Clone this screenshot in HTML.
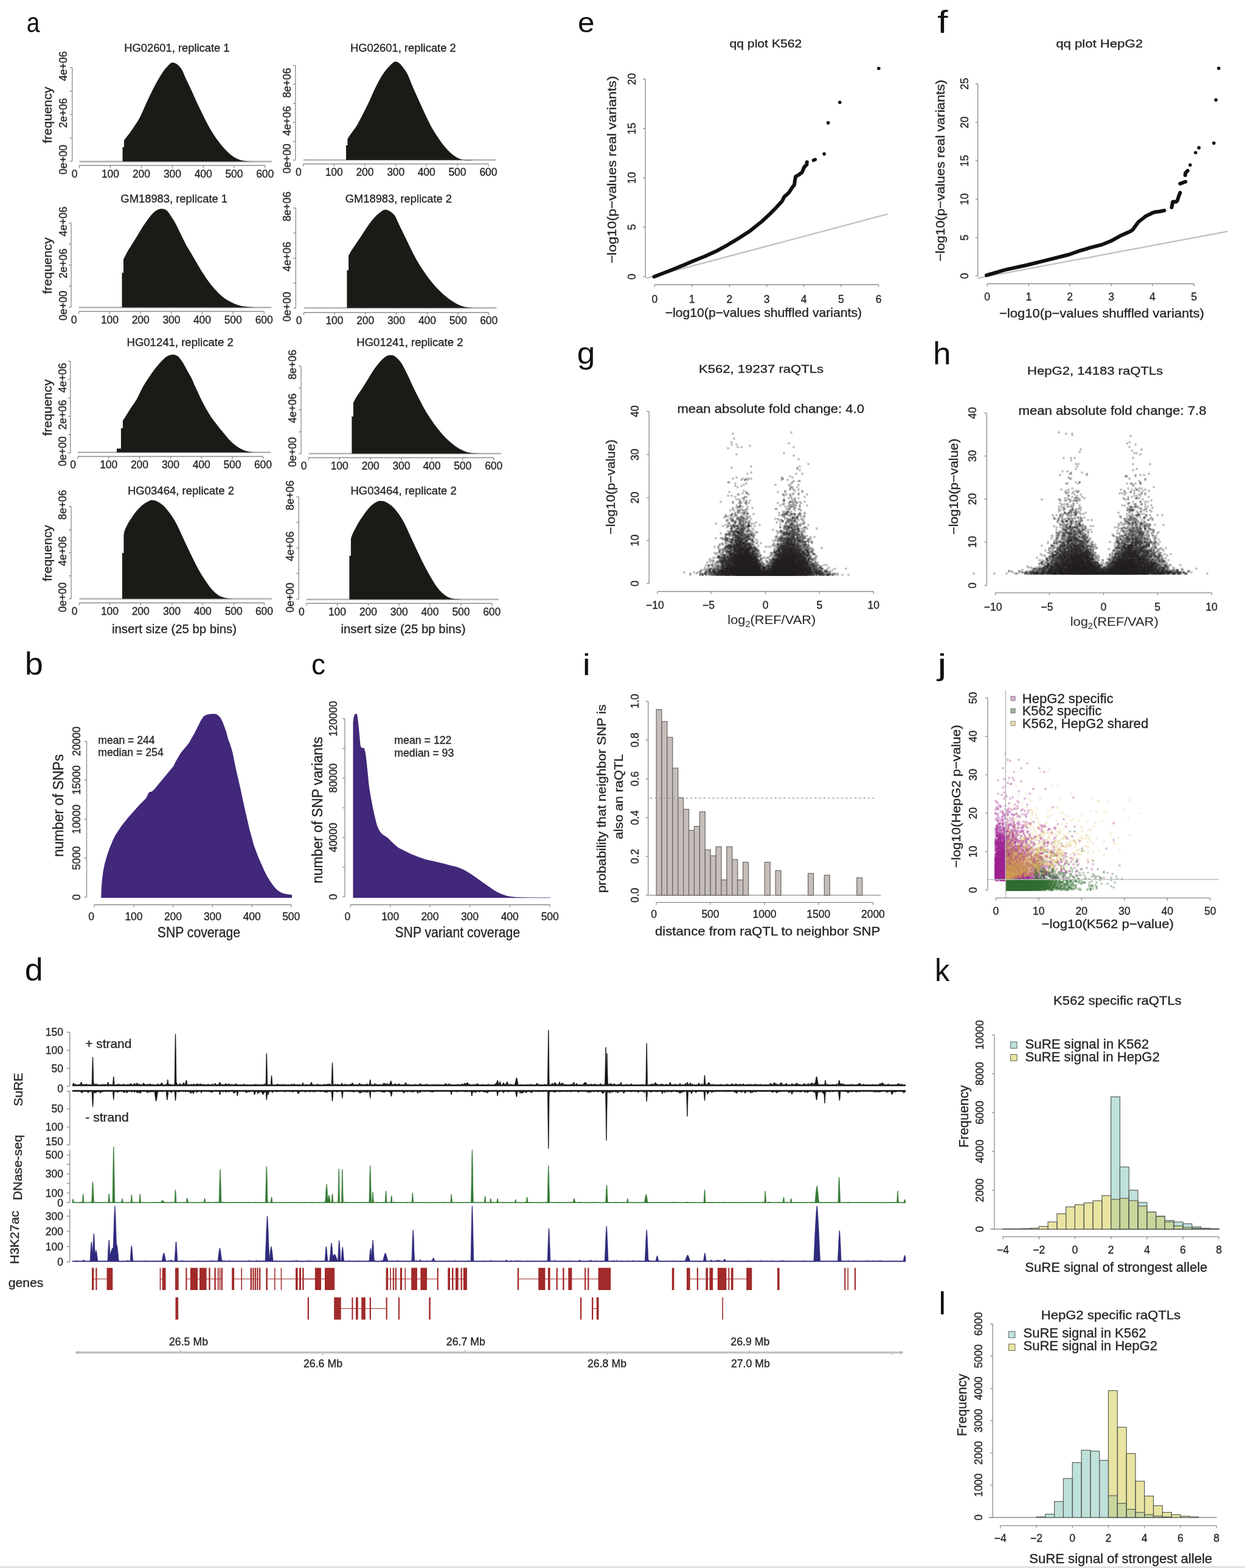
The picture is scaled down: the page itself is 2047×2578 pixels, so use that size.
<!DOCTYPE html>
<html><head><meta charset="utf-8"><title>Figure</title>
<style>html,body{margin:0;padding:0;background:#fff;overflow:hidden}svg{display:block}</style>
</head><body>
<svg xmlns="http://www.w3.org/2000/svg" width="2047" height="2578" viewBox="0 0 2047 2578" font-family="'Liberation Sans', Arial, sans-serif">
<style>text{stroke-width:0.35px}</style>
<rect width="2047" height="2578" fill="#fff"/>
<line x1="130.5" y1="265.6" x2="447" y2="265.6" stroke="#b4b4b4" stroke-width="2.6"/>
<path d="M201.5 265.6 L201.5 242 L203.9 242 L203.9 231C204.9 229.68 207.25 226.73 209.9 223.1C212.55 219.47 216.48 214.17 219.8 209.2C223.12 204.23 226.48 199.58 229.8 193.3C233.12 187.02 236.4 178.62 239.7 171.5C243 164.38 246.3 157.23 249.6 150.6C252.9 143.97 256.18 137.48 259.5 131.7C262.82 125.92 266.18 120.37 269.5 115.9C272.82 111.43 276.75 107.07 279.4 104.9C282.05 102.73 283.25 102.63 285.4 102.9C287.55 103.17 289.98 104.5 292.3 106.5C294.62 108.5 297.2 111.35 299.3 114.9C301.4 118.45 303.25 124.17 304.9 127.8C306.55 131.43 307.55 133.23 309.2 136.7C310.85 140.17 312.22 142.97 314.8 148.6C317.38 154.23 321.38 163.38 324.7 170.5C328.02 177.62 331.38 184.68 334.7 191.3C338.02 197.92 341.3 204.4 344.6 210.2C347.9 216 351.2 221.3 354.5 226.1C357.8 230.9 361.08 235.03 364.4 239C367.72 242.97 371.08 246.75 374.4 249.9C377.72 253.05 381 255.75 384.3 257.9C387.6 260.05 390.88 261.65 394.2 262.8C397.52 263.95 400.9 264.33 404.2 264.8C407.5 265.27 412.37 265.47 414 265.6Z" fill="#1c1a17"/>
<line x1="118.75" y1="111.25" x2="118.75" y2="265" stroke="#8a8a8a" stroke-width="1.3"/>
<line x1="114.75" y1="111.25" x2="118.75" y2="111.25" stroke="#8a8a8a" stroke-width="1.3"/>
<line x1="114.75" y1="150" x2="118.75" y2="150" stroke="#8a8a8a" stroke-width="1.3"/>
<line x1="114.75" y1="188.25" x2="118.75" y2="188.25" stroke="#8a8a8a" stroke-width="1.3"/>
<line x1="114.75" y1="227" x2="118.75" y2="227" stroke="#8a8a8a" stroke-width="1.3"/>
<line x1="114.75" y1="265" x2="118.75" y2="265" stroke="#8a8a8a" stroke-width="1.3"/>
<line x1="130.5" y1="272" x2="435.75" y2="272" stroke="#8a8a8a" stroke-width="1.3"/>
<line x1="130.5" y1="272" x2="130.5" y2="276" stroke="#8a8a8a" stroke-width="1.3"/>
<line x1="181.5" y1="272" x2="181.5" y2="276" stroke="#8a8a8a" stroke-width="1.3"/>
<line x1="232.5" y1="272" x2="232.5" y2="276" stroke="#8a8a8a" stroke-width="1.3"/>
<line x1="283.5" y1="272" x2="283.5" y2="276" stroke="#8a8a8a" stroke-width="1.3"/>
<line x1="334.25" y1="272" x2="334.25" y2="276" stroke="#8a8a8a" stroke-width="1.3"/>
<line x1="385" y1="272" x2="385" y2="276" stroke="#8a8a8a" stroke-width="1.3"/>
<line x1="435.75" y1="272" x2="435.75" y2="276" stroke="#8a8a8a" stroke-width="1.3"/>
<text x="109.9" y="262.5" font-size="17.5" text-anchor="middle" fill="#262626" stroke="#262626" transform="rotate(-90 109.9 262.5)">0e+00</text>
<text x="109.9" y="185.75" font-size="17.5" text-anchor="middle" fill="#262626" stroke="#262626" transform="rotate(-90 109.9 185.75)">2e+06</text>
<text x="109.9" y="108.75" font-size="17.5" text-anchor="middle" fill="#262626" stroke="#262626" transform="rotate(-90 109.9 108.75)">4e+06</text>
<text x="122.5" y="291.5" font-size="17.5" text-anchor="middle" fill="#262626" stroke="#262626">0</text>
<text x="181.5" y="291.5" font-size="17.5" text-anchor="middle" fill="#262626" stroke="#262626">100</text>
<text x="232.5" y="291.5" font-size="17.5" text-anchor="middle" fill="#262626" stroke="#262626">200</text>
<text x="283.5" y="291.5" font-size="17.5" text-anchor="middle" fill="#262626" stroke="#262626">300</text>
<text x="334.25" y="291.5" font-size="17.5" text-anchor="middle" fill="#262626" stroke="#262626">400</text>
<text x="385" y="291.5" font-size="17.5" text-anchor="middle" fill="#262626" stroke="#262626">500</text>
<text x="435.75" y="291.5" font-size="17.5" text-anchor="middle" fill="#262626" stroke="#262626">600</text>
<text x="290.9" y="84.6" font-size="17.5" text-anchor="middle" fill="#262626" stroke="#262626" textLength="173.3" lengthAdjust="spacingAndGlyphs">HG02601, replicate 1</text>
<text x="85" y="189.12" font-size="21" text-anchor="middle" fill="#262626" stroke="#262626" textLength="92.7" lengthAdjust="spacingAndGlyphs" transform="rotate(-90 85 189.12)">frequency</text>
<line x1="498.75" y1="263" x2="815" y2="263" stroke="#b4b4b4" stroke-width="2.6"/>
<path d="M569 263 L569 239 L571.4 239 L571.4 228.5C572.32 227.1 574.33 223.82 576.9 220.1C579.47 216.38 583.48 211.67 586.8 206.2C590.12 200.73 593.48 193.75 596.8 187.3C600.12 180.85 603.4 174.45 606.7 167.5C610 160.55 613.3 152.4 616.6 145.6C619.9 138.8 623.18 132.17 626.5 126.7C629.82 121.23 633.18 116.77 636.5 112.8C639.82 108.83 643.83 104.8 646.4 102.9C648.97 101 650.08 101.13 651.9 101.4C653.72 101.67 655.62 103.07 657.3 104.5C658.98 105.93 659.9 107.12 662 110C664.1 112.88 666.93 115.87 669.9 121.8C672.87 127.73 676.5 137.98 679.8 145.6C683.1 153.22 686.38 160.22 689.7 167.5C693.02 174.78 696.38 182.35 699.7 189.3C703.02 196.25 706.3 203.23 709.6 209.2C712.9 215.17 716.2 220.13 719.5 225.1C722.8 230.07 726.08 234.87 729.4 239C732.72 243.13 736.08 246.77 739.4 249.9C742.72 253.03 746 255.73 749.3 257.8C752.6 259.87 755.88 261.35 759.2 262.3C762.52 263.25 765.73 263.38 769.2 263.5C772.67 263.62 778.2 263.08 780 263Z" fill="#1c1a17"/>
<line x1="485.75" y1="107.5" x2="485.75" y2="263.25" stroke="#8a8a8a" stroke-width="1.3"/>
<line x1="481.75" y1="107.5" x2="485.75" y2="107.5" stroke="#8a8a8a" stroke-width="1.3"/>
<line x1="481.75" y1="138.75" x2="485.75" y2="138.75" stroke="#8a8a8a" stroke-width="1.3"/>
<line x1="481.75" y1="170" x2="485.75" y2="170" stroke="#8a8a8a" stroke-width="1.3"/>
<line x1="481.75" y1="201.25" x2="485.75" y2="201.25" stroke="#8a8a8a" stroke-width="1.3"/>
<line x1="481.75" y1="232.5" x2="485.75" y2="232.5" stroke="#8a8a8a" stroke-width="1.3"/>
<line x1="481.75" y1="263.25" x2="485.75" y2="263.25" stroke="#8a8a8a" stroke-width="1.3"/>
<line x1="498.75" y1="269.5" x2="803" y2="269.5" stroke="#8a8a8a" stroke-width="1.3"/>
<line x1="498.75" y1="269.5" x2="498.75" y2="273.5" stroke="#8a8a8a" stroke-width="1.3"/>
<line x1="549.25" y1="269.5" x2="549.25" y2="273.5" stroke="#8a8a8a" stroke-width="1.3"/>
<line x1="600" y1="269.5" x2="600" y2="273.5" stroke="#8a8a8a" stroke-width="1.3"/>
<line x1="650.75" y1="269.5" x2="650.75" y2="273.5" stroke="#8a8a8a" stroke-width="1.3"/>
<line x1="701.25" y1="269.5" x2="701.25" y2="273.5" stroke="#8a8a8a" stroke-width="1.3"/>
<line x1="752" y1="269.5" x2="752" y2="273.5" stroke="#8a8a8a" stroke-width="1.3"/>
<line x1="803" y1="269.5" x2="803" y2="273.5" stroke="#8a8a8a" stroke-width="1.3"/>
<text x="478.2" y="260.75" font-size="17.5" text-anchor="middle" fill="#262626" stroke="#262626" transform="rotate(-90 478.2 260.75)">0e+00</text>
<text x="478.2" y="198.75" font-size="17.5" text-anchor="middle" fill="#262626" stroke="#262626" transform="rotate(-90 478.2 198.75)">4e+06</text>
<text x="478.2" y="136.25" font-size="17.5" text-anchor="middle" fill="#262626" stroke="#262626" transform="rotate(-90 478.2 136.25)">8e+06</text>
<text x="490.75" y="289" font-size="17.5" text-anchor="middle" fill="#262626" stroke="#262626">0</text>
<text x="549.25" y="289" font-size="17.5" text-anchor="middle" fill="#262626" stroke="#262626">100</text>
<text x="600" y="289" font-size="17.5" text-anchor="middle" fill="#262626" stroke="#262626">200</text>
<text x="650.75" y="289" font-size="17.5" text-anchor="middle" fill="#262626" stroke="#262626">300</text>
<text x="701.25" y="289" font-size="17.5" text-anchor="middle" fill="#262626" stroke="#262626">400</text>
<text x="752" y="289" font-size="17.5" text-anchor="middle" fill="#262626" stroke="#262626">500</text>
<text x="803" y="289" font-size="17.5" text-anchor="middle" fill="#262626" stroke="#262626">600</text>
<text x="662.9" y="85.2" font-size="17.5" text-anchor="middle" fill="#262626" stroke="#262626" textLength="173.8" lengthAdjust="spacingAndGlyphs">HG02601, replicate 2</text>
<line x1="129.5" y1="505.5" x2="446.25" y2="505.5" stroke="#b4b4b4" stroke-width="2.6"/>
<path d="M200.5 505.5 L200.5 448.5 L203 448.5 L203 426.1C203.52 425.17 205 422.6 206.1 420.5C207.2 418.4 208.2 415.95 209.6 413.5C211 411.05 212.52 408.95 214.5 405.8C216.48 402.65 219.15 398.45 221.5 394.6C223.85 390.75 226.25 386.57 228.6 382.7C230.95 378.83 233.27 374.92 235.6 371.4C237.93 367.88 240.27 364.75 242.6 361.6C244.93 358.45 247.27 355.07 249.6 352.5C251.93 349.93 254.27 347.72 256.6 346.2C258.93 344.68 261.27 343.75 263.6 343.4C265.93 343.05 268.5 343.28 270.6 344.1C272.7 344.92 274.45 346.43 276.2 348.3C277.95 350.17 279.12 352.27 281.1 355.3C283.08 358.33 285.77 362.28 288.1 366.5C290.43 370.72 292.95 376.27 295.1 380.6C297.25 384.93 299.02 388.52 301 392.5C302.98 396.48 304.83 400.58 307 404.5C309.17 408.42 311.67 412.08 314 416C316.33 419.92 318.67 424.02 321 428C323.33 431.98 325.67 436.05 328 439.9C330.33 443.75 332.67 447.48 335 451.1C337.33 454.72 339.65 458.33 342 461.6C344.35 464.87 346.75 467.9 349.1 470.7C351.45 473.5 353.77 475.95 356.1 478.4C358.43 480.85 360.77 483.3 363.1 485.4C365.43 487.5 367.77 489.37 370.1 491C372.43 492.63 374.77 493.92 377.1 495.2C379.43 496.48 381.77 497.65 384.1 498.7C386.43 499.75 388.77 500.73 391.1 501.5C393.43 502.27 395.77 502.83 398.1 503.3C400.43 503.77 402.28 503.98 405.1 504.3C407.92 504.62 411.68 505 415 505.2C418.32 505.4 423.33 505.45 425 505.5Z" fill="#1c1a17"/>
<line x1="117" y1="366.75" x2="117" y2="505" stroke="#8a8a8a" stroke-width="1.3"/>
<line x1="113" y1="366.75" x2="117" y2="366.75" stroke="#8a8a8a" stroke-width="1.3"/>
<line x1="113" y1="401.25" x2="117" y2="401.25" stroke="#8a8a8a" stroke-width="1.3"/>
<line x1="113" y1="435.75" x2="117" y2="435.75" stroke="#8a8a8a" stroke-width="1.3"/>
<line x1="113" y1="470.5" x2="117" y2="470.5" stroke="#8a8a8a" stroke-width="1.3"/>
<line x1="113" y1="505" x2="117" y2="505" stroke="#8a8a8a" stroke-width="1.3"/>
<line x1="129.5" y1="512" x2="434.25" y2="512" stroke="#8a8a8a" stroke-width="1.3"/>
<line x1="129.5" y1="512" x2="129.5" y2="516" stroke="#8a8a8a" stroke-width="1.3"/>
<line x1="180.5" y1="512" x2="180.5" y2="516" stroke="#8a8a8a" stroke-width="1.3"/>
<line x1="231.25" y1="512" x2="231.25" y2="516" stroke="#8a8a8a" stroke-width="1.3"/>
<line x1="282" y1="512" x2="282" y2="516" stroke="#8a8a8a" stroke-width="1.3"/>
<line x1="332.5" y1="512" x2="332.5" y2="516" stroke="#8a8a8a" stroke-width="1.3"/>
<line x1="383.25" y1="512" x2="383.25" y2="516" stroke="#8a8a8a" stroke-width="1.3"/>
<line x1="434.25" y1="512" x2="434.25" y2="516" stroke="#8a8a8a" stroke-width="1.3"/>
<text x="109.9" y="502.5" font-size="17.5" text-anchor="middle" fill="#262626" stroke="#262626" transform="rotate(-90 109.9 502.5)">0e+00</text>
<text x="109.9" y="433.25" font-size="17.5" text-anchor="middle" fill="#262626" stroke="#262626" transform="rotate(-90 109.9 433.25)">2e+06</text>
<text x="109.9" y="364.25" font-size="17.5" text-anchor="middle" fill="#262626" stroke="#262626" transform="rotate(-90 109.9 364.25)">4e+06</text>
<text x="121.5" y="531.5" font-size="17.5" text-anchor="middle" fill="#262626" stroke="#262626">0</text>
<text x="180.5" y="531.5" font-size="17.5" text-anchor="middle" fill="#262626" stroke="#262626">100</text>
<text x="231.25" y="531.5" font-size="17.5" text-anchor="middle" fill="#262626" stroke="#262626">200</text>
<text x="282" y="531.5" font-size="17.5" text-anchor="middle" fill="#262626" stroke="#262626">300</text>
<text x="332.5" y="531.5" font-size="17.5" text-anchor="middle" fill="#262626" stroke="#262626">400</text>
<text x="383.25" y="531.5" font-size="17.5" text-anchor="middle" fill="#262626" stroke="#262626">500</text>
<text x="434.25" y="531.5" font-size="17.5" text-anchor="middle" fill="#262626" stroke="#262626">600</text>
<text x="286.2" y="333.2" font-size="17.5" text-anchor="middle" fill="#262626" stroke="#262626" textLength="175.7" lengthAdjust="spacingAndGlyphs">GM18983, replicate 1</text>
<text x="85" y="436.88" font-size="21" text-anchor="middle" fill="#262626" stroke="#262626" textLength="92.7" lengthAdjust="spacingAndGlyphs" transform="rotate(-90 85 436.88)">frequency</text>
<line x1="499.5" y1="506.25" x2="816.25" y2="506.25" stroke="#b4b4b4" stroke-width="2.6"/>
<path d="M570.4 506.25 L570.4 444.2 L573.1 444.2 L573.1 420.4C573.73 419.25 574.62 417.13 576.9 413.5C579.18 409.87 583.48 403.57 586.8 398.6C590.12 393.63 593.48 388.67 596.8 383.7C600.12 378.73 603.4 373.35 606.7 368.8C610 364.25 613.3 359.88 616.6 356.4C619.9 352.92 623.85 349.82 626.5 347.9C629.15 345.98 630.33 345.15 632.5 344.9C634.67 344.65 637.18 345.3 639.5 346.4C641.82 347.5 644.65 349.9 646.4 351.5C648.15 353.1 648.35 353 650 356C651.65 359 653.58 363.83 656.3 369.5C659.02 375.17 662.98 383.17 666.3 390C669.62 396.83 672.9 403.95 676.2 410.5C679.5 417.05 682.78 423.55 686.1 429.3C689.42 435.05 692.78 440.05 696.1 445C699.42 449.95 702.7 454.67 706 459C709.3 463.33 712.58 467.33 715.9 471C719.22 474.67 722.72 478 725.9 481C729.08 484 731.82 486.5 735 489C738.18 491.5 741.67 493.92 745 496C748.33 498.08 751.67 500.05 755 501.5C758.33 502.95 761.67 503.95 765 504.7C768.33 505.45 771.67 505.74 775 506C778.33 506.26 783.33 506.21 785 506.25Z" fill="#1c1a17"/>
<line x1="486.25" y1="342" x2="486.25" y2="506.75" stroke="#8a8a8a" stroke-width="1.3"/>
<line x1="482.25" y1="342" x2="486.25" y2="342" stroke="#8a8a8a" stroke-width="1.3"/>
<line x1="482.25" y1="383.25" x2="486.25" y2="383.25" stroke="#8a8a8a" stroke-width="1.3"/>
<line x1="482.25" y1="424.5" x2="486.25" y2="424.5" stroke="#8a8a8a" stroke-width="1.3"/>
<line x1="482.25" y1="465.5" x2="486.25" y2="465.5" stroke="#8a8a8a" stroke-width="1.3"/>
<line x1="482.25" y1="506.75" x2="486.25" y2="506.75" stroke="#8a8a8a" stroke-width="1.3"/>
<line x1="499.5" y1="513.75" x2="803.75" y2="513.75" stroke="#8a8a8a" stroke-width="1.3"/>
<line x1="499.5" y1="513.75" x2="499.5" y2="517.75" stroke="#8a8a8a" stroke-width="1.3"/>
<line x1="550" y1="513.75" x2="550" y2="517.75" stroke="#8a8a8a" stroke-width="1.3"/>
<line x1="600.75" y1="513.75" x2="600.75" y2="517.75" stroke="#8a8a8a" stroke-width="1.3"/>
<line x1="651.5" y1="513.75" x2="651.5" y2="517.75" stroke="#8a8a8a" stroke-width="1.3"/>
<line x1="702.5" y1="513.75" x2="702.5" y2="517.75" stroke="#8a8a8a" stroke-width="1.3"/>
<line x1="753.25" y1="513.75" x2="753.25" y2="517.75" stroke="#8a8a8a" stroke-width="1.3"/>
<line x1="803.75" y1="513.75" x2="803.75" y2="517.75" stroke="#8a8a8a" stroke-width="1.3"/>
<text x="478.2" y="504.25" font-size="17.5" text-anchor="middle" fill="#262626" stroke="#262626" transform="rotate(-90 478.2 504.25)">0e+00</text>
<text x="478.2" y="422" font-size="17.5" text-anchor="middle" fill="#262626" stroke="#262626" transform="rotate(-90 478.2 422)">4e+06</text>
<text x="478.2" y="339.5" font-size="17.5" text-anchor="middle" fill="#262626" stroke="#262626" transform="rotate(-90 478.2 339.5)">8e+06</text>
<text x="491.5" y="533.25" font-size="17.5" text-anchor="middle" fill="#262626" stroke="#262626">0</text>
<text x="550" y="533.25" font-size="17.5" text-anchor="middle" fill="#262626" stroke="#262626">100</text>
<text x="600.75" y="533.25" font-size="17.5" text-anchor="middle" fill="#262626" stroke="#262626">200</text>
<text x="651.5" y="533.25" font-size="17.5" text-anchor="middle" fill="#262626" stroke="#262626">300</text>
<text x="702.5" y="533.25" font-size="17.5" text-anchor="middle" fill="#262626" stroke="#262626">400</text>
<text x="753.25" y="533.25" font-size="17.5" text-anchor="middle" fill="#262626" stroke="#262626">500</text>
<text x="803.75" y="533.25" font-size="17.5" text-anchor="middle" fill="#262626" stroke="#262626">600</text>
<text x="655.4" y="333" font-size="17.5" text-anchor="middle" fill="#262626" stroke="#262626" textLength="175.3" lengthAdjust="spacingAndGlyphs">GM18983, replicate 2</text>
<line x1="128" y1="743.75" x2="445" y2="743.75" stroke="#b4b4b4" stroke-width="2.6"/>
<path d="M192 743.75 L192 737.5 L198.9 737.5 L198.9 704 L201.9 704 L201.9 691.2C202.4 690.53 202.75 690.52 204.9 687.2C207.05 683.88 211.5 676.43 214.8 671.3C218.1 666.17 221.38 662.18 224.7 656.4C228.02 650.62 231.38 642.55 234.7 636.6C238.02 630.65 241.3 625.67 244.6 620.7C247.9 615.73 251.2 611.1 254.5 606.8C257.8 602.5 261.08 598.38 264.4 594.9C267.72 591.42 271.08 587.9 274.4 585.9C277.72 583.9 281.33 582.97 284.3 582.9C287.27 582.83 289.72 583.65 292.2 585.5C294.68 587.35 297.1 591 299.2 594C301.3 597 303.15 600.58 304.8 603.5C306.45 606.42 307.43 608.5 309.1 611.5C310.77 614.5 313.13 618.17 314.8 621.5C316.47 624.83 317.45 627.83 319.1 631.5C320.75 635.17 323.05 639.92 324.7 643.5C326.35 647.08 327.35 649.58 329 653C330.65 656.42 332.95 660.83 334.6 664C336.25 667.17 337.25 669.08 338.9 672C340.55 674.92 342.83 678.83 344.5 681.5C346.17 684.17 347.23 685.67 348.9 688C350.57 690.33 351.92 692.15 354.5 695.5C357.08 698.85 361.1 704.02 364.4 708.1C367.7 712.18 370.98 716.37 374.3 720C377.62 723.63 380.98 727.08 384.3 729.9C387.62 732.72 390.9 735 394.2 736.9C397.5 738.8 400.78 740.23 404.1 741.3C407.42 742.37 411.45 742.89 414.1 743.3C416.75 743.71 419.02 743.67 420 743.75Z" fill="#1c1a17"/>
<line x1="115.75" y1="593.75" x2="115.75" y2="744.5" stroke="#8a8a8a" stroke-width="1.3"/>
<line x1="111.75" y1="593.75" x2="115.75" y2="593.75" stroke="#8a8a8a" stroke-width="1.3"/>
<line x1="111.75" y1="623.75" x2="115.75" y2="623.75" stroke="#8a8a8a" stroke-width="1.3"/>
<line x1="111.75" y1="654.25" x2="115.75" y2="654.25" stroke="#8a8a8a" stroke-width="1.3"/>
<line x1="111.75" y1="684.5" x2="115.75" y2="684.5" stroke="#8a8a8a" stroke-width="1.3"/>
<line x1="111.75" y1="714.5" x2="115.75" y2="714.5" stroke="#8a8a8a" stroke-width="1.3"/>
<line x1="111.75" y1="744.5" x2="115.75" y2="744.5" stroke="#8a8a8a" stroke-width="1.3"/>
<line x1="128" y1="750.5" x2="432.5" y2="750.5" stroke="#8a8a8a" stroke-width="1.3"/>
<line x1="128" y1="750.5" x2="128" y2="754.5" stroke="#8a8a8a" stroke-width="1.3"/>
<line x1="178.75" y1="750.5" x2="178.75" y2="754.5" stroke="#8a8a8a" stroke-width="1.3"/>
<line x1="229.5" y1="750.5" x2="229.5" y2="754.5" stroke="#8a8a8a" stroke-width="1.3"/>
<line x1="280.5" y1="750.5" x2="280.5" y2="754.5" stroke="#8a8a8a" stroke-width="1.3"/>
<line x1="331.25" y1="750.5" x2="331.25" y2="754.5" stroke="#8a8a8a" stroke-width="1.3"/>
<line x1="382" y1="750.5" x2="382" y2="754.5" stroke="#8a8a8a" stroke-width="1.3"/>
<line x1="432.5" y1="750.5" x2="432.5" y2="754.5" stroke="#8a8a8a" stroke-width="1.3"/>
<text x="109.3" y="742" font-size="17.5" text-anchor="middle" fill="#262626" stroke="#262626" transform="rotate(-90 109.3 742)">0e+00</text>
<text x="109.3" y="682" font-size="17.5" text-anchor="middle" fill="#262626" stroke="#262626" transform="rotate(-90 109.3 682)">2e+06</text>
<text x="109.3" y="621.25" font-size="17.5" text-anchor="middle" fill="#262626" stroke="#262626" transform="rotate(-90 109.3 621.25)">4e+06</text>
<text x="120" y="770" font-size="17.5" text-anchor="middle" fill="#262626" stroke="#262626">0</text>
<text x="178.75" y="770" font-size="17.5" text-anchor="middle" fill="#262626" stroke="#262626">100</text>
<text x="229.5" y="770" font-size="17.5" text-anchor="middle" fill="#262626" stroke="#262626">200</text>
<text x="280.5" y="770" font-size="17.5" text-anchor="middle" fill="#262626" stroke="#262626">300</text>
<text x="331.25" y="770" font-size="17.5" text-anchor="middle" fill="#262626" stroke="#262626">400</text>
<text x="382" y="770" font-size="17.5" text-anchor="middle" fill="#262626" stroke="#262626">500</text>
<text x="432.5" y="770" font-size="17.5" text-anchor="middle" fill="#262626" stroke="#262626">600</text>
<text x="296.1" y="569" font-size="17.5" text-anchor="middle" fill="#262626" stroke="#262626" textLength="175.2" lengthAdjust="spacingAndGlyphs">HG01241, replicate 2</text>
<text x="85" y="670.12" font-size="21" text-anchor="middle" fill="#262626" stroke="#262626" textLength="92.7" lengthAdjust="spacingAndGlyphs" transform="rotate(-90 85 670.12)">frequency</text>
<line x1="507.5" y1="745.75" x2="823.75" y2="745.75" stroke="#b4b4b4" stroke-width="2.6"/>
<path d="M578.4 745.75 L578.4 684.7 L580.9 684.7 L580.9 662.4C581.57 661.07 582.58 658.22 584.9 654.4C587.22 650.58 591.48 644.62 594.8 639.5C598.12 634.38 601.48 628.98 604.8 623.7C608.12 618.42 611.4 612.6 614.7 607.8C618 603 621.3 598.55 624.6 594.9C627.9 591.25 631.52 587.73 634.5 585.9C637.48 584.07 640.02 583.9 642.5 583.9C644.98 583.9 646.57 583.83 649.4 585.9C652.23 587.97 656.15 591.45 659.5 596.3C662.85 601.15 666.17 608.3 669.5 615C672.83 621.7 676.17 629.58 679.5 636.5C682.83 643.42 686.17 650.03 689.5 656.5C692.83 662.97 696.17 669.6 699.5 675.3C702.83 681 706.17 685.82 709.5 690.7C712.83 695.58 716.17 700.3 719.5 704.6C722.83 708.9 726.18 712.93 729.5 716.5C732.82 720.07 736.08 723.1 739.4 726C742.72 728.9 746.08 731.6 749.4 733.9C752.72 736.2 756 738.15 759.3 739.8C762.6 741.45 765.88 742.88 769.2 743.8C772.52 744.72 775.73 744.97 779.2 745.3C782.67 745.62 788.2 745.67 790 745.75Z" fill="#1c1a17"/>
<line x1="495" y1="602" x2="495" y2="745.75" stroke="#8a8a8a" stroke-width="1.3"/>
<line x1="491" y1="602" x2="495" y2="602" stroke="#8a8a8a" stroke-width="1.3"/>
<line x1="491" y1="638" x2="495" y2="638" stroke="#8a8a8a" stroke-width="1.3"/>
<line x1="491" y1="673.75" x2="495" y2="673.75" stroke="#8a8a8a" stroke-width="1.3"/>
<line x1="491" y1="710" x2="495" y2="710" stroke="#8a8a8a" stroke-width="1.3"/>
<line x1="491" y1="745.75" x2="495" y2="745.75" stroke="#8a8a8a" stroke-width="1.3"/>
<line x1="507.5" y1="752.5" x2="811.75" y2="752.5" stroke="#8a8a8a" stroke-width="1.3"/>
<line x1="507.5" y1="752.5" x2="507.5" y2="756.5" stroke="#8a8a8a" stroke-width="1.3"/>
<line x1="558.25" y1="752.5" x2="558.25" y2="756.5" stroke="#8a8a8a" stroke-width="1.3"/>
<line x1="609.25" y1="752.5" x2="609.25" y2="756.5" stroke="#8a8a8a" stroke-width="1.3"/>
<line x1="660" y1="752.5" x2="660" y2="756.5" stroke="#8a8a8a" stroke-width="1.3"/>
<line x1="710" y1="752.5" x2="710" y2="756.5" stroke="#8a8a8a" stroke-width="1.3"/>
<line x1="760.75" y1="752.5" x2="760.75" y2="756.5" stroke="#8a8a8a" stroke-width="1.3"/>
<line x1="811.75" y1="752.5" x2="811.75" y2="756.5" stroke="#8a8a8a" stroke-width="1.3"/>
<text x="486.9" y="743.25" font-size="17.5" text-anchor="middle" fill="#262626" stroke="#262626" transform="rotate(-90 486.9 743.25)">0e+00</text>
<text x="486.9" y="671.25" font-size="17.5" text-anchor="middle" fill="#262626" stroke="#262626" transform="rotate(-90 486.9 671.25)">4e+06</text>
<text x="486.9" y="599.5" font-size="17.5" text-anchor="middle" fill="#262626" stroke="#262626" transform="rotate(-90 486.9 599.5)">8e+06</text>
<text x="499.5" y="772" font-size="17.5" text-anchor="middle" fill="#262626" stroke="#262626">0</text>
<text x="558.25" y="772" font-size="17.5" text-anchor="middle" fill="#262626" stroke="#262626">100</text>
<text x="609.25" y="772" font-size="17.5" text-anchor="middle" fill="#262626" stroke="#262626">200</text>
<text x="660" y="772" font-size="17.5" text-anchor="middle" fill="#262626" stroke="#262626">300</text>
<text x="710" y="772" font-size="17.5" text-anchor="middle" fill="#262626" stroke="#262626">400</text>
<text x="760.75" y="772" font-size="17.5" text-anchor="middle" fill="#262626" stroke="#262626">500</text>
<text x="811.75" y="772" font-size="17.5" text-anchor="middle" fill="#262626" stroke="#262626">600</text>
<text x="673.9" y="569" font-size="17.5" text-anchor="middle" fill="#262626" stroke="#262626" textLength="175.2" lengthAdjust="spacingAndGlyphs">HG01241, replicate 2</text>
<line x1="130.5" y1="984.5" x2="447" y2="984.5" stroke="#b4b4b4" stroke-width="2.6"/>
<path d="M200.9 984.5 L200.9 909.3 L203.4 909.3 L203.4 880.5C203.65 879.18 203.82 875.73 204.9 872.6C205.98 869.47 208.25 864.85 209.9 861.7C211.55 858.55 212.32 857.35 214.8 853.7C217.28 850.05 221.48 843.77 224.8 839.8C228.12 835.83 231.4 832.55 234.7 829.9C238 827.25 241.78 825.15 244.6 823.9C247.42 822.65 249.12 822.23 251.6 822.4C254.08 822.57 256.53 823.32 259.5 824.9C262.47 826.48 266.05 828.67 269.4 831.9C272.75 835.13 276.23 839.58 279.6 844.3C282.97 849.02 286.28 854.08 289.6 860.2C292.92 866.32 296.18 873.97 299.5 881C302.82 888.03 306.18 895.45 309.5 902.4C312.82 909.35 316.08 916.17 319.4 922.7C322.72 929.23 326.08 935.88 329.4 941.6C332.72 947.32 336 952.27 339.3 957C342.6 961.73 345.85 966.37 349.2 970C352.55 973.63 356.03 976.67 359.4 978.8C362.77 980.93 366.08 981.88 369.4 982.8C372.72 983.72 375.87 984.02 379.3 984.3C382.73 984.58 388.22 984.47 390 984.5Z" fill="#1c1a17"/>
<line x1="117" y1="832.5" x2="117" y2="984.5" stroke="#8a8a8a" stroke-width="1.3"/>
<line x1="113" y1="832.5" x2="117" y2="832.5" stroke="#8a8a8a" stroke-width="1.3"/>
<line x1="113" y1="871.25" x2="117" y2="871.25" stroke="#8a8a8a" stroke-width="1.3"/>
<line x1="113" y1="908.75" x2="117" y2="908.75" stroke="#8a8a8a" stroke-width="1.3"/>
<line x1="113" y1="946.75" x2="117" y2="946.75" stroke="#8a8a8a" stroke-width="1.3"/>
<line x1="113" y1="984.5" x2="117" y2="984.5" stroke="#8a8a8a" stroke-width="1.3"/>
<line x1="130.5" y1="991.25" x2="434.5" y2="991.25" stroke="#8a8a8a" stroke-width="1.3"/>
<line x1="130.5" y1="991.25" x2="130.5" y2="995.25" stroke="#8a8a8a" stroke-width="1.3"/>
<line x1="180.5" y1="991.25" x2="180.5" y2="995.25" stroke="#8a8a8a" stroke-width="1.3"/>
<line x1="231.25" y1="991.25" x2="231.25" y2="995.25" stroke="#8a8a8a" stroke-width="1.3"/>
<line x1="282.5" y1="991.25" x2="282.5" y2="995.25" stroke="#8a8a8a" stroke-width="1.3"/>
<line x1="333.25" y1="991.25" x2="333.25" y2="995.25" stroke="#8a8a8a" stroke-width="1.3"/>
<line x1="384.25" y1="991.25" x2="384.25" y2="995.25" stroke="#8a8a8a" stroke-width="1.3"/>
<line x1="434.5" y1="991.25" x2="434.5" y2="995.25" stroke="#8a8a8a" stroke-width="1.3"/>
<text x="109.3" y="982" font-size="17.5" text-anchor="middle" fill="#262626" stroke="#262626" transform="rotate(-90 109.3 982)">0e+00</text>
<text x="109.3" y="906.25" font-size="17.5" text-anchor="middle" fill="#262626" stroke="#262626" transform="rotate(-90 109.3 906.25)">4e+06</text>
<text x="109.3" y="830" font-size="17.5" text-anchor="middle" fill="#262626" stroke="#262626" transform="rotate(-90 109.3 830)">8e+06</text>
<text x="122.5" y="1010.75" font-size="17.5" text-anchor="middle" fill="#262626" stroke="#262626">0</text>
<text x="180.5" y="1010.75" font-size="17.5" text-anchor="middle" fill="#262626" stroke="#262626">100</text>
<text x="231.25" y="1010.75" font-size="17.5" text-anchor="middle" fill="#262626" stroke="#262626">200</text>
<text x="282.5" y="1010.75" font-size="17.5" text-anchor="middle" fill="#262626" stroke="#262626">300</text>
<text x="333.25" y="1010.75" font-size="17.5" text-anchor="middle" fill="#262626" stroke="#262626">400</text>
<text x="384.25" y="1010.75" font-size="17.5" text-anchor="middle" fill="#262626" stroke="#262626">500</text>
<text x="434.5" y="1010.75" font-size="17.5" text-anchor="middle" fill="#262626" stroke="#262626">600</text>
<text x="297.5" y="813" font-size="17.5" text-anchor="middle" fill="#262626" stroke="#262626" textLength="175" lengthAdjust="spacingAndGlyphs">HG03464, replicate 2</text>
<text x="85" y="909.5" font-size="21" text-anchor="middle" fill="#262626" stroke="#262626" textLength="92.7" lengthAdjust="spacingAndGlyphs" transform="rotate(-90 85 909.5)">frequency</text>
<line x1="503.75" y1="985.5" x2="820" y2="985.5" stroke="#b4b4b4" stroke-width="2.6"/>
<path d="M574.4 985.5 L574.4 913.8 L576.9 913.8 L576.9 885.5C577.4 884.17 578.57 880.48 579.9 877.5C581.23 874.52 583.25 870.73 584.9 867.6C586.55 864.47 587.32 862.67 589.8 858.7C592.28 854.73 596.48 848.27 599.8 843.8C603.12 839.33 606.4 835.05 609.7 831.9C613 828.75 616.78 826.32 619.6 824.9C622.42 823.48 624.12 823.32 626.6 823.4C629.08 823.48 631.53 823.98 634.5 825.4C637.47 826.82 641.05 828.83 644.4 831.9C647.75 834.97 651.23 839.17 654.6 843.8C657.97 848.43 661.28 853.5 664.6 859.7C667.92 865.9 671.18 873.88 674.5 881C677.82 888.12 681.18 895.37 684.5 902.4C687.82 909.43 691.1 916.58 694.4 923.2C697.7 929.82 700.98 936.13 704.3 942.1C707.62 948.07 710.98 954.02 714.3 959C717.62 963.98 720.85 968.42 724.2 972C727.55 975.58 731.03 978.45 734.4 980.5C737.77 982.55 741.08 983.5 744.4 984.3C747.72 985.1 750.87 985.1 754.3 985.3C757.73 985.5 763.22 985.47 765 985.5Z" fill="#1c1a17"/>
<line x1="491.25" y1="817" x2="491.25" y2="985" stroke="#8a8a8a" stroke-width="1.3"/>
<line x1="487.25" y1="817" x2="491.25" y2="817" stroke="#8a8a8a" stroke-width="1.3"/>
<line x1="487.25" y1="858.75" x2="491.25" y2="858.75" stroke="#8a8a8a" stroke-width="1.3"/>
<line x1="487.25" y1="900.75" x2="491.25" y2="900.75" stroke="#8a8a8a" stroke-width="1.3"/>
<line x1="487.25" y1="942.5" x2="491.25" y2="942.5" stroke="#8a8a8a" stroke-width="1.3"/>
<line x1="487.25" y1="985" x2="491.25" y2="985" stroke="#8a8a8a" stroke-width="1.3"/>
<line x1="503.75" y1="992" x2="808.75" y2="992" stroke="#8a8a8a" stroke-width="1.3"/>
<line x1="503.75" y1="992" x2="503.75" y2="996" stroke="#8a8a8a" stroke-width="1.3"/>
<line x1="554.5" y1="992" x2="554.5" y2="996" stroke="#8a8a8a" stroke-width="1.3"/>
<line x1="605.5" y1="992" x2="605.5" y2="996" stroke="#8a8a8a" stroke-width="1.3"/>
<line x1="656.25" y1="992" x2="656.25" y2="996" stroke="#8a8a8a" stroke-width="1.3"/>
<line x1="707" y1="992" x2="707" y2="996" stroke="#8a8a8a" stroke-width="1.3"/>
<line x1="758" y1="992" x2="758" y2="996" stroke="#8a8a8a" stroke-width="1.3"/>
<line x1="808.75" y1="992" x2="808.75" y2="996" stroke="#8a8a8a" stroke-width="1.3"/>
<text x="482.9" y="982.5" font-size="17.5" text-anchor="middle" fill="#262626" stroke="#262626" transform="rotate(-90 482.9 982.5)">0e+00</text>
<text x="482.9" y="898.25" font-size="17.5" text-anchor="middle" fill="#262626" stroke="#262626" transform="rotate(-90 482.9 898.25)">4e+06</text>
<text x="482.9" y="814.5" font-size="17.5" text-anchor="middle" fill="#262626" stroke="#262626" transform="rotate(-90 482.9 814.5)">8e+06</text>
<text x="495.75" y="1011.5" font-size="17.5" text-anchor="middle" fill="#262626" stroke="#262626">0</text>
<text x="554.5" y="1011.5" font-size="17.5" text-anchor="middle" fill="#262626" stroke="#262626">100</text>
<text x="605.5" y="1011.5" font-size="17.5" text-anchor="middle" fill="#262626" stroke="#262626">200</text>
<text x="656.25" y="1011.5" font-size="17.5" text-anchor="middle" fill="#262626" stroke="#262626">300</text>
<text x="707" y="1011.5" font-size="17.5" text-anchor="middle" fill="#262626" stroke="#262626">400</text>
<text x="758" y="1011.5" font-size="17.5" text-anchor="middle" fill="#262626" stroke="#262626">500</text>
<text x="808.75" y="1011.5" font-size="17.5" text-anchor="middle" fill="#262626" stroke="#262626">600</text>
<text x="663.6" y="813" font-size="17.5" text-anchor="middle" fill="#262626" stroke="#262626" textLength="174.2" lengthAdjust="spacingAndGlyphs">HG03464, replicate 2</text>
<text transform="matrix(0.85 0 0 1 43.75 53.34)" font-size="45.64" fill="#111">a</text>
<text x="286.5" y="1041" font-size="20.5" text-anchor="middle" fill="#262626" stroke="#262626" textLength="205" lengthAdjust="spacingAndGlyphs">insert size (25 bp bins)</text>
<text x="663" y="1041" font-size="20.5" text-anchor="middle" fill="#262626" stroke="#262626" textLength="205" lengthAdjust="spacingAndGlyphs">insert size (25 bp bins)</text>
<path d="M166.25 1476.25 L166.75 1460 L167.5 1450 L168.75 1438.75 L170 1430 L172.5 1418.75 L175 1410 L177.5 1402 L180 1395 L182.5 1388.75 L185 1382.5 L190 1372.5 L195 1365 L200 1357.5 L205 1351.25 L210 1345 L215 1339.25 L220 1333.75 L225 1328 L230 1322.5 L235 1317.5 L240 1312.5 L245 1302.5 L250 1301.25 L255 1296.25 L260 1290 L266.25 1282.5 L272.5 1275 L278.75 1267.5 L285 1260 L290 1250 L297.5 1237.5 L303.75 1230 L310 1222.5 L315 1213.75 L320 1205 L325 1195 L330 1185 L335 1177.5 L340 1175 L347.5 1173.75 L355 1173.75 L358.75 1176.25 L362.5 1180 L366.25 1187.5 L370 1197.5 L372.5 1205 L375 1215 L378.75 1225 L382.5 1237.5 L385 1250 L387.5 1262.5 L391.25 1278.75 L395 1295 L398.75 1312.5 L402.5 1330 L406.25 1346.25 L410 1362.5 L413.75 1376.25 L417.5 1390 L421.25 1400 L425 1410 L430 1421.25 L435 1432.5 L440 1442 L445 1450 L450 1457 L455 1462.5 L460 1466.25 L465 1468.75 L472.5 1470.25 L480 1471.25 L480 1476.25Z" fill="#41287a"/>
<line x1="142.5" y1="1218.75" x2="142.5" y2="1475" stroke="#8a8a8a" stroke-width="1.3"/>
<line x1="138.5" y1="1218.75" x2="142.5" y2="1218.75" stroke="#8a8a8a" stroke-width="1.3"/>
<line x1="138.5" y1="1282.5" x2="142.5" y2="1282.5" stroke="#8a8a8a" stroke-width="1.3"/>
<line x1="138.5" y1="1347" x2="142.5" y2="1347" stroke="#8a8a8a" stroke-width="1.3"/>
<line x1="138.5" y1="1410.75" x2="142.5" y2="1410.75" stroke="#8a8a8a" stroke-width="1.3"/>
<line x1="138.5" y1="1475" x2="142.5" y2="1475" stroke="#8a8a8a" stroke-width="1.3"/>
<text x="131.8" y="1218.75" font-size="17.5" text-anchor="middle" fill="#262626" stroke="#262626" transform="rotate(-90 131.8 1218.75)">20000</text>
<text x="131.8" y="1282.5" font-size="17.5" text-anchor="middle" fill="#262626" stroke="#262626" transform="rotate(-90 131.8 1282.5)">15000</text>
<text x="131.8" y="1347" font-size="17.5" text-anchor="middle" fill="#262626" stroke="#262626" transform="rotate(-90 131.8 1347)">10000</text>
<text x="131.8" y="1410.75" font-size="17.5" text-anchor="middle" fill="#262626" stroke="#262626" transform="rotate(-90 131.8 1410.75)">5000</text>
<text x="131.8" y="1475" font-size="17.5" text-anchor="middle" fill="#262626" stroke="#262626" transform="rotate(-90 131.8 1475)">0</text>
<line x1="155" y1="1487.5" x2="478.75" y2="1487.5" stroke="#8a8a8a" stroke-width="1.3"/>
<line x1="155" y1="1487.5" x2="155" y2="1491.5" stroke="#8a8a8a" stroke-width="1.3"/>
<line x1="220" y1="1487.5" x2="220" y2="1491.5" stroke="#8a8a8a" stroke-width="1.3"/>
<line x1="284.5" y1="1487.5" x2="284.5" y2="1491.5" stroke="#8a8a8a" stroke-width="1.3"/>
<line x1="349.5" y1="1487.5" x2="349.5" y2="1491.5" stroke="#8a8a8a" stroke-width="1.3"/>
<line x1="414.25" y1="1487.5" x2="414.25" y2="1491.5" stroke="#8a8a8a" stroke-width="1.3"/>
<line x1="478.75" y1="1487.5" x2="478.75" y2="1491.5" stroke="#8a8a8a" stroke-width="1.3"/>
<text x="150" y="1512.5" font-size="17.5" text-anchor="middle" fill="#262626" stroke="#262626">0</text>
<text x="220" y="1512.5" font-size="17.5" text-anchor="middle" fill="#262626" stroke="#262626">100</text>
<text x="284.5" y="1512.5" font-size="17.5" text-anchor="middle" fill="#262626" stroke="#262626">200</text>
<text x="349.5" y="1512.5" font-size="17.5" text-anchor="middle" fill="#262626" stroke="#262626">300</text>
<text x="414.25" y="1512.5" font-size="17.5" text-anchor="middle" fill="#262626" stroke="#262626">400</text>
<text x="478.75" y="1512.5" font-size="17.5" text-anchor="middle" fill="#262626" stroke="#262626">500</text>
<text x="161.25" y="1223" font-size="17.5" text-anchor="start" fill="#262626" stroke="#262626" textLength="93.25" lengthAdjust="spacingAndGlyphs">mean = 244</text>
<text x="161.25" y="1243.25" font-size="17.5" text-anchor="start" fill="#262626" stroke="#262626" textLength="107.5" lengthAdjust="spacingAndGlyphs">median = 254</text>
<text x="104.25" y="1324.4" font-size="23" text-anchor="middle" fill="#262626" stroke="#262626" textLength="168.75" lengthAdjust="spacingAndGlyphs" transform="rotate(-90 104.25 1324.4)">number of SNPs</text>
<text x="326.9" y="1541.25" font-size="23" text-anchor="middle" fill="#262626" stroke="#262626" textLength="136.25" lengthAdjust="spacingAndGlyphs">SNP coverage</text>
<text transform="matrix(1.06 0 0 1 40.69 1109.09)" font-size="51.16" fill="#111">b</text>
<path d="M580.5 1476.25 L580.5 1187.5 L581.25 1181.25 L582 1177.5 L583.75 1173.75 L587 1173.75 L588 1180 L589 1187.5 L590 1197.5 L591.25 1211.25 L592.5 1225 L593.75 1228.75 L595 1229.5 L598.75 1230 L600 1233.75 L601.25 1240 L602.5 1250 L603.75 1262.5 L605 1275 L606.25 1287.5 L607.5 1297.5 L608.75 1305 L610.5 1315 L612.5 1325 L614.25 1333.75 L616.25 1342.5 L618 1350 L620 1357.5 L622.5 1363 L625 1367.5 L627.5 1370.5 L630 1372.5 L633.75 1375 L637.5 1377.5 L641.25 1381.25 L645 1385 L650 1389.5 L655 1393.75 L660 1396.25 L665 1398.75 L670 1401.25 L675 1403.75 L681.25 1406.25 L687.5 1408.75 L693.75 1411 L700 1413 L706.25 1414.5 L712.5 1415.75 L718.75 1417.25 L725 1418.75 L731.25 1420.25 L737.5 1422 L743.75 1423.5 L750 1425 L756.25 1427.25 L762.5 1430 L768.75 1433.5 L775 1437.5 L781.25 1441.75 L787.5 1446.25 L793.75 1450.75 L800 1455 L806.25 1459.5 L812.5 1463.75 L818.75 1467.25 L825 1470 L831.25 1472.25 L837.5 1473.75 L843.75 1474.5 L850 1475 L875 1475.5 L905 1475.5 L905 1476.25Z" fill="#41287a"/>
<line x1="567" y1="1181.75" x2="567" y2="1474.5" stroke="#8a8a8a" stroke-width="1.3"/>
<line x1="563" y1="1181.75" x2="567" y2="1181.75" stroke="#8a8a8a" stroke-width="1.3"/>
<line x1="563" y1="1230.5" x2="567" y2="1230.5" stroke="#8a8a8a" stroke-width="1.3"/>
<line x1="563" y1="1279.25" x2="567" y2="1279.25" stroke="#8a8a8a" stroke-width="1.3"/>
<line x1="563" y1="1328" x2="567" y2="1328" stroke="#8a8a8a" stroke-width="1.3"/>
<line x1="563" y1="1377" x2="567" y2="1377" stroke="#8a8a8a" stroke-width="1.3"/>
<line x1="563" y1="1425.75" x2="567" y2="1425.75" stroke="#8a8a8a" stroke-width="1.3"/>
<line x1="563" y1="1474.5" x2="567" y2="1474.5" stroke="#8a8a8a" stroke-width="1.3"/>
<text x="553.8" y="1181.75" font-size="17.5" text-anchor="middle" fill="#262626" stroke="#262626" transform="rotate(-90 553.8 1181.75)">120000</text>
<text x="553.8" y="1279.25" font-size="17.5" text-anchor="middle" fill="#262626" stroke="#262626" transform="rotate(-90 553.8 1279.25)">80000</text>
<text x="553.8" y="1377" font-size="17.5" text-anchor="middle" fill="#262626" stroke="#262626" transform="rotate(-90 553.8 1377)">40000</text>
<text x="553.8" y="1474.5" font-size="17.5" text-anchor="middle" fill="#262626" stroke="#262626" transform="rotate(-90 553.8 1474.5)">0</text>
<line x1="576.25" y1="1487.5" x2="904.25" y2="1487.5" stroke="#8a8a8a" stroke-width="1.3"/>
<line x1="576.25" y1="1487.5" x2="576.25" y2="1491.5" stroke="#8a8a8a" stroke-width="1.3"/>
<line x1="641.75" y1="1487.5" x2="641.75" y2="1491.5" stroke="#8a8a8a" stroke-width="1.3"/>
<line x1="707" y1="1487.5" x2="707" y2="1491.5" stroke="#8a8a8a" stroke-width="1.3"/>
<line x1="772.5" y1="1487.5" x2="772.5" y2="1491.5" stroke="#8a8a8a" stroke-width="1.3"/>
<line x1="838.25" y1="1487.5" x2="838.25" y2="1491.5" stroke="#8a8a8a" stroke-width="1.3"/>
<line x1="904.25" y1="1487.5" x2="904.25" y2="1491.5" stroke="#8a8a8a" stroke-width="1.3"/>
<text x="571.25" y="1512.5" font-size="17.5" text-anchor="middle" fill="#262626" stroke="#262626">0</text>
<text x="641.75" y="1512.5" font-size="17.5" text-anchor="middle" fill="#262626" stroke="#262626">100</text>
<text x="707" y="1512.5" font-size="17.5" text-anchor="middle" fill="#262626" stroke="#262626">200</text>
<text x="772.5" y="1512.5" font-size="17.5" text-anchor="middle" fill="#262626" stroke="#262626">300</text>
<text x="838.25" y="1512.5" font-size="17.5" text-anchor="middle" fill="#262626" stroke="#262626">400</text>
<text x="904.25" y="1512.5" font-size="17.5" text-anchor="middle" fill="#262626" stroke="#262626">500</text>
<text x="648.25" y="1222.5" font-size="17.5" text-anchor="start" fill="#262626" stroke="#262626" textLength="94.25" lengthAdjust="spacingAndGlyphs">mean = 122</text>
<text x="648.25" y="1243.75" font-size="17.5" text-anchor="start" fill="#262626" stroke="#262626" textLength="98" lengthAdjust="spacingAndGlyphs">median = 93</text>
<text x="530.5" y="1331.9" font-size="23" text-anchor="middle" fill="#262626" stroke="#262626" textLength="241.25" lengthAdjust="spacingAndGlyphs" transform="rotate(-90 530.5 1331.9)">number of SNP variants</text>
<text x="752.25" y="1541.25" font-size="23" text-anchor="middle" fill="#262626" stroke="#262626" textLength="205.5" lengthAdjust="spacingAndGlyphs">SNP variant coverage</text>
<text transform="matrix(0.97 0 0 1 511.93 1109.12)" font-size="47.64" fill="#111">c</text>
<line x1="1061.75" y1="457.6" x2="1459.6" y2="351.9" stroke="#c4bebe" stroke-width="2.2"/>
<line x1="1061.1" y1="130" x2="1061.1" y2="455" stroke="#8a8a8a" stroke-width="1.3"/>
<line x1="1057.1" y1="130" x2="1061.1" y2="130" stroke="#8a8a8a" stroke-width="1.3"/>
<line x1="1057.1" y1="211.4" x2="1061.1" y2="211.4" stroke="#8a8a8a" stroke-width="1.3"/>
<line x1="1057.1" y1="292.5" x2="1061.1" y2="292.5" stroke="#8a8a8a" stroke-width="1.3"/>
<line x1="1057.1" y1="373.3" x2="1061.1" y2="373.3" stroke="#8a8a8a" stroke-width="1.3"/>
<line x1="1057.1" y1="455" x2="1061.1" y2="455" stroke="#8a8a8a" stroke-width="1.3"/>
<text x="1044.7" y="130" font-size="17.5" text-anchor="middle" fill="#262626" stroke="#262626" transform="rotate(-90 1044.7 130)">20</text>
<text x="1044.7" y="211.4" font-size="17.5" text-anchor="middle" fill="#262626" stroke="#262626" transform="rotate(-90 1044.7 211.4)">15</text>
<text x="1044.7" y="292.5" font-size="17.5" text-anchor="middle" fill="#262626" stroke="#262626" transform="rotate(-90 1044.7 292.5)">10</text>
<text x="1044.7" y="373.3" font-size="17.5" text-anchor="middle" fill="#262626" stroke="#262626" transform="rotate(-90 1044.7 373.3)">5</text>
<text x="1044.7" y="455" font-size="17.5" text-anchor="middle" fill="#262626" stroke="#262626" transform="rotate(-90 1044.7 455)">0</text>
<line x1="1076.3" y1="468" x2="1444.5" y2="468" stroke="#8a8a8a" stroke-width="1.3"/>
<line x1="1076.3" y1="468" x2="1076.3" y2="472" stroke="#8a8a8a" stroke-width="1.3"/>
<line x1="1137.7" y1="468" x2="1137.7" y2="472" stroke="#8a8a8a" stroke-width="1.3"/>
<line x1="1199.3" y1="468" x2="1199.3" y2="472" stroke="#8a8a8a" stroke-width="1.3"/>
<line x1="1260.7" y1="468" x2="1260.7" y2="472" stroke="#8a8a8a" stroke-width="1.3"/>
<line x1="1321.5" y1="468" x2="1321.5" y2="472" stroke="#8a8a8a" stroke-width="1.3"/>
<line x1="1382.8" y1="468" x2="1382.8" y2="472" stroke="#8a8a8a" stroke-width="1.3"/>
<line x1="1444.5" y1="468" x2="1444.5" y2="472" stroke="#8a8a8a" stroke-width="1.3"/>
<text x="1076.3" y="498.4" font-size="17.5" text-anchor="middle" fill="#262626" stroke="#262626">0</text>
<text x="1137.7" y="498.4" font-size="17.5" text-anchor="middle" fill="#262626" stroke="#262626">1</text>
<text x="1199.3" y="498.4" font-size="17.5" text-anchor="middle" fill="#262626" stroke="#262626">2</text>
<text x="1260.7" y="498.4" font-size="17.5" text-anchor="middle" fill="#262626" stroke="#262626">3</text>
<text x="1321.5" y="498.4" font-size="17.5" text-anchor="middle" fill="#262626" stroke="#262626">4</text>
<text x="1382.8" y="498.4" font-size="17.5" text-anchor="middle" fill="#262626" stroke="#262626">5</text>
<text x="1444.5" y="498.4" font-size="17.5" text-anchor="middle" fill="#262626" stroke="#262626">6</text>
<path d="M1075.4 455 L1096.7 446.7 L1111.9 440.7 L1127.1 434.6 L1140 429 L1158.7 421.5 L1177.4 413.1 L1196.1 402.8 L1214.8 391.6 L1233.5 379.4 L1252.1 364.5 L1264.3 353.3 L1275.5 342.1 L1285.8 330.8 L1289.5 323.4 L1297 316.8 L1301.9 309.2 L1306.1 303.6 L1306.8 298 L1308.2 290.3 L1313.1 287.5 L1318.7 283.3 L1322.2 274.9 L1326.4 270.7 L1326.8 266.4" stroke="#111" stroke-width="6" stroke-linecap="round" stroke-linejoin="round" fill="none"/>
<path d="M1337.6 263.6h0M1340.3 262.2h0M1355.1 253.1h0M1361.6 201.9h0M1380.8 168.3h0M1444.8 112.5h0" stroke="#111" stroke-width="5.6" stroke-linecap="round" fill="none"/>
<text x="1258.9" y="77.7" font-size="19" text-anchor="middle" fill="#262626" stroke="#262626" textLength="119" lengthAdjust="spacingAndGlyphs">qq plot K562</text>
<text x="1013.5" y="278.9" font-size="21" text-anchor="middle" fill="#262626" stroke="#262626" textLength="308.2" lengthAdjust="spacingAndGlyphs" transform="rotate(-90 1013.5 278.9)">−log10(p−values real variants)</text>
<text x="1255.4" y="521" font-size="21" text-anchor="middle" fill="#262626" stroke="#262626" textLength="323.5" lengthAdjust="spacingAndGlyphs">−log10(p−values shuffled variants)</text>
<text transform="matrix(1.06 0 0 1 949.96 53.33)" font-size="46.73" fill="#111">e</text>
<line x1="1607.8" y1="457.4" x2="2018.9" y2="380.4" stroke="#c4bebe" stroke-width="2.2"/>
<line x1="1607.8" y1="137.85" x2="1607.8" y2="453.7" stroke="#8a8a8a" stroke-width="1.3"/>
<line x1="1603.8" y1="137.85" x2="1607.8" y2="137.85" stroke="#8a8a8a" stroke-width="1.3"/>
<line x1="1603.8" y1="201.3" x2="1607.8" y2="201.3" stroke="#8a8a8a" stroke-width="1.3"/>
<line x1="1603.8" y1="264.5" x2="1607.8" y2="264.5" stroke="#8a8a8a" stroke-width="1.3"/>
<line x1="1603.8" y1="327.4" x2="1607.8" y2="327.4" stroke="#8a8a8a" stroke-width="1.3"/>
<line x1="1603.8" y1="390.6" x2="1607.8" y2="390.6" stroke="#8a8a8a" stroke-width="1.3"/>
<line x1="1603.8" y1="453.7" x2="1607.8" y2="453.7" stroke="#8a8a8a" stroke-width="1.3"/>
<text x="1592.1" y="137.85" font-size="17.5" text-anchor="middle" fill="#262626" stroke="#262626" transform="rotate(-90 1592.1 137.85)">25</text>
<text x="1592.1" y="201.3" font-size="17.5" text-anchor="middle" fill="#262626" stroke="#262626" transform="rotate(-90 1592.1 201.3)">20</text>
<text x="1592.1" y="264.5" font-size="17.5" text-anchor="middle" fill="#262626" stroke="#262626" transform="rotate(-90 1592.1 264.5)">15</text>
<text x="1592.1" y="327.4" font-size="17.5" text-anchor="middle" fill="#262626" stroke="#262626" transform="rotate(-90 1592.1 327.4)">10</text>
<text x="1592.1" y="390.6" font-size="17.5" text-anchor="middle" fill="#262626" stroke="#262626" transform="rotate(-90 1592.1 390.6)">5</text>
<text x="1592.1" y="453.7" font-size="17.5" text-anchor="middle" fill="#262626" stroke="#262626" transform="rotate(-90 1592.1 453.7)">0</text>
<line x1="1623" y1="466.5" x2="1963.2" y2="466.5" stroke="#8a8a8a" stroke-width="1.3"/>
<line x1="1623" y1="466.5" x2="1623" y2="470.5" stroke="#8a8a8a" stroke-width="1.3"/>
<line x1="1691.4" y1="466.5" x2="1691.4" y2="470.5" stroke="#8a8a8a" stroke-width="1.3"/>
<line x1="1759.1" y1="466.5" x2="1759.1" y2="470.5" stroke="#8a8a8a" stroke-width="1.3"/>
<line x1="1827.1" y1="466.5" x2="1827.1" y2="470.5" stroke="#8a8a8a" stroke-width="1.3"/>
<line x1="1894.9" y1="466.5" x2="1894.9" y2="470.5" stroke="#8a8a8a" stroke-width="1.3"/>
<line x1="1963.2" y1="466.5" x2="1963.2" y2="470.5" stroke="#8a8a8a" stroke-width="1.3"/>
<text x="1623" y="494" font-size="17.5" text-anchor="middle" fill="#262626" stroke="#262626">0</text>
<text x="1691.4" y="494" font-size="17.5" text-anchor="middle" fill="#262626" stroke="#262626">1</text>
<text x="1759.1" y="494" font-size="17.5" text-anchor="middle" fill="#262626" stroke="#262626">2</text>
<text x="1827.1" y="494" font-size="17.5" text-anchor="middle" fill="#262626" stroke="#262626">3</text>
<text x="1894.9" y="494" font-size="17.5" text-anchor="middle" fill="#262626" stroke="#262626">4</text>
<text x="1963.2" y="494" font-size="17.5" text-anchor="middle" fill="#262626" stroke="#262626">5</text>
<path d="M1621.9 452.7 L1652.6 443.6 L1687.6 436 L1722.7 427.3 L1757.7 418.5 L1775.2 412.4 L1792.8 407.1 L1810.3 402.7 L1827.8 395.7 L1841.8 387.8 L1859.3 379.9 L1862.8 377.3 L1871.6 365 L1883.9 355.4 L1894.4 350.2 L1900 348.4 L1907.8 347.5 L1914.3 346.1" stroke="#111" stroke-width="6" stroke-linecap="round" stroke-linejoin="round" fill="none"/>
<path d="M1926.4 341 L1927.3 337.3 L1928.2 331.7 L1933.8 331.7 L1935.7 329.9 L1937.5 324.3 L1940.3 316.9" stroke="#111" stroke-width="6" stroke-linecap="round" stroke-linejoin="round" fill="none"/>
<path d="M1940.3 302 L1949.1 298.8" stroke="#111" stroke-width="6" stroke-linecap="round" stroke-linejoin="round" fill="none"/>
<path d="M1948.7 288.1 L1949.1 284.4 L1952.8 280.7" stroke="#111" stroke-width="6" stroke-linecap="round" stroke-linejoin="round" fill="none"/>
<path d="M1956.8 271.3h0M1965.8 251h0M1971.2 242.9h0M1995.8 235.3h0M1999.1 164.2h0M2003.8 112.2h0" stroke="#111" stroke-width="5.6" stroke-linecap="round" fill="none"/>
<text x="1807.6" y="77.7" font-size="19" text-anchor="middle" fill="#262626" stroke="#262626" textLength="142.7" lengthAdjust="spacingAndGlyphs">qq plot HepG2</text>
<text x="1552.6" y="280.5" font-size="21" text-anchor="middle" fill="#262626" stroke="#262626" textLength="299" lengthAdjust="spacingAndGlyphs" transform="rotate(-90 1552.6 280.5)">−log10(p−values real variants)</text>
<text x="1811.4" y="522" font-size="21" text-anchor="middle" fill="#262626" stroke="#262626" textLength="337" lengthAdjust="spacingAndGlyphs">−log10(p−values shuffled variants)</text>
<text transform="matrix(1.2 0 0 1 1541.17 53.8)" font-size="51.59" fill="#111">f</text>
<path d="M1233 733h0m72 16h0m-70 18h0m-10 22h0m70 0h0m-86 6h0m0 4h0m94 2h0m0 2h0m-12 6h0m-60 4h0m96 0h0m-130 2h0m92 0h0m-62 2h0m76 8h0m-88 2h0m94 0h0m8 0h0m-90 2h0m60 0h0m12 0h0m0 4h0m-94 2h0m18 8h0m6 0h0m64 2h0m-82 2h0m12 0h0m58 0h0m32 0h0m-118 2h0m2 0h0m22 0h0m8 0h0m84 0h0m10 0h0m-108 4h0m6 0h0m16 0h0m64 0h0m4 0h0m6 0h0m-112 2h0m6 0h0m14 0h0m86 0h0m-94 2h0m8 2h0m10 0h0m96 0h0m-104 2h0m90 0h0m-90 2h0m12 0h0m18 0h0m50 0h0m4 0h0m-84 2h0m8 0h0m2 0h0m82 0h0m-82 2h0m60 0h0m36 0h0m-116 2h0m10 0h0m4 0h0m2 0h0m-16 2h0m2 0h0m6 0h0m2 0h0m4 0h0m66 0h0m12 2h0m12 0h0m-114 2h0m2 0h0m10 0h0m10 0h0m2 0h0m56 0h0m10 0h0m4 0h0m14 0h0m-92 2h0m4 0h0m-26 2h0m98 0h0m2 0h0m12 0h0m6 0h0m-100 2h0m10 0h0m94 0h0m-110 2h0m80 0h0m32 0h0m-130 2h0m18 0h0m10 0h0m2 0h0m18 0h0m48 0h0m6 0h0m6 0h0m2 0h0m2 0h0m8 0h0m-112 2h0m6 0h0m4 0h0m8 0h0m82 0h0m2 0h0m6 0h0m12 0h0m4 0h0m-118 2h0m4 0h0m22 0h0m2 0h0m8 0h0m48 0h0m8 0h0m4 0h0m10 0h0m6 0h0m-110 2h0m4 0h0m8 0h0m10 0h0m14 0h0m44 0h0m10 0h0m2 0h0m20 0h0m-128 2h0m20 0h0m10 0h0m2 0h0m4 0h0m2 0h0m64 0h0m2 0h0m2 0h0m-82 2h0m2 0h0m6 0h0m10 0h0m50 0h0m6 0h0m6 0h0m10 0h0m10 0h0m2 0h0m6 0h0m4 0h0m-124 2h0m14 0h0m4 0h0m8 0h0m48 0h0m12 0h0m2 0h0m2 0h0m14 0h0m22 0h0m-128 2h0m2 0h0m2 0h0m6 0h0m6 0h0m2 0h0m6 0h0m4 0h0m10 0h0m48 0h0m4 0h0m2 0h0m4 0h0m8 0h0m10 0h0m-120 2h0m8 0h0m2 0h0m8 0h0m6 0h0m6 0h0m6 0h0m2 0h0m2 0h0m14 0h0m30 0h0m18 0h0m2 0h0m4 0h0m6 0h0m4 0h0m4 0h0m18 0h0m20 0h0m-168 2h0m6 0h0m20 0h0m6 0h0m4 0h0m2 0h0m2 0h0m4 0h0m4 0h0m4 0h0m48 0h0m4 0h0m2 0h0m2 0h0m4 0h0m2 0h0m2 0h0m2 0h0m2 0h0m10 0h0m4 0h0m12 0h0m-134 2h0m12 0h0m6 0h0m6 0h0m4 0h0m2 0h0m4 0h0m2 0h0m2 0h0m6 0h0m2 0h0m2 0h0m38 0h0m6 0h0m10 0h0m4 0h0m6 0h0m6 0h0m-114 2h0m2 0h0m10 0h0m2 0h0m2 0h0m2 0h0m2 0h0m2 0h0m2 0h0m2 0h0m4 0h0m2 0h0m50 0h0m10 0h0m6 0h0m12 0h0m6 0h0m12 0h0m4 0h0m-144 2h0m18 0h0m4 0h0m8 0h0m2 0h0m2 0h0m2 0h0m6 0h0m2 0h0m4 0h0m4 0h0m10 0h0m26 0h0m8 0h0m2 0h0m2 0h0m2 0h0m2 0h0m6 0h0m2 0h0m6 0h0m4 0h0m2 0h0m4 0h0m2 0h0m-118 2h0m8 0h0m6 0h0m2 0h0m6 0h0m4 0h0m2 0h0m4 0h0m6 0h0m6 0h0m26 0h0m8 0h0m4 0h0m8 0h0m2 0h0m2 0h0m2 0h0m4 0h0m2 0h0m4 0h0m6 0h0m2 0h0m2 0h0m4 0h0m4 0h0m2 0h0m6 0h0m-150 2h0m10 0h0m6 0h0m6 0h0m6 0h0m4 0h0m2 0h0m2 0h0m2 0h0m2 0h0m4 0h0m4 0h0m2 0h0m2 0h0m10 0h0m40 0h0m12 0h0m6 0h0m8 0h0m6 0h0m12 0h0m6 0h0m-152 2h0m28 0h0m2 0h0m4 0h0m6 0h0m2 0h0m2 0h0m2 0h0m4 0h0m2 0h0m2 0h0m2 0h0m2 0h0m2 0h0m4 0h0m44 0h0m2 0h0m4 0h0m2 0h0m6 0h0m2 0h0m2 0h0m2 0h0m4 0h0m4 0h0m4 0h0m-138 2h0m4 0h0m2 0h0m14 0h0m4 0h0m2 0h0m6 0h0m2 0h0m2 0h0m4 0h0m2 0h0m4 0h0m2 0h0m2 0h0m2 0h0m2 0h0m24 0h0m24 0h0m2 0h0m4 0h0m2 0h0m2 0h0m2 0h0m2 0h0m4 0h0m6 0h0m6 0h0m4 0h0m14 0h0m-150 2h0m20 0h0m4 0h0m10 0h0m2 0h0m4 0h0m2 0h0m2 0h0m4 0h0m4 0h0m2 0h0m6 0h0m28 0h0m10 0h0m2 0h0m4 0h0m2 0h0m2 0h0m2 0h0m2 0h0m4 0h0m2 0h0m2 0h0m2 0h0m8 0h0m10 0h0m6 0h0m2 0h0m-140 2h0m4 0h0m2 0h0m10 0h0m2 0h0m2 0h0m2 0h0m4 0h0m4 0h0m2 0h0m2 0h0m2 0h0m2 0h0m2 0h0m4 0h0m2 0h0m2 0h0m36 0h0m2 0h0m2 0h0m2 0h0m2 0h0m2 0h0m2 0h0m2 0h0m2 0h0m2 0h0m2 0h0m2 0h0m4 0h0m2 0h0m2 0h0m2 0h0m6 0h0m2 0h0m4 0h0m4 0h0m-140 2h0m2 0h0m4 0h0m4 0h0m6 0h0m2 0h0m2 0h0m2 0h0m6 0h0m10 0h0m2 0h0m2 0h0m4 0h0m2 0h0m2 0h0m2 0h0m2 0h0m2 0h0m2 0h0m2 0h0m2 0h0m2 0h0m14 0h0m14 0h0m2 0h0m4 0h0m2 0h0m2 0h0m2 0h0m2 0h0m2 0h0m2 0h0m8 0h0m2 0h0m4 0h0m2 0h0m2 0h0m2 0h0m8 0h0m4 0h0m8 0h0m-140 2h0m4 0h0m2 0h0m2 0h0m8 0h0m8 0h0m2 0h0m4 0h0m2 0h0m2 0h0m2 0h0m2 0h0m2 0h0m4 0h0m2 0h0m10 0h0m24 0h0m4 0h0m2 0h0m2 0h0m2 0h0m2 0h0m2 0h0m2 0h0m4 0h0m2 0h0m4 0h0m6 0h0m6 0h0m4 0h0m2 0h0m2 0h0m2 0h0m4 0h0m-150 2h0m14 0h0m16 0h0m2 0h0m4 0h0m4 0h0m2 0h0m2 0h0m2 0h0m2 0h0m2 0h0m2 0h0m2 0h0m2 0h0m2 0h0m6 0h0m4 0h0m2 0h0m4 0h0m8 0h0m18 0h0m4 0h0m2 0h0m2 0h0m4 0h0m2 0h0m2 0h0m2 0h0m2 0h0m2 0h0m2 0h0m2 0h0m2 0h0m2 0h0m10 0h0m2 0h0m4 0h0m4 0h0m2 0h0m14 0h0m-142 2h0m4 0h0m2 0h0m2 0h0m2 0h0m2 0h0m2 0h0m4 0h0m6 0h0m2 0h0m2 0h0m2 0h0m2 0h0m4 0h0m2 0h0m4 0h0m4 0h0m8 0h0m8 0h0m8 0h0m2 0h0m2 0h0m6 0h0m2 0h0m2 0h0m6 0h0m2 0h0m2 0h0m2 0h0m2 0h0m2 0h0m2 0h0m2 0h0m2 0h0m2 0h0m4 0h0m14 0h0m8 0h0m2 0h0m-154 2h0m8 0h0m2 0h0m4 0h0m4 0h0m2 0h0m4 0h0m6 0h0m4 0h0m2 0h0m2 0h0m2 0h0m2 0h0m2 0h0m2 0h0m2 0h0m2 0h0m2 0h0m2 0h0m2 0h0m2 0h0m2 0h0m4 0h0m18 0h0m8 0h0m2 0h0m2 0h0m2 0h0m2 0h0m2 0h0m2 0h0m2 0h0m2 0h0m2 0h0m2 0h0m2 0h0m2 0h0m2 0h0m2 0h0m2 0h0m2 0h0m2 0h0m2 0h0m2 0h0m4 0h0m10 0h0m2 0h0m2 0h0m-138 2h0m6 0h0m4 0h0m4 0h0m4 0h0m2 0h0m2 0h0m2 0h0m4 0h0m2 0h0m2 0h0m2 0h0m2 0h0m2 0h0m2 0h0m2 0h0m2 0h0m2 0h0m2 0h0m2 0h0m2 0h0m2 0h0m2 0h0m2 0h0m2 0h0m6 0h0m2 0h0m16 0h0m2 0h0m2 0h0m2 0h0m2 0h0m2 0h0m2 0h0m4 0h0m2 0h0m2 0h0m2 0h0m2 0h0m2 0h0m2 0h0m2 0h0m2 0h0m2 0h0m2 0h0m6 0h0m4 0h0m2 0h0m8 0h0m8 0h0m2 0h0m24 0h0m-198 2h0m6 0h0m4 0h0m18 0h0m2 0h0m2 0h0m4 0h0m2 0h0m2 0h0m4 0h0m2 0h0m2 0h0m2 0h0m2 0h0m2 0h0m2 0h0m2 0h0m2 0h0m2 0h0m2 0h0m2 0h0m2 0h0m4 0h0m2 0h0m2 0h0m2 0h0m6 0h0m14 0h0m4 0h0m2 0h0m2 0h0m2 0h0m2 0h0m2 0h0m2 0h0m2 0h0m2 0h0m2 0h0m2 0h0m2 0h0m2 0h0m2 0h0m2 0h0m2 0h0m2 0h0m2 0h0m2 0h0m2 0h0m2 0h0m4 0h0m2 0h0m2 0h0m4 0h0m2 0h0m4 0h0m6 0h0m2 0h0m10 0h0m18 0h0m-200 2h0m22 0h0m12 0h0m4 0h0m2 0h0m2 0h0m2 0h0m2 0h0m2 0h0m4 0h0m2 0h0m2 0h0m2 0h0m2 0h0m2 0h0m2 0h0m2 0h0m2 0h0m2 0h0m2 0h0m2 0h0m2 0h0m2 0h0m2 0h0m2 0h0m2 0h0m2 0h0m4 0h0m4 0h0m4 0h0m2 0h0m10 0h0m2 0h0m2 0h0m2 0h0m2 0h0m2 0h0m2 0h0m2 0h0m2 0h0m2 0h0m2 0h0m2 0h0m2 0h0m2 0h0m2 0h0m2 0h0m2 0h0m2 0h0m2 0h0m2 0h0m2 0h0m2 0h0m2 0h0m2 0h0m2 0h0m6 0h0m2 0h0m-164 2h0m20 0h0m2 0h0m2 0h0m2 0h0m6 0h0m12 0h0m2 0h0m2 0h0m4 0h0m2 0h0m2 0h0m2 0h0m2 0h0m2 0h0m2 0h0m2 0h0m2 0h0m2 0h0m2 0h0m4 0h0m2 0h0m2 0h0m2 0h0m2 0h0m4 0h0m6 0h0m4 0h0m2 0h0m4 0h0m4 0h0m2 0h0m2 0h0m2 0h0m2 0h0m2 0h0m2 0h0m2 0h0m2 0h0m2 0h0m2 0h0m2 0h0m2 0h0m2 0h0m2 0h0m2 0h0m2 0h0m2 0h0m2 0h0m2 0h0m2 0h0m2 0h0m2 0h0m2 0h0m2 0h0m2 0h0m4 0h0m2 0h0m4 0h0m2 0h0m6 0h0m6 0h0m4 0h0m-224 2h0m26 0h0m24 0h0m16 0h0m4 0h0m4 0h0m2 0h0m2 0h0m2 0h0m2 0h0m2 0h0m2 0h0m2 0h0m2 0h0m4 0h0m2 0h0m2 0h0m2 0h0m2 0h0m2 0h0m2 0h0m2 0h0m2 0h0m2 0h0m2 0h0m2 0h0m2 0h0m2 0h0m2 0h0m2 0h0m2 0h0m2 0h0m2 0h0m4 0h0m4 0h0m4 0h0m2 0h0m2 0h0m2 0h0m2 0h0m2 0h0m2 0h0m2 0h0m2 0h0m2 0h0m2 0h0m2 0h0m4 0h0m2 0h0m2 0h0m2 0h0m2 0h0m2 0h0m2 0h0m2 0h0m2 0h0m4 0h0m2 0h0m2 0h0m2 0h0m2 0h0m8 0h0m8 0h0m8 0h0m2 0h0m6 0h0m2 0h0m-220 2h0m26 0h0m14 0h0m6 0h0m2 0h0m4 0h0m4 0h0m4 0h0m4 0h0m4 0h0m2 0h0m2 0h0m2 0h0m2 0h0m2 0h0m2 0h0m2 0h0m2 0h0m2 0h0m2 0h0m2 0h0m2 0h0m2 0h0m2 0h0m2 0h0m2 0h0m2 0h0m2 0h0m2 0h0m2 0h0m2 0h0m2 0h0m2 0h0m2 0h0m4 0h0m2 0h0m2 0h0m2 0h0m4 0h0m2 0h0m2 0h0m2 0h0m2 0h0m2 0h0m2 0h0m2 0h0m2 0h0m2 0h0m2 0h0m2 0h0m2 0h0m2 0h0m2 0h0m2 0h0m4 0h0m2 0h0m2 0h0m2 0h0m2 0h0m6 0h0m2 0h0m2 0h0m2 0h0m2 0h0m8 0h0m2 0h0m10 0h0m4 0h0m6 0h0m-176 2h0m6 0h0m6 0h0m6 0h0m6 0h0m2 0h0m4 0h0m2 0h0m4 0h0m4 0h0m2 0h0m2 0h0m2 0h0m2 0h0m2 0h0m2 0h0m2 0h0m2 0h0m2 0h0m2 0h0m2 0h0m2 0h0m2 0h0m2 0h0m2 0h0m2 0h0m2 0h0m2 0h0m2 0h0m4 0h0m2 0h0m2 0h0m2 0h0m6 0h0m2 0h0m4 0h0m2 0h0m2 0h0m2 0h0m2 0h0m2 0h0m2 0h0m2 0h0m2 0h0m4 0h0m4 0h0m2 0h0m2 0h0m2 0h0m2 0h0m2 0h0m2 0h0m4 0h0m2 0h0m6 0h0m16 0h0m2 0h0m2 0h0m8 0h0m2 0h0m6 0h0m4 0h0m2 0h0" stroke="#1a1614" stroke-opacity="0.28" stroke-width="4" stroke-linecap="round" fill="none"/>
<path d="M1213 735h0m22 42h0m52 10h0m-60 8h0m84 6h0m-6 4h0m-2 8h0m4 8h0m-8 4h0m24 0h0m-106 2h0m14 0h0m-14 2h0m74 4h0m10 0h0m12 4h0m-24 6h0m-86 2h0m6 0h0m80 0h0m12 0h0m-100 2h0m96 0h0m-104 2h0m96 0h0m-74 2h0m8 0h0m84 0h0m-80 2h0m2 0h0m76 0h0m-20 2h0m-90 2h0m26 0h0m4 0h0m72 0h0m4 0h0m6 0h0m-90 2h0m14 0h0m-32 2h0m16 0h0m102 0h0m-116 2h0m98 0h0m16 0h0m-112 2h0m2 0h0m2 0h0m12 0h0m2 0h0m10 0h0m10 0h0m66 0h0m2 0h0m-102 2h0m90 0h0m10 0h0m-76 2h0m62 0h0m20 0h0m6 0h0m2 0h0m-102 2h0m78 0h0m8 0h0m18 0h0m-126 2h0m4 0h0m8 0h0m2 0h0m6 0h0m6 0h0m6 0h0m48 0h0m6 0h0m16 0h0m14 0h0m-112 2h0m4 0h0m8 0h0m-14 2h0m20 0h0m80 0h0m6 0h0m-90 2h0m4 0h0m4 0h0m4 0h0m10 0h0m54 0h0m6 0h0m-92 2h0m4 0h0m18 0h0m58 0h0m16 0h0m6 0h0m12 0h0m2 0h0m-110 2h0m4 0h0m8 0h0m6 0h0m52 0h0m2 0h0m10 0h0m24 0h0m4 0h0m-126 2h0m22 0h0m8 0h0m8 0h0m54 0h0m2 0h0m8 0h0m-102 2h0m10 0h0m4 0h0m28 0h0m6 0h0m78 0h0m-128 2h0m20 0h0m4 0h0m2 0h0m8 0h0m18 0h0m42 0h0m8 0h0m12 0h0m2 0h0m-106 2h0m6 0h0m2 0h0m6 0h0m4 0h0m80 0h0m14 0h0m8 0h0m8 0h0m-120 2h0m10 0h0m2 0h0m50 0h0m24 0h0m2 0h0m2 0h0m2 0h0m2 0h0m-116 2h0m22 0h0m4 0h0m6 0h0m6 0h0m2 0h0m4 0h0m4 0h0m64 0h0m8 0h0m2 0h0m-116 2h0m12 0h0m2 0h0m2 0h0m4 0h0m6 0h0m2 0h0m58 0h0m14 0h0m2 0h0m4 0h0m2 0h0m20 0h0m-124 2h0m8 0h0m8 0h0m2 0h0m50 0h0m20 0h0m2 0h0m2 0h0m6 0h0m2 0h0m6 0h0m8 0h0m2 0h0m12 0h0m-134 2h0m2 0h0m2 0h0m6 0h0m6 0h0m2 0h0m2 0h0m4 0h0m6 0h0m2 0h0m6 0h0m4 0h0m6 0h0m58 0h0m2 0h0m4 0h0m-108 2h0m2 0h0m18 0h0m2 0h0m6 0h0m14 0h0m34 0h0m14 0h0m2 0h0m4 0h0m2 0h0m2 0h0m14 0h0m20 0h0m-142 2h0m18 0h0m2 0h0m6 0h0m2 0h0m2 0h0m4 0h0m6 0h0m10 0h0m36 0h0m20 0h0m2 0h0m14 0h0m4 0h0m4 0h0m8 0h0m-138 2h0m20 0h0m2 0h0m8 0h0m6 0h0m2 0h0m2 0h0m52 0h0m4 0h0m8 0h0m4 0h0m6 0h0m2 0h0m6 0h0m-128 2h0m16 0h0m4 0h0m10 0h0m4 0h0m2 0h0m6 0h0m2 0h0m2 0h0m42 0h0m2 0h0m8 0h0m14 0h0m2 0h0m2 0h0m12 0h0m2 0h0m8 0h0m4 0h0m2 0h0m8 0h0m2 0h0m-130 2h0m2 0h0m2 0h0m6 0h0m2 0h0m4 0h0m8 0h0m6 0h0m4 0h0m50 0h0m2 0h0m2 0h0m2 0h0m2 0h0m6 0h0m4 0h0m2 0h0m2 0h0m-112 2h0m6 0h0m8 0h0m2 0h0m2 0h0m4 0h0m10 0h0m44 0h0m4 0h0m2 0h0m6 0h0m2 0h0m2 0h0m2 0h0m4 0h0m2 0h0m2 0h0m2 0h0m2 0h0m2 0h0m6 0h0m2 0h0m6 0h0m6 0h0m-146 2h0m24 0h0m4 0h0m4 0h0m10 0h0m4 0h0m6 0h0m2 0h0m4 0h0m2 0h0m38 0h0m4 0h0m6 0h0m2 0h0m6 0h0m2 0h0m2 0h0m4 0h0m14 0h0m-134 2h0m12 0h0m6 0h0m6 0h0m2 0h0m2 0h0m2 0h0m2 0h0m2 0h0m2 0h0m2 0h0m2 0h0m2 0h0m2 0h0m2 0h0m6 0h0m32 0h0m2 0h0m6 0h0m2 0h0m2 0h0m4 0h0m2 0h0m2 0h0m2 0h0m2 0h0m2 0h0m4 0h0m4 0h0m6 0h0m-112 2h0m2 0h0m2 0h0m12 0h0m2 0h0m2 0h0m2 0h0m4 0h0m2 0h0m2 0h0m4 0h0m2 0h0m2 0h0m2 0h0m32 0h0m8 0h0m2 0h0m6 0h0m2 0h0m6 0h0m2 0h0m4 0h0m2 0h0m2 0h0m4 0h0m28 0h0m-168 2h0m4 0h0m12 0h0m14 0h0m8 0h0m4 0h0m2 0h0m2 0h0m2 0h0m2 0h0m4 0h0m2 0h0m2 0h0m2 0h0m2 0h0m2 0h0m4 0h0m2 0h0m6 0h0m28 0h0m4 0h0m2 0h0m2 0h0m2 0h0m2 0h0m2 0h0m10 0h0m4 0h0m4 0h0m4 0h0m4 0h0m4 0h0m6 0h0m-152 2h0m10 0h0m6 0h0m2 0h0m4 0h0m14 0h0m2 0h0m4 0h0m2 0h0m2 0h0m6 0h0m2 0h0m2 0h0m4 0h0m2 0h0m2 0h0m8 0h0m36 0h0m2 0h0m2 0h0m2 0h0m2 0h0m2 0h0m2 0h0m2 0h0m2 0h0m2 0h0m6 0h0m2 0h0m2 0h0m8 0h0m2 0h0m2 0h0m4 0h0m2 0h0m4 0h0m-166 2h0m32 0h0m4 0h0m2 0h0m6 0h0m2 0h0m4 0h0m6 0h0m2 0h0m2 0h0m2 0h0m2 0h0m2 0h0m2 0h0m2 0h0m2 0h0m40 0h0m2 0h0m2 0h0m4 0h0m2 0h0m4 0h0m2 0h0m2 0h0m4 0h0m2 0h0m2 0h0m4 0h0m2 0h0m8 0h0m2 0h0m6 0h0m2 0h0m-122 2h0m8 0h0m6 0h0m2 0h0m2 0h0m6 0h0m2 0h0m2 0h0m2 0h0m2 0h0m2 0h0m4 0h0m2 0h0m32 0h0m2 0h0m2 0h0m4 0h0m4 0h0m2 0h0m2 0h0m4 0h0m2 0h0m4 0h0m2 0h0m2 0h0m4 0h0m2 0h0m2 0h0m4 0h0m2 0h0m10 0h0m4 0h0m-166 2h0m10 0h0m10 0h0m10 0h0m2 0h0m6 0h0m2 0h0m2 0h0m2 0h0m2 0h0m2 0h0m2 0h0m2 0h0m2 0h0m2 0h0m2 0h0m4 0h0m2 0h0m2 0h0m4 0h0m4 0h0m2 0h0m2 0h0m2 0h0m2 0h0m8 0h0m8 0h0m8 0h0m2 0h0m4 0h0m2 0h0m2 0h0m2 0h0m2 0h0m2 0h0m2 0h0m2 0h0m2 0h0m2 0h0m2 0h0m2 0h0m2 0h0m2 0h0m2 0h0m2 0h0m2 0h0m2 0h0m8 0h0m2 0h0m14 0h0m2 0h0m-150 2h0m6 0h0m2 0h0m2 0h0m6 0h0m2 0h0m2 0h0m2 0h0m2 0h0m2 0h0m8 0h0m2 0h0m2 0h0m2 0h0m2 0h0m2 0h0m2 0h0m2 0h0m2 0h0m2 0h0m6 0h0m2 0h0m22 0h0m4 0h0m2 0h0m2 0h0m2 0h0m2 0h0m2 0h0m2 0h0m2 0h0m2 0h0m2 0h0m2 0h0m2 0h0m2 0h0m2 0h0m2 0h0m2 0h0m2 0h0m2 0h0m4 0h0m4 0h0m2 0h0m2 0h0m2 0h0m6 0h0m-144 2h0m4 0h0m6 0h0m4 0h0m2 0h0m4 0h0m2 0h0m2 0h0m2 0h0m2 0h0m2 0h0m2 0h0m2 0h0m2 0h0m2 0h0m4 0h0m2 0h0m2 0h0m2 0h0m2 0h0m2 0h0m2 0h0m2 0h0m2 0h0m4 0h0m8 0h0m2 0h0m2 0h0m16 0h0m2 0h0m2 0h0m2 0h0m2 0h0m2 0h0m2 0h0m2 0h0m2 0h0m2 0h0m2 0h0m2 0h0m2 0h0m2 0h0m2 0h0m2 0h0m2 0h0m4 0h0m2 0h0m2 0h0m4 0h0m6 0h0m2 0h0m4 0h0m4 0h0m14 0h0m-152 2h0m4 0h0m2 0h0m2 0h0m4 0h0m2 0h0m2 0h0m4 0h0m2 0h0m2 0h0m2 0h0m2 0h0m2 0h0m2 0h0m2 0h0m2 0h0m2 0h0m2 0h0m2 0h0m2 0h0m2 0h0m4 0h0m8 0h0m2 0h0m6 0h0m12 0h0m2 0h0m2 0h0m2 0h0m2 0h0m2 0h0m2 0h0m2 0h0m2 0h0m2 0h0m4 0h0m2 0h0m4 0h0m2 0h0m2 0h0m2 0h0m2 0h0m2 0h0m2 0h0m2 0h0m2 0h0m4 0h0m6 0h0m2 0h0m-156 2h0m6 0h0m16 0h0m2 0h0m4 0h0m2 0h0m2 0h0m2 0h0m2 0h0m4 0h0m2 0h0m2 0h0m2 0h0m2 0h0m2 0h0m2 0h0m2 0h0m2 0h0m2 0h0m2 0h0m2 0h0m2 0h0m2 0h0m2 0h0m2 0h0m2 0h0m10 0h0m12 0h0m2 0h0m2 0h0m2 0h0m2 0h0m2 0h0m2 0h0m2 0h0m2 0h0m2 0h0m2 0h0m2 0h0m2 0h0m2 0h0m4 0h0m2 0h0m2 0h0m2 0h0m2 0h0m2 0h0m2 0h0m4 0h0m6 0h0m4 0h0m6 0h0m6 0h0m2 0h0m2 0h0m16 0h0m-176 2h0m4 0h0m2 0h0m2 0h0m2 0h0m8 0h0m2 0h0m2 0h0m6 0h0m2 0h0m4 0h0m2 0h0m2 0h0m2 0h0m2 0h0m2 0h0m2 0h0m2 0h0m2 0h0m2 0h0m2 0h0m2 0h0m2 0h0m2 0h0m2 0h0m2 0h0m2 0h0m2 0h0m10 0h0m6 0h0m2 0h0m2 0h0m2 0h0m2 0h0m2 0h0m2 0h0m2 0h0m2 0h0m2 0h0m2 0h0m2 0h0m2 0h0m2 0h0m2 0h0m2 0h0m2 0h0m2 0h0m2 0h0m2 0h0m2 0h0m2 0h0m2 0h0m2 0h0m2 0h0m2 0h0m2 0h0m2 0h0m2 0h0m2 0h0m2 0h0m2 0h0m4 0h0m2 0h0m8 0h0m8 0h0m-202 2h0m22 0h0m18 0h0m2 0h0m2 0h0m4 0h0m2 0h0m2 0h0m4 0h0m2 0h0m2 0h0m2 0h0m2 0h0m2 0h0m2 0h0m2 0h0m2 0h0m2 0h0m2 0h0m2 0h0m2 0h0m2 0h0m4 0h0m2 0h0m2 0h0m2 0h0m2 0h0m2 0h0m2 0h0m2 0h0m2 0h0m2 0h0m2 0h0m2 0h0m2 0h0m2 0h0m10 0h0m2 0h0m2 0h0m2 0h0m2 0h0m2 0h0m2 0h0m2 0h0m2 0h0m2 0h0m2 0h0m2 0h0m2 0h0m2 0h0m2 0h0m2 0h0m2 0h0m2 0h0m4 0h0m2 0h0m4 0h0m4 0h0m4 0h0m6 0h0m2 0h0m2 0h0m6 0h0m2 0h0m2 0h0m16 0h0m4 0h0m-174 2h0m2 0h0m2 0h0m4 0h0m4 0h0m2 0h0m2 0h0m2 0h0m2 0h0m2 0h0m2 0h0m2 0h0m2 0h0m2 0h0m2 0h0m2 0h0m2 0h0m2 0h0m2 0h0m2 0h0m2 0h0m2 0h0m2 0h0m2 0h0m2 0h0m2 0h0m2 0h0m4 0h0m2 0h0m2 0h0m4 0h0m2 0h0m2 0h0m2 0h0m2 0h0m2 0h0m2 0h0m2 0h0m2 0h0m2 0h0m2 0h0m2 0h0m2 0h0m2 0h0m2 0h0m2 0h0m2 0h0m2 0h0m2 0h0m2 0h0m4 0h0m2 0h0m2 0h0m2 0h0m4 0h0m2 0h0m2 0h0m2 0h0m2 0h0m2 0h0m2 0h0m2 0h0m2 0h0m4 0h0m2 0h0m2 0h0m2 0h0m4 0h0m10 0h0m4 0h0m-196 2h0m22 0h0m6 0h0m10 0h0m4 0h0m10 0h0m2 0h0m2 0h0m4 0h0m2 0h0m2 0h0m2 0h0m2 0h0m2 0h0m2 0h0m2 0h0m2 0h0m2 0h0m2 0h0m2 0h0m2 0h0m2 0h0m2 0h0m2 0h0m2 0h0m2 0h0m4 0h0m2 0h0m6 0h0m2 0h0m2 0h0m2 0h0m4 0h0m2 0h0m2 0h0m2 0h0m2 0h0m2 0h0m2 0h0m2 0h0m2 0h0m2 0h0m2 0h0m2 0h0m2 0h0m2 0h0m4 0h0m2 0h0m2 0h0m2 0h0m2 0h0m2 0h0m2 0h0m2 0h0m2 0h0m2 0h0m4 0h0m2 0h0m2 0h0m6 0h0m14 0h0m2 0h0m10 0h0m4 0h0m10 0h0m12 0h0" stroke="#1a1614" stroke-opacity="0.28" stroke-width="4" stroke-linecap="round" fill="none"/>
<path d="M1205 713h0m14 22h0m-16 34h0m108 0h0m-106 18h0m14 2h0m66 0h0m-10 8h0m38 8h0m-110 10h0m22 2h0m-2 6h0m4 0h0m-42 2h0m20 0h0m100 0h0m-80 2h0m80 0h0m-90 8h0m100 2h0m-20 6h0m-66 2h0m58 0h0m4 0h0m2 0h0m-100 2h0m98 0h0m10 0h0m14 0h0m-108 2h0m6 4h0m94 0h0m-102 2h0m76 0h0m20 0h0m18 0h0m-32 2h0m-44 2h0m68 0h0m-20 2h0m10 0h0m-78 2h0m78 0h0m-104 2h0m14 0h0m20 0h0m4 0h0m62 0h0m6 0h0m-6 2h0m6 0h0m20 0h0m-122 2h0m14 0h0m8 0h0m2 0h0m74 0h0m8 0h0m-92 2h0m92 0h0m4 0h0m-8 2h0m8 0h0m10 0h0m-114 2h0m4 0h0m4 0h0m2 0h0m4 0h0m24 0h0m60 0h0m-98 2h0m16 0h0m70 0h0m2 0h0m4 0h0m-106 2h0m6 0h0m6 0h0m2 0h0m10 0h0m4 0h0m2 0h0m12 0h0m54 0h0m16 0h0m-112 4h0m22 0h0m10 0h0m2 0h0m76 0h0m-88 2h0m8 0h0m6 0h0m66 0h0m8 0h0m8 0h0m-100 2h0m16 0h0m60 0h0m4 0h0m4 0h0m6 0h0m6 0h0m-88 2h0m56 0h0m24 0h0m12 0h0m2 0h0m6 0h0m-120 2h0m18 0h0m76 0h0m2 0h0m6 0h0m24 0h0m10 0h0m-132 2h0m6 0h0m14 0h0m70 0h0m2 0h0m2 0h0m2 0h0m-112 2h0m20 0h0m20 0h0m68 0h0m2 0h0m2 0h0m2 0h0m2 0h0m4 0h0m-114 2h0m4 0h0m4 0h0m6 0h0m2 0h0m96 0h0m-100 2h0m18 0h0m2 0h0m6 0h0m54 0h0m4 0h0m2 0h0m2 0h0m2 0h0m4 0h0m-102 2h0m4 0h0m4 0h0m10 0h0m8 0h0m10 0h0m2 0h0m4 0h0m40 0h0m16 0h0m2 0h0m2 0h0m2 0h0m2 0h0m8 0h0m24 0h0m-138 2h0m2 0h0m8 0h0m2 0h0m2 0h0m2 0h0m6 0h0m4 0h0m4 0h0m4 0h0m2 0h0m10 0h0m38 0h0m34 0h0m-114 2h0m12 0h0m2 0h0m4 0h0m2 0h0m10 0h0m16 0h0m40 0h0m6 0h0m4 0h0m2 0h0m2 0h0m2 0h0m4 0h0m30 0h0m-142 2h0m2 0h0m4 0h0m14 0h0m4 0h0m6 0h0m2 0h0m12 0h0m38 0h0m4 0h0m6 0h0m2 0h0m4 0h0m2 0h0m2 0h0m2 0h0m2 0h0m2 0h0m8 0h0m4 0h0m2 0h0m4 0h0m12 0h0m-158 2h0m38 0h0m4 0h0m2 0h0m2 0h0m2 0h0m2 0h0m6 0h0m2 0h0m8 0h0m4 0h0m48 0h0m4 0h0m4 0h0m2 0h0m4 0h0m4 0h0m4 0h0m4 0h0m-116 2h0m4 0h0m2 0h0m6 0h0m2 0h0m2 0h0m2 0h0m2 0h0m4 0h0m2 0h0m2 0h0m2 0h0m12 0h0m40 0h0m2 0h0m8 0h0m10 0h0m2 0h0m4 0h0m4 0h0m-104 2h0m4 0h0m4 0h0m2 0h0m2 0h0m2 0h0m2 0h0m6 0h0m4 0h0m2 0h0m2 0h0m28 0h0m6 0h0m2 0h0m8 0h0m2 0h0m2 0h0m4 0h0m4 0h0m2 0h0m2 0h0m2 0h0m2 0h0m2 0h0m8 0h0m12 0h0m2 0h0m12 0h0m-150 2h0m2 0h0m4 0h0m2 0h0m2 0h0m6 0h0m4 0h0m2 0h0m4 0h0m2 0h0m2 0h0m2 0h0m2 0h0m4 0h0m2 0h0m4 0h0m2 0h0m2 0h0m30 0h0m2 0h0m12 0h0m4 0h0m2 0h0m2 0h0m6 0h0m6 0h0m2 0h0m8 0h0m6 0h0m2 0h0m2 0h0m8 0h0m-148 2h0m18 0h0m4 0h0m2 0h0m2 0h0m2 0h0m4 0h0m6 0h0m2 0h0m2 0h0m2 0h0m2 0h0m2 0h0m2 0h0m4 0h0m4 0h0m2 0h0m30 0h0m12 0h0m2 0h0m8 0h0m2 0h0m2 0h0m4 0h0m2 0h0m2 0h0m2 0h0m2 0h0m10 0h0m2 0h0m6 0h0m-144 2h0m4 0h0m2 0h0m6 0h0m2 0h0m4 0h0m2 0h0m6 0h0m4 0h0m2 0h0m2 0h0m2 0h0m4 0h0m2 0h0m4 0h0m2 0h0m2 0h0m4 0h0m2 0h0m24 0h0m8 0h0m14 0h0m2 0h0m2 0h0m4 0h0m2 0h0m8 0h0m2 0h0m6 0h0m-126 2h0m2 0h0m8 0h0m6 0h0m4 0h0m2 0h0m2 0h0m4 0h0m4 0h0m2 0h0m2 0h0m2 0h0m2 0h0m2 0h0m2 0h0m12 0h0m4 0h0m22 0h0m6 0h0m2 0h0m6 0h0m2 0h0m6 0h0m4 0h0m2 0h0m2 0h0m2 0h0m2 0h0m2 0h0m8 0h0m2 0h0m4 0h0m4 0h0m16 0h0m-136 2h0m2 0h0m4 0h0m2 0h0m2 0h0m2 0h0m2 0h0m2 0h0m2 0h0m2 0h0m2 0h0m2 0h0m2 0h0m2 0h0m2 0h0m2 0h0m4 0h0m38 0h0m4 0h0m2 0h0m2 0h0m2 0h0m2 0h0m2 0h0m2 0h0m2 0h0m4 0h0m4 0h0m4 0h0m6 0h0m4 0h0m12 0h0m-148 2h0m6 0h0m2 0h0m8 0h0m2 0h0m4 0h0m6 0h0m2 0h0m2 0h0m4 0h0m2 0h0m4 0h0m2 0h0m2 0h0m6 0h0m2 0h0m2 0h0m2 0h0m2 0h0m4 0h0m22 0h0m2 0h0m4 0h0m2 0h0m2 0h0m4 0h0m2 0h0m4 0h0m2 0h0m6 0h0m2 0h0m2 0h0m4 0h0m4 0h0m2 0h0m2 0h0m2 0h0m2 0h0m4 0h0m4 0h0m2 0h0m2 0h0m-128 2h0m4 0h0m2 0h0m2 0h0m2 0h0m2 0h0m2 0h0m2 0h0m2 0h0m2 0h0m2 0h0m4 0h0m2 0h0m2 0h0m2 0h0m2 0h0m2 0h0m2 0h0m2 0h0m2 0h0m4 0h0m2 0h0m18 0h0m4 0h0m2 0h0m12 0h0m2 0h0m2 0h0m2 0h0m2 0h0m2 0h0m2 0h0m2 0h0m2 0h0m2 0h0m2 0h0m2 0h0m6 0h0m2 0h0m8 0h0m4 0h0m-154 2h0m18 0h0m6 0h0m4 0h0m4 0h0m2 0h0m2 0h0m4 0h0m2 0h0m8 0h0m2 0h0m2 0h0m2 0h0m2 0h0m2 0h0m2 0h0m2 0h0m2 0h0m4 0h0m2 0h0m6 0h0m2 0h0m18 0h0m2 0h0m6 0h0m4 0h0m2 0h0m2 0h0m2 0h0m2 0h0m2 0h0m2 0h0m2 0h0m4 0h0m2 0h0m2 0h0m2 0h0m2 0h0m2 0h0m2 0h0m2 0h0m4 0h0m6 0h0m2 0h0m2 0h0m8 0h0m2 0h0m-164 2h0m2 0h0m2 0h0m12 0h0m10 0h0m2 0h0m4 0h0m2 0h0m2 0h0m2 0h0m2 0h0m2 0h0m2 0h0m2 0h0m2 0h0m2 0h0m2 0h0m2 0h0m2 0h0m6 0h0m2 0h0m2 0h0m2 0h0m2 0h0m2 0h0m2 0h0m2 0h0m10 0h0m4 0h0m8 0h0m2 0h0m2 0h0m4 0h0m2 0h0m4 0h0m2 0h0m2 0h0m4 0h0m2 0h0m2 0h0m2 0h0m2 0h0m4 0h0m2 0h0m2 0h0m6 0h0m2 0h0m4 0h0m-142 2h0m16 0h0m6 0h0m8 0h0m2 0h0m4 0h0m2 0h0m2 0h0m2 0h0m4 0h0m2 0h0m2 0h0m2 0h0m2 0h0m2 0h0m2 0h0m2 0h0m2 0h0m2 0h0m4 0h0m8 0h0m4 0h0m10 0h0m2 0h0m2 0h0m2 0h0m2 0h0m2 0h0m2 0h0m2 0h0m2 0h0m2 0h0m2 0h0m2 0h0m2 0h0m2 0h0m2 0h0m2 0h0m2 0h0m2 0h0m2 0h0m4 0h0m2 0h0m4 0h0m6 0h0m2 0h0m2 0h0m8 0h0m10 0h0m-152 2h0m2 0h0m8 0h0m4 0h0m2 0h0m4 0h0m2 0h0m2 0h0m2 0h0m2 0h0m2 0h0m2 0h0m2 0h0m2 0h0m2 0h0m2 0h0m2 0h0m2 0h0m2 0h0m4 0h0m2 0h0m2 0h0m2 0h0m2 0h0m6 0h0m2 0h0m2 0h0m8 0h0m6 0h0m2 0h0m2 0h0m2 0h0m2 0h0m2 0h0m2 0h0m2 0h0m2 0h0m2 0h0m2 0h0m2 0h0m2 0h0m4 0h0m2 0h0m2 0h0m2 0h0m2 0h0m2 0h0m2 0h0m2 0h0m4 0h0m2 0h0m4 0h0m2 0h0m6 0h0m6 0h0m12 0h0m-170 2h0m2 0h0m4 0h0m2 0h0m4 0h0m2 0h0m2 0h0m2 0h0m2 0h0m2 0h0m2 0h0m2 0h0m4 0h0m2 0h0m2 0h0m2 0h0m2 0h0m4 0h0m2 0h0m2 0h0m2 0h0m2 0h0m2 0h0m2 0h0m2 0h0m2 0h0m2 0h0m2 0h0m4 0h0m2 0h0m2 0h0m6 0h0m14 0h0m2 0h0m2 0h0m2 0h0m2 0h0m2 0h0m2 0h0m4 0h0m2 0h0m2 0h0m2 0h0m2 0h0m2 0h0m2 0h0m2 0h0m2 0h0m2 0h0m2 0h0m2 0h0m4 0h0m2 0h0m2 0h0m4 0h0m2 0h0m2 0h0m6 0h0m2 0h0m6 0h0m2 0h0m2 0h0m4 0h0m-180 2h0m4 0h0m6 0h0m10 0h0m2 0h0m6 0h0m8 0h0m2 0h0m2 0h0m2 0h0m2 0h0m2 0h0m2 0h0m4 0h0m2 0h0m2 0h0m2 0h0m2 0h0m2 0h0m2 0h0m2 0h0m2 0h0m2 0h0m2 0h0m2 0h0m2 0h0m2 0h0m2 0h0m2 0h0m2 0h0m2 0h0m2 0h0m2 0h0m4 0h0m10 0h0m2 0h0m2 0h0m2 0h0m2 0h0m2 0h0m2 0h0m2 0h0m2 0h0m2 0h0m2 0h0m2 0h0m2 0h0m2 0h0m2 0h0m2 0h0m2 0h0m2 0h0m2 0h0m4 0h0m2 0h0m4 0h0m8 0h0m6 0h0m2 0h0m2 0h0m6 0h0m4 0h0m12 0h0m2 0h0m2 0h0m-200 2h0m14 0h0m4 0h0m2 0h0m2 0h0m8 0h0m2 0h0m4 0h0m2 0h0m4 0h0m4 0h0m2 0h0m4 0h0m4 0h0m2 0h0m2 0h0m2 0h0m2 0h0m2 0h0m2 0h0m2 0h0m2 0h0m2 0h0m2 0h0m2 0h0m2 0h0m2 0h0m2 0h0m2 0h0m2 0h0m2 0h0m4 0h0m2 0h0m2 0h0m2 0h0m2 0h0m2 0h0m2 0h0m2 0h0m2 0h0m2 0h0m2 0h0m2 0h0m2 0h0m2 0h0m2 0h0m2 0h0m2 0h0m2 0h0m2 0h0m2 0h0m2 0h0m2 0h0m2 0h0m2 0h0m2 0h0m4 0h0m2 0h0m10 0h0m2 0h0m2 0h0m2 0h0m4 0h0m2 0h0m8 0h0m8 0h0m14 0h0m4 0h0m-210 2h0m12 0h0m12 0h0m4 0h0m2 0h0m2 0h0m2 0h0m10 0h0m2 0h0m4 0h0m4 0h0m4 0h0m2 0h0m2 0h0m2 0h0m2 0h0m2 0h0m2 0h0m2 0h0m2 0h0m2 0h0m2 0h0m2 0h0m2 0h0m2 0h0m2 0h0m2 0h0m2 0h0m2 0h0m4 0h0m2 0h0m4 0h0m2 0h0m2 0h0m2 0h0m2 0h0m2 0h0m2 0h0m4 0h0m2 0h0m2 0h0m2 0h0m2 0h0m2 0h0m2 0h0m2 0h0m2 0h0m2 0h0m2 0h0m2 0h0m2 0h0m2 0h0m2 0h0m2 0h0m2 0h0m6 0h0m2 0h0m2 0h0m2 0h0m2 0h0m2 0h0m6 0h0m4 0h0m4 0h0m8 0h0m4 0h0m8 0h0m2 0h0m-196 2h0m12 0h0m4 0h0m2 0h0m2 0h0m12 0h0m8 0h0m2 0h0m2 0h0m2 0h0m4 0h0m2 0h0m2 0h0m2 0h0m2 0h0m2 0h0m2 0h0m2 0h0m2 0h0m2 0h0m2 0h0m2 0h0m2 0h0m2 0h0m2 0h0m2 0h0m2 0h0m2 0h0m2 0h0m2 0h0m2 0h0m4 0h0m2 0h0m2 0h0m2 0h0m2 0h0m2 0h0m2 0h0m2 0h0m2 0h0m2 0h0m2 0h0m2 0h0m2 0h0m2 0h0m2 0h0m2 0h0m2 0h0m2 0h0m2 0h0m2 0h0m2 0h0m4 0h0m2 0h0m4 0h0m2 0h0m4 0h0m6 0h0m4 0h0m4 0h0m2 0h0m8 0h0m2 0h0m6 0h0m10 0h0m8 0h0m8 0h0" stroke="#1a1614" stroke-opacity="0.28" stroke-width="4" stroke-linecap="round" fill="none"/>
<path d="M1289 745h0m22 26h0m-90 16h0m6 0h0m8 0h0m-36 22h0m30 2h0m58 2h0m14 12h0m10 2h0m-6 4h0m2 0h0m8 0h0m-102 2h0m92 0h0m-68 2h0m-16 4h0m4 0h0m-12 2h0m2 0h0m80 2h0m-74 2h0m70 0h0m32 0h0m-114 2h0m86 0h0m-76 2h0m72 2h0m20 0h0m10 2h0m-22 2h0m-4 2h0m6 0h0m-124 4h0m54 0h0m-18 2h0m4 0h0m-2 2h0m2 0h0m16 0h0m58 0h0m8 0h0m6 0h0m2 0h0m-24 2h0m16 0h0m8 0h0m16 0h0m-120 2h0m16 0h0m76 0h0m2 0h0m-68 2h0m2 0h0m40 0h0m22 0h0m20 0h0m-84 2h0m64 0h0m-80 2h0m18 0h0m54 0h0m6 0h0m10 0h0m6 0h0m4 0h0m-102 2h0m6 0h0m2 0h0m2 0h0m10 0h0m4 0h0m2 0h0m60 0h0m8 0h0m-96 2h0m34 0h0m56 0h0m14 0h0m8 0h0m-108 2h0m8 0h0m86 0h0m-94 2h0m4 0h0m4 0h0m2 0h0m2 0h0m74 0h0m6 0h0m8 0h0m22 0h0m6 0h0m-162 2h0m8 0h0m8 0h0m34 0h0m4 0h0m64 0h0m-84 2h0m8 0h0m4 0h0m6 0h0m54 0h0m8 0h0m16 0h0m22 0h0m-120 2h0m6 0h0m6 0h0m2 0h0m14 0h0m34 0h0m26 0h0m18 0h0m-98 2h0m2 0h0m4 0h0m2 0h0m64 0h0m8 0h0m4 0h0m16 0h0m4 0h0m-128 2h0m18 0h0m4 0h0m2 0h0m6 0h0m12 0h0m50 0h0m6 0h0m2 0h0m2 0h0m-112 2h0m18 0h0m6 0h0m4 0h0m10 0h0m4 0h0m4 0h0m52 0h0m4 0h0m6 0h0m4 0h0m2 0h0m-94 2h0m4 0h0m6 0h0m2 0h0m4 0h0m2 0h0m12 0h0m2 0h0m54 0h0m2 0h0m4 0h0m2 0h0m8 0h0m2 0h0m2 0h0m6 0h0m14 0h0m-136 2h0m4 0h0m6 0h0m10 0h0m6 0h0m2 0h0m4 0h0m10 0h0m50 0h0m18 0h0m4 0h0m4 0h0m4 0h0m6 0h0m10 0h0m-138 2h0m8 0h0m4 0h0m12 0h0m2 0h0m2 0h0m2 0h0m6 0h0m2 0h0m2 0h0m4 0h0m4 0h0m38 0h0m6 0h0m2 0h0m2 0h0m18 0h0m2 0h0m12 0h0m2 0h0m4 0h0m-122 2h0m6 0h0m12 0h0m4 0h0m2 0h0m2 0h0m6 0h0m6 0h0m38 0h0m10 0h0m6 0h0m4 0h0m2 0h0m20 0h0m2 0h0m-140 2h0m24 0h0m4 0h0m2 0h0m2 0h0m2 0h0m2 0h0m6 0h0m10 0h0m10 0h0m32 0h0m8 0h0m14 0h0m2 0h0m6 0h0m2 0h0m2 0h0m14 0h0m-130 2h0m10 0h0m10 0h0m4 0h0m4 0h0m4 0h0m8 0h0m52 0h0m2 0h0m2 0h0m4 0h0m4 0h0m4 0h0m2 0h0m2 0h0m2 0h0m2 0h0m2 0h0m12 0h0m-126 2h0m4 0h0m12 0h0m4 0h0m8 0h0m6 0h0m2 0h0m6 0h0m32 0h0m12 0h0m4 0h0m2 0h0m4 0h0m2 0h0m4 0h0m2 0h0m10 0h0m6 0h0m8 0h0m-140 2h0m6 0h0m8 0h0m16 0h0m4 0h0m2 0h0m2 0h0m2 0h0m2 0h0m2 0h0m6 0h0m2 0h0m36 0h0m10 0h0m6 0h0m4 0h0m2 0h0m6 0h0m10 0h0m2 0h0m6 0h0m4 0h0m-140 2h0m4 0h0m10 0h0m4 0h0m2 0h0m4 0h0m4 0h0m8 0h0m4 0h0m4 0h0m2 0h0m8 0h0m36 0h0m4 0h0m6 0h0m6 0h0m2 0h0m4 0h0m2 0h0m4 0h0m2 0h0m6 0h0m14 0h0m-142 2h0m20 0h0m4 0h0m6 0h0m2 0h0m4 0h0m2 0h0m2 0h0m2 0h0m2 0h0m4 0h0m16 0h0m16 0h0m14 0h0m8 0h0m4 0h0m2 0h0m8 0h0m2 0h0m4 0h0m2 0h0m6 0h0m2 0h0m2 0h0m4 0h0m4 0h0m-150 2h0m12 0h0m8 0h0m2 0h0m10 0h0m4 0h0m2 0h0m2 0h0m2 0h0m2 0h0m4 0h0m4 0h0m2 0h0m4 0h0m2 0h0m2 0h0m2 0h0m6 0h0m34 0h0m2 0h0m2 0h0m2 0h0m6 0h0m2 0h0m2 0h0m2 0h0m10 0h0m8 0h0m4 0h0m2 0h0m2 0h0m-158 2h0m18 0h0m4 0h0m4 0h0m6 0h0m2 0h0m4 0h0m2 0h0m2 0h0m6 0h0m6 0h0m6 0h0m4 0h0m14 0h0m6 0h0m18 0h0m10 0h0m2 0h0m2 0h0m4 0h0m2 0h0m2 0h0m2 0h0m6 0h0m4 0h0m6 0h0m2 0h0m2 0h0m4 0h0m4 0h0m8 0h0m12 0h0m-158 2h0m6 0h0m12 0h0m2 0h0m4 0h0m2 0h0m4 0h0m2 0h0m2 0h0m2 0h0m4 0h0m2 0h0m2 0h0m2 0h0m2 0h0m2 0h0m2 0h0m2 0h0m2 0h0m2 0h0m2 0h0m2 0h0m30 0h0m2 0h0m4 0h0m4 0h0m4 0h0m2 0h0m2 0h0m4 0h0m2 0h0m6 0h0m4 0h0m2 0h0m4 0h0m4 0h0m10 0h0m8 0h0m-142 2h0m2 0h0m4 0h0m2 0h0m2 0h0m4 0h0m2 0h0m4 0h0m2 0h0m2 0h0m2 0h0m4 0h0m2 0h0m6 0h0m2 0h0m2 0h0m2 0h0m2 0h0m4 0h0m2 0h0m2 0h0m28 0h0m2 0h0m4 0h0m4 0h0m4 0h0m2 0h0m2 0h0m2 0h0m2 0h0m2 0h0m2 0h0m2 0h0m2 0h0m6 0h0m2 0h0m6 0h0m-134 2h0m6 0h0m14 0h0m4 0h0m8 0h0m2 0h0m2 0h0m2 0h0m2 0h0m2 0h0m4 0h0m4 0h0m10 0h0m16 0h0m14 0h0m2 0h0m2 0h0m4 0h0m2 0h0m2 0h0m4 0h0m4 0h0m2 0h0m2 0h0m2 0h0m2 0h0m4 0h0m2 0h0m2 0h0m4 0h0m6 0h0m4 0h0m-134 2h0m4 0h0m2 0h0m8 0h0m2 0h0m8 0h0m2 0h0m2 0h0m2 0h0m2 0h0m2 0h0m2 0h0m2 0h0m2 0h0m2 0h0m2 0h0m8 0h0m18 0h0m6 0h0m14 0h0m2 0h0m2 0h0m2 0h0m2 0h0m4 0h0m2 0h0m2 0h0m2 0h0m2 0h0m2 0h0m2 0h0m4 0h0m4 0h0m2 0h0m2 0h0m4 0h0m14 0h0m-172 2h0m28 0h0m6 0h0m2 0h0m10 0h0m2 0h0m2 0h0m6 0h0m2 0h0m2 0h0m2 0h0m2 0h0m2 0h0m2 0h0m4 0h0m2 0h0m4 0h0m6 0h0m14 0h0m10 0h0m4 0h0m2 0h0m2 0h0m2 0h0m2 0h0m4 0h0m2 0h0m2 0h0m2 0h0m6 0h0m2 0h0m2 0h0m6 0h0m2 0h0m4 0h0m2 0h0m4 0h0m4 0h0m4 0h0m2 0h0m-142 2h0m10 0h0m10 0h0m4 0h0m2 0h0m2 0h0m2 0h0m2 0h0m2 0h0m2 0h0m2 0h0m2 0h0m2 0h0m2 0h0m2 0h0m2 0h0m2 0h0m4 0h0m8 0h0m10 0h0m6 0h0m2 0h0m2 0h0m2 0h0m4 0h0m2 0h0m2 0h0m2 0h0m2 0h0m2 0h0m2 0h0m2 0h0m2 0h0m2 0h0m2 0h0m2 0h0m2 0h0m2 0h0m2 0h0m2 0h0m10 0h0m4 0h0m6 0h0m4 0h0m2 0h0m2 0h0m4 0h0m-154 2h0m2 0h0m10 0h0m2 0h0m2 0h0m2 0h0m2 0h0m2 0h0m2 0h0m4 0h0m2 0h0m4 0h0m2 0h0m2 0h0m2 0h0m2 0h0m2 0h0m2 0h0m2 0h0m2 0h0m2 0h0m2 0h0m2 0h0m4 0h0m18 0h0m2 0h0m2 0h0m2 0h0m6 0h0m2 0h0m4 0h0m2 0h0m2 0h0m4 0h0m4 0h0m2 0h0m2 0h0m2 0h0m2 0h0m2 0h0m2 0h0m2 0h0m2 0h0m2 0h0m4 0h0m4 0h0m2 0h0m2 0h0m2 0h0m2 0h0m10 0h0m4 0h0m-176 2h0m20 0h0m2 0h0m4 0h0m4 0h0m2 0h0m2 0h0m2 0h0m2 0h0m2 0h0m2 0h0m2 0h0m2 0h0m2 0h0m2 0h0m2 0h0m2 0h0m2 0h0m2 0h0m4 0h0m2 0h0m2 0h0m2 0h0m2 0h0m2 0h0m2 0h0m2 0h0m2 0h0m2 0h0m2 0h0m8 0h0m10 0h0m2 0h0m2 0h0m2 0h0m4 0h0m2 0h0m2 0h0m2 0h0m2 0h0m2 0h0m2 0h0m2 0h0m2 0h0m2 0h0m2 0h0m2 0h0m2 0h0m2 0h0m2 0h0m2 0h0m2 0h0m2 0h0m2 0h0m2 0h0m4 0h0m2 0h0m14 0h0m-168 2h0m20 0h0m2 0h0m2 0h0m6 0h0m2 0h0m2 0h0m2 0h0m4 0h0m4 0h0m2 0h0m2 0h0m4 0h0m2 0h0m2 0h0m2 0h0m2 0h0m2 0h0m2 0h0m2 0h0m2 0h0m2 0h0m2 0h0m2 0h0m2 0h0m2 0h0m10 0h0m2 0h0m4 0h0m2 0h0m4 0h0m2 0h0m2 0h0m2 0h0m2 0h0m2 0h0m2 0h0m2 0h0m2 0h0m2 0h0m2 0h0m2 0h0m2 0h0m2 0h0m2 0h0m2 0h0m4 0h0m2 0h0m2 0h0m2 0h0m2 0h0m2 0h0m2 0h0m2 0h0m2 0h0m2 0h0m2 0h0m2 0h0m4 0h0m2 0h0m6 0h0m2 0h0m-186 2h0m16 0h0m14 0h0m10 0h0m2 0h0m4 0h0m2 0h0m6 0h0m2 0h0m2 0h0m2 0h0m2 0h0m2 0h0m2 0h0m2 0h0m2 0h0m2 0h0m2 0h0m2 0h0m2 0h0m2 0h0m2 0h0m2 0h0m2 0h0m2 0h0m2 0h0m2 0h0m2 0h0m4 0h0m2 0h0m2 0h0m2 0h0m6 0h0m4 0h0m2 0h0m2 0h0m2 0h0m2 0h0m2 0h0m2 0h0m2 0h0m2 0h0m2 0h0m2 0h0m2 0h0m2 0h0m2 0h0m2 0h0m2 0h0m2 0h0m2 0h0m2 0h0m2 0h0m2 0h0m2 0h0m2 0h0m2 0h0m2 0h0m2 0h0m4 0h0m2 0h0m2 0h0m2 0h0m4 0h0m2 0h0m28 0h0m-186 2h0m4 0h0m4 0h0m2 0h0m2 0h0m2 0h0m4 0h0m2 0h0m2 0h0m2 0h0m2 0h0m4 0h0m2 0h0m6 0h0m2 0h0m2 0h0m2 0h0m2 0h0m2 0h0m2 0h0m2 0h0m2 0h0m2 0h0m2 0h0m2 0h0m2 0h0m2 0h0m2 0h0m2 0h0m2 0h0m2 0h0m2 0h0m2 0h0m4 0h0m2 0h0m2 0h0m2 0h0m2 0h0m2 0h0m2 0h0m2 0h0m2 0h0m2 0h0m2 0h0m2 0h0m2 0h0m2 0h0m2 0h0m2 0h0m2 0h0m2 0h0m2 0h0m2 0h0m2 0h0m2 0h0m2 0h0m2 0h0m2 0h0m2 0h0m2 0h0m2 0h0m6 0h0m4 0h0m2 0h0m2 0h0m2 0h0m2 0h0m4 0h0m2 0h0m6 0h0m4 0h0m2 0h0m4 0h0m-196 2h0m22 0h0m16 0h0m2 0h0m4 0h0m2 0h0m2 0h0m2 0h0m4 0h0m2 0h0m2 0h0m2 0h0m2 0h0m2 0h0m2 0h0m2 0h0m2 0h0m2 0h0m2 0h0m2 0h0m2 0h0m2 0h0m2 0h0m2 0h0m2 0h0m2 0h0m2 0h0m2 0h0m2 0h0m2 0h0m6 0h0m2 0h0m2 0h0m2 0h0m2 0h0m2 0h0m2 0h0m4 0h0m2 0h0m2 0h0m2 0h0m2 0h0m2 0h0m4 0h0m2 0h0m2 0h0m2 0h0m2 0h0m2 0h0m2 0h0m2 0h0m2 0h0m2 0h0m2 0h0m2 0h0m2 0h0m2 0h0m2 0h0m2 0h0m2 0h0m2 0h0m2 0h0m2 0h0m4 0h0m2 0h0m2 0h0m2 0h0m4 0h0m2 0h0m10 0h0m4 0h0m12 0h0m-208 2h0m10 0h0m6 0h0m8 0h0m10 0h0m4 0h0m2 0h0m4 0h0m4 0h0m2 0h0m8 0h0m2 0h0m2 0h0m2 0h0m2 0h0m2 0h0m2 0h0m2 0h0m2 0h0m2 0h0m2 0h0m2 0h0m2 0h0m2 0h0m2 0h0m2 0h0m2 0h0m2 0h0m2 0h0m2 0h0m2 0h0m2 0h0m2 0h0m2 0h0m2 0h0m2 0h0m2 0h0m2 0h0m2 0h0m2 0h0m2 0h0m2 0h0m2 0h0m2 0h0m2 0h0m2 0h0m2 0h0m2 0h0m2 0h0m2 0h0m2 0h0m2 0h0m2 0h0m2 0h0m2 0h0m4 0h0m2 0h0m2 0h0m2 0h0m8 0h0m2 0h0m2 0h0m4 0h0m4 0h0m2 0h0m16 0h0m8 0h0m4 0h0" stroke="#1a1614" stroke-opacity="0.28" stroke-width="4" stroke-linecap="round" fill="none"/>
<path d="M1305 735h0m-94 12h0m98 32h0m10 0h0m-34 6h0m-60 4h0m80 2h0m-82 6h0m-10 4h0m88 0h0m-86 12h0m98 6h0m-96 6h0m72 2h0m0 2h0m-68 4h0m8 0h0m48 4h0m16 0h0m2 0h0m4 0h0m-76 2h0m58 4h0m-56 2h0m78 0h0m4 0h0m4 4h0m6 0h0m6 0h0m-20 4h0m10 2h0m-106 2h0m80 0h0m-10 2h0m6 0h0m14 0h0m-100 2h0m10 0h0m10 0h0m22 0h0m54 0h0m28 0h0m-124 4h0m12 0h0m22 0h0m64 0h0m-88 2h0m6 0h0m84 0h0m-78 2h0m84 0h0m8 0h0m4 0h0m-104 2h0m92 0h0m8 0h0m-96 2h0m20 0h0m50 0h0m28 0h0m-102 2h0m32 0h0m46 0h0m6 0h0m-96 2h0m12 0h0m4 0h0m70 0h0m2 0h0m22 0h0m8 0h0m-106 2h0m14 0h0m64 0h0m6 0h0m4 0h0m2 0h0m2 0h0m-88 2h0m4 0h0m12 0h0m2 0h0m60 0h0m6 0h0m2 0h0m2 0h0m2 0h0m-92 2h0m26 0h0m48 0h0m12 0h0m6 0h0m6 0h0m4 0h0m-102 2h0m8 0h0m62 0h0m18 0h0m2 0h0m2 0h0m16 0h0m-116 2h0m12 0h0m2 0h0m4 0h0m52 0h0m4 0h0m18 0h0m6 0h0m8 0h0m4 0h0m14 0h0m-134 2h0m16 0h0m72 0h0m2 0h0m6 0h0m2 0h0m12 0h0m16 0h0m-110 2h0m4 0h0m4 0h0m8 0h0m12 0h0m50 0h0m14 0h0m4 0h0m-104 2h0m8 0h0m4 0h0m6 0h0m2 0h0m8 0h0m64 0h0m4 0h0m-102 2h0m18 0h0m2 0h0m16 0h0m60 0h0m4 0h0m4 0h0m4 0h0m18 0h0m-140 2h0m30 0h0m10 0h0m52 0h0m16 0h0m2 0h0m12 0h0m-110 2h0m12 0h0m4 0h0m2 0h0m16 0h0m4 0h0m2 0h0m52 0h0m4 0h0m6 0h0m30 0h0m-146 2h0m18 0h0m2 0h0m8 0h0m2 0h0m2 0h0m6 0h0m2 0h0m6 0h0m2 0h0m2 0h0m6 0h0m46 0h0m2 0h0m2 0h0m6 0h0m6 0h0m6 0h0m10 0h0m2 0h0m8 0h0m-132 2h0m20 0h0m4 0h0m2 0h0m2 0h0m4 0h0m4 0h0m6 0h0m44 0h0m8 0h0m4 0h0m4 0h0m2 0h0m4 0h0m6 0h0m2 0h0m2 0h0m2 0h0m12 0h0m-132 2h0m10 0h0m20 0h0m8 0h0m2 0h0m2 0h0m42 0h0m10 0h0m2 0h0m4 0h0m6 0h0m2 0h0m22 0h0m2 0h0m-136 2h0m4 0h0m6 0h0m8 0h0m4 0h0m10 0h0m6 0h0m2 0h0m8 0h0m2 0h0m18 0h0m16 0h0m10 0h0m8 0h0m6 0h0m2 0h0m2 0h0m6 0h0m12 0h0m4 0h0m4 0h0m-130 2h0m4 0h0m2 0h0m14 0h0m4 0h0m4 0h0m4 0h0m8 0h0m46 0h0m8 0h0m2 0h0m2 0h0m2 0h0m2 0h0m4 0h0m4 0h0m4 0h0m10 0h0m-136 2h0m18 0h0m4 0h0m4 0h0m6 0h0m8 0h0m2 0h0m8 0h0m2 0h0m40 0h0m4 0h0m2 0h0m4 0h0m2 0h0m2 0h0m2 0h0m4 0h0m4 0h0m2 0h0m2 0h0m14 0h0m4 0h0m6 0h0m8 0h0m-148 2h0m2 0h0m4 0h0m12 0h0m6 0h0m4 0h0m2 0h0m2 0h0m6 0h0m2 0h0m2 0h0m2 0h0m2 0h0m8 0h0m2 0h0m34 0h0m2 0h0m4 0h0m2 0h0m2 0h0m6 0h0m2 0h0m2 0h0m4 0h0m2 0h0m4 0h0m6 0h0m12 0h0m2 0h0m-140 2h0m14 0h0m2 0h0m2 0h0m2 0h0m2 0h0m2 0h0m6 0h0m8 0h0m4 0h0m2 0h0m2 0h0m2 0h0m2 0h0m2 0h0m2 0h0m2 0h0m38 0h0m4 0h0m2 0h0m4 0h0m10 0h0m2 0h0m2 0h0m4 0h0m4 0h0m28 0h0m-170 2h0m24 0h0m12 0h0m2 0h0m2 0h0m2 0h0m2 0h0m2 0h0m4 0h0m4 0h0m4 0h0m2 0h0m2 0h0m2 0h0m2 0h0m2 0h0m14 0h0m22 0h0m12 0h0m2 0h0m4 0h0m2 0h0m2 0h0m4 0h0m2 0h0m4 0h0m2 0h0m4 0h0m2 0h0m2 0h0m2 0h0m-130 2h0m10 0h0m2 0h0m2 0h0m2 0h0m2 0h0m2 0h0m2 0h0m2 0h0m4 0h0m4 0h0m2 0h0m2 0h0m2 0h0m4 0h0m20 0h0m20 0h0m2 0h0m2 0h0m2 0h0m8 0h0m2 0h0m2 0h0m8 0h0m4 0h0m4 0h0m2 0h0m2 0h0m2 0h0m16 0h0m4 0h0m-134 2h0m4 0h0m6 0h0m4 0h0m2 0h0m12 0h0m2 0h0m4 0h0m2 0h0m6 0h0m10 0h0m22 0h0m2 0h0m2 0h0m2 0h0m4 0h0m2 0h0m2 0h0m2 0h0m2 0h0m2 0h0m4 0h0m2 0h0m2 0h0m8 0h0m12 0h0m2 0h0m2 0h0m4 0h0m-150 2h0m14 0h0m8 0h0m2 0h0m4 0h0m6 0h0m4 0h0m2 0h0m8 0h0m2 0h0m2 0h0m2 0h0m4 0h0m2 0h0m2 0h0m4 0h0m16 0h0m14 0h0m2 0h0m2 0h0m8 0h0m2 0h0m2 0h0m10 0h0m2 0h0m10 0h0m2 0h0m4 0h0m8 0h0m4 0h0m-136 2h0m4 0h0m2 0h0m8 0h0m2 0h0m2 0h0m2 0h0m2 0h0m2 0h0m2 0h0m2 0h0m2 0h0m4 0h0m2 0h0m2 0h0m2 0h0m2 0h0m2 0h0m2 0h0m6 0h0m22 0h0m2 0h0m4 0h0m2 0h0m2 0h0m4 0h0m2 0h0m2 0h0m4 0h0m2 0h0m8 0h0m4 0h0m2 0h0m2 0h0m18 0h0m14 0h0m-154 2h0m2 0h0m4 0h0m2 0h0m12 0h0m2 0h0m2 0h0m2 0h0m4 0h0m2 0h0m2 0h0m2 0h0m2 0h0m2 0h0m2 0h0m2 0h0m2 0h0m2 0h0m4 0h0m2 0h0m2 0h0m2 0h0m2 0h0m2 0h0m24 0h0m8 0h0m2 0h0m2 0h0m2 0h0m2 0h0m2 0h0m6 0h0m2 0h0m2 0h0m2 0h0m2 0h0m2 0h0m4 0h0m2 0h0m2 0h0m6 0h0m4 0h0m2 0h0m8 0h0m4 0h0m-156 2h0m2 0h0m2 0h0m2 0h0m6 0h0m2 0h0m6 0h0m4 0h0m2 0h0m6 0h0m4 0h0m2 0h0m2 0h0m2 0h0m2 0h0m2 0h0m2 0h0m2 0h0m6 0h0m2 0h0m2 0h0m8 0h0m22 0h0m2 0h0m2 0h0m2 0h0m2 0h0m2 0h0m4 0h0m2 0h0m2 0h0m6 0h0m4 0h0m2 0h0m2 0h0m2 0h0m6 0h0m2 0h0m4 0h0m26 0h0m10 0h0m-158 2h0m4 0h0m2 0h0m2 0h0m2 0h0m2 0h0m2 0h0m2 0h0m2 0h0m4 0h0m4 0h0m2 0h0m2 0h0m4 0h0m2 0h0m2 0h0m2 0h0m2 0h0m2 0h0m2 0h0m6 0h0m14 0h0m4 0h0m2 0h0m6 0h0m2 0h0m2 0h0m2 0h0m2 0h0m2 0h0m4 0h0m2 0h0m2 0h0m2 0h0m2 0h0m2 0h0m2 0h0m4 0h0m2 0h0m6 0h0m2 0h0m2 0h0m2 0h0m6 0h0m2 0h0m2 0h0m20 0h0m-174 2h0m6 0h0m8 0h0m12 0h0m4 0h0m4 0h0m6 0h0m2 0h0m2 0h0m2 0h0m2 0h0m2 0h0m4 0h0m2 0h0m2 0h0m2 0h0m2 0h0m2 0h0m2 0h0m2 0h0m2 0h0m8 0h0m6 0h0m2 0h0m8 0h0m2 0h0m2 0h0m4 0h0m2 0h0m2 0h0m2 0h0m2 0h0m2 0h0m2 0h0m2 0h0m4 0h0m2 0h0m4 0h0m2 0h0m4 0h0m2 0h0m2 0h0m2 0h0m2 0h0m2 0h0m4 0h0m8 0h0m-166 2h0m6 0h0m10 0h0m12 0h0m4 0h0m2 0h0m4 0h0m4 0h0m2 0h0m2 0h0m2 0h0m2 0h0m2 0h0m2 0h0m2 0h0m2 0h0m2 0h0m2 0h0m2 0h0m2 0h0m2 0h0m2 0h0m4 0h0m2 0h0m2 0h0m2 0h0m2 0h0m2 0h0m2 0h0m6 0h0m2 0h0m4 0h0m8 0h0m2 0h0m2 0h0m4 0h0m2 0h0m2 0h0m2 0h0m2 0h0m2 0h0m2 0h0m4 0h0m2 0h0m6 0h0m2 0h0m2 0h0m4 0h0m2 0h0m6 0h0m4 0h0m2 0h0m8 0h0m-158 2h0m20 0h0m4 0h0m2 0h0m4 0h0m6 0h0m2 0h0m2 0h0m2 0h0m2 0h0m2 0h0m2 0h0m2 0h0m2 0h0m2 0h0m2 0h0m2 0h0m2 0h0m2 0h0m2 0h0m2 0h0m2 0h0m2 0h0m2 0h0m6 0h0m10 0h0m6 0h0m2 0h0m2 0h0m2 0h0m2 0h0m2 0h0m4 0h0m2 0h0m4 0h0m2 0h0m2 0h0m2 0h0m2 0h0m2 0h0m4 0h0m2 0h0m2 0h0m2 0h0m4 0h0m4 0h0m4 0h0m2 0h0m2 0h0m2 0h0m4 0h0m-164 2h0m14 0h0m6 0h0m2 0h0m2 0h0m2 0h0m2 0h0m2 0h0m2 0h0m2 0h0m2 0h0m4 0h0m4 0h0m2 0h0m2 0h0m2 0h0m2 0h0m2 0h0m2 0h0m2 0h0m2 0h0m2 0h0m2 0h0m2 0h0m2 0h0m2 0h0m2 0h0m2 0h0m2 0h0m2 0h0m2 0h0m2 0h0m2 0h0m6 0h0m4 0h0m8 0h0m4 0h0m2 0h0m2 0h0m2 0h0m2 0h0m2 0h0m2 0h0m2 0h0m2 0h0m2 0h0m2 0h0m2 0h0m2 0h0m2 0h0m2 0h0m2 0h0m2 0h0m2 0h0m2 0h0m2 0h0m4 0h0m2 0h0m2 0h0m2 0h0m2 0h0m6 0h0m2 0h0m2 0h0m12 0h0m2 0h0m2 0h0m-176 2h0m2 0h0m2 0h0m4 0h0m10 0h0m4 0h0m2 0h0m2 0h0m6 0h0m2 0h0m2 0h0m2 0h0m2 0h0m2 0h0m2 0h0m2 0h0m4 0h0m2 0h0m4 0h0m2 0h0m2 0h0m2 0h0m2 0h0m2 0h0m2 0h0m2 0h0m2 0h0m2 0h0m2 0h0m4 0h0m2 0h0m2 0h0m2 0h0m2 0h0m2 0h0m4 0h0m2 0h0m2 0h0m4 0h0m2 0h0m2 0h0m2 0h0m2 0h0m2 0h0m2 0h0m2 0h0m2 0h0m2 0h0m2 0h0m2 0h0m2 0h0m2 0h0m4 0h0m2 0h0m6 0h0m2 0h0m2 0h0m2 0h0m4 0h0m4 0h0m2 0h0m6 0h0m14 0h0m-202 2h0m14 0h0m10 0h0m10 0h0m2 0h0m2 0h0m2 0h0m2 0h0m6 0h0m2 0h0m2 0h0m2 0h0m4 0h0m4 0h0m2 0h0m2 0h0m2 0h0m2 0h0m2 0h0m2 0h0m2 0h0m2 0h0m2 0h0m2 0h0m2 0h0m2 0h0m2 0h0m2 0h0m2 0h0m2 0h0m2 0h0m2 0h0m2 0h0m2 0h0m2 0h0m2 0h0m2 0h0m4 0h0m2 0h0m2 0h0m2 0h0m2 0h0m4 0h0m2 0h0m2 0h0m2 0h0m2 0h0m2 0h0m2 0h0m2 0h0m2 0h0m2 0h0m2 0h0m2 0h0m2 0h0m2 0h0m4 0h0m2 0h0m2 0h0m2 0h0m2 0h0m2 0h0m2 0h0m2 0h0m2 0h0m2 0h0m2 0h0m8 0h0m2 0h0m12 0h0m4 0h0m6 0h0m-200 2h0m28 0h0m4 0h0m2 0h0m2 0h0m4 0h0m2 0h0m2 0h0m2 0h0m10 0h0m2 0h0m2 0h0m2 0h0m2 0h0m2 0h0m2 0h0m2 0h0m2 0h0m2 0h0m2 0h0m4 0h0m2 0h0m2 0h0m2 0h0m2 0h0m2 0h0m2 0h0m2 0h0m2 0h0m2 0h0m2 0h0m2 0h0m6 0h0m2 0h0m2 0h0m2 0h0m4 0h0m2 0h0m2 0h0m2 0h0m2 0h0m2 0h0m2 0h0m2 0h0m2 0h0m2 0h0m2 0h0m2 0h0m2 0h0m2 0h0m2 0h0m2 0h0m2 0h0m2 0h0m2 0h0m4 0h0m4 0h0m2 0h0m6 0h0m2 0h0m2 0h0m2 0h0m4 0h0m6 0h0m4 0h0m6 0h0m2 0h0m6 0h0m22 0h0" stroke="#1a1614" stroke-opacity="0.28" stroke-width="4" stroke-linecap="round" fill="none"/>
<path d="M1203 727h0m112 46h0m-86 6h0m70 4h0m-70 6h0m84 2h0m-116 2h0m100 4h0m2 6h0m20 4h0m-92 2h0m-14 4h0m80 0h0m20 0h0m10 4h0m-26 2h0m6 2h0m-14 2h0m26 2h0m-98 6h0m80 0h0m10 4h0m-80 2h0m70 0h0m8 0h0m2 2h0m-98 4h0m4 0h0m110 0h0m-16 2h0m-20 2h0m-58 2h0m-38 2h0m112 0h0m2 0h0m-88 2h0m6 0h0m-20 2h0m12 0h0m2 0h0m80 0h0m-76 2h0m66 0h0m18 0h0m-82 2h0m70 0h0m4 0h0m6 0h0m-78 2h0m68 0h0m-88 2h0m78 0h0m30 0h0m-124 2h0m24 0h0m10 0h0m8 0h0m62 0h0m22 0h0m-120 2h0m22 0h0m8 0h0m86 0h0m-98 2h0m-2 2h0m8 0h0m88 0h0m6 0h0m-110 2h0m24 0h0m74 0h0m2 0h0m2 0h0m-98 2h0m6 0h0m84 0h0m-112 2h0m14 0h0m22 0h0m14 0h0m4 0h0m50 0h0m2 0h0m4 0h0m2 0h0m2 0h0m6 0h0m-110 2h0m12 0h0m18 0h0m68 0h0m8 0h0m6 0h0m12 0h0m-110 2h0m8 0h0m2 0h0m10 0h0m10 0h0m-46 2h0m16 0h0m8 0h0m14 0h0m70 0h0m-104 2h0m8 0h0m14 0h0m6 0h0m58 0h0m4 0h0m4 0h0m14 0h0m6 0h0m20 0h0m-138 2h0m4 0h0m6 0h0m12 0h0m18 0h0m50 0h0m16 0h0m2 0h0m2 0h0m14 0h0m-114 2h0m12 0h0m4 0h0m2 0h0m14 0h0m2 0h0m52 0h0m6 0h0m18 0h0m4 0h0m10 0h0m-124 2h0m12 0h0m12 0h0m64 0h0m20 0h0m-16 2h0m6 0h0m2 0h0m2 0h0m4 0h0m8 0h0m2 0h0m-110 2h0m2 0h0m12 0h0m6 0h0m4 0h0m38 0h0m12 0h0m2 0h0m2 0h0m6 0h0m10 0h0m-104 2h0m2 0h0m4 0h0m6 0h0m4 0h0m2 0h0m2 0h0m8 0h0m2 0h0m54 0h0m4 0h0m6 0h0m6 0h0m12 0h0m2 0h0m4 0h0m6 0h0m6 0h0m-128 2h0m4 0h0m6 0h0m2 0h0m2 0h0m6 0h0m4 0h0m34 0h0m4 0h0m20 0h0m6 0h0m-82 2h0m8 0h0m4 0h0m6 0h0m10 0h0m48 0h0m16 0h0m2 0h0m2 0h0m6 0h0m10 0h0m-132 2h0m20 0h0m4 0h0m4 0h0m4 0h0m2 0h0m6 0h0m4 0h0m2 0h0m46 0h0m12 0h0m2 0h0m8 0h0m2 0h0m2 0h0m8 0h0m20 0h0m-126 2h0m8 0h0m4 0h0m2 0h0m4 0h0m2 0h0m2 0h0m2 0h0m2 0h0m10 0h0m2 0h0m28 0h0m4 0h0m8 0h0m4 0h0m4 0h0m8 0h0m6 0h0m6 0h0m14 0h0m-144 2h0m12 0h0m14 0h0m2 0h0m4 0h0m4 0h0m4 0h0m2 0h0m6 0h0m2 0h0m6 0h0m38 0h0m6 0h0m6 0h0m4 0h0m8 0h0m2 0h0m8 0h0m12 0h0m12 0h0m-140 2h0m10 0h0m8 0h0m4 0h0m2 0h0m8 0h0m4 0h0m2 0h0m36 0h0m16 0h0m2 0h0m2 0h0m8 0h0m2 0h0m6 0h0m18 0h0m-134 2h0m4 0h0m6 0h0m4 0h0m2 0h0m2 0h0m2 0h0m2 0h0m2 0h0m6 0h0m2 0h0m4 0h0m2 0h0m2 0h0m4 0h0m44 0h0m4 0h0m2 0h0m4 0h0m2 0h0m4 0h0m2 0h0m2 0h0m2 0h0m4 0h0m4 0h0m4 0h0m6 0h0m6 0h0m6 0h0m8 0h0m-144 2h0m8 0h0m6 0h0m2 0h0m2 0h0m2 0h0m2 0h0m2 0h0m2 0h0m4 0h0m2 0h0m4 0h0m10 0h0m12 0h0m22 0h0m16 0h0m4 0h0m2 0h0m20 0h0m6 0h0m4 0h0m-142 2h0m12 0h0m8 0h0m2 0h0m6 0h0m4 0h0m4 0h0m2 0h0m4 0h0m2 0h0m4 0h0m2 0h0m10 0h0m36 0h0m2 0h0m2 0h0m4 0h0m2 0h0m4 0h0m6 0h0m2 0h0m2 0h0m2 0h0m2 0h0m2 0h0m2 0h0m22 0h0m-152 2h0m10 0h0m10 0h0m8 0h0m8 0h0m2 0h0m4 0h0m2 0h0m2 0h0m2 0h0m2 0h0m4 0h0m4 0h0m2 0h0m2 0h0m8 0h0m6 0h0m28 0h0m2 0h0m6 0h0m2 0h0m2 0h0m2 0h0m6 0h0m2 0h0m2 0h0m10 0h0m4 0h0m18 0h0m-136 2h0m2 0h0m2 0h0m4 0h0m6 0h0m2 0h0m2 0h0m2 0h0m2 0h0m2 0h0m2 0h0m4 0h0m2 0h0m2 0h0m4 0h0m32 0h0m4 0h0m2 0h0m2 0h0m4 0h0m4 0h0m2 0h0m4 0h0m4 0h0m4 0h0m2 0h0m6 0h0m2 0h0m6 0h0m2 0h0m8 0h0m4 0h0m-146 2h0m16 0h0m6 0h0m2 0h0m2 0h0m4 0h0m2 0h0m4 0h0m2 0h0m2 0h0m2 0h0m6 0h0m2 0h0m2 0h0m2 0h0m4 0h0m12 0h0m12 0h0m2 0h0m2 0h0m4 0h0m2 0h0m2 0h0m2 0h0m2 0h0m2 0h0m6 0h0m2 0h0m2 0h0m2 0h0m4 0h0m2 0h0m2 0h0m2 0h0m2 0h0m6 0h0m2 0h0m4 0h0m-130 2h0m8 0h0m2 0h0m2 0h0m2 0h0m2 0h0m2 0h0m2 0h0m2 0h0m2 0h0m2 0h0m2 0h0m8 0h0m2 0h0m2 0h0m2 0h0m6 0h0m26 0h0m6 0h0m2 0h0m6 0h0m2 0h0m2 0h0m6 0h0m2 0h0m4 0h0m2 0h0m2 0h0m10 0h0m2 0h0m2 0h0m4 0h0m6 0h0m-136 2h0m12 0h0m2 0h0m6 0h0m2 0h0m4 0h0m2 0h0m2 0h0m10 0h0m4 0h0m2 0h0m4 0h0m4 0h0m8 0h0m14 0h0m4 0h0m4 0h0m4 0h0m2 0h0m2 0h0m2 0h0m2 0h0m2 0h0m4 0h0m2 0h0m2 0h0m2 0h0m2 0h0m4 0h0m6 0h0m2 0h0m4 0h0m8 0h0m6 0h0m-160 2h0m24 0h0m12 0h0m2 0h0m2 0h0m2 0h0m2 0h0m2 0h0m2 0h0m2 0h0m2 0h0m2 0h0m2 0h0m2 0h0m2 0h0m2 0h0m6 0h0m12 0h0m2 0h0m2 0h0m16 0h0m6 0h0m2 0h0m2 0h0m4 0h0m2 0h0m2 0h0m2 0h0m2 0h0m2 0h0m2 0h0m2 0h0m2 0h0m2 0h0m2 0h0m2 0h0m8 0h0m6 0h0m2 0h0m8 0h0m12 0h0m-182 2h0m20 0h0m18 0h0m6 0h0m6 0h0m6 0h0m2 0h0m4 0h0m2 0h0m2 0h0m2 0h0m2 0h0m4 0h0m2 0h0m2 0h0m2 0h0m2 0h0m2 0h0m30 0h0m2 0h0m6 0h0m2 0h0m2 0h0m2 0h0m2 0h0m2 0h0m2 0h0m4 0h0m6 0h0m2 0h0m4 0h0m6 0h0m2 0h0m8 0h0m12 0h0m20 0h0m-188 2h0m14 0h0m6 0h0m10 0h0m4 0h0m6 0h0m2 0h0m2 0h0m2 0h0m2 0h0m2 0h0m4 0h0m2 0h0m2 0h0m2 0h0m2 0h0m2 0h0m4 0h0m2 0h0m10 0h0m4 0h0m10 0h0m2 0h0m2 0h0m2 0h0m2 0h0m2 0h0m6 0h0m2 0h0m2 0h0m2 0h0m2 0h0m2 0h0m2 0h0m4 0h0m2 0h0m4 0h0m2 0h0m2 0h0m2 0h0m2 0h0m4 0h0m4 0h0m-132 2h0m2 0h0m2 0h0m4 0h0m6 0h0m2 0h0m2 0h0m2 0h0m2 0h0m2 0h0m2 0h0m4 0h0m2 0h0m2 0h0m2 0h0m4 0h0m2 0h0m2 0h0m2 0h0m2 0h0m4 0h0m2 0h0m2 0h0m2 0h0m2 0h0m8 0h0m4 0h0m8 0h0m6 0h0m2 0h0m2 0h0m2 0h0m2 0h0m2 0h0m2 0h0m2 0h0m2 0h0m2 0h0m2 0h0m2 0h0m2 0h0m2 0h0m2 0h0m2 0h0m4 0h0m2 0h0m2 0h0m2 0h0m2 0h0m2 0h0m6 0h0m2 0h0m24 0h0m-172 2h0m12 0h0m2 0h0m12 0h0m2 0h0m2 0h0m2 0h0m2 0h0m2 0h0m4 0h0m2 0h0m4 0h0m2 0h0m2 0h0m2 0h0m2 0h0m2 0h0m2 0h0m2 0h0m2 0h0m2 0h0m2 0h0m2 0h0m2 0h0m6 0h0m12 0h0m2 0h0m4 0h0m2 0h0m2 0h0m4 0h0m2 0h0m2 0h0m2 0h0m2 0h0m2 0h0m2 0h0m2 0h0m2 0h0m2 0h0m2 0h0m2 0h0m2 0h0m2 0h0m2 0h0m2 0h0m2 0h0m2 0h0m4 0h0m8 0h0m2 0h0m6 0h0m6 0h0m4 0h0m8 0h0m40 0h0m-234 2h0m10 0h0m14 0h0m4 0h0m2 0h0m6 0h0m2 0h0m6 0h0m2 0h0m2 0h0m4 0h0m2 0h0m2 0h0m2 0h0m2 0h0m2 0h0m2 0h0m2 0h0m2 0h0m4 0h0m2 0h0m2 0h0m2 0h0m2 0h0m2 0h0m2 0h0m2 0h0m2 0h0m20 0h0m6 0h0m6 0h0m2 0h0m2 0h0m2 0h0m2 0h0m2 0h0m2 0h0m2 0h0m2 0h0m2 0h0m2 0h0m2 0h0m2 0h0m2 0h0m2 0h0m2 0h0m2 0h0m2 0h0m2 0h0m2 0h0m2 0h0m2 0h0m2 0h0m6 0h0m2 0h0m2 0h0m4 0h0m10 0h0m6 0h0m2 0h0m-192 2h0m12 0h0m2 0h0m8 0h0m6 0h0m14 0h0m2 0h0m2 0h0m2 0h0m2 0h0m2 0h0m2 0h0m2 0h0m2 0h0m2 0h0m2 0h0m2 0h0m2 0h0m2 0h0m2 0h0m2 0h0m2 0h0m2 0h0m2 0h0m4 0h0m2 0h0m2 0h0m2 0h0m2 0h0m2 0h0m8 0h0m2 0h0m6 0h0m4 0h0m2 0h0m4 0h0m2 0h0m2 0h0m2 0h0m2 0h0m2 0h0m2 0h0m2 0h0m2 0h0m2 0h0m2 0h0m2 0h0m2 0h0m2 0h0m2 0h0m4 0h0m2 0h0m4 0h0m4 0h0m6 0h0m4 0h0m4 0h0m16 0h0m6 0h0m2 0h0m6 0h0m-206 2h0m28 0h0m2 0h0m6 0h0m2 0h0m4 0h0m2 0h0m4 0h0m2 0h0m2 0h0m2 0h0m2 0h0m2 0h0m2 0h0m2 0h0m2 0h0m2 0h0m2 0h0m2 0h0m2 0h0m2 0h0m2 0h0m2 0h0m2 0h0m2 0h0m2 0h0m2 0h0m2 0h0m2 0h0m2 0h0m2 0h0m2 0h0m2 0h0m2 0h0m2 0h0m2 0h0m2 0h0m2 0h0m4 0h0m2 0h0m2 0h0m2 0h0m2 0h0m2 0h0m2 0h0m2 0h0m2 0h0m2 0h0m2 0h0m2 0h0m2 0h0m2 0h0m2 0h0m2 0h0m2 0h0m2 0h0m2 0h0m2 0h0m2 0h0m4 0h0m2 0h0m2 0h0m4 0h0m2 0h0m8 0h0m2 0h0m2 0h0m2 0h0m2 0h0m4 0h0m4 0h0m-168 2h0m4 0h0m2 0h0m2 0h0m2 0h0m2 0h0m2 0h0m2 0h0m4 0h0m2 0h0m8 0h0m2 0h0m2 0h0m2 0h0m2 0h0m2 0h0m2 0h0m2 0h0m2 0h0m2 0h0m2 0h0m2 0h0m2 0h0m2 0h0m2 0h0m2 0h0m2 0h0m2 0h0m2 0h0m4 0h0m2 0h0m2 0h0m2 0h0m2 0h0m4 0h0m4 0h0m2 0h0m2 0h0m2 0h0m2 0h0m2 0h0m2 0h0m2 0h0m2 0h0m2 0h0m2 0h0m2 0h0m2 0h0m2 0h0m2 0h0m2 0h0m2 0h0m2 0h0m2 0h0m2 0h0m2 0h0m2 0h0m2 0h0m2 0h0m2 0h0m6 0h0m2 0h0m2 0h0m6 0h0m4 0h0m8 0h0m2 0h0m2 0h0m24 0h0m-236 2h0m16 0h0m6 0h0m12 0h0m2 0h0m2 0h0m10 0h0m2 0h0m2 0h0m4 0h0m6 0h0m2 0h0m4 0h0m4 0h0m4 0h0m2 0h0m2 0h0m2 0h0m2 0h0m2 0h0m2 0h0m2 0h0m2 0h0m2 0h0m2 0h0m2 0h0m2 0h0m2 0h0m2 0h0m2 0h0m2 0h0m2 0h0m2 0h0m2 0h0m2 0h0m2 0h0m2 0h0m2 0h0m2 0h0m2 0h0m4 0h0m2 0h0m2 0h0m2 0h0m2 0h0m2 0h0m2 0h0m2 0h0m2 0h0m2 0h0m2 0h0m2 0h0m2 0h0m2 0h0m2 0h0m2 0h0m2 0h0m2 0h0m2 0h0m2 0h0m2 0h0m2 0h0m2 0h0m8 0h0m6 0h0m2 0h0m10 0h0" stroke="#1a1614" stroke-opacity="0.28" stroke-width="4" stroke-linecap="round" fill="none"/>
<path d="M1207 721h0m-4 10h0m8 0h0m92 54h0m12 6h0m-2 6h0m-86 14h0m78 0h0m-16 2h0m10 2h0m-76 4h0m66 2h0m-72 2h0m16 0h0m64 4h0m-14 4h0m-66 2h0m98 0h0m-16 2h0m-70 2h0m-14 2h0m12 2h0m60 0h0m8 0h0m6 0h0m-72 4h0m76 0h0m-2 6h0m6 0h0m2 0h0m-106 2h0m22 0h0m48 0h0m16 0h0m20 0h0m-106 2h0m16 0h0m4 0h0m82 0h0m-90 2h0m10 0h0m4 0h0m-4 2h0m74 2h0m4 0h0m16 0h0m-104 2h0m-16 2h0m6 0h0m4 0h0m10 0h0m68 0h0m18 0h0m-78 2h0m54 0h0m18 0h0m4 0h0m-84 2h0m2 0h0m66 0h0m14 0h0m8 0h0m16 0h0m-106 2h0m72 0h0m-72 2h0m12 0h0m50 0h0m-70 2h0m6 0h0m18 0h0m50 0h0m28 0h0m4 0h0m-114 2h0m8 0h0m78 0h0m2 0h0m-74 2h0m6 0h0m4 0h0m2 0h0m58 0h0m8 0h0m6 0h0m-90 2h0m10 0h0m14 0h0m66 0h0m8 0h0m8 0h0m-110 2h0m18 0h0m4 0h0m46 0h0m14 0h0m12 0h0m2 0h0m-92 2h0m72 0h0m10 0h0m8 0h0m4 0h0m8 0h0m8 0h0m-118 2h0m10 0h0m6 0h0m4 0h0m4 0h0m2 0h0m2 0h0m62 0h0m4 0h0m10 0h0m2 0h0m4 0h0m18 0h0m-136 2h0m6 0h0m6 0h0m2 0h0m76 0h0m6 0h0m8 0h0m4 0h0m24 0h0m-136 2h0m18 0h0m4 0h0m2 0h0m8 0h0m72 0h0m2 0h0m24 0h0m-108 2h0m4 0h0m2 0h0m2 0h0m4 0h0m2 0h0m4 0h0m18 0h0m38 0h0m6 0h0m12 0h0m4 0h0m24 0h0m-130 2h0m6 0h0m6 0h0m2 0h0m18 0h0m42 0h0m2 0h0m10 0h0m6 0h0m2 0h0m4 0h0m4 0h0m22 0h0m-128 2h0m2 0h0m8 0h0m2 0h0m14 0h0m2 0h0m10 0h0m8 0h0m38 0h0m6 0h0m6 0h0m4 0h0m2 0h0m4 0h0m6 0h0m8 0h0m-116 2h0m8 0h0m4 0h0m2 0h0m2 0h0m2 0h0m2 0h0m6 0h0m46 0h0m16 0h0m2 0h0m16 0h0m2 0h0m12 0h0m-108 2h0m2 0h0m2 0h0m6 0h0m4 0h0m8 0h0m44 0h0m2 0h0m2 0h0m2 0h0m4 0h0m10 0h0m2 0h0m24 0h0m-120 2h0m20 0h0m2 0h0m8 0h0m42 0h0m6 0h0m2 0h0m2 0h0m6 0h0m8 0h0m10 0h0m-124 2h0m18 0h0m2 0h0m4 0h0m2 0h0m6 0h0m4 0h0m4 0h0m14 0h0m36 0h0m12 0h0m2 0h0m2 0h0m2 0h0m2 0h0m2 0h0m6 0h0m2 0h0m2 0h0m4 0h0m6 0h0m-140 2h0m14 0h0m2 0h0m2 0h0m10 0h0m2 0h0m2 0h0m14 0h0m8 0h0m8 0h0m28 0h0m8 0h0m20 0h0m10 0h0m2 0h0m6 0h0m2 0h0m8 0h0m6 0h0m-128 2h0m4 0h0m2 0h0m2 0h0m10 0h0m4 0h0m4 0h0m42 0h0m2 0h0m4 0h0m8 0h0m2 0h0m12 0h0m2 0h0m2 0h0m2 0h0m-108 2h0m14 0h0m2 0h0m2 0h0m6 0h0m2 0h0m2 0h0m8 0h0m2 0h0m8 0h0m32 0h0m2 0h0m6 0h0m2 0h0m10 0h0m6 0h0m4 0h0m6 0h0m2 0h0m4 0h0m18 0h0m-136 2h0m8 0h0m2 0h0m4 0h0m2 0h0m4 0h0m2 0h0m2 0h0m2 0h0m2 0h0m4 0h0m4 0h0m34 0h0m2 0h0m12 0h0m2 0h0m4 0h0m6 0h0m2 0h0m2 0h0m2 0h0m2 0h0m2 0h0m4 0h0m2 0h0m2 0h0m-136 2h0m10 0h0m4 0h0m8 0h0m12 0h0m2 0h0m2 0h0m2 0h0m6 0h0m4 0h0m2 0h0m8 0h0m6 0h0m30 0h0m4 0h0m6 0h0m4 0h0m6 0h0m2 0h0m2 0h0m2 0h0m4 0h0m2 0h0m2 0h0m2 0h0m6 0h0m12 0h0m-136 2h0m6 0h0m2 0h0m2 0h0m2 0h0m2 0h0m4 0h0m2 0h0m2 0h0m6 0h0m2 0h0m2 0h0m2 0h0m2 0h0m6 0h0m38 0h0m2 0h0m4 0h0m4 0h0m2 0h0m4 0h0m2 0h0m6 0h0m2 0h0m6 0h0m2 0h0m2 0h0m2 0h0m2 0h0m10 0h0m6 0h0m-138 2h0m2 0h0m4 0h0m2 0h0m6 0h0m4 0h0m2 0h0m4 0h0m4 0h0m4 0h0m2 0h0m2 0h0m6 0h0m4 0h0m4 0h0m30 0h0m12 0h0m10 0h0m2 0h0m2 0h0m2 0h0m4 0h0m2 0h0m2 0h0m10 0h0m6 0h0m10 0h0m-144 2h0m2 0h0m10 0h0m2 0h0m2 0h0m4 0h0m2 0h0m4 0h0m2 0h0m4 0h0m2 0h0m2 0h0m2 0h0m2 0h0m4 0h0m10 0h0m4 0h0m18 0h0m4 0h0m10 0h0m4 0h0m2 0h0m2 0h0m4 0h0m4 0h0m2 0h0m2 0h0m2 0h0m2 0h0m2 0h0m2 0h0m2 0h0m2 0h0m2 0h0m2 0h0m8 0h0m4 0h0m-146 2h0m2 0h0m6 0h0m6 0h0m6 0h0m2 0h0m6 0h0m2 0h0m2 0h0m2 0h0m4 0h0m2 0h0m2 0h0m2 0h0m2 0h0m2 0h0m2 0h0m2 0h0m10 0h0m26 0h0m4 0h0m4 0h0m2 0h0m2 0h0m2 0h0m2 0h0m2 0h0m4 0h0m4 0h0m4 0h0m4 0h0m14 0h0m2 0h0m4 0h0m2 0h0m-130 2h0m2 0h0m8 0h0m4 0h0m4 0h0m4 0h0m2 0h0m2 0h0m2 0h0m2 0h0m2 0h0m2 0h0m2 0h0m2 0h0m2 0h0m2 0h0m2 0h0m2 0h0m28 0h0m4 0h0m4 0h0m2 0h0m2 0h0m2 0h0m2 0h0m2 0h0m2 0h0m2 0h0m2 0h0m4 0h0m2 0h0m2 0h0m4 0h0m4 0h0m4 0h0m6 0h0m6 0h0m-140 2h0m20 0h0m4 0h0m2 0h0m2 0h0m2 0h0m2 0h0m2 0h0m2 0h0m2 0h0m2 0h0m2 0h0m2 0h0m4 0h0m4 0h0m4 0h0m6 0h0m16 0h0m6 0h0m2 0h0m4 0h0m2 0h0m4 0h0m2 0h0m2 0h0m2 0h0m2 0h0m2 0h0m2 0h0m2 0h0m2 0h0m2 0h0m2 0h0m4 0h0m14 0h0m6 0h0m2 0h0m-136 2h0m2 0h0m2 0h0m2 0h0m14 0h0m2 0h0m2 0h0m2 0h0m2 0h0m2 0h0m2 0h0m4 0h0m2 0h0m2 0h0m4 0h0m2 0h0m8 0h0m24 0h0m2 0h0m6 0h0m2 0h0m2 0h0m4 0h0m2 0h0m2 0h0m2 0h0m2 0h0m2 0h0m4 0h0m2 0h0m2 0h0m2 0h0m2 0h0m6 0h0m4 0h0m6 0h0m2 0h0m8 0h0m8 0h0m-178 2h0m20 0h0m14 0h0m4 0h0m2 0h0m6 0h0m2 0h0m2 0h0m2 0h0m2 0h0m2 0h0m4 0h0m2 0h0m2 0h0m2 0h0m2 0h0m2 0h0m2 0h0m2 0h0m2 0h0m2 0h0m2 0h0m6 0h0m22 0h0m2 0h0m2 0h0m2 0h0m2 0h0m2 0h0m2 0h0m2 0h0m4 0h0m2 0h0m4 0h0m2 0h0m2 0h0m2 0h0m2 0h0m2 0h0m2 0h0m2 0h0m4 0h0m2 0h0m16 0h0m4 0h0m2 0h0m-156 2h0m4 0h0m4 0h0m6 0h0m4 0h0m2 0h0m4 0h0m2 0h0m2 0h0m2 0h0m2 0h0m2 0h0m2 0h0m2 0h0m4 0h0m2 0h0m2 0h0m2 0h0m2 0h0m2 0h0m2 0h0m2 0h0m2 0h0m2 0h0m2 0h0m6 0h0m4 0h0m14 0h0m2 0h0m4 0h0m4 0h0m2 0h0m2 0h0m2 0h0m2 0h0m2 0h0m2 0h0m2 0h0m4 0h0m2 0h0m6 0h0m2 0h0m2 0h0m2 0h0m6 0h0m2 0h0m12 0h0m16 0h0m-174 2h0m22 0h0m4 0h0m2 0h0m4 0h0m2 0h0m2 0h0m2 0h0m2 0h0m2 0h0m2 0h0m2 0h0m2 0h0m2 0h0m2 0h0m2 0h0m2 0h0m2 0h0m2 0h0m2 0h0m2 0h0m2 0h0m2 0h0m2 0h0m2 0h0m4 0h0m4 0h0m4 0h0m8 0h0m8 0h0m2 0h0m2 0h0m4 0h0m2 0h0m2 0h0m2 0h0m2 0h0m2 0h0m2 0h0m2 0h0m2 0h0m4 0h0m2 0h0m2 0h0m2 0h0m2 0h0m4 0h0m2 0h0m2 0h0m6 0h0m4 0h0m4 0h0m6 0h0m-184 2h0m14 0h0m6 0h0m2 0h0m12 0h0m4 0h0m4 0h0m2 0h0m4 0h0m2 0h0m2 0h0m2 0h0m6 0h0m2 0h0m4 0h0m2 0h0m2 0h0m2 0h0m2 0h0m2 0h0m2 0h0m2 0h0m2 0h0m2 0h0m2 0h0m2 0h0m2 0h0m2 0h0m4 0h0m14 0h0m2 0h0m2 0h0m2 0h0m2 0h0m2 0h0m2 0h0m2 0h0m2 0h0m2 0h0m2 0h0m2 0h0m2 0h0m2 0h0m2 0h0m2 0h0m2 0h0m2 0h0m2 0h0m2 0h0m2 0h0m4 0h0m4 0h0m4 0h0m6 0h0m2 0h0m2 0h0m16 0h0m-158 2h0m4 0h0m12 0h0m2 0h0m2 0h0m4 0h0m4 0h0m2 0h0m4 0h0m2 0h0m2 0h0m2 0h0m2 0h0m2 0h0m2 0h0m4 0h0m2 0h0m2 0h0m2 0h0m2 0h0m2 0h0m2 0h0m2 0h0m2 0h0m2 0h0m4 0h0m2 0h0m2 0h0m4 0h0m4 0h0m2 0h0m2 0h0m2 0h0m2 0h0m2 0h0m2 0h0m2 0h0m2 0h0m2 0h0m2 0h0m2 0h0m2 0h0m2 0h0m2 0h0m2 0h0m2 0h0m2 0h0m4 0h0m2 0h0m12 0h0m2 0h0m6 0h0m4 0h0m16 0h0m2 0h0m8 0h0m-190 2h0m4 0h0m4 0h0m12 0h0m2 0h0m2 0h0m2 0h0m2 0h0m2 0h0m2 0h0m2 0h0m4 0h0m2 0h0m2 0h0m2 0h0m2 0h0m2 0h0m2 0h0m2 0h0m2 0h0m2 0h0m2 0h0m2 0h0m2 0h0m2 0h0m2 0h0m2 0h0m2 0h0m2 0h0m2 0h0m2 0h0m2 0h0m2 0h0m2 0h0m2 0h0m2 0h0m4 0h0m2 0h0m2 0h0m8 0h0m2 0h0m2 0h0m2 0h0m2 0h0m2 0h0m2 0h0m2 0h0m2 0h0m2 0h0m2 0h0m2 0h0m2 0h0m2 0h0m2 0h0m2 0h0m2 0h0m2 0h0m2 0h0m2 0h0m2 0h0m2 0h0m2 0h0m2 0h0m4 0h0m2 0h0m4 0h0m2 0h0m2 0h0m4 0h0m10 0h0m10 0h0m-200 2h0m6 0h0m12 0h0m8 0h0m6 0h0m2 0h0m2 0h0m8 0h0m6 0h0m2 0h0m4 0h0m4 0h0m6 0h0m2 0h0m2 0h0m2 0h0m2 0h0m2 0h0m2 0h0m2 0h0m2 0h0m2 0h0m2 0h0m2 0h0m2 0h0m2 0h0m2 0h0m2 0h0m2 0h0m2 0h0m2 0h0m2 0h0m6 0h0m2 0h0m2 0h0m2 0h0m2 0h0m2 0h0m2 0h0m2 0h0m2 0h0m2 0h0m2 0h0m2 0h0m2 0h0m2 0h0m2 0h0m2 0h0m2 0h0m2 0h0m2 0h0m2 0h0m4 0h0m2 0h0m2 0h0m2 0h0m4 0h0m2 0h0m2 0h0m2 0h0m2 0h0m2 0h0m2 0h0m2 0h0m2 0h0m2 0h0m18 0h0m14 0h0m4 0h0m4 0h0m-206 2h0m2 0h0m6 0h0m4 0h0m6 0h0m2 0h0m4 0h0m2 0h0m4 0h0m2 0h0m2 0h0m2 0h0m4 0h0m2 0h0m2 0h0m2 0h0m2 0h0m4 0h0m2 0h0m2 0h0m2 0h0m2 0h0m2 0h0m2 0h0m2 0h0m2 0h0m2 0h0m2 0h0m2 0h0m2 0h0m2 0h0m2 0h0m2 0h0m2 0h0m2 0h0m2 0h0m4 0h0m2 0h0m2 0h0m2 0h0m2 0h0m4 0h0m2 0h0m2 0h0m2 0h0m2 0h0m2 0h0m2 0h0m2 0h0m2 0h0m4 0h0m2 0h0m2 0h0m2 0h0m2 0h0m2 0h0m2 0h0m4 0h0m4 0h0m2 0h0m2 0h0m2 0h0m4 0h0m4 0h0m2 0h0m2 0h0m4 0h0m6 0h0m12 0h0m2 0h0m2 0h0m6 0h0m8 0h0" stroke="#1a1614" stroke-opacity="0.28" stroke-width="4" stroke-linecap="round" fill="none"/>
<path d="M1199 793h0m102 2h0m-82 4h0m80 6h0m-76 2h0m68 0h0m16 0h0m-28 2h0m34 2h0m-104 6h0m92 0h0m0 2h0m-86 2h0m74 2h0m-62 2h0m82 0h0m-6 4h0m2 0h0m-94 2h0m6 2h0m-12 4h0m-4 2h0m6 0h0m84 2h0m4 0h0m-72 2h0m70 2h0m8 0h0m12 0h0m4 0h0m-10 2h0m-94 4h0m4 0h0m-16 2h0m94 0h0m-10 2h0m10 0h0m-90 2h0m28 0h0m74 0h0m-98 2h0m0 2h0m12 2h0m10 0h0m70 0h0m-88 2h0m14 0h0m74 0h0m10 0h0m-20 2h0m10 0h0m-98 2h0m10 0h0m88 0h0m-78 2h0m72 0h0m8 0h0m4 0h0m-4 2h0m-98 2h0m8 0h0m2 0h0m2 0h0m2 0h0m64 0h0m24 0h0m16 0h0m-108 2h0m6 0h0m88 0h0m4 0h0m6 0h0m-110 2h0m22 0h0m56 0h0m10 0h0m12 0h0m6 0h0m-116 2h0m14 0h0m8 0h0m56 0h0m8 0h0m2 0h0m10 0h0m30 0h0m-114 2h0m16 0h0m66 0h0m28 0h0m-114 2h0m6 0h0m4 0h0m66 0h0m12 0h0m6 0h0m8 0h0m8 0h0m-130 2h0m2 0h0m10 0h0m8 0h0m8 0h0m16 0h0m48 0h0m2 0h0m8 0h0m10 0h0m-90 2h0m6 0h0m2 0h0m8 0h0m58 0h0m10 0h0m20 0h0m2 0h0m-116 2h0m14 0h0m22 0h0m42 0h0m14 0h0m2 0h0m4 0h0m6 0h0m8 0h0m6 0h0m4 0h0m6 0h0m6 0h0m-140 2h0m8 0h0m2 0h0m6 0h0m4 0h0m2 0h0m4 0h0m2 0h0m22 0h0m34 0h0m26 0h0m8 0h0m-100 2h0m2 0h0m4 0h0m4 0h0m8 0h0m8 0h0m48 0h0m2 0h0m4 0h0m10 0h0m2 0h0m2 0h0m2 0h0m16 0h0m-122 2h0m4 0h0m2 0h0m4 0h0m6 0h0m14 0h0m2 0h0m36 0h0m8 0h0m10 0h0m10 0h0m10 0h0m2 0h0m8 0h0m-144 2h0m20 0h0m4 0h0m2 0h0m4 0h0m2 0h0m18 0h0m8 0h0m8 0h0m54 0h0m8 0h0m4 0h0m4 0h0m6 0h0m-116 2h0m8 0h0m8 0h0m16 0h0m50 0h0m4 0h0m6 0h0m2 0h0m6 0h0m2 0h0m4 0h0m10 0h0m2 0h0m-122 2h0m8 0h0m2 0h0m6 0h0m2 0h0m4 0h0m2 0h0m6 0h0m2 0h0m2 0h0m6 0h0m6 0h0m40 0h0m4 0h0m8 0h0m2 0h0m4 0h0m6 0h0m2 0h0m2 0h0m4 0h0m10 0h0m2 0h0m-124 2h0m4 0h0m4 0h0m4 0h0m4 0h0m2 0h0m4 0h0m4 0h0m50 0h0m10 0h0m2 0h0m10 0h0m2 0h0m2 0h0m14 0h0m8 0h0m8 0h0m-122 2h0m2 0h0m2 0h0m2 0h0m2 0h0m4 0h0m4 0h0m12 0h0m38 0h0m2 0h0m8 0h0m4 0h0m6 0h0m2 0h0m6 0h0m4 0h0m4 0h0m4 0h0m-102 2h0m4 0h0m4 0h0m4 0h0m2 0h0m12 0h0m32 0h0m6 0h0m2 0h0m2 0h0m2 0h0m2 0h0m16 0h0m6 0h0m2 0h0m2 0h0m6 0h0m8 0h0m-152 2h0m24 0h0m2 0h0m10 0h0m2 0h0m10 0h0m2 0h0m2 0h0m4 0h0m2 0h0m2 0h0m4 0h0m38 0h0m6 0h0m2 0h0m2 0h0m2 0h0m8 0h0m6 0h0m4 0h0m2 0h0m6 0h0m4 0h0m18 0h0m-134 2h0m2 0h0m2 0h0m2 0h0m2 0h0m2 0h0m2 0h0m2 0h0m2 0h0m2 0h0m2 0h0m4 0h0m52 0h0m2 0h0m8 0h0m6 0h0m2 0h0m4 0h0m16 0h0m6 0h0m-126 2h0m8 0h0m2 0h0m4 0h0m2 0h0m2 0h0m4 0h0m2 0h0m2 0h0m2 0h0m4 0h0m2 0h0m2 0h0m40 0h0m4 0h0m2 0h0m4 0h0m2 0h0m6 0h0m2 0h0m2 0h0m2 0h0m2 0h0m6 0h0m4 0h0m2 0h0m4 0h0m-120 2h0m6 0h0m6 0h0m4 0h0m4 0h0m6 0h0m2 0h0m6 0h0m2 0h0m46 0h0m4 0h0m2 0h0m2 0h0m2 0h0m2 0h0m4 0h0m6 0h0m2 0h0m2 0h0m2 0h0m2 0h0m4 0h0m2 0h0m4 0h0m4 0h0m8 0h0m8 0h0m-146 2h0m6 0h0m6 0h0m4 0h0m4 0h0m2 0h0m4 0h0m2 0h0m4 0h0m4 0h0m2 0h0m2 0h0m2 0h0m2 0h0m2 0h0m6 0h0m6 0h0m26 0h0m4 0h0m10 0h0m2 0h0m6 0h0m2 0h0m12 0h0m4 0h0m2 0h0m-132 2h0m4 0h0m6 0h0m2 0h0m4 0h0m6 0h0m4 0h0m4 0h0m4 0h0m2 0h0m4 0h0m2 0h0m2 0h0m2 0h0m10 0h0m30 0h0m4 0h0m2 0h0m4 0h0m6 0h0m2 0h0m2 0h0m2 0h0m4 0h0m8 0h0m2 0h0m2 0h0m2 0h0m2 0h0m2 0h0m6 0h0m-150 2h0m12 0h0m16 0h0m6 0h0m2 0h0m6 0h0m2 0h0m4 0h0m2 0h0m2 0h0m2 0h0m4 0h0m2 0h0m2 0h0m2 0h0m4 0h0m4 0h0m2 0h0m2 0h0m4 0h0m14 0h0m4 0h0m6 0h0m6 0h0m2 0h0m2 0h0m4 0h0m6 0h0m2 0h0m2 0h0m2 0h0m2 0h0m2 0h0m2 0h0m6 0h0m6 0h0m-142 2h0m2 0h0m6 0h0m6 0h0m6 0h0m2 0h0m2 0h0m6 0h0m4 0h0m2 0h0m4 0h0m4 0h0m2 0h0m2 0h0m2 0h0m2 0h0m2 0h0m4 0h0m2 0h0m2 0h0m2 0h0m2 0h0m24 0h0m6 0h0m4 0h0m6 0h0m4 0h0m2 0h0m2 0h0m2 0h0m2 0h0m2 0h0m2 0h0m4 0h0m2 0h0m2 0h0m2 0h0m2 0h0m4 0h0m4 0h0m2 0h0m-144 2h0m26 0h0m4 0h0m2 0h0m2 0h0m2 0h0m2 0h0m2 0h0m2 0h0m2 0h0m2 0h0m2 0h0m2 0h0m2 0h0m2 0h0m2 0h0m2 0h0m6 0h0m32 0h0m4 0h0m2 0h0m2 0h0m2 0h0m2 0h0m2 0h0m2 0h0m2 0h0m2 0h0m4 0h0m2 0h0m2 0h0m2 0h0m6 0h0m4 0h0m4 0h0m18 0h0m-166 2h0m18 0h0m4 0h0m4 0h0m2 0h0m4 0h0m2 0h0m6 0h0m2 0h0m4 0h0m2 0h0m2 0h0m2 0h0m2 0h0m2 0h0m2 0h0m8 0h0m4 0h0m2 0h0m2 0h0m2 0h0m14 0h0m2 0h0m12 0h0m2 0h0m2 0h0m6 0h0m2 0h0m4 0h0m2 0h0m2 0h0m2 0h0m2 0h0m2 0h0m2 0h0m2 0h0m4 0h0m4 0h0m6 0h0m2 0h0m2 0h0m4 0h0m-148 2h0m30 0h0m4 0h0m2 0h0m2 0h0m2 0h0m2 0h0m2 0h0m2 0h0m6 0h0m2 0h0m2 0h0m6 0h0m2 0h0m4 0h0m8 0h0m12 0h0m8 0h0m2 0h0m2 0h0m2 0h0m2 0h0m4 0h0m2 0h0m2 0h0m2 0h0m4 0h0m2 0h0m4 0h0m2 0h0m2 0h0m4 0h0m2 0h0m2 0h0m4 0h0m6 0h0m2 0h0m4 0h0m6 0h0m2 0h0m2 0h0m-146 2h0m4 0h0m2 0h0m4 0h0m2 0h0m2 0h0m2 0h0m2 0h0m2 0h0m2 0h0m2 0h0m2 0h0m2 0h0m2 0h0m2 0h0m2 0h0m4 0h0m2 0h0m2 0h0m2 0h0m2 0h0m2 0h0m4 0h0m2 0h0m14 0h0m10 0h0m2 0h0m2 0h0m2 0h0m2 0h0m2 0h0m2 0h0m2 0h0m2 0h0m2 0h0m2 0h0m2 0h0m2 0h0m2 0h0m2 0h0m4 0h0m2 0h0m2 0h0m2 0h0m4 0h0m2 0h0m2 0h0m12 0h0m2 0h0m-164 2h0m16 0h0m6 0h0m2 0h0m4 0h0m6 0h0m6 0h0m2 0h0m2 0h0m2 0h0m2 0h0m2 0h0m4 0h0m2 0h0m2 0h0m2 0h0m2 0h0m2 0h0m4 0h0m2 0h0m4 0h0m4 0h0m8 0h0m10 0h0m12 0h0m2 0h0m2 0h0m2 0h0m2 0h0m2 0h0m2 0h0m2 0h0m2 0h0m2 0h0m2 0h0m2 0h0m4 0h0m2 0h0m2 0h0m2 0h0m4 0h0m2 0h0m2 0h0m4 0h0m2 0h0m2 0h0m8 0h0m12 0h0m6 0h0m-184 2h0m18 0h0m2 0h0m8 0h0m4 0h0m2 0h0m4 0h0m4 0h0m4 0h0m2 0h0m2 0h0m2 0h0m2 0h0m2 0h0m2 0h0m2 0h0m2 0h0m2 0h0m2 0h0m4 0h0m2 0h0m2 0h0m2 0h0m2 0h0m2 0h0m4 0h0m4 0h0m8 0h0m4 0h0m4 0h0m4 0h0m2 0h0m4 0h0m2 0h0m2 0h0m2 0h0m2 0h0m2 0h0m2 0h0m2 0h0m2 0h0m2 0h0m2 0h0m2 0h0m2 0h0m2 0h0m2 0h0m2 0h0m2 0h0m2 0h0m4 0h0m2 0h0m2 0h0m2 0h0m2 0h0m2 0h0m2 0h0m2 0h0m36 0h0m-208 2h0m14 0h0m2 0h0m10 0h0m2 0h0m4 0h0m2 0h0m8 0h0m2 0h0m2 0h0m2 0h0m2 0h0m2 0h0m2 0h0m2 0h0m2 0h0m2 0h0m2 0h0m2 0h0m2 0h0m2 0h0m2 0h0m2 0h0m2 0h0m2 0h0m2 0h0m2 0h0m2 0h0m2 0h0m6 0h0m4 0h0m10 0h0m6 0h0m2 0h0m4 0h0m2 0h0m2 0h0m2 0h0m2 0h0m2 0h0m2 0h0m2 0h0m2 0h0m2 0h0m2 0h0m2 0h0m4 0h0m2 0h0m2 0h0m2 0h0m2 0h0m2 0h0m2 0h0m2 0h0m2 0h0m4 0h0m2 0h0m2 0h0m4 0h0m10 0h0m4 0h0m-178 2h0m6 0h0m4 0h0m4 0h0m4 0h0m2 0h0m2 0h0m2 0h0m2 0h0m2 0h0m2 0h0m6 0h0m4 0h0m2 0h0m2 0h0m2 0h0m2 0h0m2 0h0m2 0h0m2 0h0m2 0h0m2 0h0m2 0h0m2 0h0m2 0h0m2 0h0m2 0h0m2 0h0m2 0h0m2 0h0m2 0h0m2 0h0m2 0h0m2 0h0m2 0h0m4 0h0m2 0h0m2 0h0m4 0h0m2 0h0m2 0h0m2 0h0m2 0h0m2 0h0m2 0h0m2 0h0m2 0h0m2 0h0m2 0h0m2 0h0m2 0h0m2 0h0m2 0h0m2 0h0m2 0h0m2 0h0m2 0h0m2 0h0m4 0h0m2 0h0m4 0h0m2 0h0m4 0h0m2 0h0m2 0h0m4 0h0m8 0h0m4 0h0m22 0h0m-196 2h0m10 0h0m2 0h0m2 0h0m6 0h0m4 0h0m2 0h0m2 0h0m6 0h0m2 0h0m2 0h0m4 0h0m4 0h0m2 0h0m2 0h0m2 0h0m2 0h0m2 0h0m2 0h0m2 0h0m2 0h0m2 0h0m2 0h0m2 0h0m2 0h0m2 0h0m2 0h0m2 0h0m2 0h0m2 0h0m2 0h0m2 0h0m2 0h0m2 0h0m2 0h0m2 0h0m2 0h0m4 0h0m2 0h0m2 0h0m2 0h0m2 0h0m2 0h0m2 0h0m2 0h0m2 0h0m2 0h0m2 0h0m2 0h0m2 0h0m2 0h0m2 0h0m2 0h0m2 0h0m2 0h0m2 0h0m2 0h0m2 0h0m2 0h0m2 0h0m2 0h0m4 0h0m2 0h0m2 0h0m2 0h0m8 0h0m2 0h0m4 0h0m2 0h0m2 0h0m2 0h0m4 0h0m-180 2h0m36 0h0m2 0h0m10 0h0m2 0h0m2 0h0m2 0h0m2 0h0m2 0h0m2 0h0m2 0h0m2 0h0m2 0h0m2 0h0m2 0h0m2 0h0m2 0h0m2 0h0m2 0h0m2 0h0m2 0h0m2 0h0m2 0h0m2 0h0m2 0h0m2 0h0m2 0h0m2 0h0m6 0h0m2 0h0m2 0h0m2 0h0m2 0h0m2 0h0m2 0h0m2 0h0m2 0h0m2 0h0m2 0h0m2 0h0m2 0h0m2 0h0m2 0h0m2 0h0m2 0h0m2 0h0m2 0h0m2 0h0m2 0h0m2 0h0m4 0h0m4 0h0m2 0h0m6 0h0m8 0h0m2 0h0m6 0h0m10 0h0m14 0h0m34 0h0" stroke="#1a1614" stroke-opacity="0.28" stroke-width="4" stroke-linecap="round" fill="none"/>
<path d="M1297 729h0m18 38h0m-104 18h0m108 24h0m-98 2h0m78 2h0m-78 6h0m2 0h0m84 0h0m-8 6h0m-94 2h0m14 0h0m82 4h0m8 0h0m-98 4h0m64 2h0m-58 2h0m100 0h0m-102 4h0m4 0h0m6 0h0m68 0h0m22 2h0m-112 2h0m82 0h0m4 0h0m-78 2h0m22 0h0m54 0h0m18 0h0m-86 2h0m2 0h0m0 2h0m2 0h0m-8 2h0m-12 2h0m8 0h0m10 0h0m72 0h0m12 0h0m-96 2h0m6 0h0m2 0h0m6 2h0m12 0h0m68 0h0m-110 2h0m30 0h0m94 0h0m-112 2h0m16 2h0m74 0h0m2 0h0m4 0h0m-98 2h0m10 0h0m130 0h0m-140 4h0m4 0h0m2 0h0m12 0h0m64 0h0m32 0h0m2 0h0m-112 2h0m8 0h0m12 0h0m72 0h0m4 0h0m-108 2h0m94 0h0m10 0h0m-102 2h0m4 0h0m6 0h0m2 0h0m96 0h0m4 0h0m4 0h0m-82 2h0m4 0h0m4 0h0m56 0h0m10 0h0m10 0h0m-98 2h0m10 0h0m4 0h0m80 0h0m12 0h0m-128 2h0m14 0h0m10 0h0m60 0h0m20 0h0m8 0h0m6 0h0m-110 2h0m10 0h0m8 0h0m8 0h0m8 0h0m58 0h0m10 0h0m8 0h0m-104 2h0m4 0h0m12 0h0m2 0h0m54 0h0m18 0h0m2 0h0m4 0h0m-94 2h0m6 0h0m72 0h0m12 0h0m2 0h0m4 0h0m12 0h0m-106 2h0m10 0h0m10 0h0m52 0h0m2 0h0m14 0h0m20 0h0m-106 2h0m4 0h0m6 0h0m4 0h0m48 0h0m18 0h0m4 0h0m6 0h0m18 0h0m2 0h0m-126 2h0m12 0h0m4 0h0m2 0h0m2 0h0m6 0h0m6 0h0m2 0h0m60 0h0m2 0h0m6 0h0m2 0h0m2 0h0m2 0h0m8 0h0m-134 2h0m14 0h0m6 0h0m26 0h0m4 0h0m6 0h0m44 0h0m2 0h0m4 0h0m2 0h0m4 0h0m2 0h0m4 0h0m2 0h0m6 0h0m-116 2h0m16 0h0m2 0h0m8 0h0m16 0h0m10 0h0m44 0h0m2 0h0m4 0h0m4 0h0m12 0h0m12 0h0m2 0h0m-122 2h0m16 0h0m12 0h0m2 0h0m54 0h0m6 0h0m2 0h0m4 0h0m4 0h0m4 0h0m4 0h0m8 0h0m8 0h0m-122 2h0m4 0h0m2 0h0m12 0h0m2 0h0m2 0h0m2 0h0m6 0h0m10 0h0m38 0h0m10 0h0m8 0h0m2 0h0m2 0h0m2 0h0m2 0h0m4 0h0m-112 2h0m8 0h0m6 0h0m6 0h0m4 0h0m6 0h0m4 0h0m2 0h0m4 0h0m8 0h0m30 0h0m6 0h0m4 0h0m4 0h0m2 0h0m4 0h0m2 0h0m4 0h0m8 0h0m-132 2h0m20 0h0m2 0h0m6 0h0m6 0h0m4 0h0m6 0h0m4 0h0m4 0h0m4 0h0m2 0h0m30 0h0m6 0h0m12 0h0m8 0h0m2 0h0m2 0h0m2 0h0m8 0h0m2 0h0m10 0h0m6 0h0m6 0h0m-132 2h0m2 0h0m4 0h0m10 0h0m2 0h0m2 0h0m8 0h0m4 0h0m2 0h0m4 0h0m44 0h0m2 0h0m4 0h0m2 0h0m8 0h0m2 0h0m4 0h0m4 0h0m4 0h0m2 0h0m2 0h0m4 0h0m4 0h0m-136 2h0m18 0h0m2 0h0m2 0h0m6 0h0m2 0h0m6 0h0m4 0h0m6 0h0m4 0h0m8 0h0m34 0h0m2 0h0m2 0h0m4 0h0m4 0h0m4 0h0m2 0h0m4 0h0m2 0h0m2 0h0m6 0h0m2 0h0m4 0h0m12 0h0m-148 2h0m20 0h0m2 0h0m4 0h0m2 0h0m4 0h0m2 0h0m2 0h0m4 0h0m8 0h0m2 0h0m2 0h0m58 0h0m4 0h0m4 0h0m2 0h0m4 0h0m6 0h0m6 0h0m2 0h0m8 0h0m-142 2h0m2 0h0m4 0h0m2 0h0m14 0h0m2 0h0m2 0h0m4 0h0m2 0h0m6 0h0m2 0h0m2 0h0m2 0h0m2 0h0m4 0h0m2 0h0m2 0h0m4 0h0m20 0h0m16 0h0m6 0h0m2 0h0m4 0h0m2 0h0m2 0h0m2 0h0m2 0h0m2 0h0m2 0h0m2 0h0m4 0h0m2 0h0m2 0h0m2 0h0m2 0h0m8 0h0m-134 2h0m18 0h0m2 0h0m4 0h0m6 0h0m2 0h0m2 0h0m2 0h0m4 0h0m4 0h0m2 0h0m2 0h0m2 0h0m2 0h0m42 0h0m2 0h0m2 0h0m2 0h0m2 0h0m4 0h0m2 0h0m4 0h0m2 0h0m4 0h0m2 0h0m4 0h0m2 0h0m6 0h0m2 0h0m4 0h0m-142 2h0m4 0h0m2 0h0m4 0h0m4 0h0m8 0h0m2 0h0m2 0h0m2 0h0m4 0h0m2 0h0m4 0h0m4 0h0m4 0h0m6 0h0m34 0h0m6 0h0m2 0h0m6 0h0m4 0h0m2 0h0m6 0h0m2 0h0m14 0h0m2 0h0m2 0h0m2 0h0m14 0h0m-168 2h0m20 0h0m26 0h0m4 0h0m2 0h0m2 0h0m2 0h0m4 0h0m2 0h0m4 0h0m6 0h0m32 0h0m8 0h0m2 0h0m4 0h0m4 0h0m2 0h0m2 0h0m2 0h0m2 0h0m2 0h0m4 0h0m2 0h0m2 0h0m6 0h0m8 0h0m2 0h0m2 0h0m10 0h0m6 0h0m-156 2h0m2 0h0m4 0h0m2 0h0m8 0h0m4 0h0m2 0h0m4 0h0m4 0h0m2 0h0m2 0h0m2 0h0m2 0h0m2 0h0m2 0h0m2 0h0m4 0h0m4 0h0m6 0h0m2 0h0m26 0h0m6 0h0m2 0h0m4 0h0m6 0h0m2 0h0m2 0h0m2 0h0m2 0h0m2 0h0m2 0h0m2 0h0m4 0h0m2 0h0m12 0h0m2 0h0m2 0h0m2 0h0m6 0h0m2 0h0m-136 2h0m4 0h0m4 0h0m4 0h0m2 0h0m2 0h0m2 0h0m2 0h0m2 0h0m2 0h0m2 0h0m2 0h0m2 0h0m2 0h0m4 0h0m2 0h0m2 0h0m2 0h0m2 0h0m8 0h0m4 0h0m18 0h0m4 0h0m2 0h0m2 0h0m4 0h0m2 0h0m2 0h0m2 0h0m4 0h0m4 0h0m2 0h0m4 0h0m2 0h0m2 0h0m2 0h0m4 0h0m2 0h0m2 0h0m10 0h0m-138 2h0m4 0h0m2 0h0m8 0h0m4 0h0m2 0h0m4 0h0m6 0h0m4 0h0m4 0h0m2 0h0m4 0h0m2 0h0m2 0h0m2 0h0m8 0h0m4 0h0m18 0h0m8 0h0m2 0h0m2 0h0m2 0h0m2 0h0m2 0h0m2 0h0m2 0h0m4 0h0m2 0h0m2 0h0m2 0h0m2 0h0m2 0h0m6 0h0m6 0h0m2 0h0m2 0h0m4 0h0m2 0h0m16 0h0m-164 2h0m6 0h0m6 0h0m2 0h0m2 0h0m2 0h0m8 0h0m2 0h0m2 0h0m2 0h0m4 0h0m4 0h0m2 0h0m2 0h0m2 0h0m2 0h0m2 0h0m2 0h0m2 0h0m4 0h0m2 0h0m2 0h0m2 0h0m2 0h0m2 0h0m2 0h0m4 0h0m6 0h0m10 0h0m6 0h0m2 0h0m2 0h0m2 0h0m2 0h0m2 0h0m2 0h0m4 0h0m2 0h0m2 0h0m2 0h0m2 0h0m2 0h0m4 0h0m4 0h0m6 0h0m2 0h0m2 0h0m2 0h0m14 0h0m10 0h0m-166 2h0m8 0h0m2 0h0m10 0h0m6 0h0m2 0h0m2 0h0m2 0h0m2 0h0m2 0h0m2 0h0m2 0h0m2 0h0m2 0h0m2 0h0m2 0h0m4 0h0m2 0h0m4 0h0m2 0h0m4 0h0m2 0h0m10 0h0m12 0h0m2 0h0m2 0h0m4 0h0m2 0h0m2 0h0m2 0h0m2 0h0m2 0h0m4 0h0m2 0h0m2 0h0m2 0h0m2 0h0m2 0h0m2 0h0m4 0h0m4 0h0m2 0h0m4 0h0m2 0h0m2 0h0m2 0h0m2 0h0m4 0h0m2 0h0m8 0h0m-160 2h0m10 0h0m6 0h0m2 0h0m2 0h0m2 0h0m4 0h0m4 0h0m4 0h0m2 0h0m2 0h0m2 0h0m2 0h0m2 0h0m4 0h0m2 0h0m2 0h0m2 0h0m2 0h0m2 0h0m2 0h0m2 0h0m2 0h0m2 0h0m2 0h0m2 0h0m2 0h0m2 0h0m10 0h0m10 0h0m2 0h0m2 0h0m2 0h0m2 0h0m2 0h0m2 0h0m2 0h0m2 0h0m2 0h0m2 0h0m2 0h0m2 0h0m2 0h0m2 0h0m2 0h0m2 0h0m2 0h0m2 0h0m2 0h0m2 0h0m2 0h0m4 0h0m4 0h0m2 0h0m14 0h0m10 0h0m24 0h0m-198 2h0m14 0h0m4 0h0m2 0h0m2 0h0m2 0h0m4 0h0m2 0h0m2 0h0m2 0h0m2 0h0m4 0h0m2 0h0m2 0h0m2 0h0m2 0h0m2 0h0m2 0h0m2 0h0m2 0h0m2 0h0m2 0h0m2 0h0m2 0h0m2 0h0m2 0h0m2 0h0m2 0h0m2 0h0m4 0h0m8 0h0m6 0h0m4 0h0m2 0h0m2 0h0m2 0h0m2 0h0m2 0h0m2 0h0m2 0h0m2 0h0m2 0h0m2 0h0m2 0h0m2 0h0m2 0h0m2 0h0m2 0h0m2 0h0m2 0h0m2 0h0m2 0h0m2 0h0m2 0h0m2 0h0m2 0h0m2 0h0m4 0h0m2 0h0m4 0h0m4 0h0m4 0h0m2 0h0m-186 2h0m20 0h0m4 0h0m10 0h0m2 0h0m2 0h0m4 0h0m2 0h0m2 0h0m4 0h0m4 0h0m2 0h0m2 0h0m2 0h0m2 0h0m2 0h0m2 0h0m2 0h0m2 0h0m2 0h0m2 0h0m2 0h0m2 0h0m2 0h0m2 0h0m2 0h0m2 0h0m2 0h0m2 0h0m2 0h0m4 0h0m8 0h0m6 0h0m4 0h0m2 0h0m4 0h0m2 0h0m2 0h0m2 0h0m2 0h0m4 0h0m2 0h0m2 0h0m2 0h0m2 0h0m2 0h0m2 0h0m2 0h0m2 0h0m2 0h0m2 0h0m2 0h0m2 0h0m2 0h0m4 0h0m2 0h0m2 0h0m6 0h0m2 0h0m6 0h0m8 0h0m10 0h0m-210 2h0m20 0h0m14 0h0m8 0h0m2 0h0m2 0h0m6 0h0m2 0h0m2 0h0m2 0h0m2 0h0m2 0h0m2 0h0m2 0h0m2 0h0m4 0h0m2 0h0m2 0h0m2 0h0m2 0h0m2 0h0m2 0h0m2 0h0m2 0h0m2 0h0m2 0h0m2 0h0m2 0h0m2 0h0m2 0h0m2 0h0m2 0h0m2 0h0m2 0h0m2 0h0m2 0h0m2 0h0m4 0h0m2 0h0m2 0h0m2 0h0m2 0h0m2 0h0m4 0h0m2 0h0m2 0h0m2 0h0m2 0h0m2 0h0m2 0h0m2 0h0m2 0h0m2 0h0m2 0h0m2 0h0m2 0h0m2 0h0m2 0h0m2 0h0m2 0h0m4 0h0m2 0h0m2 0h0m4 0h0m2 0h0m2 0h0m6 0h0m14 0h0m8 0h0m-190 2h0m16 0h0m4 0h0m2 0h0m4 0h0m2 0h0m6 0h0m2 0h0m2 0h0m2 0h0m2 0h0m2 0h0m4 0h0m2 0h0m2 0h0m2 0h0m2 0h0m2 0h0m2 0h0m4 0h0m2 0h0m2 0h0m2 0h0m2 0h0m2 0h0m2 0h0m2 0h0m2 0h0m2 0h0m2 0h0m2 0h0m4 0h0m2 0h0m2 0h0m2 0h0m4 0h0m2 0h0m2 0h0m2 0h0m2 0h0m2 0h0m2 0h0m2 0h0m2 0h0m2 0h0m2 0h0m2 0h0m2 0h0m2 0h0m2 0h0m2 0h0m2 0h0m2 0h0m2 0h0m2 0h0m2 0h0m2 0h0m2 0h0m2 0h0m2 0h0m2 0h0m2 0h0m2 0h0m2 0h0m2 0h0m2 0h0m2 0h0m2 0h0m4 0h0m2 0h0m2 0h0m12 0h0m6 0h0m4 0h0m10 0h0m14 0h0m-222 2h0m32 0h0m4 0h0m2 0h0m4 0h0m6 0h0m2 0h0m2 0h0m2 0h0m6 0h0m2 0h0m2 0h0m2 0h0m2 0h0m2 0h0m2 0h0m2 0h0m2 0h0m2 0h0m2 0h0m2 0h0m2 0h0m2 0h0m2 0h0m2 0h0m2 0h0m4 0h0m4 0h0m2 0h0m2 0h0m2 0h0m2 0h0m2 0h0m2 0h0m2 0h0m2 0h0m2 0h0m2 0h0m2 0h0m2 0h0m2 0h0m2 0h0m2 0h0m2 0h0m2 0h0m2 0h0m2 0h0m2 0h0m2 0h0m2 0h0m2 0h0m2 0h0m4 0h0m4 0h0m2 0h0m2 0h0m2 0h0m6 0h0m4 0h0m4 0h0m18 0h0m12 0h0" stroke="#1a1614" stroke-opacity="0.28" stroke-width="4" stroke-linecap="round" fill="none"/>
<path d="M1301 711h0m-104 26h0m116 18h0m16 8h0m-98 24h0m56 0h0m16 6h0m-4 6h0m-88 22h0m78 2h0m18 0h0m-80 4h0m52 0h0m48 4h0m-112 2h0m80 0h0m8 0h0m4 2h0m-88 2h0m-6 2h0m84 2h0m2 2h0m16 0h0m-110 2h0m34 0h0m-36 2h0m96 0h0m0 2h0m-98 2h0m2 0h0m18 0h0m10 0h0m72 0h0m8 0h0m-100 2h0m68 0h0m16 0h0m22 0h0m-122 2h0m22 0h0m82 0h0m10 2h0m12 0h0m-122 2h0m10 0h0m12 2h0m10 0h0m70 0h0m2 0h0m-96 2h0m98 0h0m6 0h0m18 0h0m-124 2h0m2 0h0m2 0h0m20 0h0m62 0h0m4 0h0m-92 2h0m20 0h0m70 0h0m4 0h0m-94 2h0m12 0h0m22 0h0m54 0h0m20 0h0m-108 2h0m16 0h0m2 0h0m10 0h0m8 0h0m56 0h0m8 0h0m4 0h0m-104 2h0m4 0h0m10 0h0m12 0h0m2 0h0m66 0h0m-82 2h0m78 0h0m4 0h0m6 0h0m6 0h0m-30 2h0m16 0h0m6 0h0m10 0h0m-116 2h0m6 0h0m2 0h0m12 0h0m20 0h0m76 0h0m2 0h0m-112 2h0m4 0h0m8 0h0m14 0h0m72 0h0m24 0h0m-116 2h0m2 0h0m2 0h0m14 0h0m50 0h0m26 0h0m2 0h0m10 0h0m6 0h0m-130 2h0m10 0h0m14 0h0m26 0h0m52 0h0m2 0h0m32 0h0m-132 2h0m2 0h0m20 0h0m6 0h0m68 0h0m4 0h0m6 0h0m-102 2h0m10 0h0m6 0h0m66 0h0m18 0h0m16 0h0m-112 2h0m6 0h0m2 0h0m10 0h0m10 0h0m66 0h0m6 0h0m6 0h0m4 0h0m14 0h0m-106 2h0m10 0h0m14 0h0m46 0h0m4 0h0m4 0h0m16 0h0m2 0h0m-116 2h0m18 0h0m8 0h0m70 0h0m4 0h0m12 0h0m10 0h0m4 0h0m-126 2h0m2 0h0m8 0h0m2 0h0m6 0h0m12 0h0m4 0h0m52 0h0m2 0h0m2 0h0m16 0h0m2 0h0m2 0h0m8 0h0m-110 2h0m4 0h0m2 0h0m4 0h0m6 0h0m2 0h0m16 0h0m38 0h0m2 0h0m14 0h0m12 0h0m4 0h0m2 0h0m8 0h0m-110 2h0m2 0h0m2 0h0m2 0h0m4 0h0m2 0h0m2 0h0m74 0h0m4 0h0m2 0h0m-112 2h0m18 0h0m6 0h0m4 0h0m12 0h0m8 0h0m40 0h0m2 0h0m4 0h0m4 0h0m2 0h0m6 0h0m2 0h0m8 0h0m28 0h0m-154 2h0m18 0h0m2 0h0m6 0h0m8 0h0m2 0h0m6 0h0m2 0h0m2 0h0m12 0h0m48 0h0m8 0h0m6 0h0m2 0h0m2 0h0m8 0h0m6 0h0m8 0h0m-134 2h0m14 0h0m4 0h0m6 0h0m18 0h0m44 0h0m6 0h0m6 0h0m4 0h0m2 0h0m2 0h0m6 0h0m22 0h0m-118 2h0m8 0h0m6 0h0m2 0h0m2 0h0m8 0h0m2 0h0m48 0h0m4 0h0m2 0h0m2 0h0m2 0h0m4 0h0m2 0h0m4 0h0m8 0h0m-114 2h0m6 0h0m10 0h0m2 0h0m2 0h0m2 0h0m10 0h0m4 0h0m6 0h0m4 0h0m38 0h0m2 0h0m2 0h0m8 0h0m4 0h0m2 0h0m6 0h0m2 0h0m-120 2h0m8 0h0m10 0h0m2 0h0m4 0h0m2 0h0m4 0h0m2 0h0m2 0h0m2 0h0m4 0h0m2 0h0m2 0h0m2 0h0m12 0h0m2 0h0m16 0h0m8 0h0m6 0h0m2 0h0m4 0h0m2 0h0m2 0h0m4 0h0m2 0h0m8 0h0m2 0h0m4 0h0m2 0h0m6 0h0m-122 2h0m2 0h0m14 0h0m2 0h0m2 0h0m2 0h0m2 0h0m2 0h0m2 0h0m4 0h0m2 0h0m4 0h0m4 0h0m2 0h0m6 0h0m46 0h0m2 0h0m2 0h0m2 0h0m2 0h0m6 0h0m6 0h0m2 0h0m4 0h0m8 0h0m-146 2h0m8 0h0m4 0h0m2 0h0m12 0h0m6 0h0m2 0h0m2 0h0m4 0h0m2 0h0m2 0h0m2 0h0m2 0h0m2 0h0m2 0h0m4 0h0m4 0h0m40 0h0m6 0h0m6 0h0m4 0h0m2 0h0m4 0h0m2 0h0m6 0h0m6 0h0m4 0h0m2 0h0m-130 2h0m12 0h0m2 0h0m2 0h0m4 0h0m2 0h0m2 0h0m2 0h0m2 0h0m2 0h0m2 0h0m2 0h0m2 0h0m2 0h0m2 0h0m10 0h0m2 0h0m26 0h0m6 0h0m8 0h0m2 0h0m4 0h0m2 0h0m2 0h0m2 0h0m2 0h0m8 0h0m14 0h0m4 0h0m6 0h0m-138 2h0m4 0h0m8 0h0m2 0h0m4 0h0m2 0h0m4 0h0m2 0h0m2 0h0m4 0h0m2 0h0m4 0h0m2 0h0m6 0h0m2 0h0m26 0h0m10 0h0m6 0h0m2 0h0m2 0h0m2 0h0m4 0h0m2 0h0m4 0h0m2 0h0m6 0h0m12 0h0m4 0h0m-138 2h0m2 0h0m6 0h0m8 0h0m4 0h0m2 0h0m2 0h0m2 0h0m2 0h0m4 0h0m2 0h0m2 0h0m2 0h0m2 0h0m2 0h0m2 0h0m2 0h0m2 0h0m4 0h0m4 0h0m2 0h0m22 0h0m12 0h0m2 0h0m4 0h0m2 0h0m2 0h0m2 0h0m2 0h0m2 0h0m4 0h0m8 0h0m2 0h0m2 0h0m2 0h0m4 0h0m2 0h0m4 0h0m2 0h0m6 0h0m4 0h0m-156 2h0m8 0h0m4 0h0m2 0h0m4 0h0m8 0h0m2 0h0m2 0h0m4 0h0m2 0h0m2 0h0m2 0h0m2 0h0m2 0h0m2 0h0m2 0h0m2 0h0m2 0h0m2 0h0m2 0h0m2 0h0m2 0h0m4 0h0m2 0h0m2 0h0m8 0h0m8 0h0m12 0h0m6 0h0m2 0h0m4 0h0m2 0h0m2 0h0m2 0h0m2 0h0m2 0h0m4 0h0m6 0h0m4 0h0m2 0h0m2 0h0m2 0h0m2 0h0m4 0h0m8 0h0m6 0h0m2 0h0m4 0h0m4 0h0m-158 2h0m2 0h0m4 0h0m8 0h0m2 0h0m2 0h0m6 0h0m2 0h0m2 0h0m2 0h0m2 0h0m2 0h0m2 0h0m4 0h0m4 0h0m6 0h0m2 0h0m2 0h0m2 0h0m6 0h0m18 0h0m6 0h0m4 0h0m2 0h0m2 0h0m4 0h0m2 0h0m2 0h0m2 0h0m2 0h0m4 0h0m2 0h0m2 0h0m2 0h0m4 0h0m2 0h0m4 0h0m4 0h0m6 0h0m2 0h0m6 0h0m-142 2h0m4 0h0m2 0h0m2 0h0m2 0h0m2 0h0m4 0h0m4 0h0m4 0h0m2 0h0m2 0h0m2 0h0m2 0h0m2 0h0m2 0h0m2 0h0m2 0h0m4 0h0m4 0h0m2 0h0m2 0h0m2 0h0m2 0h0m4 0h0m18 0h0m4 0h0m10 0h0m2 0h0m4 0h0m2 0h0m2 0h0m4 0h0m2 0h0m2 0h0m2 0h0m2 0h0m2 0h0m2 0h0m4 0h0m2 0h0m2 0h0m2 0h0m4 0h0m12 0h0m-168 2h0m30 0h0m2 0h0m4 0h0m6 0h0m2 0h0m2 0h0m2 0h0m2 0h0m2 0h0m2 0h0m2 0h0m2 0h0m2 0h0m2 0h0m2 0h0m4 0h0m2 0h0m2 0h0m2 0h0m2 0h0m2 0h0m2 0h0m2 0h0m2 0h0m18 0h0m4 0h0m4 0h0m2 0h0m2 0h0m2 0h0m2 0h0m2 0h0m2 0h0m2 0h0m2 0h0m2 0h0m2 0h0m2 0h0m2 0h0m2 0h0m2 0h0m2 0h0m8 0h0m2 0h0m2 0h0m12 0h0m2 0h0m2 0h0m8 0h0m2 0h0m8 0h0m-192 2h0m36 0h0m4 0h0m6 0h0m2 0h0m2 0h0m4 0h0m2 0h0m2 0h0m2 0h0m2 0h0m2 0h0m2 0h0m2 0h0m2 0h0m2 0h0m2 0h0m4 0h0m2 0h0m2 0h0m2 0h0m2 0h0m4 0h0m14 0h0m6 0h0m2 0h0m2 0h0m2 0h0m2 0h0m2 0h0m2 0h0m2 0h0m2 0h0m2 0h0m2 0h0m2 0h0m2 0h0m2 0h0m2 0h0m2 0h0m2 0h0m2 0h0m4 0h0m4 0h0m2 0h0m6 0h0m2 0h0m2 0h0m4 0h0m4 0h0m-172 2h0m20 0h0m2 0h0m4 0h0m2 0h0m2 0h0m4 0h0m2 0h0m2 0h0m2 0h0m2 0h0m4 0h0m2 0h0m2 0h0m2 0h0m2 0h0m2 0h0m2 0h0m2 0h0m2 0h0m2 0h0m2 0h0m2 0h0m2 0h0m2 0h0m2 0h0m2 0h0m2 0h0m2 0h0m8 0h0m4 0h0m2 0h0m6 0h0m6 0h0m8 0h0m2 0h0m4 0h0m2 0h0m2 0h0m2 0h0m2 0h0m2 0h0m2 0h0m4 0h0m2 0h0m2 0h0m2 0h0m2 0h0m2 0h0m2 0h0m2 0h0m2 0h0m2 0h0m4 0h0m2 0h0m4 0h0m2 0h0m14 0h0m8 0h0m6 0h0m-186 2h0m6 0h0m10 0h0m2 0h0m2 0h0m4 0h0m4 0h0m2 0h0m2 0h0m2 0h0m2 0h0m2 0h0m2 0h0m2 0h0m2 0h0m2 0h0m2 0h0m4 0h0m2 0h0m2 0h0m2 0h0m2 0h0m2 0h0m4 0h0m2 0h0m2 0h0m2 0h0m2 0h0m2 0h0m2 0h0m2 0h0m2 0h0m2 0h0m2 0h0m2 0h0m4 0h0m4 0h0m2 0h0m2 0h0m2 0h0m4 0h0m2 0h0m2 0h0m2 0h0m2 0h0m2 0h0m2 0h0m2 0h0m2 0h0m2 0h0m2 0h0m2 0h0m2 0h0m2 0h0m2 0h0m2 0h0m2 0h0m2 0h0m4 0h0m2 0h0m2 0h0m4 0h0m4 0h0m2 0h0m2 0h0m4 0h0m2 0h0m8 0h0m2 0h0m-178 2h0m6 0h0m10 0h0m4 0h0m2 0h0m4 0h0m4 0h0m2 0h0m2 0h0m4 0h0m2 0h0m2 0h0m2 0h0m2 0h0m4 0h0m2 0h0m2 0h0m2 0h0m2 0h0m2 0h0m2 0h0m2 0h0m2 0h0m2 0h0m2 0h0m2 0h0m2 0h0m2 0h0m2 0h0m2 0h0m2 0h0m2 0h0m4 0h0m4 0h0m6 0h0m2 0h0m4 0h0m2 0h0m2 0h0m2 0h0m2 0h0m2 0h0m2 0h0m2 0h0m2 0h0m2 0h0m2 0h0m2 0h0m2 0h0m2 0h0m2 0h0m2 0h0m2 0h0m4 0h0m2 0h0m2 0h0m2 0h0m18 0h0m2 0h0m2 0h0m10 0h0m6 0h0m-184 2h0m4 0h0m20 0h0m2 0h0m8 0h0m2 0h0m2 0h0m4 0h0m2 0h0m2 0h0m4 0h0m2 0h0m2 0h0m2 0h0m2 0h0m2 0h0m2 0h0m2 0h0m2 0h0m2 0h0m2 0h0m2 0h0m2 0h0m2 0h0m2 0h0m2 0h0m2 0h0m2 0h0m4 0h0m2 0h0m2 0h0m10 0h0m2 0h0m2 0h0m2 0h0m2 0h0m2 0h0m2 0h0m2 0h0m2 0h0m2 0h0m4 0h0m2 0h0m2 0h0m2 0h0m2 0h0m4 0h0m2 0h0m2 0h0m2 0h0m4 0h0m2 0h0m2 0h0m4 0h0m2 0h0m2 0h0m4 0h0m6 0h0m2 0h0m16 0h0m-186 2h0m4 0h0m6 0h0m6 0h0m18 0h0m4 0h0m2 0h0m8 0h0m2 0h0m2 0h0m2 0h0m2 0h0m2 0h0m2 0h0m2 0h0m2 0h0m2 0h0m2 0h0m2 0h0m2 0h0m2 0h0m2 0h0m2 0h0m2 0h0m2 0h0m2 0h0m2 0h0m4 0h0m2 0h0m2 0h0m2 0h0m2 0h0m2 0h0m2 0h0m4 0h0m2 0h0m2 0h0m2 0h0m2 0h0m2 0h0m2 0h0m2 0h0m2 0h0m2 0h0m2 0h0m2 0h0m2 0h0m2 0h0m2 0h0m2 0h0m2 0h0m2 0h0m2 0h0m2 0h0m2 0h0m4 0h0m2 0h0m6 0h0m6 0h0m2 0h0m12 0h0m2 0h0m8 0h0m-174 2h0m2 0h0m2 0h0m2 0h0m2 0h0m6 0h0m2 0h0m2 0h0m2 0h0m6 0h0m6 0h0m2 0h0m2 0h0m2 0h0m4 0h0m2 0h0m2 0h0m2 0h0m2 0h0m2 0h0m2 0h0m2 0h0m2 0h0m2 0h0m2 0h0m4 0h0m2 0h0m2 0h0m2 0h0m4 0h0m4 0h0m4 0h0m2 0h0m2 0h0m2 0h0m2 0h0m2 0h0m4 0h0m2 0h0m2 0h0m2 0h0m2 0h0m2 0h0m2 0h0m2 0h0m2 0h0m2 0h0m2 0h0m2 0h0m2 0h0m2 0h0m10 0h0m2 0h0m2 0h0m2 0h0m2 0h0m2 0h0m2 0h0m2 0h0m2 0h0m6 0h0m8 0h0m10 0h0m12 0h0m4 0h0" stroke="#1a1614" stroke-opacity="0.28" stroke-width="4" stroke-linecap="round" fill="none"/>
<line x1="1067.2" y1="676.3" x2="1067.2" y2="959.4" stroke="#8a8a8a" stroke-width="1.3"/>
<line x1="1063.2" y1="676.3" x2="1067.2" y2="676.3" stroke="#8a8a8a" stroke-width="1.3"/>
<line x1="1063.2" y1="747.4" x2="1067.2" y2="747.4" stroke="#8a8a8a" stroke-width="1.3"/>
<line x1="1063.2" y1="818.2" x2="1067.2" y2="818.2" stroke="#8a8a8a" stroke-width="1.3"/>
<line x1="1063.2" y1="888.6" x2="1067.2" y2="888.6" stroke="#8a8a8a" stroke-width="1.3"/>
<line x1="1063.2" y1="959.4" x2="1067.2" y2="959.4" stroke="#8a8a8a" stroke-width="1.3"/>
<text x="1049.8" y="676.3" font-size="17.5" text-anchor="middle" fill="#262626" stroke="#262626" transform="rotate(-90 1049.8 676.3)">40</text>
<text x="1049.8" y="747.4" font-size="17.5" text-anchor="middle" fill="#262626" stroke="#262626" transform="rotate(-90 1049.8 747.4)">30</text>
<text x="1049.8" y="818.2" font-size="17.5" text-anchor="middle" fill="#262626" stroke="#262626" transform="rotate(-90 1049.8 818.2)">20</text>
<text x="1049.8" y="888.6" font-size="17.5" text-anchor="middle" fill="#262626" stroke="#262626" transform="rotate(-90 1049.8 888.6)">10</text>
<text x="1049.8" y="959.4" font-size="17.5" text-anchor="middle" fill="#262626" stroke="#262626" transform="rotate(-90 1049.8 959.4)">0</text>
<line x1="1080.9" y1="972.5" x2="1436.3" y2="972.5" stroke="#8a8a8a" stroke-width="1.3"/>
<line x1="1080.9" y1="972.5" x2="1080.9" y2="976.5" stroke="#8a8a8a" stroke-width="1.3"/>
<line x1="1169" y1="972.5" x2="1169" y2="976.5" stroke="#8a8a8a" stroke-width="1.3"/>
<line x1="1258.6" y1="972.5" x2="1258.6" y2="976.5" stroke="#8a8a8a" stroke-width="1.3"/>
<line x1="1347.3" y1="972.5" x2="1347.3" y2="976.5" stroke="#8a8a8a" stroke-width="1.3"/>
<line x1="1436.3" y1="972.5" x2="1436.3" y2="976.5" stroke="#8a8a8a" stroke-width="1.3"/>
<text x="1076.9" y="1001" font-size="17.5" text-anchor="middle" fill="#262626" stroke="#262626">−10</text>
<text x="1165" y="1001" font-size="17.5" text-anchor="middle" fill="#262626" stroke="#262626">−5</text>
<text x="1258.6" y="1001" font-size="17.5" text-anchor="middle" fill="#262626" stroke="#262626">0</text>
<text x="1347.3" y="1001" font-size="17.5" text-anchor="middle" fill="#262626" stroke="#262626">5</text>
<text x="1436.3" y="1001" font-size="17.5" text-anchor="middle" fill="#262626" stroke="#262626">10</text>
<text x="1251.5" y="613.2" font-size="19" text-anchor="middle" fill="#262626" stroke="#262626" textLength="205" lengthAdjust="spacingAndGlyphs">K562, 19237 raQTLs</text>
<text x="1267.2" y="678.5" font-size="19.5" text-anchor="middle" fill="#262626" stroke="#262626" textLength="307.6" lengthAdjust="spacingAndGlyphs">mean absolute fold change: 4.0</text>
<text x="1011" y="800.7" font-size="21" text-anchor="middle" fill="#262626" stroke="#262626" textLength="156.5" lengthAdjust="spacingAndGlyphs" transform="rotate(-90 1011 800.7)">−log10(p−value)</text>
<text x="1196.3" y="1026.2" font-size="21" fill="#262626" textLength="145" lengthAdjust="spacingAndGlyphs">log<tspan font-size="14" dy="5">2</tspan><tspan dy="-5">(REF/VAR)</tspan></text>
<text transform="matrix(1.08 0 0 1 948.87 598.13)" font-size="49.4" fill="#111">g</text>
<path d="M1741 711h0m30 56h0m-28 14h0m130 10h0m-104 2h0m6 0h0m-2 2h0m100 8h0m-12 2h0m22 0h0m-34 4h0m10 0h0m-14 2h0m-68 2h0m106 0h0m-18 2h0m10 0h0m-14 2h0m-14 2h0m-76 4h0m112 2h0m0 4h0m-138 2h0m114 4h0m2 0h0m14 2h0m2 0h0m-114 2h0m14 0h0m82 0h0m2 0h0m-120 2h0m128 0h0m6 0h0m-124 2h0m18 0h0m70 0h0m-86 2h0m28 0h0m-44 2h0m132 0h0m16 0h0m-118 4h0m16 0h0m76 0h0m6 0h0m-132 2h0m24 0h0m98 0h0m-104 2h0m100 0h0m36 0h0m-134 2h0m10 0h0m8 0h0m2 0h0m108 0h0m-142 2h0m36 0h0m68 0h0m12 0h0m6 0h0m14 0h0m-132 2h0m10 2h0m2 0h0m12 0h0m8 0h0m66 0h0m28 0h0m22 0h0m8 0h0m-166 2h0m22 0h0m4 0h0m80 0h0m44 0h0m2 0h0m-130 2h0m10 0h0m2 0h0m70 0h0m38 0h0m-118 2h0m6 0h0m76 0h0m14 0h0m12 0h0m8 0h0m10 0h0m6 0h0m-136 2h0m14 0h0m116 0h0m10 0h0m-130 2h0m10 0h0m4 0h0m78 0h0m4 0h0m2 0h0m12 0h0m-116 2h0m124 0h0m-120 2h0m22 0h0m86 0h0m4 0h0m-134 2h0m20 0h0m10 2h0m62 0h0m14 0h0m2 0h0m14 0h0m20 0h0m-122 2h0m12 0h0m2 0h0m106 0h0m-130 2h0m6 0h0m4 0h0m2 0h0m2 0h0m4 0h0m84 0h0m2 0h0m18 0h0m16 0h0m2 0h0m-132 2h0m10 0h0m6 0h0m12 0h0m58 0h0m18 0h0m26 0h0m18 0h0m-172 2h0m28 0h0m12 0h0m14 0h0m50 0h0m8 0h0m10 0h0m12 0h0m2 0h0m-114 2h0m82 0h0m24 0h0m14 0h0m12 0h0m6 0h0m-146 2h0m8 0h0m2 0h0m4 0h0m24 0h0m52 0h0m26 0h0m4 0h0m18 0h0m-146 2h0m18 0h0m4 0h0m2 0h0m12 0h0m76 0h0m10 0h0m14 0h0m6 0h0m-134 2h0m2 0h0m6 0h0m4 0h0m2 0h0m4 0h0m2 0h0m4 0h0m88 0h0m6 0h0m18 0h0m6 0h0m12 0h0m-158 2h0m4 0h0m2 0h0m2 0h0m4 0h0m6 0h0m4 0h0m14 0h0m8 0h0m6 0h0m46 0h0m20 0h0m2 0h0m2 0h0m6 0h0m12 0h0m2 0h0m-148 2h0m2 0h0m6 0h0m8 0h0m10 0h0m6 0h0m10 0h0m62 0h0m10 0h0m8 0h0m2 0h0m4 0h0m10 0h0m26 0h0m-150 2h0m4 0h0m14 0h0m26 0h0m60 0h0m14 0h0m4 0h0m4 0h0m16 0h0m16 0h0m-182 2h0m32 0h0m8 0h0m4 0h0m2 0h0m4 0h0m58 0h0m10 0h0m2 0h0m2 0h0m4 0h0m6 0h0m6 0h0m2 0h0m12 0h0m14 0h0m2 0h0m10 0h0m2 0h0m-176 2h0m6 0h0m8 0h0m2 0h0m12 0h0m6 0h0m2 0h0m4 0h0m8 0h0m8 0h0m54 0h0m6 0h0m10 0h0m6 0h0m4 0h0m4 0h0m16 0h0m20 0h0m-166 2h0m26 0h0m2 0h0m8 0h0m60 0h0m26 0h0m4 0h0m2 0h0m6 0h0m8 0h0m2 0h0m4 0h0m2 0h0m-158 2h0m6 0h0m8 0h0m8 0h0m8 0h0m10 0h0m2 0h0m14 0h0m6 0h0m36 0h0m10 0h0m4 0h0m6 0h0m4 0h0m8 0h0m2 0h0m2 0h0m2 0h0m4 0h0m10 0h0m14 0h0m20 0h0m-182 2h0m2 0h0m14 0h0m4 0h0m2 0h0m4 0h0m4 0h0m16 0h0m2 0h0m4 0h0m20 0h0m28 0h0m2 0h0m10 0h0m2 0h0m2 0h0m6 0h0m2 0h0m8 0h0m4 0h0m4 0h0m4 0h0m2 0h0m6 0h0m14 0h0m8 0h0m-168 2h0m2 0h0m2 0h0m10 0h0m2 0h0m6 0h0m2 0h0m2 0h0m2 0h0m4 0h0m4 0h0m2 0h0m6 0h0m4 0h0m42 0h0m12 0h0m14 0h0m2 0h0m2 0h0m2 0h0m4 0h0m6 0h0m12 0h0m4 0h0m6 0h0m8 0h0m-170 2h0m8 0h0m10 0h0m8 0h0m2 0h0m2 0h0m2 0h0m4 0h0m2 0h0m2 0h0m2 0h0m8 0h0m2 0h0m6 0h0m2 0h0m2 0h0m42 0h0m6 0h0m6 0h0m6 0h0m8 0h0m12 0h0m6 0h0m2 0h0m8 0h0m2 0h0m-170 2h0m4 0h0m2 0h0m16 0h0m6 0h0m14 0h0m2 0h0m2 0h0m2 0h0m4 0h0m4 0h0m4 0h0m4 0h0m2 0h0m4 0h0m6 0h0m42 0h0m6 0h0m2 0h0m4 0h0m14 0h0m4 0h0m2 0h0m2 0h0m12 0h0m28 0h0m-190 2h0m14 0h0m6 0h0m2 0h0m6 0h0m4 0h0m2 0h0m2 0h0m2 0h0m4 0h0m2 0h0m8 0h0m2 0h0m2 0h0m2 0h0m8 0h0m4 0h0m2 0h0m12 0h0m6 0h0m24 0h0m2 0h0m4 0h0m4 0h0m2 0h0m6 0h0m2 0h0m2 0h0m6 0h0m4 0h0m2 0h0m2 0h0m2 0h0m2 0h0m2 0h0m2 0h0m10 0h0m22 0h0m2 0h0m-168 2h0m2 0h0m4 0h0m2 0h0m12 0h0m2 0h0m4 0h0m6 0h0m8 0h0m4 0h0m2 0h0m2 0h0m4 0h0m44 0h0m4 0h0m8 0h0m2 0h0m4 0h0m2 0h0m2 0h0m6 0h0m2 0h0m2 0h0m4 0h0m32 0h0m-198 2h0m16 0h0m26 0h0m6 0h0m2 0h0m2 0h0m4 0h0m10 0h0m2 0h0m2 0h0m2 0h0m8 0h0m4 0h0m2 0h0m4 0h0m16 0h0m2 0h0m10 0h0m6 0h0m4 0h0m2 0h0m2 0h0m2 0h0m4 0h0m6 0h0m2 0h0m12 0h0m4 0h0m2 0h0m2 0h0m6 0h0m2 0h0m-174 2h0m2 0h0m22 0h0m12 0h0m2 0h0m4 0h0m2 0h0m4 0h0m4 0h0m8 0h0m4 0h0m2 0h0m2 0h0m2 0h0m2 0h0m4 0h0m2 0h0m10 0h0m26 0h0m10 0h0m6 0h0m10 0h0m6 0h0m2 0h0m2 0h0m2 0h0m2 0h0m2 0h0m2 0h0m6 0h0m2 0h0m2 0h0m4 0h0m6 0h0m4 0h0m2 0h0m6 0h0m-170 2h0m2 0h0m2 0h0m6 0h0m10 0h0m4 0h0m2 0h0m6 0h0m4 0h0m6 0h0m2 0h0m4 0h0m2 0h0m2 0h0m4 0h0m4 0h0m4 0h0m2 0h0m24 0h0m4 0h0m2 0h0m12 0h0m2 0h0m4 0h0m4 0h0m4 0h0m2 0h0m2 0h0m2 0h0m10 0h0m2 0h0m2 0h0m8 0h0m2 0h0m2 0h0m14 0h0m-182 2h0m2 0h0m8 0h0m16 0h0m2 0h0m2 0h0m4 0h0m2 0h0m4 0h0m2 0h0m2 0h0m2 0h0m4 0h0m2 0h0m2 0h0m2 0h0m6 0h0m2 0h0m2 0h0m6 0h0m4 0h0m28 0h0m2 0h0m4 0h0m2 0h0m2 0h0m4 0h0m2 0h0m2 0h0m2 0h0m2 0h0m2 0h0m2 0h0m4 0h0m2 0h0m2 0h0m4 0h0m2 0h0m2 0h0m2 0h0m2 0h0m6 0h0m2 0h0m6 0h0m2 0h0m2 0h0m2 0h0m6 0h0m6 0h0m-182 2h0m10 0h0m2 0h0m4 0h0m4 0h0m16 0h0m4 0h0m2 0h0m2 0h0m4 0h0m4 0h0m4 0h0m2 0h0m2 0h0m2 0h0m2 0h0m2 0h0m2 0h0m2 0h0m2 0h0m2 0h0m6 0h0m4 0h0m12 0h0m2 0h0m8 0h0m2 0h0m6 0h0m2 0h0m2 0h0m2 0h0m2 0h0m2 0h0m4 0h0m2 0h0m8 0h0m2 0h0m2 0h0m2 0h0m2 0h0m2 0h0m2 0h0m2 0h0m2 0h0m2 0h0m2 0h0m4 0h0m2 0h0m2 0h0m4 0h0m2 0h0m2 0h0m6 0h0m14 0h0m16 0h0m-220 2h0m2 0h0m14 0h0m4 0h0m4 0h0m2 0h0m2 0h0m4 0h0m8 0h0m14 0h0m2 0h0m2 0h0m4 0h0m2 0h0m2 0h0m2 0h0m2 0h0m2 0h0m2 0h0m2 0h0m2 0h0m6 0h0m4 0h0m2 0h0m2 0h0m6 0h0m4 0h0m2 0h0m8 0h0m4 0h0m2 0h0m4 0h0m2 0h0m2 0h0m2 0h0m2 0h0m4 0h0m2 0h0m2 0h0m2 0h0m2 0h0m2 0h0m4 0h0m2 0h0m2 0h0m2 0h0m6 0h0m4 0h0m2 0h0m8 0h0m4 0h0m6 0h0m2 0h0m4 0h0m2 0h0m12 0h0m6 0h0m-216 2h0m4 0h0m10 0h0m8 0h0m4 0h0m4 0h0m4 0h0m6 0h0m4 0h0m4 0h0m2 0h0m2 0h0m2 0h0m2 0h0m2 0h0m2 0h0m2 0h0m2 0h0m2 0h0m2 0h0m2 0h0m2 0h0m2 0h0m2 0h0m4 0h0m2 0h0m2 0h0m2 0h0m2 0h0m2 0h0m4 0h0m2 0h0m2 0h0m12 0h0m10 0h0m2 0h0m2 0h0m4 0h0m2 0h0m2 0h0m2 0h0m2 0h0m2 0h0m2 0h0m4 0h0m2 0h0m2 0h0m2 0h0m2 0h0m2 0h0m6 0h0m2 0h0m2 0h0m2 0h0m4 0h0m2 0h0m2 0h0m4 0h0m8 0h0m2 0h0m2 0h0m2 0h0m10 0h0m6 0h0m2 0h0m4 0h0m18 0h0m-236 2h0m22 0h0m2 0h0m4 0h0m2 0h0m8 0h0m2 0h0m2 0h0m6 0h0m2 0h0m4 0h0m4 0h0m4 0h0m4 0h0m2 0h0m2 0h0m2 0h0m2 0h0m4 0h0m2 0h0m2 0h0m2 0h0m2 0h0m2 0h0m2 0h0m2 0h0m2 0h0m6 0h0m2 0h0m2 0h0m10 0h0m4 0h0m2 0h0m2 0h0m6 0h0m2 0h0m4 0h0m2 0h0m4 0h0m2 0h0m2 0h0m2 0h0m2 0h0m2 0h0m2 0h0m2 0h0m2 0h0m2 0h0m4 0h0m2 0h0m2 0h0m2 0h0m6 0h0m4 0h0m2 0h0m2 0h0m6 0h0m2 0h0m16 0h0m2 0h0m-204 2h0m10 0h0m8 0h0m2 0h0m4 0h0m6 0h0m2 0h0m2 0h0m4 0h0m2 0h0m2 0h0m12 0h0m2 0h0m2 0h0m2 0h0m2 0h0m6 0h0m2 0h0m2 0h0m2 0h0m2 0h0m2 0h0m2 0h0m2 0h0m4 0h0m2 0h0m2 0h0m2 0h0m2 0h0m4 0h0m2 0h0m2 0h0m2 0h0m4 0h0m2 0h0m2 0h0m2 0h0m2 0h0m2 0h0m4 0h0m2 0h0m4 0h0m2 0h0m2 0h0m2 0h0m2 0h0m2 0h0m2 0h0m2 0h0m2 0h0m2 0h0m2 0h0m4 0h0m2 0h0m4 0h0m4 0h0m2 0h0m2 0h0m2 0h0m6 0h0m4 0h0m2 0h0m2 0h0m2 0h0m4 0h0m2 0h0m4 0h0m6 0h0m6 0h0m4 0h0m10 0h0m2 0h0m10 0h0m24 0h0m-268 2h0m6 0h0m2 0h0m4 0h0m2 0h0m6 0h0m4 0h0m2 0h0m2 0h0m2 0h0m4 0h0m4 0h0m2 0h0m4 0h0m2 0h0m2 0h0m4 0h0m4 0h0m2 0h0m4 0h0m2 0h0m6 0h0m6 0h0m2 0h0m2 0h0m2 0h0m2 0h0m2 0h0m2 0h0m2 0h0m2 0h0m2 0h0m2 0h0m2 0h0m2 0h0m2 0h0m2 0h0m2 0h0m2 0h0m2 0h0m2 0h0m2 0h0m2 0h0m2 0h0m2 0h0m2 0h0m2 0h0m4 0h0m2 0h0m2 0h0m2 0h0m2 0h0m2 0h0m2 0h0m2 0h0m2 0h0m2 0h0m2 0h0m2 0h0m2 0h0m2 0h0m2 0h0m2 0h0m2 0h0m2 0h0m2 0h0m2 0h0m2 0h0m2 0h0m2 0h0m2 0h0m2 0h0m4 0h0m8 0h0m2 0h0m2 0h0m2 0h0m2 0h0m6 0h0m4 0h0m4 0h0m8 0h0m4 0h0m6 0h0m10 0h0m2 0h0" stroke="#1a1614" stroke-opacity="0.28" stroke-width="4" stroke-linecap="round" fill="none"/>
<path d="M1769 763h0m122 0h0m-132 16h0m108 2h0m-16 2h0m6 4h0m-82 6h0m92 10h0m2 2h0m-102 14h0m102 0h0m10 2h0m-126 2h0m6 2h0m116 0h0m-120 4h0m10 2h0m-8 2h0m110 0h0m-94 4h0m80 2h0m4 2h0m-100 4h0m-26 2h0m12 0h0m24 0h0m6 4h0m-16 2h0m22 0h0m0 2h0m110 0h0m-150 2h0m14 0h0m22 2h0m80 0h0m8 0h0m-8 2h0m22 0h0m12 0h0m-146 2h0m6 0h0m12 0h0m10 0h0m10 0h0m66 0h0m36 0h0m-98 2h0m84 0h0m14 0h0m-118 2h0m4 0h0m100 0h0m4 0h0m14 0h0m-42 2h0m20 0h0m6 0h0m18 0h0m-138 2h0m20 0h0m10 0h0m12 0h0m68 0h0m10 0h0m2 0h0m24 0h0m-30 2h0m2 0h0m8 0h0m-112 2h0m4 0h0m20 0h0m58 0h0m34 0h0m-120 2h0m8 0h0m134 0h0m-154 2h0m2 0h0m10 0h0m96 0h0m18 0h0m8 0h0m-154 2h0m2 0h0m6 0h0m44 0h0m68 0h0m8 0h0m6 0h0m22 0h0m4 0h0m-124 2h0m10 0h0m4 0h0m62 0h0m14 0h0m-110 2h0m94 0h0m14 0h0m14 0h0m8 0h0m24 0h0m-144 2h0m6 0h0m2 0h0m4 0h0m2 0h0m4 0h0m18 0h0m80 0h0m8 0h0m-140 2h0m18 0h0m2 0h0m4 0h0m8 0h0m2 0h0m4 0h0m84 0h0m2 0h0m6 0h0m4 0h0m8 0h0m-140 2h0m4 0h0m12 0h0m18 0h0m78 0h0m20 0h0m8 0h0m16 0h0m-116 2h0m88 0h0m10 0h0m18 0h0m2 0h0m-156 2h0m18 0h0m2 0h0m2 0h0m12 0h0m8 0h0m56 0h0m26 0h0m2 0h0m2 0h0m6 0h0m12 0h0m-142 2h0m4 0h0m12 0h0m2 0h0m10 0h0m16 0h0m8 0h0m40 0h0m8 0h0m2 0h0m8 0h0m20 0h0m2 0h0m6 0h0m4 0h0m-146 2h0m26 0h0m2 0h0m4 0h0m8 0h0m14 0h0m60 0h0m2 0h0m8 0h0m10 0h0m-144 2h0m24 0h0m2 0h0m4 0h0m10 0h0m2 0h0m12 0h0m16 0h0m46 0h0m2 0h0m2 0h0m2 0h0m8 0h0m2 0h0m8 0h0m4 0h0m4 0h0m12 0h0m8 0h0m-176 2h0m32 0h0m8 0h0m4 0h0m18 0h0m4 0h0m4 0h0m46 0h0m2 0h0m6 0h0m10 0h0m10 0h0m4 0h0m6 0h0m-160 2h0m18 0h0m6 0h0m8 0h0m8 0h0m2 0h0m10 0h0m6 0h0m4 0h0m6 0h0m44 0h0m6 0h0m2 0h0m20 0h0m2 0h0m6 0h0m10 0h0m4 0h0m2 0h0m-144 2h0m8 0h0m4 0h0m6 0h0m6 0h0m6 0h0m4 0h0m4 0h0m4 0h0m2 0h0m54 0h0m8 0h0m6 0h0m2 0h0m2 0h0m4 0h0m4 0h0m2 0h0m8 0h0m8 0h0m6 0h0m-132 2h0m2 0h0m18 0h0m8 0h0m2 0h0m4 0h0m2 0h0m56 0h0m2 0h0m2 0h0m2 0h0m4 0h0m2 0h0m8 0h0m6 0h0m10 0h0m2 0h0m14 0h0m-162 2h0m4 0h0m4 0h0m2 0h0m2 0h0m8 0h0m4 0h0m2 0h0m2 0h0m12 0h0m2 0h0m2 0h0m6 0h0m6 0h0m46 0h0m6 0h0m10 0h0m2 0h0m2 0h0m4 0h0m26 0h0m2 0h0m-174 2h0m16 0h0m4 0h0m18 0h0m2 0h0m2 0h0m2 0h0m4 0h0m6 0h0m8 0h0m2 0h0m6 0h0m4 0h0m6 0h0m50 0h0m4 0h0m2 0h0m2 0h0m2 0h0m6 0h0m2 0h0m4 0h0m-134 2h0m4 0h0m4 0h0m2 0h0m2 0h0m2 0h0m14 0h0m8 0h0m2 0h0m2 0h0m6 0h0m6 0h0m6 0h0m36 0h0m8 0h0m2 0h0m6 0h0m2 0h0m2 0h0m4 0h0m8 0h0m4 0h0m2 0h0m4 0h0m2 0h0m4 0h0m2 0h0m2 0h0m4 0h0m18 0h0m-154 2h0m4 0h0m4 0h0m6 0h0m4 0h0m4 0h0m2 0h0m6 0h0m4 0h0m2 0h0m4 0h0m14 0h0m26 0h0m2 0h0m14 0h0m2 0h0m8 0h0m4 0h0m2 0h0m10 0h0m6 0h0m10 0h0m12 0h0m2 0h0m4 0h0m-172 2h0m10 0h0m2 0h0m2 0h0m2 0h0m6 0h0m10 0h0m4 0h0m4 0h0m2 0h0m2 0h0m8 0h0m2 0h0m6 0h0m4 0h0m40 0h0m2 0h0m2 0h0m2 0h0m2 0h0m6 0h0m2 0h0m4 0h0m2 0h0m2 0h0m4 0h0m2 0h0m8 0h0m6 0h0m4 0h0m16 0h0m-180 2h0m10 0h0m18 0h0m10 0h0m4 0h0m2 0h0m6 0h0m6 0h0m4 0h0m2 0h0m14 0h0m28 0h0m18 0h0m2 0h0m10 0h0m2 0h0m12 0h0m4 0h0m8 0h0m4 0h0m10 0h0m-166 2h0m14 0h0m2 0h0m2 0h0m8 0h0m4 0h0m2 0h0m6 0h0m4 0h0m4 0h0m4 0h0m12 0h0m2 0h0m6 0h0m30 0h0m12 0h0m4 0h0m4 0h0m4 0h0m2 0h0m2 0h0m2 0h0m2 0h0m6 0h0m4 0h0m6 0h0m2 0h0m2 0h0m2 0h0m4 0h0m6 0h0m14 0h0m6 0h0m-186 2h0m12 0h0m6 0h0m4 0h0m4 0h0m8 0h0m2 0h0m2 0h0m6 0h0m2 0h0m2 0h0m2 0h0m2 0h0m2 0h0m6 0h0m8 0h0m2 0h0m6 0h0m30 0h0m2 0h0m2 0h0m4 0h0m4 0h0m4 0h0m4 0h0m2 0h0m4 0h0m2 0h0m2 0h0m2 0h0m2 0h0m10 0h0m10 0h0m14 0h0m-188 2h0m2 0h0m8 0h0m12 0h0m2 0h0m2 0h0m2 0h0m2 0h0m6 0h0m4 0h0m4 0h0m2 0h0m6 0h0m2 0h0m2 0h0m2 0h0m4 0h0m4 0h0m2 0h0m4 0h0m2 0h0m4 0h0m2 0h0m2 0h0m4 0h0m38 0h0m2 0h0m8 0h0m2 0h0m4 0h0m8 0h0m2 0h0m4 0h0m2 0h0m4 0h0m2 0h0m4 0h0m4 0h0m2 0h0m2 0h0m6 0h0m4 0h0m-172 2h0m4 0h0m4 0h0m8 0h0m6 0h0m6 0h0m2 0h0m2 0h0m4 0h0m2 0h0m2 0h0m2 0h0m6 0h0m2 0h0m2 0h0m4 0h0m2 0h0m2 0h0m4 0h0m2 0h0m4 0h0m2 0h0m14 0h0m14 0h0m8 0h0m4 0h0m4 0h0m4 0h0m2 0h0m2 0h0m2 0h0m2 0h0m4 0h0m2 0h0m2 0h0m6 0h0m8 0h0m6 0h0m6 0h0m2 0h0m4 0h0m2 0h0m20 0h0m-206 2h0m12 0h0m2 0h0m2 0h0m14 0h0m8 0h0m2 0h0m4 0h0m6 0h0m2 0h0m4 0h0m4 0h0m2 0h0m2 0h0m2 0h0m2 0h0m4 0h0m2 0h0m2 0h0m10 0h0m6 0h0m2 0h0m4 0h0m20 0h0m18 0h0m4 0h0m4 0h0m4 0h0m2 0h0m2 0h0m2 0h0m2 0h0m2 0h0m2 0h0m4 0h0m2 0h0m2 0h0m4 0h0m4 0h0m4 0h0m28 0h0m-226 2h0m4 0h0m14 0h0m6 0h0m2 0h0m12 0h0m6 0h0m6 0h0m2 0h0m6 0h0m4 0h0m12 0h0m4 0h0m2 0h0m2 0h0m4 0h0m2 0h0m2 0h0m2 0h0m2 0h0m2 0h0m2 0h0m2 0h0m4 0h0m4 0h0m4 0h0m2 0h0m10 0h0m2 0h0m8 0h0m4 0h0m2 0h0m2 0h0m4 0h0m2 0h0m2 0h0m4 0h0m4 0h0m2 0h0m2 0h0m6 0h0m2 0h0m2 0h0m2 0h0m4 0h0m6 0h0m2 0h0m2 0h0m4 0h0m2 0h0m2 0h0m6 0h0m2 0h0m4 0h0m2 0h0m-184 2h0m4 0h0m2 0h0m10 0h0m2 0h0m4 0h0m2 0h0m6 0h0m4 0h0m2 0h0m2 0h0m2 0h0m2 0h0m2 0h0m6 0h0m6 0h0m2 0h0m2 0h0m2 0h0m2 0h0m2 0h0m2 0h0m4 0h0m2 0h0m2 0h0m2 0h0m4 0h0m20 0h0m6 0h0m2 0h0m6 0h0m4 0h0m6 0h0m4 0h0m2 0h0m2 0h0m2 0h0m2 0h0m4 0h0m4 0h0m2 0h0m2 0h0m2 0h0m6 0h0m2 0h0m4 0h0m2 0h0m8 0h0m4 0h0m6 0h0m6 0h0m-206 2h0m8 0h0m14 0h0m10 0h0m2 0h0m2 0h0m4 0h0m2 0h0m2 0h0m2 0h0m4 0h0m4 0h0m2 0h0m2 0h0m2 0h0m4 0h0m2 0h0m2 0h0m2 0h0m2 0h0m2 0h0m4 0h0m6 0h0m2 0h0m2 0h0m2 0h0m6 0h0m2 0h0m4 0h0m2 0h0m4 0h0m2 0h0m12 0h0m4 0h0m2 0h0m4 0h0m2 0h0m2 0h0m4 0h0m4 0h0m2 0h0m2 0h0m2 0h0m6 0h0m8 0h0m2 0h0m4 0h0m2 0h0m2 0h0m4 0h0m2 0h0m2 0h0m2 0h0m2 0h0m6 0h0m8 0h0m12 0h0m-254 2h0m34 0h0m20 0h0m6 0h0m6 0h0m10 0h0m4 0h0m2 0h0m2 0h0m2 0h0m2 0h0m4 0h0m2 0h0m4 0h0m2 0h0m2 0h0m2 0h0m2 0h0m2 0h0m2 0h0m2 0h0m4 0h0m2 0h0m2 0h0m4 0h0m2 0h0m4 0h0m2 0h0m2 0h0m4 0h0m2 0h0m2 0h0m2 0h0m2 0h0m2 0h0m8 0h0m4 0h0m2 0h0m2 0h0m2 0h0m2 0h0m8 0h0m2 0h0m2 0h0m2 0h0m2 0h0m2 0h0m2 0h0m2 0h0m4 0h0m2 0h0m2 0h0m2 0h0m2 0h0m2 0h0m2 0h0m2 0h0m2 0h0m2 0h0m2 0h0m4 0h0m8 0h0m2 0h0m2 0h0m2 0h0m2 0h0m2 0h0m2 0h0m12 0h0m2 0h0m12 0h0m6 0h0m24 0h0m-272 2h0m26 0h0m6 0h0m2 0h0m12 0h0m2 0h0m2 0h0m10 0h0m4 0h0m2 0h0m6 0h0m2 0h0m2 0h0m2 0h0m2 0h0m6 0h0m2 0h0m2 0h0m2 0h0m2 0h0m2 0h0m2 0h0m2 0h0m2 0h0m2 0h0m2 0h0m4 0h0m2 0h0m2 0h0m2 0h0m2 0h0m2 0h0m2 0h0m4 0h0m2 0h0m2 0h0m4 0h0m2 0h0m6 0h0m2 0h0m2 0h0m2 0h0m2 0h0m2 0h0m2 0h0m2 0h0m2 0h0m2 0h0m2 0h0m2 0h0m2 0h0m4 0h0m2 0h0m4 0h0m2 0h0m2 0h0m4 0h0m2 0h0m2 0h0m2 0h0m8 0h0m2 0h0m2 0h0m2 0h0m2 0h0m6 0h0m4 0h0m2 0h0m4 0h0m4 0h0m2 0h0m10 0h0m8 0h0m2 0h0m2 0h0m6 0h0m2 0h0m6 0h0m8 0h0m-266 2h0m14 0h0m8 0h0m2 0h0m2 0h0m4 0h0m4 0h0m12 0h0m2 0h0m2 0h0m6 0h0m2 0h0m4 0h0m2 0h0m2 0h0m2 0h0m2 0h0m2 0h0m2 0h0m6 0h0m2 0h0m2 0h0m2 0h0m2 0h0m4 0h0m2 0h0m2 0h0m4 0h0m2 0h0m2 0h0m2 0h0m2 0h0m2 0h0m2 0h0m4 0h0m2 0h0m2 0h0m2 0h0m2 0h0m2 0h0m2 0h0m4 0h0m4 0h0m2 0h0m2 0h0m2 0h0m4 0h0m2 0h0m2 0h0m2 0h0m2 0h0m2 0h0m2 0h0m2 0h0m2 0h0m2 0h0m2 0h0m2 0h0m2 0h0m2 0h0m2 0h0m2 0h0m2 0h0m6 0h0m2 0h0m4 0h0m4 0h0m2 0h0m2 0h0m4 0h0m2 0h0m6 0h0m6 0h0m2 0h0m2 0h0m2 0h0m2 0h0m12 0h0m6 0h0m2 0h0m2 0h0m2 0h0m12 0h0m2 0h0m2 0h0" stroke="#1a1614" stroke-opacity="0.28" stroke-width="4" stroke-linecap="round" fill="none"/>
<path d="M1869 745h0m-102 8h0m96 0h0m-90 10h0m90 10h0m-106 12h0m118 8h0m-16 2h0m8 0h0m-24 10h0m46 2h0m-124 2h0m94 0h0m-106 2h0m130 0h0m-142 10h0m2 0h0m132 4h0m-110 4h0m84 2h0m4 4h0m22 0h0m-132 4h0m6 0h0m10 0h0m4 0h0m6 0h0m90 0h0m22 0h0m-108 2h0m104 0h0m8 0h0m-120 2h0m102 4h0m6 0h0m18 0h0m-120 4h0m2 0h0m4 0h0m104 0h0m-114 2h0m98 0h0m-126 2h0m122 0h0m8 0h0m-122 2h0m18 0h0m-4 2h0m4 0h0m102 0h0m-112 2h0m108 0h0m8 0h0m6 0h0m-126 2h0m-2 2h0m12 0h0m118 0h0m2 0h0m-32 2h0m-102 2h0m128 0h0m8 0h0m-118 2h0m-22 2h0m116 0h0m16 0h0m12 0h0m-28 2h0m4 0h0m12 0h0m14 0h0m6 0h0m-136 2h0m12 0h0m6 0h0m2 0h0m78 0h0m20 0h0m-48 2h0m22 0h0m22 0h0m6 0h0m-132 2h0m26 0h0m10 0h0m84 0h0m4 0h0m6 0h0m-114 2h0m4 0h0m8 0h0m78 0h0m24 0h0m-138 2h0m22 0h0m4 0h0m4 0h0m14 0h0m6 0h0m80 0h0m2 0h0m-126 2h0m14 0h0m4 0h0m76 0h0m8 0h0m6 0h0m2 0h0m8 0h0m6 0h0m-120 2h0m6 0h0m6 0h0m2 0h0m6 0h0m14 0h0m88 0h0m-128 2h0m8 0h0m6 0h0m12 0h0m28 0h0m50 0h0m2 0h0m2 0h0m6 0h0m6 0h0m4 0h0m4 0h0m2 0h0m4 0h0m6 0h0m2 0h0m6 0h0m10 0h0m-168 2h0m18 0h0m12 0h0m14 0h0m88 0h0m6 0h0m4 0h0m-124 2h0m4 0h0m6 0h0m20 0h0m14 0h0m6 0h0m40 0h0m12 0h0m2 0h0m12 0h0m18 0h0m2 0h0m-140 2h0m14 0h0m10 0h0m2 0h0m6 0h0m64 0h0m12 0h0m4 0h0m2 0h0m2 0h0m6 0h0m4 0h0m-130 2h0m6 0h0m8 0h0m10 0h0m16 0h0m10 0h0m2 0h0m50 0h0m16 0h0m2 0h0m-134 2h0m14 0h0m26 0h0m4 0h0m8 0h0m58 0h0m12 0h0m8 0h0m10 0h0m2 0h0m6 0h0m22 0h0m2 0h0m8 0h0m-168 2h0m20 0h0m2 0h0m8 0h0m2 0h0m14 0h0m12 0h0m42 0h0m4 0h0m6 0h0m4 0h0m2 0h0m40 0h0m-138 2h0m2 0h0m6 0h0m6 0h0m4 0h0m8 0h0m4 0h0m6 0h0m2 0h0m60 0h0m2 0h0m8 0h0m6 0h0m10 0h0m4 0h0m6 0h0m4 0h0m16 0h0m-178 2h0m10 0h0m4 0h0m2 0h0m2 0h0m20 0h0m8 0h0m2 0h0m10 0h0m4 0h0m42 0h0m18 0h0m12 0h0m8 0h0m2 0h0m2 0h0m6 0h0m-162 2h0m22 0h0m2 0h0m10 0h0m6 0h0m2 0h0m4 0h0m2 0h0m4 0h0m4 0h0m2 0h0m4 0h0m4 0h0m46 0h0m12 0h0m2 0h0m6 0h0m2 0h0m16 0h0m12 0h0m8 0h0m4 0h0m10 0h0m-170 2h0m4 0h0m2 0h0m16 0h0m6 0h0m2 0h0m4 0h0m10 0h0m54 0h0m2 0h0m8 0h0m4 0h0m2 0h0m2 0h0m6 0h0m6 0h0m6 0h0m20 0h0m-162 2h0m4 0h0m6 0h0m6 0h0m2 0h0m8 0h0m4 0h0m2 0h0m2 0h0m2 0h0m4 0h0m4 0h0m2 0h0m6 0h0m2 0h0m2 0h0m2 0h0m48 0h0m6 0h0m4 0h0m10 0h0m6 0h0m2 0h0m4 0h0m4 0h0m8 0h0m4 0h0m10 0h0m2 0h0m2 0h0m-180 2h0m26 0h0m2 0h0m4 0h0m6 0h0m4 0h0m4 0h0m4 0h0m4 0h0m6 0h0m2 0h0m16 0h0m54 0h0m4 0h0m6 0h0m2 0h0m2 0h0m4 0h0m12 0h0m8 0h0m4 0h0m12 0h0m-150 2h0m6 0h0m2 0h0m2 0h0m4 0h0m6 0h0m2 0h0m10 0h0m46 0h0m4 0h0m2 0h0m6 0h0m4 0h0m2 0h0m10 0h0m2 0h0m4 0h0m18 0h0m-158 2h0m20 0h0m10 0h0m6 0h0m2 0h0m12 0h0m2 0h0m4 0h0m2 0h0m16 0h0m34 0h0m4 0h0m6 0h0m8 0h0m8 0h0m4 0h0m10 0h0m2 0h0m4 0h0m6 0h0m-178 2h0m22 0h0m10 0h0m8 0h0m4 0h0m2 0h0m2 0h0m2 0h0m12 0h0m2 0h0m6 0h0m6 0h0m10 0h0m2 0h0m8 0h0m24 0h0m4 0h0m4 0h0m2 0h0m4 0h0m4 0h0m4 0h0m2 0h0m2 0h0m2 0h0m10 0h0m2 0h0m4 0h0m8 0h0m6 0h0m12 0h0m-178 2h0m14 0h0m2 0h0m14 0h0m4 0h0m2 0h0m6 0h0m4 0h0m2 0h0m2 0h0m4 0h0m2 0h0m2 0h0m2 0h0m6 0h0m2 0h0m2 0h0m4 0h0m4 0h0m34 0h0m2 0h0m2 0h0m8 0h0m4 0h0m6 0h0m4 0h0m2 0h0m2 0h0m4 0h0m6 0h0m2 0h0m4 0h0m12 0h0m8 0h0m6 0h0m-160 2h0m4 0h0m2 0h0m2 0h0m10 0h0m4 0h0m6 0h0m4 0h0m2 0h0m2 0h0m6 0h0m2 0h0m6 0h0m30 0h0m4 0h0m2 0h0m4 0h0m2 0h0m4 0h0m4 0h0m2 0h0m4 0h0m2 0h0m2 0h0m8 0h0m4 0h0m4 0h0m6 0h0m10 0h0m4 0h0m6 0h0m2 0h0m10 0h0m-186 2h0m2 0h0m6 0h0m2 0h0m4 0h0m2 0h0m14 0h0m12 0h0m2 0h0m2 0h0m2 0h0m2 0h0m2 0h0m2 0h0m2 0h0m4 0h0m2 0h0m4 0h0m2 0h0m4 0h0m6 0h0m26 0h0m2 0h0m2 0h0m4 0h0m4 0h0m4 0h0m4 0h0m2 0h0m2 0h0m6 0h0m2 0h0m4 0h0m10 0h0m6 0h0m2 0h0m6 0h0m2 0h0m6 0h0m2 0h0m12 0h0m-186 2h0m6 0h0m6 0h0m6 0h0m2 0h0m2 0h0m2 0h0m2 0h0m4 0h0m4 0h0m2 0h0m6 0h0m4 0h0m6 0h0m4 0h0m4 0h0m2 0h0m2 0h0m2 0h0m2 0h0m2 0h0m2 0h0m16 0h0m18 0h0m2 0h0m4 0h0m2 0h0m4 0h0m2 0h0m2 0h0m2 0h0m2 0h0m2 0h0m4 0h0m4 0h0m2 0h0m4 0h0m2 0h0m6 0h0m6 0h0m4 0h0m4 0h0m4 0h0m2 0h0m8 0h0m4 0h0m-182 2h0m4 0h0m2 0h0m10 0h0m2 0h0m4 0h0m10 0h0m6 0h0m2 0h0m2 0h0m2 0h0m4 0h0m2 0h0m4 0h0m2 0h0m2 0h0m4 0h0m2 0h0m4 0h0m2 0h0m2 0h0m4 0h0m4 0h0m2 0h0m2 0h0m2 0h0m20 0h0m14 0h0m2 0h0m8 0h0m6 0h0m2 0h0m4 0h0m2 0h0m2 0h0m2 0h0m2 0h0m4 0h0m8 0h0m2 0h0m4 0h0m4 0h0m8 0h0m4 0h0m-184 2h0m10 0h0m4 0h0m4 0h0m6 0h0m2 0h0m2 0h0m6 0h0m2 0h0m4 0h0m2 0h0m4 0h0m6 0h0m4 0h0m4 0h0m2 0h0m2 0h0m2 0h0m2 0h0m4 0h0m4 0h0m24 0h0m6 0h0m2 0h0m2 0h0m2 0h0m2 0h0m2 0h0m6 0h0m4 0h0m2 0h0m2 0h0m4 0h0m2 0h0m2 0h0m2 0h0m2 0h0m6 0h0m4 0h0m2 0h0m2 0h0m2 0h0m4 0h0m4 0h0m4 0h0m8 0h0m10 0h0m-184 2h0m8 0h0m4 0h0m2 0h0m2 0h0m2 0h0m4 0h0m4 0h0m2 0h0m6 0h0m4 0h0m2 0h0m6 0h0m2 0h0m2 0h0m4 0h0m2 0h0m2 0h0m4 0h0m4 0h0m4 0h0m16 0h0m10 0h0m2 0h0m4 0h0m2 0h0m2 0h0m4 0h0m2 0h0m2 0h0m2 0h0m2 0h0m2 0h0m2 0h0m2 0h0m2 0h0m2 0h0m2 0h0m2 0h0m2 0h0m4 0h0m4 0h0m2 0h0m4 0h0m2 0h0m2 0h0m10 0h0m2 0h0m4 0h0m8 0h0m2 0h0m2 0h0m8 0h0m6 0h0m-210 2h0m2 0h0m12 0h0m2 0h0m4 0h0m14 0h0m8 0h0m2 0h0m4 0h0m2 0h0m4 0h0m2 0h0m2 0h0m2 0h0m2 0h0m4 0h0m2 0h0m2 0h0m6 0h0m2 0h0m4 0h0m4 0h0m2 0h0m4 0h0m6 0h0m2 0h0m4 0h0m12 0h0m6 0h0m2 0h0m2 0h0m2 0h0m2 0h0m2 0h0m2 0h0m2 0h0m2 0h0m2 0h0m2 0h0m2 0h0m2 0h0m10 0h0m4 0h0m6 0h0m4 0h0m2 0h0m2 0h0m6 0h0m2 0h0m2 0h0m2 0h0m4 0h0m2 0h0m6 0h0m-210 2h0m14 0h0m12 0h0m10 0h0m4 0h0m4 0h0m2 0h0m6 0h0m2 0h0m2 0h0m4 0h0m2 0h0m4 0h0m2 0h0m2 0h0m2 0h0m2 0h0m2 0h0m4 0h0m2 0h0m2 0h0m2 0h0m4 0h0m2 0h0m2 0h0m2 0h0m2 0h0m2 0h0m2 0h0m8 0h0m4 0h0m2 0h0m2 0h0m4 0h0m2 0h0m6 0h0m2 0h0m2 0h0m4 0h0m2 0h0m2 0h0m2 0h0m2 0h0m2 0h0m4 0h0m6 0h0m2 0h0m2 0h0m2 0h0m2 0h0m2 0h0m4 0h0m6 0h0m2 0h0m8 0h0m4 0h0m10 0h0m2 0h0m-216 2h0m10 0h0m8 0h0m2 0h0m8 0h0m6 0h0m2 0h0m2 0h0m2 0h0m2 0h0m4 0h0m10 0h0m8 0h0m2 0h0m2 0h0m2 0h0m4 0h0m2 0h0m6 0h0m2 0h0m4 0h0m2 0h0m2 0h0m2 0h0m2 0h0m2 0h0m6 0h0m2 0h0m4 0h0m2 0h0m2 0h0m2 0h0m2 0h0m6 0h0m2 0h0m2 0h0m2 0h0m4 0h0m2 0h0m2 0h0m2 0h0m2 0h0m2 0h0m2 0h0m2 0h0m2 0h0m2 0h0m2 0h0m2 0h0m2 0h0m2 0h0m2 0h0m2 0h0m2 0h0m2 0h0m2 0h0m2 0h0m2 0h0m2 0h0m2 0h0m2 0h0m2 0h0m2 0h0m2 0h0m2 0h0m2 0h0m2 0h0m2 0h0m4 0h0m2 0h0m20 0h0m4 0h0m2 0h0m2 0h0m2 0h0m6 0h0m6 0h0m8 0h0m-266 2h0m34 0h0m20 0h0m8 0h0m2 0h0m2 0h0m2 0h0m6 0h0m2 0h0m2 0h0m2 0h0m2 0h0m2 0h0m2 0h0m2 0h0m2 0h0m2 0h0m2 0h0m2 0h0m2 0h0m4 0h0m2 0h0m2 0h0m2 0h0m2 0h0m2 0h0m2 0h0m2 0h0m2 0h0m2 0h0m2 0h0m2 0h0m2 0h0m2 0h0m2 0h0m2 0h0m2 0h0m2 0h0m4 0h0m2 0h0m2 0h0m2 0h0m2 0h0m2 0h0m4 0h0m2 0h0m2 0h0m2 0h0m2 0h0m2 0h0m2 0h0m2 0h0m2 0h0m2 0h0m2 0h0m2 0h0m2 0h0m2 0h0m2 0h0m2 0h0m2 0h0m2 0h0m2 0h0m2 0h0m2 0h0m2 0h0m2 0h0m2 0h0m2 0h0m2 0h0m2 0h0m2 0h0m2 0h0m4 0h0m4 0h0m4 0h0m4 0h0m2 0h0m2 0h0m8 0h0m4 0h0m8 0h0m2 0h0m2 0h0m4 0h0m8 0h0m2 0h0m2 0h0m10 0h0" stroke="#1a1614" stroke-opacity="0.28" stroke-width="4" stroke-linecap="round" fill="none"/>
<path d="M1777 739h0m98 8h0m-114 10h0m18 20h0m8 2h0m66 4h0m30 4h0m-128 8h0m98 0h0m-90 8h0m114 0h0m0 8h0m-118 10h0m2 10h0m-6 2h0m106 0h0m-98 2h0m132 0h0m-144 8h0m8 0h0m2 0h0m6 0h0m-12 2h0m98 0h0m-106 2h0m10 0h0m104 0h0m0 2h0m-116 2h0m118 0h0m28 2h0m4 0h0m-136 2h0m106 0h0m-112 2h0m6 0h0m92 0h0m20 0h0m-4 2h0m-106 2h0m78 0h0m6 0h0m6 0h0m6 0h0m-104 2h0m6 2h0m102 0h0m28 0h0m-136 2h0m10 0h0m4 0h0m2 0h0m64 0h0m32 0h0m4 0h0m-110 2h0m2 0h0m2 0h0m16 0h0m2 0h0m64 0h0m10 0h0m-102 2h0m8 0h0m84 0h0m-86 2h0m8 0h0m8 0h0m72 0h0m-100 2h0m6 0h0m14 0h0m104 0h0m-134 2h0m12 0h0m10 0h0m8 0h0m6 0h0m88 0h0m26 0h0m-122 2h0m8 0h0m4 0h0m6 0h0m2 0h0m4 0h0m66 0h0m8 0h0m14 0h0m-130 2h0m4 0h0m16 0h0m6 0h0m10 0h0m6 0h0m64 0h0m8 0h0m2 0h0m8 0h0m4 0h0m-118 2h0m88 0h0m2 0h0m8 0h0m32 0h0m-126 2h0m8 0h0m8 0h0m10 0h0m56 0h0m8 0h0m2 0h0m4 0h0m4 0h0m4 0h0m-118 2h0m10 0h0m4 0h0m24 0h0m72 0h0m6 0h0m4 0h0m24 0h0m-156 2h0m24 0h0m10 0h0m4 0h0m2 0h0m4 0h0m2 0h0m10 0h0m86 0h0m-120 2h0m32 0h0m66 0h0m8 0h0m2 0h0m2 0h0m20 0h0m-130 2h0m14 0h0m4 0h0m4 0h0m60 0h0m6 0h0m14 0h0m12 0h0m6 0h0m14 0h0m2 0h0m-144 2h0m28 0h0m18 0h0m54 0h0m10 0h0m2 0h0m-132 2h0m2 0h0m4 0h0m10 0h0m8 0h0m14 0h0m4 0h0m20 0h0m70 0h0m22 0h0m-116 2h0m4 0h0m10 0h0m56 0h0m12 0h0m4 0h0m2 0h0m2 0h0m6 0h0m10 0h0m4 0h0m4 0h0m4 0h0m-124 2h0m12 0h0m12 0h0m50 0h0m8 0h0m6 0h0m6 0h0m12 0h0m6 0h0m2 0h0m4 0h0m16 0h0m22 0h0m-154 2h0m4 0h0m6 0h0m4 0h0m6 0h0m10 0h0m58 0h0m2 0h0m16 0h0m8 0h0m2 0h0m4 0h0m4 0h0m-142 2h0m2 0h0m2 0h0m20 0h0m2 0h0m18 0h0m64 0h0m2 0h0m22 0h0m2 0h0m2 0h0m10 0h0m6 0h0m-170 2h0m24 0h0m4 0h0m6 0h0m10 0h0m6 0h0m2 0h0m8 0h0m6 0h0m56 0h0m4 0h0m2 0h0m4 0h0m6 0h0m2 0h0m2 0h0m2 0h0m16 0h0m6 0h0m-170 2h0m4 0h0m2 0h0m18 0h0m14 0h0m8 0h0m2 0h0m6 0h0m2 0h0m2 0h0m8 0h0m40 0h0m24 0h0m2 0h0m2 0h0m2 0h0m4 0h0m4 0h0m4 0h0m2 0h0m8 0h0m6 0h0m6 0h0m4 0h0m-160 2h0m12 0h0m2 0h0m4 0h0m2 0h0m6 0h0m10 0h0m2 0h0m2 0h0m2 0h0m4 0h0m8 0h0m4 0h0m2 0h0m32 0h0m6 0h0m10 0h0m12 0h0m4 0h0m6 0h0m10 0h0m6 0h0m4 0h0m38 0h0m-192 2h0m20 0h0m4 0h0m2 0h0m4 0h0m2 0h0m4 0h0m2 0h0m4 0h0m2 0h0m2 0h0m2 0h0m10 0h0m34 0h0m22 0h0m12 0h0m2 0h0m2 0h0m2 0h0m4 0h0m10 0h0m2 0h0m16 0h0m14 0h0m-178 2h0m12 0h0m4 0h0m2 0h0m4 0h0m6 0h0m6 0h0m4 0h0m2 0h0m2 0h0m4 0h0m2 0h0m6 0h0m2 0h0m12 0h0m32 0h0m6 0h0m2 0h0m6 0h0m10 0h0m2 0h0m4 0h0m14 0h0m4 0h0m10 0h0m6 0h0m8 0h0m4 0h0m-180 2h0m4 0h0m2 0h0m6 0h0m8 0h0m2 0h0m12 0h0m6 0h0m2 0h0m4 0h0m6 0h0m4 0h0m10 0h0m40 0h0m18 0h0m2 0h0m2 0h0m12 0h0m4 0h0m30 0h0m-182 2h0m8 0h0m8 0h0m2 0h0m4 0h0m2 0h0m8 0h0m8 0h0m2 0h0m4 0h0m4 0h0m4 0h0m10 0h0m4 0h0m2 0h0m2 0h0m2 0h0m2 0h0m34 0h0m10 0h0m2 0h0m2 0h0m2 0h0m10 0h0m2 0h0m2 0h0m12 0h0m4 0h0m10 0h0m18 0h0m-162 2h0m2 0h0m4 0h0m8 0h0m8 0h0m2 0h0m10 0h0m2 0h0m8 0h0m38 0h0m8 0h0m2 0h0m2 0h0m2 0h0m2 0h0m4 0h0m8 0h0m2 0h0m2 0h0m2 0h0m6 0h0m12 0h0m2 0h0m2 0h0m2 0h0m2 0h0m8 0h0m2 0h0m10 0h0m16 0h0m-188 2h0m10 0h0m4 0h0m2 0h0m2 0h0m4 0h0m2 0h0m2 0h0m8 0h0m2 0h0m2 0h0m2 0h0m2 0h0m2 0h0m2 0h0m2 0h0m8 0h0m2 0h0m38 0h0m4 0h0m2 0h0m2 0h0m4 0h0m2 0h0m2 0h0m4 0h0m2 0h0m2 0h0m4 0h0m2 0h0m2 0h0m2 0h0m2 0h0m6 0h0m4 0h0m6 0h0m6 0h0m6 0h0m4 0h0m8 0h0m-168 2h0m2 0h0m4 0h0m4 0h0m4 0h0m8 0h0m2 0h0m14 0h0m2 0h0m2 0h0m4 0h0m2 0h0m2 0h0m4 0h0m14 0h0m6 0h0m2 0h0m16 0h0m4 0h0m4 0h0m2 0h0m2 0h0m4 0h0m2 0h0m4 0h0m4 0h0m4 0h0m2 0h0m2 0h0m2 0h0m8 0h0m2 0h0m2 0h0m4 0h0m2 0h0m8 0h0m8 0h0m6 0h0m8 0h0m-188 2h0m8 0h0m4 0h0m2 0h0m12 0h0m4 0h0m2 0h0m4 0h0m4 0h0m2 0h0m2 0h0m2 0h0m2 0h0m8 0h0m8 0h0m4 0h0m2 0h0m6 0h0m4 0h0m22 0h0m4 0h0m4 0h0m2 0h0m6 0h0m2 0h0m2 0h0m2 0h0m4 0h0m2 0h0m2 0h0m2 0h0m6 0h0m2 0h0m4 0h0m4 0h0m18 0h0m6 0h0m4 0h0m2 0h0m10 0h0m-178 2h0m2 0h0m10 0h0m4 0h0m2 0h0m4 0h0m6 0h0m2 0h0m2 0h0m2 0h0m2 0h0m2 0h0m4 0h0m2 0h0m2 0h0m2 0h0m4 0h0m4 0h0m4 0h0m6 0h0m4 0h0m26 0h0m4 0h0m6 0h0m2 0h0m2 0h0m2 0h0m2 0h0m4 0h0m2 0h0m4 0h0m2 0h0m6 0h0m14 0h0m4 0h0m2 0h0m4 0h0m2 0h0m2 0h0m2 0h0m42 0h0m-252 2h0m30 0h0m4 0h0m18 0h0m2 0h0m2 0h0m4 0h0m6 0h0m2 0h0m2 0h0m2 0h0m2 0h0m2 0h0m2 0h0m2 0h0m2 0h0m2 0h0m4 0h0m2 0h0m6 0h0m2 0h0m4 0h0m2 0h0m2 0h0m2 0h0m2 0h0m2 0h0m4 0h0m12 0h0m8 0h0m10 0h0m4 0h0m4 0h0m2 0h0m2 0h0m2 0h0m2 0h0m8 0h0m2 0h0m4 0h0m22 0h0m2 0h0m2 0h0m2 0h0m4 0h0m12 0h0m6 0h0m2 0h0m2 0h0m-188 2h0m14 0h0m2 0h0m2 0h0m2 0h0m6 0h0m2 0h0m4 0h0m2 0h0m2 0h0m4 0h0m4 0h0m4 0h0m2 0h0m4 0h0m2 0h0m2 0h0m2 0h0m2 0h0m4 0h0m6 0h0m2 0h0m10 0h0m16 0h0m2 0h0m2 0h0m2 0h0m2 0h0m2 0h0m2 0h0m2 0h0m2 0h0m2 0h0m2 0h0m4 0h0m2 0h0m4 0h0m2 0h0m2 0h0m4 0h0m4 0h0m4 0h0m4 0h0m2 0h0m24 0h0m2 0h0m-212 2h0m4 0h0m16 0h0m2 0h0m8 0h0m2 0h0m14 0h0m2 0h0m2 0h0m4 0h0m2 0h0m4 0h0m4 0h0m2 0h0m2 0h0m2 0h0m2 0h0m2 0h0m2 0h0m2 0h0m2 0h0m2 0h0m2 0h0m2 0h0m2 0h0m4 0h0m8 0h0m6 0h0m2 0h0m10 0h0m4 0h0m16 0h0m2 0h0m2 0h0m2 0h0m2 0h0m2 0h0m2 0h0m2 0h0m2 0h0m2 0h0m2 0h0m2 0h0m2 0h0m2 0h0m2 0h0m2 0h0m2 0h0m2 0h0m2 0h0m2 0h0m2 0h0m6 0h0m6 0h0m4 0h0m2 0h0m8 0h0m-186 2h0m2 0h0m10 0h0m4 0h0m2 0h0m2 0h0m4 0h0m2 0h0m2 0h0m8 0h0m2 0h0m2 0h0m6 0h0m2 0h0m2 0h0m2 0h0m2 0h0m2 0h0m2 0h0m6 0h0m2 0h0m2 0h0m6 0h0m2 0h0m2 0h0m2 0h0m4 0h0m4 0h0m4 0h0m4 0h0m4 0h0m2 0h0m6 0h0m2 0h0m2 0h0m2 0h0m2 0h0m2 0h0m4 0h0m2 0h0m2 0h0m4 0h0m2 0h0m2 0h0m2 0h0m2 0h0m2 0h0m6 0h0m2 0h0m2 0h0m2 0h0m2 0h0m2 0h0m2 0h0m2 0h0m2 0h0m2 0h0m4 0h0m2 0h0m2 0h0m2 0h0m2 0h0m4 0h0m2 0h0m2 0h0m4 0h0m22 0h0m-220 2h0m4 0h0m6 0h0m8 0h0m2 0h0m2 0h0m2 0h0m2 0h0m2 0h0m4 0h0m8 0h0m6 0h0m2 0h0m2 0h0m2 0h0m2 0h0m2 0h0m2 0h0m4 0h0m2 0h0m2 0h0m2 0h0m2 0h0m2 0h0m2 0h0m4 0h0m2 0h0m2 0h0m2 0h0m2 0h0m2 0h0m2 0h0m2 0h0m2 0h0m4 0h0m4 0h0m6 0h0m8 0h0m2 0h0m6 0h0m2 0h0m6 0h0m2 0h0m2 0h0m4 0h0m2 0h0m2 0h0m2 0h0m2 0h0m2 0h0m2 0h0m4 0h0m4 0h0m2 0h0m2 0h0m4 0h0m4 0h0m4 0h0m8 0h0m8 0h0m4 0h0m2 0h0m8 0h0m2 0h0m6 0h0m6 0h0m10 0h0m20 0h0m-260 2h0m6 0h0m16 0h0m6 0h0m12 0h0m6 0h0m2 0h0m4 0h0m2 0h0m2 0h0m2 0h0m2 0h0m2 0h0m2 0h0m2 0h0m2 0h0m2 0h0m2 0h0m2 0h0m2 0h0m2 0h0m2 0h0m2 0h0m2 0h0m2 0h0m2 0h0m2 0h0m2 0h0m2 0h0m2 0h0m2 0h0m2 0h0m10 0h0m2 0h0m4 0h0m2 0h0m4 0h0m2 0h0m2 0h0m2 0h0m2 0h0m2 0h0m4 0h0m2 0h0m2 0h0m2 0h0m4 0h0m2 0h0m2 0h0m2 0h0m2 0h0m2 0h0m2 0h0m2 0h0m2 0h0m2 0h0m2 0h0m2 0h0m2 0h0m4 0h0m2 0h0m2 0h0m2 0h0m2 0h0m2 0h0m2 0h0m4 0h0m6 0h0m6 0h0m6 0h0m16 0h0m4 0h0m10 0h0m8 0h0m-268 2h0m16 0h0m6 0h0m2 0h0m4 0h0m2 0h0m4 0h0m2 0h0m6 0h0m6 0h0m2 0h0m4 0h0m6 0h0m2 0h0m2 0h0m4 0h0m4 0h0m2 0h0m6 0h0m2 0h0m4 0h0m2 0h0m2 0h0m2 0h0m2 0h0m2 0h0m2 0h0m2 0h0m4 0h0m2 0h0m2 0h0m2 0h0m2 0h0m2 0h0m2 0h0m2 0h0m2 0h0m2 0h0m2 0h0m2 0h0m2 0h0m2 0h0m2 0h0m6 0h0m2 0h0m2 0h0m2 0h0m4 0h0m2 0h0m6 0h0m2 0h0m4 0h0m2 0h0m2 0h0m2 0h0m2 0h0m2 0h0m2 0h0m4 0h0m2 0h0m2 0h0m2 0h0m6 0h0m2 0h0m2 0h0m2 0h0m2 0h0m2 0h0m4 0h0m2 0h0m2 0h0m2 0h0m2 0h0m2 0h0m14 0h0m2 0h0m4 0h0m4 0h0m2 0h0m2 0h0m4 0h0m10 0h0m2 0h0m6 0h0m12 0h0" stroke="#1a1614" stroke-opacity="0.28" stroke-width="4" stroke-linecap="round" fill="none"/>
<path d="M1857 727h0m-102 48h0m96 8h0m16 0h0m-108 4h0m-6 8h0m144 6h0m-124 6h0m92 0h0m-24 4h0m-84 4h0m-2 4h0m16 0h0m12 0h0m-26 2h0m8 2h0m6 0h0m92 2h0m-120 2h0m22 0h0m-14 2h0m4 0h0m100 0h0m10 0h0m2 0h0m-92 2h0m90 2h0m22 0h0m-146 4h0m28 0h0m92 2h0m-100 2h0m24 2h0m-16 2h0m8 0h0m104 0h0m-138 2h0m114 0h0m16 0h0m-126 2h0m112 0h0m24 0h0m-22 2h0m-98 2h0m96 0h0m10 0h0m-94 2h0m2 0h0m18 0h0m62 0h0m38 0h0m-46 2h0m4 0h0m0 2h0m24 0h0m-8 2h0m-94 2h0m102 0h0m4 0h0m32 0h0m-136 2h0m16 0h0m74 0h0m22 0h0m-130 2h0m12 0h0m92 0h0m-108 2h0m88 0h0m26 0h0m-118 2h0m10 0h0m-10 2h0m22 0h0m2 0h0m62 0h0m10 0h0m-80 2h0m4 0h0m4 0h0m76 0h0m8 0h0m2 0h0m2 0h0m4 0h0m2 0h0m4 0h0m6 0h0m26 0h0m-150 2h0m2 0h0m20 0h0m64 0h0m12 0h0m-86 2h0m92 0h0m4 0h0m4 0h0m-120 2h0m8 0h0m2 0h0m86 0h0m30 0h0m22 0h0m-144 2h0m8 0h0m2 0h0m106 0h0m-138 2h0m18 0h0m116 0h0m10 0h0m-110 2h0m4 0h0m4 0h0m2 0h0m8 0h0m74 0h0m18 0h0m10 0h0m-140 2h0m10 0h0m8 0h0m4 0h0m12 0h0m2 0h0m78 0h0m10 0h0m32 0h0m-162 2h0m16 0h0m4 0h0m8 0h0m8 0h0m14 0h0m50 0h0m24 0h0m10 0h0m12 0h0m-146 2h0m10 0h0m8 0h0m6 0h0m10 0h0m8 0h0m54 0h0m12 0h0m4 0h0m12 0h0m4 0h0m-90 2h0m4 0h0m2 0h0m2 0h0m14 0h0m54 0h0m10 0h0m6 0h0m6 0h0m-160 2h0m32 0h0m18 0h0m4 0h0m4 0h0m8 0h0m2 0h0m2 0h0m6 0h0m58 0h0m2 0h0m8 0h0m12 0h0m20 0h0m-134 2h0m2 0h0m4 0h0m8 0h0m2 0h0m4 0h0m4 0h0m4 0h0m4 0h0m60 0h0m38 0h0m-146 2h0m2 0h0m6 0h0m8 0h0m16 0h0m4 0h0m2 0h0m66 0h0m6 0h0m6 0h0m6 0h0m4 0h0m2 0h0m4 0h0m6 0h0m-136 2h0m8 0h0m2 0h0m8 0h0m6 0h0m10 0h0m4 0h0m2 0h0m12 0h0m52 0h0m12 0h0m2 0h0m2 0h0m14 0h0m-144 2h0m14 0h0m12 0h0m6 0h0m4 0h0m4 0h0m6 0h0m8 0h0m4 0h0m60 0h0m4 0h0m4 0h0m2 0h0m2 0h0m2 0h0m12 0h0m2 0h0m-140 2h0m16 0h0m2 0h0m4 0h0m4 0h0m2 0h0m18 0h0m4 0h0m48 0h0m6 0h0m2 0h0m24 0h0m6 0h0m6 0h0m4 0h0m2 0h0m-146 2h0m10 0h0m2 0h0m4 0h0m10 0h0m20 0h0m6 0h0m6 0h0m42 0h0m14 0h0m2 0h0m8 0h0m4 0h0m12 0h0m4 0h0m-144 2h0m10 0h0m16 0h0m4 0h0m10 0h0m2 0h0m6 0h0m6 0h0m2 0h0m38 0h0m2 0h0m6 0h0m6 0h0m4 0h0m2 0h0m2 0h0m4 0h0m2 0h0m2 0h0m12 0h0m8 0h0m2 0h0m-152 2h0m10 0h0m2 0h0m18 0h0m2 0h0m2 0h0m6 0h0m4 0h0m2 0h0m2 0h0m2 0h0m58 0h0m4 0h0m10 0h0m2 0h0m8 0h0m4 0h0m6 0h0m24 0h0m8 0h0m-180 2h0m4 0h0m20 0h0m4 0h0m6 0h0m6 0h0m2 0h0m4 0h0m4 0h0m8 0h0m6 0h0m4 0h0m12 0h0m26 0h0m10 0h0m6 0h0m2 0h0m2 0h0m2 0h0m2 0h0m4 0h0m10 0h0m2 0h0m-140 2h0m10 0h0m4 0h0m4 0h0m10 0h0m4 0h0m4 0h0m2 0h0m2 0h0m2 0h0m2 0h0m2 0h0m2 0h0m6 0h0m2 0h0m18 0h0m24 0h0m10 0h0m2 0h0m18 0h0m4 0h0m4 0h0m2 0h0m4 0h0m-140 2h0m10 0h0m2 0h0m16 0h0m4 0h0m2 0h0m6 0h0m2 0h0m2 0h0m2 0h0m16 0h0m28 0h0m4 0h0m8 0h0m4 0h0m6 0h0m2 0h0m4 0h0m12 0h0m2 0h0m4 0h0m2 0h0m6 0h0m6 0h0m18 0h0m-166 2h0m4 0h0m6 0h0m6 0h0m6 0h0m12 0h0m2 0h0m2 0h0m2 0h0m2 0h0m2 0h0m6 0h0m6 0h0m38 0h0m8 0h0m2 0h0m8 0h0m8 0h0m2 0h0m2 0h0m4 0h0m6 0h0m8 0h0m4 0h0m2 0h0m4 0h0m-172 2h0m18 0h0m6 0h0m4 0h0m8 0h0m2 0h0m6 0h0m2 0h0m6 0h0m6 0h0m4 0h0m2 0h0m10 0h0m2 0h0m36 0h0m12 0h0m8 0h0m2 0h0m2 0h0m4 0h0m2 0h0m2 0h0m16 0h0m6 0h0m4 0h0m-174 2h0m6 0h0m10 0h0m12 0h0m2 0h0m4 0h0m2 0h0m6 0h0m4 0h0m2 0h0m2 0h0m8 0h0m2 0h0m2 0h0m2 0h0m2 0h0m2 0h0m2 0h0m2 0h0m6 0h0m2 0h0m6 0h0m40 0h0m2 0h0m2 0h0m4 0h0m4 0h0m4 0h0m2 0h0m2 0h0m2 0h0m2 0h0m2 0h0m8 0h0m2 0h0m4 0h0m10 0h0m2 0h0m4 0h0m-172 2h0m14 0h0m4 0h0m4 0h0m2 0h0m2 0h0m8 0h0m4 0h0m4 0h0m2 0h0m4 0h0m6 0h0m2 0h0m2 0h0m2 0h0m4 0h0m2 0h0m2 0h0m2 0h0m2 0h0m4 0h0m4 0h0m20 0h0m2 0h0m2 0h0m4 0h0m6 0h0m2 0h0m2 0h0m2 0h0m2 0h0m6 0h0m2 0h0m4 0h0m12 0h0m4 0h0m4 0h0m2 0h0m2 0h0m2 0h0m20 0h0m-190 2h0m24 0h0m4 0h0m2 0h0m6 0h0m2 0h0m2 0h0m2 0h0m2 0h0m2 0h0m6 0h0m4 0h0m2 0h0m2 0h0m2 0h0m2 0h0m2 0h0m2 0h0m4 0h0m4 0h0m2 0h0m10 0h0m8 0h0m2 0h0m8 0h0m4 0h0m10 0h0m2 0h0m8 0h0m2 0h0m2 0h0m4 0h0m2 0h0m2 0h0m2 0h0m2 0h0m8 0h0m2 0h0m6 0h0m8 0h0m6 0h0m6 0h0m2 0h0m2 0h0m14 0h0m12 0h0m-204 2h0m2 0h0m2 0h0m4 0h0m8 0h0m6 0h0m4 0h0m2 0h0m6 0h0m2 0h0m14 0h0m2 0h0m2 0h0m2 0h0m2 0h0m2 0h0m4 0h0m2 0h0m12 0h0m24 0h0m8 0h0m2 0h0m2 0h0m4 0h0m4 0h0m2 0h0m2 0h0m2 0h0m2 0h0m4 0h0m8 0h0m2 0h0m2 0h0m2 0h0m2 0h0m4 0h0m2 0h0m2 0h0m4 0h0m2 0h0m4 0h0m2 0h0m4 0h0m2 0h0m6 0h0m-188 2h0m16 0h0m2 0h0m4 0h0m4 0h0m4 0h0m2 0h0m2 0h0m14 0h0m2 0h0m2 0h0m2 0h0m2 0h0m4 0h0m2 0h0m2 0h0m2 0h0m2 0h0m2 0h0m4 0h0m8 0h0m6 0h0m2 0h0m16 0h0m6 0h0m2 0h0m6 0h0m4 0h0m2 0h0m2 0h0m2 0h0m2 0h0m2 0h0m2 0h0m4 0h0m2 0h0m2 0h0m4 0h0m2 0h0m2 0h0m2 0h0m2 0h0m12 0h0m4 0h0m2 0h0m2 0h0m2 0h0m2 0h0m8 0h0m2 0h0m6 0h0m2 0h0m2 0h0m-216 2h0m16 0h0m4 0h0m10 0h0m6 0h0m2 0h0m6 0h0m2 0h0m2 0h0m4 0h0m6 0h0m4 0h0m2 0h0m4 0h0m2 0h0m2 0h0m6 0h0m2 0h0m8 0h0m2 0h0m2 0h0m2 0h0m2 0h0m10 0h0m2 0h0m2 0h0m2 0h0m6 0h0m2 0h0m4 0h0m4 0h0m2 0h0m2 0h0m4 0h0m4 0h0m2 0h0m2 0h0m4 0h0m2 0h0m4 0h0m2 0h0m2 0h0m2 0h0m2 0h0m2 0h0m2 0h0m2 0h0m8 0h0m2 0h0m4 0h0m2 0h0m2 0h0m8 0h0m4 0h0m2 0h0m-200 2h0m10 0h0m8 0h0m2 0h0m4 0h0m2 0h0m4 0h0m8 0h0m6 0h0m8 0h0m4 0h0m4 0h0m2 0h0m2 0h0m2 0h0m2 0h0m2 0h0m2 0h0m2 0h0m2 0h0m2 0h0m6 0h0m2 0h0m2 0h0m4 0h0m2 0h0m2 0h0m2 0h0m2 0h0m2 0h0m2 0h0m4 0h0m2 0h0m6 0h0m10 0h0m2 0h0m2 0h0m2 0h0m2 0h0m2 0h0m2 0h0m2 0h0m4 0h0m2 0h0m4 0h0m2 0h0m2 0h0m2 0h0m4 0h0m2 0h0m2 0h0m2 0h0m4 0h0m2 0h0m2 0h0m2 0h0m2 0h0m2 0h0m4 0h0m2 0h0m2 0h0m12 0h0m4 0h0m2 0h0m24 0h0m16 0h0m-240 2h0m4 0h0m4 0h0m4 0h0m4 0h0m4 0h0m4 0h0m6 0h0m2 0h0m8 0h0m2 0h0m2 0h0m6 0h0m2 0h0m4 0h0m2 0h0m2 0h0m6 0h0m4 0h0m2 0h0m4 0h0m2 0h0m2 0h0m2 0h0m2 0h0m4 0h0m2 0h0m2 0h0m2 0h0m2 0h0m6 0h0m4 0h0m10 0h0m4 0h0m4 0h0m4 0h0m2 0h0m2 0h0m2 0h0m2 0h0m2 0h0m2 0h0m2 0h0m2 0h0m4 0h0m2 0h0m2 0h0m2 0h0m4 0h0m4 0h0m6 0h0m2 0h0m2 0h0m4 0h0m2 0h0m4 0h0m2 0h0m2 0h0m2 0h0m2 0h0m6 0h0m18 0h0m18 0h0m-250 2h0m8 0h0m4 0h0m4 0h0m16 0h0m8 0h0m2 0h0m2 0h0m2 0h0m8 0h0m2 0h0m2 0h0m6 0h0m2 0h0m2 0h0m6 0h0m4 0h0m2 0h0m2 0h0m6 0h0m2 0h0m2 0h0m2 0h0m2 0h0m2 0h0m2 0h0m2 0h0m2 0h0m2 0h0m2 0h0m4 0h0m2 0h0m8 0h0m2 0h0m2 0h0m2 0h0m2 0h0m2 0h0m2 0h0m2 0h0m2 0h0m4 0h0m4 0h0m2 0h0m2 0h0m2 0h0m2 0h0m2 0h0m2 0h0m2 0h0m2 0h0m2 0h0m4 0h0m2 0h0m2 0h0m2 0h0m2 0h0m2 0h0m4 0h0m2 0h0m12 0h0m2 0h0m2 0h0m2 0h0m10 0h0m6 0h0m6 0h0m4 0h0m4 0h0m2 0h0m4 0h0m8 0h0m6 0h0m-338 2h0m68 0h0m34 0h0m2 0h0m8 0h0m2 0h0m6 0h0m2 0h0m2 0h0m2 0h0m2 0h0m6 0h0m8 0h0m2 0h0m2 0h0m4 0h0m2 0h0m4 0h0m2 0h0m2 0h0m2 0h0m2 0h0m2 0h0m4 0h0m2 0h0m2 0h0m2 0h0m2 0h0m2 0h0m2 0h0m2 0h0m2 0h0m2 0h0m2 0h0m2 0h0m2 0h0m2 0h0m2 0h0m2 0h0m2 0h0m4 0h0m4 0h0m2 0h0m2 0h0m2 0h0m2 0h0m4 0h0m2 0h0m2 0h0m2 0h0m2 0h0m2 0h0m4 0h0m2 0h0m2 0h0m2 0h0m4 0h0m2 0h0m2 0h0m2 0h0m4 0h0m2 0h0m2 0h0m4 0h0m6 0h0m2 0h0m2 0h0m4 0h0m2 0h0m2 0h0m4 0h0m2 0h0m2 0h0m8 0h0m4 0h0m6 0h0m12 0h0m10 0h0m54 0h0" stroke="#1a1614" stroke-opacity="0.28" stroke-width="4" stroke-linecap="round" fill="none"/>
<path d="M1861 741h0m-86 2h0m12 38h0m88 14h0m-20 8h0m-86 4h0m-12 2h0m16 0h0m-16 6h0m14 0h0m-2 2h0m86 4h0m-112 2h0m144 2h0m-140 4h0m-6 4h0m8 4h0m108 0h0m-90 4h0m-10 2h0m14 0h0m86 0h0m14 2h0m-102 2h0m100 0h0m42 0h0m-134 4h0m-42 2h0m42 0h0m72 0h0m8 0h0m24 0h0m-24 2h0m20 0h0m-122 2h0m14 0h0m98 0h0m-106 2h0m102 0h0m-88 2h0m80 0h0m4 0h0m16 0h0m-16 2h0m2 0h0m30 0h0m-120 2h0m4 0h0m-38 2h0m6 0h0m26 0h0m88 0h0m-108 2h0m102 0h0m10 0h0m22 0h0m-136 2h0m26 0h0m94 0h0m28 0h0m-126 2h0m82 0h0m6 0h0m2 0h0m-116 2h0m4 0h0m8 0h0m6 0h0m4 0h0m24 0h0m88 0h0m-138 2h0m12 0h0m6 0h0m4 0h0m14 0h0m80 0h0m8 0h0m10 0h0m-108 2h0m6 0h0m-10 2h0m80 0h0m10 0h0m20 0h0m6 0h0m-122 2h0m4 0h0m2 0h0m18 0h0m4 0h0m4 0h0m84 0h0m-100 2h0m8 0h0m82 0h0m16 0h0m6 0h0m-146 2h0m12 0h0m2 0h0m32 0h0m74 0h0m10 0h0m-110 2h0m10 0h0m102 0h0m-122 2h0m26 0h0m4 0h0m2 0h0m6 0h0m70 0h0m4 0h0m16 0h0m2 0h0m4 0h0m26 0h0m-170 2h0m12 0h0m122 0h0m6 0h0m2 0h0m10 0h0m-138 2h0m16 0h0m82 0h0m12 0h0m24 0h0m2 0h0m8 0h0m-136 2h0m8 0h0m4 0h0m4 0h0m10 0h0m48 0h0m2 0h0m20 0h0m2 0h0m2 0h0m6 0h0m-118 2h0m8 0h0m14 0h0m6 0h0m2 0h0m2 0h0m2 0h0m8 0h0m10 0h0m2 0h0m36 0h0m12 0h0m8 0h0m4 0h0m10 0h0m2 0h0m8 0h0m2 0h0m-156 2h0m26 0h0m4 0h0m4 0h0m76 0h0m12 0h0m2 0h0m4 0h0m2 0h0m2 0h0m2 0h0m2 0h0m4 0h0m-122 2h0m6 0h0m2 0h0m8 0h0m2 0h0m2 0h0m4 0h0m12 0h0m4 0h0m60 0h0m2 0h0m10 0h0m2 0h0m2 0h0m2 0h0m12 0h0m2 0h0m2 0h0m-136 2h0m20 0h0m2 0h0m10 0h0m4 0h0m2 0h0m66 0h0m6 0h0m2 0h0m4 0h0m6 0h0m12 0h0m-144 2h0m6 0h0m2 0h0m24 0h0m2 0h0m6 0h0m18 0h0m60 0h0m2 0h0m8 0h0m2 0h0m4 0h0m6 0h0m4 0h0m2 0h0m10 0h0m-158 2h0m40 0h0m2 0h0m4 0h0m4 0h0m2 0h0m2 0h0m2 0h0m4 0h0m4 0h0m50 0h0m2 0h0m2 0h0m2 0h0m2 0h0m2 0h0m4 0h0m2 0h0m4 0h0m8 0h0m2 0h0m6 0h0m14 0h0m12 0h0m-178 2h0m14 0h0m8 0h0m4 0h0m2 0h0m4 0h0m2 0h0m4 0h0m4 0h0m2 0h0m2 0h0m4 0h0m4 0h0m6 0h0m4 0h0m56 0h0m6 0h0m2 0h0m12 0h0m2 0h0m2 0h0m6 0h0m16 0h0m8 0h0m2 0h0m-172 2h0m8 0h0m4 0h0m2 0h0m2 0h0m10 0h0m8 0h0m4 0h0m2 0h0m2 0h0m4 0h0m2 0h0m6 0h0m2 0h0m8 0h0m52 0h0m2 0h0m4 0h0m2 0h0m22 0h0m10 0h0m-164 2h0m12 0h0m6 0h0m2 0h0m2 0h0m2 0h0m2 0h0m8 0h0m2 0h0m4 0h0m6 0h0m10 0h0m2 0h0m2 0h0m6 0h0m34 0h0m14 0h0m2 0h0m2 0h0m4 0h0m2 0h0m4 0h0m6 0h0m2 0h0m2 0h0m2 0h0m4 0h0m16 0h0m16 0h0m-178 2h0m8 0h0m6 0h0m4 0h0m10 0h0m2 0h0m16 0h0m4 0h0m10 0h0m6 0h0m2 0h0m2 0h0m52 0h0m4 0h0m4 0h0m4 0h0m6 0h0m10 0h0m6 0h0m4 0h0m10 0h0m24 0h0m-176 2h0m12 0h0m2 0h0m4 0h0m4 0h0m6 0h0m4 0h0m2 0h0m2 0h0m4 0h0m12 0h0m2 0h0m4 0h0m28 0h0m16 0h0m4 0h0m2 0h0m4 0h0m2 0h0m2 0h0m2 0h0m2 0h0m8 0h0m2 0h0m2 0h0m10 0h0m6 0h0m16 0h0m-178 2h0m6 0h0m2 0h0m2 0h0m12 0h0m16 0h0m4 0h0m4 0h0m6 0h0m6 0h0m2 0h0m2 0h0m34 0h0m8 0h0m4 0h0m4 0h0m6 0h0m4 0h0m2 0h0m2 0h0m2 0h0m6 0h0m4 0h0m12 0h0m4 0h0m4 0h0m24 0h0m-194 2h0m22 0h0m6 0h0m2 0h0m2 0h0m2 0h0m8 0h0m6 0h0m2 0h0m4 0h0m2 0h0m2 0h0m10 0h0m4 0h0m2 0h0m2 0h0m36 0h0m2 0h0m2 0h0m4 0h0m2 0h0m4 0h0m12 0h0m8 0h0m2 0h0m4 0h0m2 0h0m2 0h0m2 0h0m2 0h0m8 0h0m4 0h0m28 0h0m-204 2h0m2 0h0m8 0h0m8 0h0m4 0h0m12 0h0m2 0h0m22 0h0m2 0h0m6 0h0m2 0h0m6 0h0m2 0h0m2 0h0m8 0h0m6 0h0m18 0h0m4 0h0m8 0h0m6 0h0m6 0h0m2 0h0m4 0h0m4 0h0m2 0h0m4 0h0m2 0h0m4 0h0m4 0h0m4 0h0m2 0h0m2 0h0m2 0h0m2 0h0m10 0h0m4 0h0m2 0h0m2 0h0m10 0h0m-176 2h0m4 0h0m10 0h0m2 0h0m10 0h0m2 0h0m2 0h0m4 0h0m2 0h0m2 0h0m2 0h0m6 0h0m2 0h0m6 0h0m2 0h0m2 0h0m2 0h0m10 0h0m30 0h0m2 0h0m4 0h0m4 0h0m4 0h0m2 0h0m2 0h0m2 0h0m2 0h0m4 0h0m4 0h0m4 0h0m2 0h0m6 0h0m4 0h0m4 0h0m2 0h0m4 0h0m2 0h0m4 0h0m14 0h0m-186 2h0m4 0h0m18 0h0m4 0h0m4 0h0m10 0h0m4 0h0m2 0h0m4 0h0m6 0h0m8 0h0m2 0h0m2 0h0m2 0h0m2 0h0m2 0h0m2 0h0m4 0h0m30 0h0m2 0h0m4 0h0m2 0h0m4 0h0m2 0h0m2 0h0m6 0h0m6 0h0m8 0h0m4 0h0m2 0h0m2 0h0m2 0h0m2 0h0m2 0h0m12 0h0m6 0h0m2 0h0m2 0h0m-174 2h0m4 0h0m2 0h0m4 0h0m6 0h0m2 0h0m6 0h0m8 0h0m4 0h0m4 0h0m2 0h0m2 0h0m2 0h0m2 0h0m2 0h0m6 0h0m2 0h0m2 0h0m2 0h0m2 0h0m2 0h0m6 0h0m2 0h0m6 0h0m12 0h0m2 0h0m2 0h0m4 0h0m2 0h0m4 0h0m2 0h0m2 0h0m2 0h0m2 0h0m2 0h0m2 0h0m2 0h0m2 0h0m4 0h0m2 0h0m2 0h0m2 0h0m2 0h0m2 0h0m4 0h0m2 0h0m6 0h0m6 0h0m6 0h0m2 0h0m6 0h0m16 0h0m-212 2h0m16 0h0m20 0h0m4 0h0m4 0h0m2 0h0m2 0h0m2 0h0m2 0h0m4 0h0m2 0h0m6 0h0m2 0h0m2 0h0m4 0h0m2 0h0m2 0h0m2 0h0m2 0h0m2 0h0m4 0h0m4 0h0m2 0h0m2 0h0m2 0h0m2 0h0m2 0h0m2 0h0m10 0h0m8 0h0m2 0h0m6 0h0m2 0h0m2 0h0m2 0h0m2 0h0m2 0h0m2 0h0m2 0h0m2 0h0m2 0h0m2 0h0m2 0h0m6 0h0m2 0h0m2 0h0m2 0h0m2 0h0m2 0h0m4 0h0m4 0h0m2 0h0m2 0h0m10 0h0m2 0h0m2 0h0m8 0h0m4 0h0m4 0h0m8 0h0m-214 2h0m12 0h0m8 0h0m12 0h0m2 0h0m6 0h0m4 0h0m2 0h0m4 0h0m2 0h0m2 0h0m2 0h0m4 0h0m2 0h0m2 0h0m2 0h0m2 0h0m4 0h0m4 0h0m2 0h0m2 0h0m4 0h0m2 0h0m2 0h0m2 0h0m20 0h0m4 0h0m4 0h0m6 0h0m2 0h0m4 0h0m2 0h0m2 0h0m4 0h0m2 0h0m2 0h0m2 0h0m6 0h0m8 0h0m2 0h0m4 0h0m4 0h0m2 0h0m2 0h0m4 0h0m6 0h0m10 0h0m6 0h0m62 0h0m-248 2h0m6 0h0m2 0h0m8 0h0m8 0h0m2 0h0m4 0h0m4 0h0m2 0h0m4 0h0m2 0h0m4 0h0m2 0h0m2 0h0m2 0h0m2 0h0m2 0h0m2 0h0m4 0h0m2 0h0m2 0h0m8 0h0m2 0h0m2 0h0m2 0h0m2 0h0m2 0h0m2 0h0m16 0h0m4 0h0m2 0h0m2 0h0m6 0h0m2 0h0m2 0h0m2 0h0m2 0h0m2 0h0m2 0h0m2 0h0m2 0h0m2 0h0m2 0h0m2 0h0m2 0h0m4 0h0m2 0h0m4 0h0m6 0h0m6 0h0m2 0h0m2 0h0m8 0h0m18 0h0m2 0h0m24 0h0m-210 2h0m6 0h0m8 0h0m6 0h0m2 0h0m2 0h0m4 0h0m2 0h0m4 0h0m2 0h0m2 0h0m2 0h0m2 0h0m2 0h0m6 0h0m2 0h0m2 0h0m6 0h0m2 0h0m4 0h0m2 0h0m2 0h0m2 0h0m2 0h0m4 0h0m4 0h0m2 0h0m2 0h0m16 0h0m2 0h0m2 0h0m2 0h0m2 0h0m2 0h0m2 0h0m2 0h0m4 0h0m4 0h0m4 0h0m2 0h0m2 0h0m2 0h0m2 0h0m2 0h0m6 0h0m2 0h0m4 0h0m2 0h0m2 0h0m2 0h0m4 0h0m2 0h0m4 0h0m2 0h0m8 0h0m12 0h0m4 0h0m6 0h0m8 0h0m-246 2h0m6 0h0m18 0h0m6 0h0m8 0h0m12 0h0m2 0h0m2 0h0m2 0h0m2 0h0m2 0h0m2 0h0m2 0h0m2 0h0m2 0h0m2 0h0m2 0h0m2 0h0m4 0h0m8 0h0m2 0h0m2 0h0m2 0h0m4 0h0m2 0h0m2 0h0m2 0h0m2 0h0m2 0h0m2 0h0m2 0h0m4 0h0m2 0h0m2 0h0m2 0h0m2 0h0m2 0h0m4 0h0m4 0h0m4 0h0m2 0h0m2 0h0m2 0h0m2 0h0m2 0h0m2 0h0m2 0h0m4 0h0m6 0h0m2 0h0m2 0h0m2 0h0m2 0h0m2 0h0m2 0h0m2 0h0m2 0h0m2 0h0m2 0h0m2 0h0m4 0h0m2 0h0m4 0h0m2 0h0m10 0h0m4 0h0m6 0h0m2 0h0m2 0h0m6 0h0m2 0h0m6 0h0m2 0h0m14 0h0m-280 2h0m30 0h0m8 0h0m2 0h0m4 0h0m2 0h0m6 0h0m4 0h0m2 0h0m2 0h0m8 0h0m2 0h0m4 0h0m2 0h0m4 0h0m2 0h0m2 0h0m6 0h0m2 0h0m12 0h0m2 0h0m2 0h0m2 0h0m6 0h0m2 0h0m2 0h0m2 0h0m2 0h0m2 0h0m2 0h0m4 0h0m2 0h0m2 0h0m2 0h0m2 0h0m2 0h0m2 0h0m2 0h0m2 0h0m2 0h0m2 0h0m8 0h0m2 0h0m2 0h0m4 0h0m4 0h0m2 0h0m2 0h0m2 0h0m2 0h0m2 0h0m2 0h0m2 0h0m2 0h0m2 0h0m2 0h0m4 0h0m2 0h0m2 0h0m4 0h0m4 0h0m4 0h0m2 0h0m2 0h0m6 0h0m4 0h0m12 0h0m4 0h0m8 0h0m2 0h0m24 0h0m6 0h0m2 0h0" stroke="#1a1614" stroke-opacity="0.28" stroke-width="4" stroke-linecap="round" fill="none"/>
<path d="M1859 717h0m-2 18h0m-88 36h0m-8 8h0m0 8h0m-16 18h0m128 2h0m-122 2h0m100 2h0m26 0h0m-28 2h0m-86 4h0m104 2h0m-92 2h0m102 8h0m-6 4h0m0 2h0m-120 2h0m14 0h0m120 0h0m6 2h0m-122 2h0m124 0h0m-118 2h0m-26 2h0m14 2h0m100 0h0m-120 2h0m110 0h0m4 0h0m-116 2h0m14 0h0m126 0h0m2 0h0m-132 2h0m98 0h0m16 0h0m-2 2h0m-116 2h0m14 0h0m8 2h0m-12 2h0m16 0h0m90 2h0m4 0h0m-114 4h0m6 0h0m4 0h0m10 0h0m88 0h0m20 0h0m-118 2h0m96 0h0m18 0h0m-128 2h0m14 0h0m20 0h0m6 0h0m80 0h0m6 0h0m-124 2h0m10 0h0m18 0h0m84 0h0m2 0h0m4 0h0m6 0h0m22 0h0m-116 2h0m78 0h0m26 0h0m-28 2h0m14 0h0m4 0h0m-126 2h0m2 0h0m28 0h0m70 0h0m8 0h0m22 0h0m16 0h0m-154 2h0m2 0h0m8 0h0m6 0h0m2 0h0m6 0h0m2 0h0m18 0h0m60 0h0m56 0h0m-152 2h0m32 0h0m6 0h0m80 0h0m12 0h0m2 0h0m18 0h0m-162 2h0m2 0h0m12 0h0m16 0h0m2 0h0m14 0h0m54 0h0m10 0h0m16 0h0m4 0h0m16 0h0m14 0h0m-138 2h0m12 0h0m72 0h0m10 0h0m4 0h0m2 0h0m2 0h0m2 0h0m2 0h0m12 0h0m4 0h0m4 0h0m2 0h0m-130 2h0m18 0h0m14 0h0m50 0h0m10 0h0m2 0h0m2 0h0m24 0h0m22 0h0m-156 2h0m12 0h0m10 0h0m2 0h0m14 0h0m44 0h0m12 0h0m28 0h0m6 0h0m-126 2h0m18 0h0m6 0h0m72 0h0m6 0h0m14 0h0m16 0h0m6 0h0m20 0h0m-158 2h0m14 0h0m4 0h0m4 0h0m100 0h0m22 0h0m-160 2h0m22 0h0m8 0h0m12 0h0m10 0h0m14 0h0m48 0h0m2 0h0m4 0h0m2 0h0m2 0h0m2 0h0m8 0h0m12 0h0m6 0h0m16 0h0m-166 2h0m26 0h0m2 0h0m2 0h0m4 0h0m12 0h0m62 0h0m8 0h0m28 0h0m8 0h0m-136 2h0m4 0h0m6 0h0m4 0h0m10 0h0m4 0h0m2 0h0m4 0h0m52 0h0m2 0h0m6 0h0m10 0h0m6 0h0m4 0h0m12 0h0m6 0h0m6 0h0m-146 2h0m4 0h0m8 0h0m2 0h0m2 0h0m2 0h0m6 0h0m4 0h0m6 0h0m6 0h0m72 0h0m6 0h0m2 0h0m16 0h0m10 0h0m-146 2h0m10 0h0m4 0h0m8 0h0m6 0h0m2 0h0m4 0h0m8 0h0m4 0h0m46 0h0m14 0h0m10 0h0m2 0h0m14 0h0m2 0h0m8 0h0m6 0h0m4 0h0m-148 2h0m18 0h0m8 0h0m20 0h0m52 0h0m8 0h0m4 0h0m12 0h0m12 0h0m8 0h0m4 0h0m-150 2h0m8 0h0m4 0h0m2 0h0m8 0h0m4 0h0m14 0h0m4 0h0m2 0h0m2 0h0m48 0h0m8 0h0m10 0h0m2 0h0m2 0h0m8 0h0m6 0h0m2 0h0m-162 2h0m44 0h0m2 0h0m4 0h0m8 0h0m70 0h0m2 0h0m4 0h0m2 0h0m2 0h0m10 0h0m2 0h0m8 0h0m2 0h0m14 0h0m12 0h0m8 0h0m-192 2h0m40 0h0m2 0h0m6 0h0m6 0h0m2 0h0m8 0h0m2 0h0m8 0h0m2 0h0m12 0h0m34 0h0m6 0h0m20 0h0m2 0h0m4 0h0m2 0h0m8 0h0m10 0h0m32 0h0m-192 2h0m4 0h0m8 0h0m4 0h0m8 0h0m16 0h0m4 0h0m2 0h0m6 0h0m4 0h0m4 0h0m10 0h0m2 0h0m44 0h0m2 0h0m6 0h0m4 0h0m2 0h0m2 0h0m12 0h0m6 0h0m6 0h0m16 0h0m-164 2h0m2 0h0m2 0h0m2 0h0m10 0h0m4 0h0m8 0h0m6 0h0m6 0h0m2 0h0m6 0h0m8 0h0m58 0h0m10 0h0m2 0h0m2 0h0m8 0h0m2 0h0m2 0h0m2 0h0m2 0h0m4 0h0m16 0h0m-178 2h0m16 0h0m8 0h0m10 0h0m2 0h0m2 0h0m2 0h0m2 0h0m2 0h0m2 0h0m2 0h0m2 0h0m4 0h0m10 0h0m2 0h0m2 0h0m2 0h0m2 0h0m40 0h0m4 0h0m4 0h0m10 0h0m2 0h0m4 0h0m4 0h0m10 0h0m2 0h0m2 0h0m4 0h0m4 0h0m6 0h0m6 0h0m16 0h0m-176 2h0m4 0h0m8 0h0m6 0h0m6 0h0m2 0h0m2 0h0m2 0h0m4 0h0m4 0h0m2 0h0m4 0h0m10 0h0m24 0h0m26 0h0m2 0h0m2 0h0m4 0h0m4 0h0m4 0h0m2 0h0m4 0h0m4 0h0m8 0h0m2 0h0m8 0h0m6 0h0m12 0h0m-178 2h0m6 0h0m8 0h0m2 0h0m14 0h0m2 0h0m4 0h0m4 0h0m4 0h0m8 0h0m2 0h0m4 0h0m2 0h0m2 0h0m50 0h0m2 0h0m4 0h0m2 0h0m4 0h0m2 0h0m6 0h0m6 0h0m2 0h0m8 0h0m2 0h0m2 0h0m2 0h0m2 0h0m2 0h0m12 0h0m-162 2h0m6 0h0m20 0h0m4 0h0m2 0h0m2 0h0m2 0h0m2 0h0m2 0h0m2 0h0m2 0h0m2 0h0m4 0h0m2 0h0m2 0h0m2 0h0m2 0h0m12 0h0m20 0h0m10 0h0m2 0h0m4 0h0m2 0h0m4 0h0m2 0h0m8 0h0m2 0h0m2 0h0m2 0h0m2 0h0m2 0h0m2 0h0m2 0h0m14 0h0m12 0h0m2 0h0m22 0h0m-208 2h0m14 0h0m16 0h0m2 0h0m2 0h0m4 0h0m4 0h0m4 0h0m2 0h0m2 0h0m2 0h0m4 0h0m2 0h0m4 0h0m2 0h0m4 0h0m2 0h0m2 0h0m2 0h0m4 0h0m6 0h0m14 0h0m28 0h0m2 0h0m4 0h0m4 0h0m4 0h0m2 0h0m2 0h0m2 0h0m2 0h0m2 0h0m2 0h0m2 0h0m2 0h0m4 0h0m18 0h0m6 0h0m14 0h0m-184 2h0m20 0h0m10 0h0m2 0h0m4 0h0m2 0h0m4 0h0m2 0h0m2 0h0m2 0h0m2 0h0m2 0h0m2 0h0m2 0h0m2 0h0m2 0h0m4 0h0m2 0h0m4 0h0m2 0h0m4 0h0m6 0h0m2 0h0m22 0h0m4 0h0m2 0h0m2 0h0m2 0h0m4 0h0m6 0h0m2 0h0m2 0h0m2 0h0m6 0h0m2 0h0m4 0h0m4 0h0m2 0h0m2 0h0m14 0h0m4 0h0m2 0h0m2 0h0m6 0h0m4 0h0m4 0h0m6 0h0m-198 2h0m4 0h0m2 0h0m6 0h0m6 0h0m4 0h0m8 0h0m6 0h0m4 0h0m4 0h0m2 0h0m2 0h0m2 0h0m2 0h0m2 0h0m6 0h0m2 0h0m2 0h0m2 0h0m2 0h0m2 0h0m2 0h0m4 0h0m8 0h0m2 0h0m4 0h0m12 0h0m14 0h0m2 0h0m2 0h0m2 0h0m2 0h0m4 0h0m2 0h0m2 0h0m2 0h0m2 0h0m2 0h0m2 0h0m2 0h0m2 0h0m2 0h0m2 0h0m2 0h0m4 0h0m4 0h0m2 0h0m6 0h0m2 0h0m2 0h0m2 0h0m4 0h0m2 0h0m4 0h0m18 0h0m2 0h0m-204 2h0m10 0h0m2 0h0m4 0h0m12 0h0m2 0h0m8 0h0m2 0h0m2 0h0m8 0h0m2 0h0m2 0h0m2 0h0m2 0h0m8 0h0m2 0h0m2 0h0m2 0h0m2 0h0m2 0h0m4 0h0m2 0h0m2 0h0m6 0h0m2 0h0m28 0h0m2 0h0m4 0h0m2 0h0m2 0h0m2 0h0m2 0h0m2 0h0m2 0h0m2 0h0m2 0h0m4 0h0m2 0h0m2 0h0m2 0h0m6 0h0m4 0h0m4 0h0m2 0h0m2 0h0m4 0h0m6 0h0m2 0h0m10 0h0m8 0h0m-214 2h0m26 0h0m8 0h0m4 0h0m6 0h0m4 0h0m2 0h0m2 0h0m2 0h0m2 0h0m2 0h0m4 0h0m2 0h0m6 0h0m2 0h0m2 0h0m2 0h0m2 0h0m2 0h0m4 0h0m2 0h0m2 0h0m6 0h0m2 0h0m4 0h0m2 0h0m2 0h0m2 0h0m14 0h0m8 0h0m6 0h0m4 0h0m2 0h0m6 0h0m4 0h0m2 0h0m2 0h0m2 0h0m12 0h0m4 0h0m4 0h0m2 0h0m10 0h0m20 0h0m4 0h0m16 0h0m-204 2h0m4 0h0m16 0h0m8 0h0m2 0h0m2 0h0m6 0h0m2 0h0m2 0h0m2 0h0m2 0h0m2 0h0m2 0h0m2 0h0m2 0h0m4 0h0m2 0h0m6 0h0m2 0h0m2 0h0m2 0h0m4 0h0m4 0h0m4 0h0m2 0h0m2 0h0m4 0h0m4 0h0m2 0h0m2 0h0m4 0h0m2 0h0m2 0h0m2 0h0m2 0h0m6 0h0m2 0h0m2 0h0m2 0h0m2 0h0m2 0h0m2 0h0m2 0h0m2 0h0m2 0h0m6 0h0m2 0h0m4 0h0m2 0h0m2 0h0m2 0h0m2 0h0m2 0h0m2 0h0m2 0h0m2 0h0m8 0h0m8 0h0m12 0h0m10 0h0m6 0h0m-276 2h0m4 0h0m26 0h0m26 0h0m2 0h0m14 0h0m10 0h0m2 0h0m4 0h0m2 0h0m2 0h0m2 0h0m2 0h0m2 0h0m4 0h0m2 0h0m4 0h0m4 0h0m2 0h0m2 0h0m2 0h0m2 0h0m2 0h0m2 0h0m2 0h0m4 0h0m2 0h0m2 0h0m4 0h0m2 0h0m4 0h0m2 0h0m2 0h0m4 0h0m2 0h0m2 0h0m4 0h0m6 0h0m6 0h0m4 0h0m2 0h0m2 0h0m6 0h0m2 0h0m2 0h0m4 0h0m2 0h0m2 0h0m2 0h0m2 0h0m4 0h0m2 0h0m2 0h0m2 0h0m4 0h0m2 0h0m4 0h0m2 0h0m2 0h0m2 0h0m2 0h0m2 0h0m2 0h0m2 0h0m2 0h0m2 0h0m6 0h0m6 0h0m10 0h0m6 0h0m-246 2h0m24 0h0m10 0h0m2 0h0m2 0h0m4 0h0m6 0h0m8 0h0m8 0h0m4 0h0m2 0h0m2 0h0m2 0h0m4 0h0m2 0h0m2 0h0m2 0h0m2 0h0m2 0h0m2 0h0m2 0h0m2 0h0m4 0h0m4 0h0m2 0h0m2 0h0m2 0h0m2 0h0m2 0h0m4 0h0m4 0h0m2 0h0m4 0h0m6 0h0m4 0h0m4 0h0m2 0h0m2 0h0m2 0h0m4 0h0m4 0h0m2 0h0m2 0h0m2 0h0m2 0h0m4 0h0m2 0h0m2 0h0m2 0h0m4 0h0m2 0h0m4 0h0m4 0h0m2 0h0m2 0h0m2 0h0m2 0h0m4 0h0m2 0h0m6 0h0m6 0h0m4 0h0m8 0h0m4 0h0m8 0h0m8 0h0m16 0h0m4 0h0m-260 2h0m16 0h0m4 0h0m4 0h0m12 0h0m4 0h0m2 0h0m4 0h0m2 0h0m8 0h0m6 0h0m2 0h0m6 0h0m2 0h0m2 0h0m2 0h0m2 0h0m2 0h0m2 0h0m2 0h0m4 0h0m2 0h0m2 0h0m2 0h0m2 0h0m2 0h0m2 0h0m2 0h0m2 0h0m2 0h0m2 0h0m4 0h0m2 0h0m2 0h0m2 0h0m2 0h0m2 0h0m2 0h0m4 0h0m2 0h0m4 0h0m2 0h0m2 0h0m2 0h0m4 0h0m2 0h0m2 0h0m2 0h0m2 0h0m4 0h0m2 0h0m2 0h0m2 0h0m2 0h0m2 0h0m2 0h0m2 0h0m2 0h0m4 0h0m2 0h0m2 0h0m2 0h0m2 0h0m4 0h0m2 0h0m2 0h0m2 0h0m4 0h0m2 0h0m2 0h0m14 0h0m6 0h0m6 0h0m2 0h0m2 0h0m26 0h0" stroke="#1a1614" stroke-opacity="0.28" stroke-width="4" stroke-linecap="round" fill="none"/>
<path d="M1753 713h0m114 18h0m-2 14h0m-116 8h0m-2 22h0m136 14h0m-20 10h0m-110 8h0m126 0h0m-112 6h0m6 6h0m-22 4h0m10 0h0m6 0h0m4 4h0m84 0h0m12 2h0m-8 4h0m8 0h0m-2 4h0m-2 2h0m-112 4h0m120 0h0m-126 2h0m10 2h0m6 0h0m108 2h0m2 0h0m4 2h0m-8 2h0m-126 2h0m14 0h0m102 0h0m2 0h0m-114 2h0m32 0h0m-28 2h0m134 0h0m-120 2h0m86 0h0m30 0h0m6 0h0m-28 2h0m-86 2h0m10 0h0m94 0h0m-128 2h0m8 0h0m4 0h0m26 0h0m68 0h0m16 0h0m-98 2h0m4 0h0m10 0h0m64 0h0m22 0h0m-12 2h0m12 0h0m20 0h0m-106 2h0m62 0h0m16 0h0m24 0h0m-134 2h0m8 0h0m4 0h0m8 0h0m4 0h0m96 0h0m2 0h0m-126 2h0m6 0h0m8 0h0m100 0h0m16 0h0m14 0h0m-152 2h0m16 0h0m10 0h0m14 0h0m84 0h0m10 0h0m-124 2h0m110 0h0m14 0h0m-128 2h0m18 0h0m2 0h0m2 0h0m6 0h0m62 0h0m16 0h0m-98 2h0m2 0h0m28 0h0m56 0h0m16 0h0m4 0h0m8 0h0m2 0h0m2 0h0m8 0h0m-114 2h0m2 0h0m66 0h0m30 0h0m4 0h0m6 0h0m-124 2h0m10 0h0m10 0h0m78 0h0m2 0h0m24 0h0m-152 2h0m30 0h0m2 0h0m32 0h0m8 0h0m44 0h0m2 0h0m4 0h0m8 0h0m10 0h0m6 0h0m24 0h0m-170 2h0m10 0h0m16 0h0m18 0h0m2 0h0m14 0h0m62 0h0m2 0h0m24 0h0m-114 2h0m8 0h0m4 0h0m2 0h0m4 0h0m6 0h0m80 0h0m8 0h0m6 0h0m30 0h0m-176 2h0m18 0h0m2 0h0m2 0h0m2 0h0m14 0h0m4 0h0m2 0h0m4 0h0m10 0h0m58 0h0m8 0h0m4 0h0m10 0h0m8 0h0m-114 2h0m8 0h0m4 0h0m4 0h0m68 0h0m4 0h0m4 0h0m2 0h0m4 0h0m2 0h0m18 0h0m6 0h0m4 0h0m-134 2h0m10 0h0m2 0h0m70 0h0m2 0h0m6 0h0m2 0h0m6 0h0m4 0h0m4 0h0m2 0h0m6 0h0m-120 2h0m22 0h0m4 0h0m14 0h0m34 0h0m12 0h0m10 0h0m10 0h0m2 0h0m10 0h0m24 0h0m2 0h0m18 0h0m-160 2h0m6 0h0m6 0h0m14 0h0m74 0h0m2 0h0m2 0h0m6 0h0m6 0h0m4 0h0m2 0h0m4 0h0m6 0h0m14 0h0m-162 2h0m10 0h0m2 0h0m10 0h0m4 0h0m2 0h0m6 0h0m4 0h0m14 0h0m2 0h0m8 0h0m50 0h0m12 0h0m30 0h0m2 0h0m6 0h0m4 0h0m-164 2h0m14 0h0m2 0h0m16 0h0m8 0h0m6 0h0m18 0h0m40 0h0m8 0h0m6 0h0m2 0h0m4 0h0m2 0h0m4 0h0m2 0h0m2 0h0m28 0h0m-148 2h0m20 0h0m4 0h0m4 0h0m4 0h0m16 0h0m34 0h0m6 0h0m2 0h0m4 0h0m6 0h0m6 0h0m2 0h0m6 0h0m14 0h0m-148 2h0m18 0h0m2 0h0m4 0h0m4 0h0m2 0h0m2 0h0m6 0h0m2 0h0m2 0h0m2 0h0m2 0h0m6 0h0m4 0h0m2 0h0m4 0h0m56 0h0m4 0h0m2 0h0m10 0h0m2 0h0m2 0h0m2 0h0m2 0h0m10 0h0m10 0h0m14 0h0m-162 2h0m16 0h0m2 0h0m2 0h0m4 0h0m6 0h0m2 0h0m2 0h0m4 0h0m2 0h0m56 0h0m6 0h0m4 0h0m4 0h0m8 0h0m10 0h0m2 0h0m6 0h0m2 0h0m4 0h0m4 0h0m10 0h0m2 0h0m2 0h0m4 0h0m-204 2h0m20 0h0m6 0h0m6 0h0m8 0h0m6 0h0m2 0h0m2 0h0m2 0h0m2 0h0m2 0h0m6 0h0m4 0h0m8 0h0m2 0h0m2 0h0m4 0h0m8 0h0m38 0h0m8 0h0m16 0h0m2 0h0m4 0h0m2 0h0m4 0h0m2 0h0m6 0h0m2 0h0m4 0h0m8 0h0m-152 2h0m4 0h0m4 0h0m8 0h0m2 0h0m6 0h0m2 0h0m4 0h0m2 0h0m2 0h0m2 0h0m4 0h0m4 0h0m4 0h0m2 0h0m2 0h0m6 0h0m2 0h0m38 0h0m2 0h0m6 0h0m6 0h0m4 0h0m14 0h0m2 0h0m4 0h0m2 0h0m4 0h0m10 0h0m6 0h0m10 0h0m-194 2h0m10 0h0m28 0h0m4 0h0m4 0h0m2 0h0m2 0h0m4 0h0m2 0h0m2 0h0m4 0h0m6 0h0m2 0h0m48 0h0m12 0h0m4 0h0m2 0h0m2 0h0m6 0h0m2 0h0m2 0h0m2 0h0m4 0h0m6 0h0m6 0h0m8 0h0m2 0h0m6 0h0m-182 2h0m28 0h0m24 0h0m2 0h0m2 0h0m2 0h0m4 0h0m4 0h0m2 0h0m2 0h0m2 0h0m2 0h0m2 0h0m2 0h0m10 0h0m2 0h0m32 0h0m2 0h0m8 0h0m4 0h0m2 0h0m2 0h0m2 0h0m2 0h0m2 0h0m6 0h0m2 0h0m2 0h0m4 0h0m10 0h0m4 0h0m4 0h0m16 0h0m2 0h0m4 0h0m-184 2h0m10 0h0m2 0h0m10 0h0m4 0h0m2 0h0m6 0h0m2 0h0m4 0h0m4 0h0m4 0h0m4 0h0m2 0h0m4 0h0m6 0h0m2 0h0m6 0h0m36 0h0m10 0h0m4 0h0m2 0h0m2 0h0m2 0h0m2 0h0m2 0h0m2 0h0m4 0h0m2 0h0m2 0h0m2 0h0m6 0h0m4 0h0m2 0h0m6 0h0m-164 2h0m6 0h0m2 0h0m12 0h0m2 0h0m2 0h0m2 0h0m6 0h0m2 0h0m2 0h0m2 0h0m2 0h0m2 0h0m2 0h0m2 0h0m8 0h0m8 0h0m2 0h0m12 0h0m2 0h0m20 0h0m4 0h0m4 0h0m2 0h0m2 0h0m4 0h0m2 0h0m2 0h0m2 0h0m2 0h0m2 0h0m4 0h0m4 0h0m2 0h0m2 0h0m2 0h0m2 0h0m10 0h0m2 0h0m2 0h0m4 0h0m2 0h0m8 0h0m4 0h0m-158 2h0m4 0h0m2 0h0m2 0h0m2 0h0m8 0h0m2 0h0m2 0h0m4 0h0m2 0h0m2 0h0m6 0h0m4 0h0m2 0h0m4 0h0m2 0h0m4 0h0m30 0h0m10 0h0m8 0h0m4 0h0m4 0h0m2 0h0m4 0h0m2 0h0m2 0h0m2 0h0m2 0h0m2 0h0m6 0h0m2 0h0m2 0h0m8 0h0m4 0h0m18 0h0m18 0h0m-202 2h0m2 0h0m6 0h0m2 0h0m4 0h0m2 0h0m20 0h0m2 0h0m2 0h0m4 0h0m2 0h0m4 0h0m2 0h0m4 0h0m2 0h0m4 0h0m4 0h0m8 0h0m2 0h0m2 0h0m2 0h0m2 0h0m6 0h0m16 0h0m2 0h0m2 0h0m2 0h0m6 0h0m6 0h0m4 0h0m2 0h0m2 0h0m2 0h0m2 0h0m6 0h0m4 0h0m2 0h0m2 0h0m2 0h0m4 0h0m2 0h0m6 0h0m8 0h0m4 0h0m4 0h0m6 0h0m2 0h0m-178 2h0m8 0h0m2 0h0m2 0h0m4 0h0m4 0h0m6 0h0m4 0h0m2 0h0m2 0h0m2 0h0m2 0h0m4 0h0m4 0h0m2 0h0m4 0h0m2 0h0m2 0h0m2 0h0m2 0h0m2 0h0m2 0h0m2 0h0m2 0h0m6 0h0m2 0h0m4 0h0m12 0h0m6 0h0m2 0h0m4 0h0m2 0h0m2 0h0m2 0h0m6 0h0m2 0h0m2 0h0m2 0h0m4 0h0m2 0h0m6 0h0m2 0h0m2 0h0m6 0h0m2 0h0m6 0h0m4 0h0m2 0h0m2 0h0m2 0h0m2 0h0m26 0h0m-206 2h0m8 0h0m2 0h0m8 0h0m2 0h0m2 0h0m6 0h0m2 0h0m2 0h0m6 0h0m8 0h0m4 0h0m2 0h0m6 0h0m2 0h0m2 0h0m2 0h0m2 0h0m2 0h0m2 0h0m2 0h0m2 0h0m6 0h0m2 0h0m2 0h0m2 0h0m2 0h0m4 0h0m2 0h0m2 0h0m16 0h0m10 0h0m4 0h0m4 0h0m4 0h0m2 0h0m6 0h0m2 0h0m2 0h0m2 0h0m2 0h0m2 0h0m2 0h0m4 0h0m2 0h0m2 0h0m4 0h0m8 0h0m8 0h0m20 0h0m28 0h0m-238 2h0m6 0h0m4 0h0m12 0h0m10 0h0m2 0h0m10 0h0m2 0h0m4 0h0m4 0h0m2 0h0m2 0h0m2 0h0m2 0h0m2 0h0m2 0h0m2 0h0m2 0h0m4 0h0m2 0h0m4 0h0m2 0h0m2 0h0m2 0h0m2 0h0m2 0h0m2 0h0m6 0h0m6 0h0m4 0h0m2 0h0m12 0h0m8 0h0m2 0h0m2 0h0m2 0h0m2 0h0m6 0h0m2 0h0m2 0h0m4 0h0m6 0h0m2 0h0m4 0h0m6 0h0m6 0h0m10 0h0m8 0h0m6 0h0m6 0h0m-234 2h0m18 0h0m14 0h0m4 0h0m2 0h0m4 0h0m2 0h0m8 0h0m2 0h0m4 0h0m4 0h0m4 0h0m14 0h0m2 0h0m2 0h0m2 0h0m2 0h0m2 0h0m2 0h0m2 0h0m2 0h0m2 0h0m2 0h0m2 0h0m2 0h0m2 0h0m2 0h0m4 0h0m2 0h0m2 0h0m2 0h0m2 0h0m2 0h0m4 0h0m2 0h0m4 0h0m2 0h0m2 0h0m2 0h0m6 0h0m2 0h0m2 0h0m4 0h0m2 0h0m4 0h0m2 0h0m2 0h0m4 0h0m2 0h0m4 0h0m2 0h0m4 0h0m2 0h0m6 0h0m2 0h0m2 0h0m2 0h0m2 0h0m2 0h0m2 0h0m2 0h0m2 0h0m2 0h0m4 0h0m2 0h0m2 0h0m2 0h0m2 0h0m4 0h0m2 0h0m16 0h0m14 0h0m2 0h0m4 0h0m20 0h0m-290 2h0m26 0h0m8 0h0m6 0h0m2 0h0m6 0h0m4 0h0m8 0h0m4 0h0m2 0h0m8 0h0m4 0h0m2 0h0m2 0h0m2 0h0m2 0h0m2 0h0m2 0h0m2 0h0m2 0h0m2 0h0m2 0h0m2 0h0m2 0h0m2 0h0m2 0h0m2 0h0m2 0h0m2 0h0m2 0h0m4 0h0m2 0h0m2 0h0m2 0h0m2 0h0m2 0h0m2 0h0m2 0h0m2 0h0m2 0h0m2 0h0m2 0h0m2 0h0m8 0h0m2 0h0m2 0h0m8 0h0m2 0h0m2 0h0m2 0h0m2 0h0m2 0h0m2 0h0m2 0h0m2 0h0m2 0h0m2 0h0m2 0h0m2 0h0m2 0h0m8 0h0m2 0h0m2 0h0m4 0h0m4 0h0m2 0h0m2 0h0m2 0h0m2 0h0m2 0h0m2 0h0m2 0h0m4 0h0m2 0h0m4 0h0m2 0h0m2 0h0m2 0h0m8 0h0m2 0h0m2 0h0m2 0h0m4 0h0m4 0h0m22 0h0m-258 2h0m16 0h0m24 0h0m2 0h0m2 0h0m2 0h0m2 0h0m6 0h0m2 0h0m2 0h0m2 0h0m2 0h0m4 0h0m2 0h0m2 0h0m4 0h0m2 0h0m2 0h0m2 0h0m2 0h0m2 0h0m2 0h0m2 0h0m2 0h0m2 0h0m2 0h0m2 0h0m2 0h0m2 0h0m4 0h0m2 0h0m2 0h0m2 0h0m2 0h0m2 0h0m2 0h0m2 0h0m4 0h0m2 0h0m2 0h0m2 0h0m2 0h0m2 0h0m2 0h0m2 0h0m2 0h0m2 0h0m2 0h0m2 0h0m2 0h0m2 0h0m2 0h0m2 0h0m2 0h0m2 0h0m4 0h0m2 0h0m2 0h0m2 0h0m2 0h0m2 0h0m2 0h0m4 0h0m2 0h0m2 0h0m2 0h0m2 0h0m4 0h0m2 0h0m4 0h0m2 0h0m2 0h0m8 0h0m2 0h0m2 0h0m2 0h0m6 0h0m2 0h0m4 0h0m8 0h0m8 0h0m2 0h0m6 0h0m2 0h0m10 0h0" stroke="#1a1614" stroke-opacity="0.28" stroke-width="4" stroke-linecap="round" fill="none"/>
<path d="M1763 713h0m0 2h0m-2 38h0m108 18h0m-108 6h0m128 2h0m-14 2h0m6 0h0m-6 14h0m-12 2h0m6 8h0m-114 6h0m8 0h0m106 4h0m-90 2h0m-28 2h0m118 0h0m2 0h0m2 0h0m-160 2h0m144 6h0m-12 4h0m48 0h0m-144 2h0m108 0h0m12 0h0m14 0h0m-138 2h0m30 0h0m108 2h0m-28 2h0m4 0h0m4 0h0m-104 2h0m-2 2h0m4 0h0m100 0h0m-92 2h0m102 2h0m14 0h0m18 0h0m-144 2h0m82 0h0m-80 2h0m82 0h0m50 0h0m-152 2h0m22 0h0m90 0h0m-106 2h0m16 0h0m-8 2h0m98 0h0m12 0h0m2 0h0m-118 2h0m108 0h0m10 0h0m-106 2h0m10 0h0m4 0h0m100 0h0m-128 2h0m22 0h0m8 0h0m2 0h0m108 0h0m-32 2h0m-104 2h0m16 0h0m12 0h0m4 0h0m64 0h0m-90 2h0m28 0h0m78 0h0m12 0h0m8 0h0m-146 2h0m16 0h0m28 0h0m76 0h0m20 0h0m-124 2h0m100 0h0m18 0h0m-134 2h0m4 0h0m14 0h0m2 0h0m18 0h0m92 0h0m10 0h0m-122 2h0m4 0h0m10 0h0m80 0h0m18 0h0m8 0h0m-114 2h0m16 0h0m84 0h0m18 0h0m-140 2h0m116 0h0m4 0h0m4 0h0m-104 2h0m6 0h0m14 0h0m2 0h0m4 0h0m50 0h0m32 0h0m8 0h0m-138 2h0m20 0h0m36 0h0m70 0h0m14 0h0m6 0h0m18 0h0m-16 2h0m2 0h0m-128 2h0m18 0h0m6 0h0m6 0h0m48 0h0m38 0h0m-138 2h0m4 0h0m16 0h0m20 0h0m2 0h0m94 0h0m10 0h0m8 0h0m-158 2h0m4 0h0m2 0h0m8 0h0m2 0h0m8 0h0m8 0h0m2 0h0m12 0h0m8 0h0m56 0h0m6 0h0m14 0h0m2 0h0m4 0h0m6 0h0m22 0h0m2 0h0m-150 2h0m6 0h0m84 0h0m22 0h0m26 0h0m-138 2h0m14 0h0m2 0h0m2 0h0m12 0h0m8 0h0m72 0h0m4 0h0m2 0h0m2 0h0m12 0h0m6 0h0m14 0h0m-166 2h0m10 0h0m50 0h0m48 0h0m4 0h0m10 0h0m2 0h0m24 0h0m8 0h0m6 0h0m-170 2h0m16 0h0m16 0h0m4 0h0m6 0h0m2 0h0m4 0h0m10 0h0m2 0h0m12 0h0m6 0h0m44 0h0m4 0h0m28 0h0m4 0h0m-152 2h0m8 0h0m34 0h0m2 0h0m4 0h0m2 0h0m82 0h0m2 0h0m40 0h0m-164 2h0m2 0h0m16 0h0m10 0h0m2 0h0m2 0h0m2 0h0m4 0h0m8 0h0m2 0h0m8 0h0m34 0h0m14 0h0m10 0h0m2 0h0m8 0h0m4 0h0m2 0h0m2 0h0m2 0h0m-126 2h0m8 0h0m2 0h0m2 0h0m2 0h0m4 0h0m4 0h0m2 0h0m2 0h0m56 0h0m12 0h0m6 0h0m8 0h0m4 0h0m4 0h0m2 0h0m12 0h0m14 0h0m10 0h0m-172 2h0m16 0h0m2 0h0m6 0h0m4 0h0m8 0h0m2 0h0m10 0h0m6 0h0m6 0h0m48 0h0m6 0h0m2 0h0m2 0h0m2 0h0m2 0h0m4 0h0m6 0h0m8 0h0m6 0h0m10 0h0m-152 2h0m2 0h0m4 0h0m8 0h0m10 0h0m2 0h0m10 0h0m8 0h0m6 0h0m2 0h0m48 0h0m2 0h0m10 0h0m6 0h0m4 0h0m10 0h0m2 0h0m14 0h0m8 0h0m16 0h0m-164 2h0m8 0h0m14 0h0m10 0h0m2 0h0m2 0h0m10 0h0m6 0h0m4 0h0m50 0h0m12 0h0m2 0h0m2 0h0m2 0h0m4 0h0m8 0h0m8 0h0m6 0h0m-164 2h0m16 0h0m12 0h0m2 0h0m8 0h0m2 0h0m2 0h0m6 0h0m6 0h0m2 0h0m2 0h0m16 0h0m30 0h0m2 0h0m12 0h0m4 0h0m2 0h0m4 0h0m4 0h0m6 0h0m2 0h0m8 0h0m14 0h0m2 0h0m4 0h0m-158 2h0m4 0h0m6 0h0m2 0h0m6 0h0m2 0h0m10 0h0m6 0h0m2 0h0m10 0h0m2 0h0m6 0h0m10 0h0m34 0h0m6 0h0m2 0h0m4 0h0m2 0h0m22 0h0m2 0h0m2 0h0m2 0h0m8 0h0m-168 2h0m26 0h0m8 0h0m6 0h0m2 0h0m2 0h0m2 0h0m6 0h0m4 0h0m2 0h0m2 0h0m10 0h0m4 0h0m8 0h0m18 0h0m20 0h0m8 0h0m10 0h0m6 0h0m2 0h0m8 0h0m6 0h0m-150 2h0m2 0h0m20 0h0m2 0h0m2 0h0m2 0h0m2 0h0m2 0h0m2 0h0m14 0h0m6 0h0m4 0h0m2 0h0m2 0h0m2 0h0m46 0h0m4 0h0m2 0h0m2 0h0m4 0h0m6 0h0m4 0h0m6 0h0m16 0h0m8 0h0m4 0h0m4 0h0m4 0h0m6 0h0m-186 2h0m4 0h0m16 0h0m2 0h0m4 0h0m4 0h0m2 0h0m2 0h0m2 0h0m2 0h0m4 0h0m2 0h0m8 0h0m4 0h0m6 0h0m4 0h0m6 0h0m4 0h0m24 0h0m10 0h0m6 0h0m6 0h0m2 0h0m2 0h0m2 0h0m2 0h0m8 0h0m4 0h0m4 0h0m2 0h0m20 0h0m6 0h0m-166 2h0m4 0h0m18 0h0m4 0h0m2 0h0m4 0h0m4 0h0m2 0h0m4 0h0m2 0h0m2 0h0m4 0h0m2 0h0m2 0h0m8 0h0m2 0h0m32 0h0m8 0h0m2 0h0m2 0h0m4 0h0m6 0h0m2 0h0m6 0h0m14 0h0m4 0h0m2 0h0m6 0h0m14 0h0m-190 2h0m14 0h0m16 0h0m2 0h0m2 0h0m4 0h0m2 0h0m2 0h0m4 0h0m2 0h0m4 0h0m2 0h0m2 0h0m2 0h0m4 0h0m2 0h0m4 0h0m2 0h0m2 0h0m4 0h0m2 0h0m8 0h0m4 0h0m16 0h0m10 0h0m2 0h0m6 0h0m4 0h0m2 0h0m6 0h0m2 0h0m2 0h0m2 0h0m2 0h0m2 0h0m2 0h0m4 0h0m10 0h0m2 0h0m4 0h0m6 0h0m6 0h0m6 0h0m2 0h0m-180 2h0m18 0h0m4 0h0m4 0h0m2 0h0m8 0h0m2 0h0m4 0h0m2 0h0m4 0h0m2 0h0m2 0h0m4 0h0m4 0h0m2 0h0m2 0h0m2 0h0m6 0h0m4 0h0m4 0h0m10 0h0m14 0h0m2 0h0m12 0h0m4 0h0m2 0h0m2 0h0m4 0h0m2 0h0m6 0h0m4 0h0m2 0h0m2 0h0m4 0h0m2 0h0m2 0h0m6 0h0m4 0h0m14 0h0m22 0h0m-180 2h0m2 0h0m16 0h0m4 0h0m2 0h0m4 0h0m4 0h0m2 0h0m2 0h0m2 0h0m2 0h0m4 0h0m2 0h0m2 0h0m2 0h0m2 0h0m2 0h0m4 0h0m2 0h0m2 0h0m8 0h0m14 0h0m12 0h0m6 0h0m4 0h0m2 0h0m8 0h0m8 0h0m4 0h0m6 0h0m2 0h0m4 0h0m2 0h0m14 0h0m8 0h0m2 0h0m-192 2h0m6 0h0m14 0h0m8 0h0m4 0h0m2 0h0m12 0h0m2 0h0m2 0h0m6 0h0m2 0h0m2 0h0m2 0h0m2 0h0m2 0h0m2 0h0m4 0h0m4 0h0m2 0h0m2 0h0m2 0h0m2 0h0m2 0h0m10 0h0m10 0h0m12 0h0m2 0h0m8 0h0m6 0h0m2 0h0m2 0h0m2 0h0m6 0h0m2 0h0m6 0h0m10 0h0m6 0h0m2 0h0m4 0h0m2 0h0m12 0h0m-200 2h0m2 0h0m8 0h0m4 0h0m6 0h0m4 0h0m4 0h0m2 0h0m10 0h0m2 0h0m2 0h0m2 0h0m2 0h0m8 0h0m8 0h0m2 0h0m2 0h0m2 0h0m2 0h0m2 0h0m2 0h0m6 0h0m2 0h0m2 0h0m2 0h0m2 0h0m2 0h0m4 0h0m2 0h0m2 0h0m6 0h0m6 0h0m2 0h0m2 0h0m14 0h0m4 0h0m2 0h0m2 0h0m4 0h0m6 0h0m2 0h0m2 0h0m2 0h0m4 0h0m2 0h0m6 0h0m2 0h0m2 0h0m4 0h0m6 0h0m2 0h0m2 0h0m2 0h0m4 0h0m4 0h0m4 0h0m14 0h0m-232 2h0m34 0h0m10 0h0m6 0h0m2 0h0m6 0h0m4 0h0m2 0h0m8 0h0m2 0h0m2 0h0m2 0h0m2 0h0m4 0h0m2 0h0m6 0h0m2 0h0m2 0h0m2 0h0m2 0h0m2 0h0m4 0h0m2 0h0m2 0h0m2 0h0m2 0h0m2 0h0m2 0h0m2 0h0m4 0h0m10 0h0m6 0h0m2 0h0m4 0h0m4 0h0m2 0h0m2 0h0m2 0h0m4 0h0m4 0h0m2 0h0m2 0h0m6 0h0m2 0h0m2 0h0m2 0h0m2 0h0m2 0h0m2 0h0m4 0h0m4 0h0m6 0h0m6 0h0m4 0h0m4 0h0m2 0h0m6 0h0m4 0h0m4 0h0m10 0h0m22 0h0m-244 2h0m28 0h0m4 0h0m6 0h0m4 0h0m2 0h0m8 0h0m2 0h0m2 0h0m2 0h0m2 0h0m2 0h0m2 0h0m2 0h0m2 0h0m2 0h0m6 0h0m2 0h0m2 0h0m2 0h0m2 0h0m2 0h0m4 0h0m2 0h0m2 0h0m2 0h0m2 0h0m2 0h0m2 0h0m2 0h0m4 0h0m6 0h0m2 0h0m2 0h0m2 0h0m2 0h0m2 0h0m2 0h0m4 0h0m2 0h0m2 0h0m2 0h0m2 0h0m4 0h0m2 0h0m2 0h0m4 0h0m2 0h0m2 0h0m4 0h0m2 0h0m6 0h0m4 0h0m2 0h0m6 0h0m2 0h0m2 0h0m4 0h0m2 0h0m8 0h0m2 0h0m12 0h0m2 0h0m4 0h0m4 0h0m-242 2h0m18 0h0m8 0h0m4 0h0m6 0h0m10 0h0m4 0h0m4 0h0m2 0h0m8 0h0m4 0h0m2 0h0m2 0h0m2 0h0m2 0h0m2 0h0m2 0h0m2 0h0m2 0h0m2 0h0m2 0h0m2 0h0m2 0h0m2 0h0m2 0h0m2 0h0m2 0h0m2 0h0m2 0h0m2 0h0m2 0h0m2 0h0m2 0h0m2 0h0m2 0h0m2 0h0m2 0h0m2 0h0m4 0h0m2 0h0m2 0h0m2 0h0m2 0h0m2 0h0m2 0h0m4 0h0m2 0h0m2 0h0m2 0h0m2 0h0m6 0h0m2 0h0m6 0h0m2 0h0m2 0h0m2 0h0m2 0h0m2 0h0m2 0h0m2 0h0m2 0h0m4 0h0m2 0h0m2 0h0m2 0h0m2 0h0m4 0h0m2 0h0m2 0h0m2 0h0m2 0h0m4 0h0m4 0h0m6 0h0m8 0h0m2 0h0m2 0h0m4 0h0m14 0h0m22 0h0m-312 2h0m56 0h0m4 0h0m8 0h0m10 0h0m2 0h0m14 0h0m6 0h0m8 0h0m6 0h0m2 0h0m2 0h0m2 0h0m2 0h0m2 0h0m4 0h0m2 0h0m2 0h0m2 0h0m2 0h0m2 0h0m2 0h0m2 0h0m2 0h0m2 0h0m2 0h0m2 0h0m2 0h0m2 0h0m2 0h0m2 0h0m2 0h0m2 0h0m2 0h0m2 0h0m2 0h0m2 0h0m2 0h0m2 0h0m2 0h0m2 0h0m2 0h0m2 0h0m2 0h0m2 0h0m2 0h0m2 0h0m2 0h0m2 0h0m2 0h0m2 0h0m2 0h0m2 0h0m2 0h0m2 0h0m2 0h0m2 0h0m2 0h0m2 0h0m2 0h0m2 0h0m2 0h0m2 0h0m4 0h0m4 0h0m2 0h0m2 0h0m2 0h0m2 0h0m2 0h0m4 0h0m2 0h0m4 0h0m4 0h0m6 0h0m2 0h0m4 0h0m4 0h0m8 0h0m6 0h0m2 0h0m6 0h0" stroke="#1a1614" stroke-opacity="0.28" stroke-width="4" stroke-linecap="round" fill="none"/>
<path d="M1853 729h0m24 10h0m-14 24h0m-2 32h0m-104 10h0m92 2h0m-78 2h0m94 2h0m8 2h0m-18 4h0m34 0h0m-120 2h0m86 0h0m-6 2h0m2 0h0m-82 2h0m6 0h0m118 0h0m-16 6h0m-116 4h0m2 0h0m-14 2h0m28 0h0m84 0h0m-98 2h0m92 0h0m4 0h0m-98 2h0m102 0h0m-94 6h0m104 0h0m4 0h0m-110 2h0m76 2h0m-110 2h0m126 0h0m-112 2h0m12 0h0m102 0h0m-72 2h0m-28 2h0m18 0h0m92 0h0m-124 2h0m22 0h0m112 0h0m-20 2h0m2 0h0m4 0h0m-122 2h0m30 0h0m100 0h0m10 0h0m-132 2h0m6 0h0m18 0h0m20 0h0m76 0h0m10 0h0m-122 2h0m0 2h0m10 0h0m120 0h0m-142 2h0m8 0h0m4 0h0m12 0h0m2 0h0m4 0h0m78 0h0m6 0h0m20 0h0m-116 2h0m12 0h0m64 0h0m22 0h0m-112 2h0m22 0h0m4 0h0m16 0h0m102 0h0m-156 2h0m4 0h0m4 0h0m12 0h0m76 0h0m2 0h0m40 0h0m-130 2h0m14 0h0m6 0h0m16 0h0m66 0h0m16 0h0m18 0h0m2 0h0m-106 2h0m50 0h0m36 0h0m22 0h0m8 0h0m-158 2h0m24 0h0m18 0h0m74 0h0m4 0h0m10 0h0m-102 2h0m2 0h0m12 0h0m68 0h0m20 0h0m-116 2h0m10 0h0m8 0h0m2 0h0m70 0h0m6 0h0m4 0h0m4 0h0m12 0h0m2 0h0m2 0h0m-110 2h0m2 0h0m20 0h0m60 0h0m46 0h0m-142 2h0m12 0h0m2 0h0m6 0h0m8 0h0m2 0h0m2 0h0m2 0h0m52 0h0m4 0h0m30 0h0m4 0h0m8 0h0m-118 2h0m4 0h0m2 0h0m10 0h0m2 0h0m8 0h0m4 0h0m58 0h0m4 0h0m12 0h0m20 0h0m12 0h0m-142 2h0m16 0h0m2 0h0m10 0h0m54 0h0m10 0h0m6 0h0m4 0h0m8 0h0m6 0h0m16 0h0m-158 2h0m12 0h0m14 0h0m2 0h0m8 0h0m8 0h0m2 0h0m4 0h0m76 0h0m2 0h0m2 0h0m6 0h0m6 0h0m2 0h0m12 0h0m2 0h0m-150 2h0m6 0h0m20 0h0m10 0h0m6 0h0m8 0h0m58 0h0m8 0h0m4 0h0m10 0h0m12 0h0m18 0h0m-150 2h0m2 0h0m2 0h0m2 0h0m8 0h0m10 0h0m8 0h0m2 0h0m6 0h0m46 0h0m20 0h0m6 0h0m16 0h0m-138 2h0m4 0h0m2 0h0m22 0h0m8 0h0m12 0h0m70 0h0m18 0h0m6 0h0m-124 2h0m6 0h0m6 0h0m68 0h0m14 0h0m8 0h0m2 0h0m2 0h0m6 0h0m18 0h0m-136 2h0m2 0h0m4 0h0m6 0h0m2 0h0m4 0h0m6 0h0m2 0h0m6 0h0m4 0h0m6 0h0m68 0h0m2 0h0m6 0h0m14 0h0m-140 2h0m6 0h0m2 0h0m2 0h0m2 0h0m2 0h0m2 0h0m4 0h0m2 0h0m6 0h0m6 0h0m2 0h0m2 0h0m10 0h0m10 0h0m42 0h0m6 0h0m2 0h0m8 0h0m4 0h0m2 0h0m20 0h0m-154 2h0m38 0h0m6 0h0m4 0h0m4 0h0m2 0h0m4 0h0m36 0h0m22 0h0m4 0h0m8 0h0m4 0h0m26 0h0m-162 2h0m4 0h0m4 0h0m8 0h0m4 0h0m6 0h0m4 0h0m4 0h0m4 0h0m6 0h0m12 0h0m6 0h0m6 0h0m48 0h0m4 0h0m4 0h0m4 0h0m6 0h0m4 0h0m6 0h0m8 0h0m2 0h0m4 0h0m8 0h0m-166 2h0m12 0h0m8 0h0m2 0h0m10 0h0m6 0h0m4 0h0m4 0h0m4 0h0m4 0h0m2 0h0m4 0h0m52 0h0m8 0h0m2 0h0m4 0h0m4 0h0m8 0h0m2 0h0m8 0h0m8 0h0m8 0h0m-152 2h0m14 0h0m6 0h0m2 0h0m2 0h0m4 0h0m4 0h0m6 0h0m2 0h0m2 0h0m6 0h0m4 0h0m4 0h0m34 0h0m2 0h0m4 0h0m2 0h0m18 0h0m4 0h0m4 0h0m4 0h0m2 0h0m2 0h0m2 0h0m32 0h0m6 0h0m-178 2h0m8 0h0m4 0h0m2 0h0m2 0h0m2 0h0m4 0h0m4 0h0m14 0h0m2 0h0m2 0h0m2 0h0m10 0h0m34 0h0m8 0h0m14 0h0m4 0h0m2 0h0m6 0h0m2 0h0m8 0h0m2 0h0m4 0h0m2 0h0m4 0h0m2 0h0m14 0h0m14 0h0m-178 2h0m10 0h0m4 0h0m6 0h0m10 0h0m2 0h0m4 0h0m2 0h0m4 0h0m2 0h0m2 0h0m4 0h0m6 0h0m2 0h0m4 0h0m2 0h0m48 0h0m2 0h0m2 0h0m12 0h0m2 0h0m2 0h0m2 0h0m2 0h0m2 0h0m2 0h0m2 0h0m-136 2h0m2 0h0m2 0h0m4 0h0m2 0h0m8 0h0m6 0h0m2 0h0m2 0h0m2 0h0m6 0h0m4 0h0m8 0h0m2 0h0m4 0h0m4 0h0m38 0h0m6 0h0m2 0h0m6 0h0m2 0h0m2 0h0m6 0h0m2 0h0m4 0h0m6 0h0m2 0h0m10 0h0m2 0h0m16 0h0m4 0h0m4 0h0m6 0h0m-170 2h0m6 0h0m4 0h0m2 0h0m6 0h0m4 0h0m2 0h0m6 0h0m4 0h0m2 0h0m4 0h0m6 0h0m2 0h0m2 0h0m10 0h0m2 0h0m24 0h0m2 0h0m4 0h0m2 0h0m2 0h0m2 0h0m6 0h0m4 0h0m4 0h0m2 0h0m2 0h0m2 0h0m2 0h0m2 0h0m2 0h0m8 0h0m12 0h0m2 0h0m2 0h0m2 0h0m4 0h0m2 0h0m-180 2h0m16 0h0m10 0h0m2 0h0m2 0h0m6 0h0m6 0h0m2 0h0m2 0h0m2 0h0m4 0h0m2 0h0m2 0h0m6 0h0m2 0h0m4 0h0m4 0h0m2 0h0m2 0h0m2 0h0m22 0h0m18 0h0m2 0h0m2 0h0m2 0h0m4 0h0m4 0h0m2 0h0m2 0h0m2 0h0m4 0h0m2 0h0m2 0h0m8 0h0m8 0h0m2 0h0m8 0h0m10 0h0m18 0h0m-196 2h0m6 0h0m2 0h0m18 0h0m2 0h0m4 0h0m2 0h0m2 0h0m6 0h0m4 0h0m6 0h0m2 0h0m2 0h0m2 0h0m2 0h0m6 0h0m8 0h0m2 0h0m8 0h0m26 0h0m4 0h0m2 0h0m2 0h0m2 0h0m2 0h0m2 0h0m6 0h0m4 0h0m2 0h0m4 0h0m2 0h0m2 0h0m6 0h0m4 0h0m10 0h0m4 0h0m4 0h0m-178 2h0m6 0h0m4 0h0m2 0h0m2 0h0m2 0h0m2 0h0m4 0h0m4 0h0m2 0h0m4 0h0m2 0h0m2 0h0m2 0h0m2 0h0m4 0h0m2 0h0m2 0h0m2 0h0m2 0h0m2 0h0m2 0h0m2 0h0m2 0h0m2 0h0m2 0h0m2 0h0m2 0h0m4 0h0m4 0h0m2 0h0m2 0h0m2 0h0m2 0h0m4 0h0m2 0h0m14 0h0m8 0h0m2 0h0m2 0h0m2 0h0m6 0h0m4 0h0m2 0h0m2 0h0m2 0h0m4 0h0m2 0h0m2 0h0m2 0h0m2 0h0m2 0h0m2 0h0m4 0h0m6 0h0m4 0h0m2 0h0m6 0h0m2 0h0m24 0h0m-192 2h0m4 0h0m2 0h0m6 0h0m2 0h0m2 0h0m6 0h0m4 0h0m2 0h0m2 0h0m2 0h0m2 0h0m4 0h0m4 0h0m2 0h0m2 0h0m2 0h0m2 0h0m2 0h0m2 0h0m2 0h0m2 0h0m2 0h0m2 0h0m2 0h0m2 0h0m6 0h0m16 0h0m12 0h0m4 0h0m2 0h0m2 0h0m6 0h0m2 0h0m4 0h0m2 0h0m2 0h0m2 0h0m2 0h0m2 0h0m2 0h0m4 0h0m4 0h0m2 0h0m2 0h0m4 0h0m2 0h0m6 0h0m4 0h0m6 0h0m6 0h0m4 0h0m-192 2h0m2 0h0m4 0h0m2 0h0m24 0h0m6 0h0m6 0h0m4 0h0m6 0h0m4 0h0m2 0h0m2 0h0m2 0h0m2 0h0m2 0h0m2 0h0m2 0h0m2 0h0m2 0h0m4 0h0m2 0h0m2 0h0m2 0h0m2 0h0m2 0h0m2 0h0m4 0h0m6 0h0m2 0h0m4 0h0m2 0h0m4 0h0m2 0h0m4 0h0m4 0h0m2 0h0m2 0h0m2 0h0m4 0h0m2 0h0m2 0h0m2 0h0m2 0h0m2 0h0m2 0h0m6 0h0m2 0h0m4 0h0m6 0h0m2 0h0m8 0h0m12 0h0m4 0h0m4 0h0m6 0h0m2 0h0m2 0h0m-194 2h0m10 0h0m6 0h0m4 0h0m8 0h0m2 0h0m6 0h0m2 0h0m6 0h0m2 0h0m4 0h0m2 0h0m2 0h0m4 0h0m2 0h0m2 0h0m2 0h0m2 0h0m4 0h0m2 0h0m2 0h0m2 0h0m4 0h0m2 0h0m2 0h0m4 0h0m6 0h0m8 0h0m4 0h0m6 0h0m2 0h0m2 0h0m4 0h0m2 0h0m2 0h0m2 0h0m2 0h0m2 0h0m2 0h0m2 0h0m4 0h0m2 0h0m2 0h0m2 0h0m2 0h0m2 0h0m2 0h0m2 0h0m2 0h0m4 0h0m2 0h0m6 0h0m2 0h0m2 0h0m2 0h0m2 0h0m4 0h0m8 0h0m6 0h0m8 0h0m-242 2h0m22 0h0m30 0h0m6 0h0m8 0h0m4 0h0m4 0h0m2 0h0m2 0h0m2 0h0m8 0h0m2 0h0m2 0h0m4 0h0m2 0h0m4 0h0m2 0h0m2 0h0m2 0h0m2 0h0m2 0h0m2 0h0m2 0h0m2 0h0m2 0h0m2 0h0m2 0h0m2 0h0m10 0h0m4 0h0m4 0h0m2 0h0m4 0h0m2 0h0m2 0h0m2 0h0m2 0h0m2 0h0m2 0h0m2 0h0m2 0h0m2 0h0m2 0h0m2 0h0m4 0h0m2 0h0m2 0h0m6 0h0m2 0h0m4 0h0m2 0h0m2 0h0m2 0h0m2 0h0m2 0h0m6 0h0m4 0h0m6 0h0m4 0h0m10 0h0m2 0h0m4 0h0m2 0h0m6 0h0m16 0h0m-252 2h0m12 0h0m2 0h0m2 0h0m4 0h0m8 0h0m10 0h0m2 0h0m2 0h0m8 0h0m2 0h0m2 0h0m4 0h0m6 0h0m2 0h0m4 0h0m2 0h0m4 0h0m2 0h0m4 0h0m2 0h0m2 0h0m2 0h0m2 0h0m2 0h0m2 0h0m4 0h0m2 0h0m2 0h0m4 0h0m2 0h0m2 0h0m2 0h0m2 0h0m2 0h0m4 0h0m2 0h0m2 0h0m2 0h0m2 0h0m6 0h0m2 0h0m2 0h0m2 0h0m2 0h0m2 0h0m2 0h0m2 0h0m2 0h0m2 0h0m4 0h0m2 0h0m2 0h0m2 0h0m2 0h0m2 0h0m2 0h0m2 0h0m2 0h0m4 0h0m2 0h0m6 0h0m2 0h0m2 0h0m2 0h0m2 0h0m6 0h0m4 0h0m2 0h0m8 0h0m2 0h0m2 0h0m2 0h0m2 0h0m2 0h0m2 0h0m4 0h0m2 0h0m2 0h0m4 0h0m2 0h0m18 0h0m-246 2h0m4 0h0m12 0h0m4 0h0m2 0h0m2 0h0m12 0h0m2 0h0m4 0h0m4 0h0m2 0h0m4 0h0m2 0h0m2 0h0m4 0h0m4 0h0m2 0h0m2 0h0m4 0h0m2 0h0m2 0h0m2 0h0m2 0h0m2 0h0m4 0h0m2 0h0m2 0h0m2 0h0m2 0h0m2 0h0m2 0h0m2 0h0m2 0h0m2 0h0m2 0h0m2 0h0m2 0h0m2 0h0m4 0h0m2 0h0m6 0h0m4 0h0m6 0h0m2 0h0m2 0h0m2 0h0m2 0h0m2 0h0m2 0h0m2 0h0m2 0h0m4 0h0m2 0h0m2 0h0m2 0h0m4 0h0m2 0h0m2 0h0m2 0h0m2 0h0m2 0h0m2 0h0m2 0h0m2 0h0m4 0h0m2 0h0m2 0h0m2 0h0m2 0h0m6 0h0m2 0h0m8 0h0m4 0h0m10 0h0m4 0h0m8 0h0m10 0h0" stroke="#1a1614" stroke-opacity="0.28" stroke-width="4" stroke-linecap="round" fill="none"/>
<line x1="1622.4" y1="679.1" x2="1622.4" y2="962.5" stroke="#8a8a8a" stroke-width="1.3"/>
<line x1="1618.4" y1="679.1" x2="1622.4" y2="679.1" stroke="#8a8a8a" stroke-width="1.3"/>
<line x1="1618.4" y1="749.8" x2="1622.4" y2="749.8" stroke="#8a8a8a" stroke-width="1.3"/>
<line x1="1618.4" y1="820.6" x2="1622.4" y2="820.6" stroke="#8a8a8a" stroke-width="1.3"/>
<line x1="1618.4" y1="891.1" x2="1622.4" y2="891.1" stroke="#8a8a8a" stroke-width="1.3"/>
<line x1="1618.4" y1="962.5" x2="1622.4" y2="962.5" stroke="#8a8a8a" stroke-width="1.3"/>
<text x="1605.3" y="679.1" font-size="17.5" text-anchor="middle" fill="#262626" stroke="#262626" transform="rotate(-90 1605.3 679.1)">40</text>
<text x="1605.3" y="749.8" font-size="17.5" text-anchor="middle" fill="#262626" stroke="#262626" transform="rotate(-90 1605.3 749.8)">30</text>
<text x="1605.3" y="820.6" font-size="17.5" text-anchor="middle" fill="#262626" stroke="#262626" transform="rotate(-90 1605.3 820.6)">20</text>
<text x="1605.3" y="891.1" font-size="17.5" text-anchor="middle" fill="#262626" stroke="#262626" transform="rotate(-90 1605.3 891.1)">10</text>
<text x="1605.3" y="962.5" font-size="17.5" text-anchor="middle" fill="#262626" stroke="#262626" transform="rotate(-90 1605.3 962.5)">0</text>
<line x1="1636.7" y1="974.6" x2="1992.1" y2="974.6" stroke="#8a8a8a" stroke-width="1.3"/>
<line x1="1636.7" y1="974.6" x2="1636.7" y2="978.6" stroke="#8a8a8a" stroke-width="1.3"/>
<line x1="1725.4" y1="974.6" x2="1725.4" y2="978.6" stroke="#8a8a8a" stroke-width="1.3"/>
<line x1="1814.4" y1="974.6" x2="1814.4" y2="978.6" stroke="#8a8a8a" stroke-width="1.3"/>
<line x1="1903.1" y1="974.6" x2="1903.1" y2="978.6" stroke="#8a8a8a" stroke-width="1.3"/>
<line x1="1992.1" y1="974.6" x2="1992.1" y2="978.6" stroke="#8a8a8a" stroke-width="1.3"/>
<text x="1632.7" y="1004" font-size="17.5" text-anchor="middle" fill="#262626" stroke="#262626">−10</text>
<text x="1721.4" y="1004" font-size="17.5" text-anchor="middle" fill="#262626" stroke="#262626">−5</text>
<text x="1814.4" y="1004" font-size="17.5" text-anchor="middle" fill="#262626" stroke="#262626">0</text>
<text x="1903.1" y="1004" font-size="17.5" text-anchor="middle" fill="#262626" stroke="#262626">5</text>
<text x="1992.1" y="1004" font-size="17.5" text-anchor="middle" fill="#262626" stroke="#262626">10</text>
<text x="1800.6" y="616.2" font-size="19" text-anchor="middle" fill="#262626" stroke="#262626" textLength="223" lengthAdjust="spacingAndGlyphs">HepG2, 14183 raQTLs</text>
<text x="1829" y="681.5" font-size="19.5" text-anchor="middle" fill="#262626" stroke="#262626" textLength="309" lengthAdjust="spacingAndGlyphs">mean absolute fold change: 7.8</text>
<text x="1574.5" y="800" font-size="21" text-anchor="middle" fill="#262626" stroke="#262626" textLength="158" lengthAdjust="spacingAndGlyphs" transform="rotate(-90 1574.5 800)">−log10(p−value)</text>
<text x="1759.7" y="1029.3" font-size="21" fill="#262626" textLength="145" lengthAdjust="spacingAndGlyphs">log<tspan font-size="14" dy="5">2</tspan><tspan dy="-5">(REF/VAR)</tspan></text>
<text transform="matrix(1.02 0 0 1 1533.98 598.5)" font-size="52" fill="#111">h</text>
<line x1="1065.7" y1="1471.8" x2="1448.4" y2="1471.8" stroke="#8a8a8a" stroke-width="1.3"/>
<rect x="1079.1" y="1166.61" width="8.91" height="305.19" fill="#c6bebb" stroke="#6a6461" stroke-width="1.2"/>
<rect x="1088.01" y="1186.38" width="8.91" height="285.42" fill="#c6bebb" stroke="#6a6461" stroke-width="1.2"/>
<rect x="1096.92" y="1212.22" width="8.91" height="259.58" fill="#c6bebb" stroke="#6a6461" stroke-width="1.2"/>
<rect x="1105.83" y="1262.92" width="8.91" height="208.88" fill="#c6bebb" stroke="#6a6461" stroke-width="1.2"/>
<rect x="1114.74" y="1311.39" width="8.91" height="160.41" fill="#c6bebb" stroke="#6a6461" stroke-width="1.2"/>
<rect x="1123.65" y="1330.53" width="8.91" height="141.27" fill="#c6bebb" stroke="#6a6461" stroke-width="1.2"/>
<rect x="1132.56" y="1365.29" width="8.91" height="106.51" fill="#c6bebb" stroke="#6a6461" stroke-width="1.2"/>
<rect x="1141.47" y="1358.59" width="8.91" height="113.21" fill="#c6bebb" stroke="#6a6461" stroke-width="1.2"/>
<rect x="1150.38" y="1334.67" width="8.91" height="137.13" fill="#c6bebb" stroke="#6a6461" stroke-width="1.2"/>
<rect x="1159.29" y="1397.18" width="8.91" height="74.62" fill="#c6bebb" stroke="#6a6461" stroke-width="1.2"/>
<rect x="1168.2" y="1407.06" width="8.91" height="64.74" fill="#c6bebb" stroke="#6a6461" stroke-width="1.2"/>
<rect x="1177.11" y="1392.08" width="8.91" height="79.72" fill="#c6bebb" stroke="#6a6461" stroke-width="1.2"/>
<rect x="1186.02" y="1446.61" width="8.91" height="25.19" fill="#c6bebb" stroke="#6a6461" stroke-width="1.2"/>
<rect x="1194.93" y="1392.08" width="8.91" height="79.72" fill="#c6bebb" stroke="#6a6461" stroke-width="1.2"/>
<rect x="1203.84" y="1413.12" width="8.91" height="58.68" fill="#c6bebb" stroke="#6a6461" stroke-width="1.2"/>
<rect x="1212.75" y="1446.61" width="8.91" height="25.19" fill="#c6bebb" stroke="#6a6461" stroke-width="1.2"/>
<rect x="1221.66" y="1417.59" width="8.91" height="54.21" fill="#c6bebb" stroke="#6a6461" stroke-width="1.2"/>
<rect x="1257.3" y="1417.59" width="8.91" height="54.21" fill="#c6bebb" stroke="#6a6461" stroke-width="1.2"/>
<rect x="1275.12" y="1431.3" width="8.91" height="40.5" fill="#c6bebb" stroke="#6a6461" stroke-width="1.2"/>
<rect x="1328.58" y="1436.08" width="8.91" height="35.72" fill="#c6bebb" stroke="#6a6461" stroke-width="1.2"/>
<rect x="1355.31" y="1438.95" width="8.91" height="32.85" fill="#c6bebb" stroke="#6a6461" stroke-width="1.2"/>
<rect x="1408.77" y="1443.1" width="8.91" height="28.7" fill="#c6bebb" stroke="#6a6461" stroke-width="1.2"/>
<line x1="1069.3" y1="1312.35" x2="1436.9" y2="1312.35" stroke="#9a9696" stroke-width="1.5" stroke-dasharray="3 4.3"/>
<line x1="1065.7" y1="1152.9" x2="1065.7" y2="1471.8" stroke="#8a8a8a" stroke-width="1.3"/>
<line x1="1061.7" y1="1152.9" x2="1065.7" y2="1152.9" stroke="#8a8a8a" stroke-width="1.3"/>
<line x1="1061.7" y1="1216.68" x2="1065.7" y2="1216.68" stroke="#8a8a8a" stroke-width="1.3"/>
<line x1="1061.7" y1="1280.46" x2="1065.7" y2="1280.46" stroke="#8a8a8a" stroke-width="1.3"/>
<line x1="1061.7" y1="1344.24" x2="1065.7" y2="1344.24" stroke="#8a8a8a" stroke-width="1.3"/>
<line x1="1061.7" y1="1408.02" x2="1065.7" y2="1408.02" stroke="#8a8a8a" stroke-width="1.3"/>
<line x1="1061.7" y1="1471.8" x2="1065.7" y2="1471.8" stroke="#8a8a8a" stroke-width="1.3"/>
<text x="1049.8" y="1152.9" font-size="17.5" text-anchor="middle" fill="#262626" stroke="#262626" transform="rotate(-90 1049.8 1152.9)">1.0</text>
<text x="1049.8" y="1216.68" font-size="17.5" text-anchor="middle" fill="#262626" stroke="#262626" transform="rotate(-90 1049.8 1216.68)">0.8</text>
<text x="1049.8" y="1280.46" font-size="17.5" text-anchor="middle" fill="#262626" stroke="#262626" transform="rotate(-90 1049.8 1280.46)">0.6</text>
<text x="1049.8" y="1344.24" font-size="17.5" text-anchor="middle" fill="#262626" stroke="#262626" transform="rotate(-90 1049.8 1344.24)">0.4</text>
<text x="1049.8" y="1408.02" font-size="17.5" text-anchor="middle" fill="#262626" stroke="#262626" transform="rotate(-90 1049.8 1408.02)">0.2</text>
<text x="1049.8" y="1471.8" font-size="17.5" text-anchor="middle" fill="#262626" stroke="#262626" transform="rotate(-90 1049.8 1471.8)">0.0</text>
<line x1="1079.1" y1="1483.7" x2="1435.4" y2="1483.7" stroke="#8a8a8a" stroke-width="1.3"/>
<line x1="1079.1" y1="1483.7" x2="1079.1" y2="1487.7" stroke="#8a8a8a" stroke-width="1.3"/>
<line x1="1168" y1="1483.7" x2="1168" y2="1487.7" stroke="#8a8a8a" stroke-width="1.3"/>
<line x1="1257" y1="1483.7" x2="1257" y2="1487.7" stroke="#8a8a8a" stroke-width="1.3"/>
<line x1="1345.7" y1="1483.7" x2="1345.7" y2="1487.7" stroke="#8a8a8a" stroke-width="1.3"/>
<line x1="1435.4" y1="1483.7" x2="1435.4" y2="1487.7" stroke="#8a8a8a" stroke-width="1.3"/>
<text x="1075.1" y="1509" font-size="17.5" text-anchor="middle" fill="#262626" stroke="#262626">0</text>
<text x="1168" y="1509" font-size="17.5" text-anchor="middle" fill="#262626" stroke="#262626">500</text>
<text x="1257" y="1509" font-size="17.5" text-anchor="middle" fill="#262626" stroke="#262626">1000</text>
<text x="1345.7" y="1509" font-size="17.5" text-anchor="middle" fill="#262626" stroke="#262626">1500</text>
<text x="1435.4" y="1509" font-size="17.5" text-anchor="middle" fill="#262626" stroke="#262626">2000</text>
<text x="996.4" y="1313" font-size="21" text-anchor="middle" fill="#262626" stroke="#262626" textLength="309.9" lengthAdjust="spacingAndGlyphs" transform="rotate(-90 996.4 1313)">probability that neighbor SNP is</text>
<text x="1023.7" y="1309.9" font-size="21" text-anchor="middle" fill="#262626" stroke="#262626" textLength="139.8" lengthAdjust="spacingAndGlyphs" transform="rotate(-90 1023.7 1309.9)">also an raQTL</text>
<text x="1262.2" y="1537.8" font-size="21" text-anchor="middle" fill="#262626" stroke="#262626" textLength="370.5" lengthAdjust="spacingAndGlyphs">distance from raQTL to neighbor SNP</text>
<text transform="matrix(1.2 0 0 1 957.67 1109.6)" font-size="49.1" fill="#111">i</text>
<path d="M1679 1285h0m-18 4h0m-20 16h0m14 4h0m26 22h0m-10 6h0m18 0h0m-50 2h0m14 0h0m8 6h0m-12 8h0m46 0h0m-36 4h0m4 0h0m6 0h0m14 2h0m-46 4h0m14 0h0m4 0h0m70 0h0m-80 2h0m0 2h0m18 0h0m16 0h0m2 0h0m-30 2h0m2 0h0m8 0h0m-18 2h0m2 0h0m2 0h0m2 0h0m16 0h0m-26 2h0m4 0h0m2 0h0m4 0h0m-12 2h0m4 0h0m10 0h0m2 0h0m-6 2h0m6 0h0m42 0h0m-52 2h0m6 0h0m4 0h0m18 0h0m6 0h0m10 0h0m-46 2h0m2 0h0m2 0h0m6 0h0m180 0h0m-190 2h0m6 0h0m6 0h0m20 0h0m-4 2h0m-32 2h0m6 0h0m2 0h0m2 0h0m2 0h0m2 0h0m2 0h0m4 0h0m12 0h0m54 0h0m-82 2h0m-4 2h0m2 0h0m4 0h0m28 0h0m4 0h0m4 0h0m68 0h0m-110 2h0m2 0h0m2 0h0m4 0h0m2 0h0m40 0h0m26 0h0m-72 2h0m2 0h0m2 0h0m2 0h0m4 0h0m14 0h0m22 0h0m-42 2h0m2 0h0m2 0h0m2 0h0m14 0h0m4 0h0m2 0h0m2 0h0m2 0h0m18 0h0m12 0h0m-68 2h0m8 0h0m2 0h0m6 0h0m6 0h0m4 0h0m30 0h0m26 0h0m-76 2h0m2 0h0m6 0h0m6 0h0m14 0h0m4 0h0m10 0h0m-44 2h0m4 0h0m8 0h0m8 0h0m-24 2h0m2 0h0m2 0h0m2 0h0m2 0h0m2 0h0m2 0h0m24 0h0m6 0h0m-40 2h0m8 0h0m2 0h0m2 0h0m2 0h0m6 0h0m2 0h0m2 0h0m24 0h0m4 0h0m-52 2h0m4 0h0m2 0h0m2 0h0m2 0h0m2 0h0m2 0h0m2 0h0m20 0h0m4 0h0m42 0h0m-84 2h0m2 0h0m4 0h0m2 0h0m2 0h0m2 0h0m4 0h0m6 0h0m4 0h0m2 0h0m4 0h0m6 0h0m8 0h0m16 0h0m2 0h0m48 0h0m-112 2h0m2 0h0m2 0h0m4 0h0m2 0h0m2 0h0m2 0h0m2 0h0m2 0h0m2 0h0m8 0h0m2 0h0m12 0h0m16 0h0m-58 2h0m2 0h0m2 0h0m4 0h0m2 0h0m2 0h0m2 0h0m10 0h0m6 0h0m4 0h0m6 0h0m16 0h0m6 0h0m2 0h0m-64 2h0m2 0h0m2 0h0m2 0h0m2 0h0m2 0h0m2 0h0m2 0h0m2 0h0m2 0h0m6 0h0m6 0h0m34 0h0m38 0h0m-100 2h0m2 0h0m2 0h0m2 0h0m4 0h0m2 0h0m2 0h0m28 0h0m18 0h0m10 0h0m-70 2h0m2 0h0m2 0h0m2 0h0m6 0h0m10 0h0m14 0h0m20 0h0m4 0h0m-62 2h0m2 0h0m2 0h0m2 0h0m2 0h0m4 0h0m2 0h0m2 0h0m2 0h0m2 0h0m2 0h0m6 0h0m2 0h0m2 0h0m8 0h0m6 0h0m16 0h0m-62 2h0m2 0h0m2 0h0m2 0h0m2 0h0m2 0h0m2 0h0m2 0h0m2 0h0m14 0h0m6 0h0m6 0h0m2 0h0m26 0h0m-70 2h0m2 0h0m2 0h0m2 0h0m2 0h0m2 0h0m2 0h0m2 0h0m2 0h0m2 0h0m6 0h0m2 0h0m4 0h0m4 0h0m2 0h0m8 0h0m16 0h0m16 0h0m-76 2h0m2 0h0m2 0h0m2 0h0m4 0h0m2 0h0m2 0h0m2 0h0m6 0h0m4 0h0m2 0h0m2 0h0m4 0h0m18 0h0m2 0h0m4 0h0m2 0h0m2 0h0m20 0h0m-82 2h0m2 0h0m2 0h0m2 0h0m2 0h0m2 0h0m2 0h0m2 0h0m2 0h0m4 0h0m26 0h0m8 0h0m12 0h0m26 0h0m22 0h0m-114 2h0m2 0h0m2 0h0m2 0h0m2 0h0m2 0h0m2 0h0m4 0h0m2 0h0m4 0h0m2 0h0m2 0h0m4 0h0m2 0h0m4 0h0m2 0h0m6 0h0m2 0h0m4 0h0m22 0h0m8 0h0m4 0h0m8 0h0m42 0h0m-134 2h0m2 0h0m2 0h0m4 0h0m2 0h0m2 0h0m2 0h0m2 0h0m2 0h0m2 0h0m6 0h0m4 0h0m2 0h0m2 0h0m2 0h0m4 0h0m2 0h0m2 0h0m4 0h0m68 0h0m-116 2h0m2 0h0m2 0h0m2 0h0m2 0h0m2 0h0m2 0h0m2 0h0m2 0h0m2 0h0m4 0h0m2 0h0m2 0h0m10 0h0m2 0h0m4 0h0m4 0h0m2 0h0m10 0h0m2 0h0m-60 2h0m2 0h0m2 0h0m2 0h0m2 0h0m2 0h0m2 0h0m2 0h0m2 0h0m2 0h0m2 0h0m2 0h0m4 0h0m4 0h0m2 0h0m2 0h0m4 0h0m6 0h0m8 0h0m8 0h0m2 0h0m16 0h0m4 0h0m12 0h0m-94 2h0m2 0h0m2 0h0m2 0h0m2 0h0m2 0h0m2 0h0m2 0h0m2 0h0m2 0h0m6 0h0m4 0h0m2 0h0m4 0h0m2 0h0m4 0h0m4 0h0m2 0h0m4 0h0m10 0h0m36 0h0m-96 2h0m2 0h0m2 0h0m2 0h0m2 0h0m2 0h0m2 0h0m2 0h0m2 0h0m4 0h0m2 0h0m2 0h0m2 0h0m2 0h0m2 0h0m2 0h0m4 0h0m6 0h0m10 0h0m6 0h0m2 0h0m38 0h0m18 0h0m-116 2h0m2 0h0m2 0h0m2 0h0m2 0h0m2 0h0m2 0h0m2 0h0m2 0h0m2 0h0m2 0h0m2 0h0m4 0h0m2 0h0m6 0h0m4 0h0m6 0h0m2 0h0m6 0h0m6 0h0m4 0h0m8 0h0m24 0h0m-90 2h0m2 0h0m2 0h0m4 0h0m2 0h0m2 0h0" stroke="#9a1c90" stroke-opacity="0.3" stroke-width="4" stroke-linecap="round" fill="none"/>
<path d="M1663 1289h0m-14 6h0m-8 26h0m2 4h0m36 8h0m-24 2h0m-6 2h0m2 4h0m-10 2h0m8 0h0m16 2h0m2 8h0m164 0h0m-188 2h0m-4 4h0m28 0h0m86 0h0m-112 2h0m12 0h0m6 2h0m-18 2h0m22 0h0m16 0h0m-24 2h0m10 0h0m14 0h0m-40 2h0m2 0h0m4 0h0m-2 2h0m50 0h0m-44 2h0m2 0h0m8 0h0m-14 2h0m6 0h0m28 0h0m-38 2h0m14 0h0m2 0h0m8 0h0m0 2h0m4 0h0m22 0h0m-50 2h0m6 0h0m2 0h0m4 0h0m6 0h0m6 0h0m8 0h0m-36 2h0m8 0h0m18 0h0m6 0h0m4 0h0m4 0h0m18 0h0m-56 2h0m14 0h0m10 0h0m18 0h0m14 0h0m28 0h0m-86 2h0m4 0h0m8 0h0m12 0h0m14 0h0m54 0h0m-82 2h0m4 0h0m10 0h0m2 0h0m-18 2h0m10 0h0m4 0h0m2 0h0m20 0h0m40 0h0m-78 2h0m4 0h0m2 0h0m4 0h0m2 0h0m2 0h0m10 0h0m28 0h0m-48 2h0m2 0h0m2 0h0m12 0h0m12 0h0m18 0h0m-54 2h0m8 0h0m2 0h0m2 0h0m2 0h0m6 0h0m10 0h0m-30 2h0m2 0h0m2 0h0m2 0h0m6 0h0m14 0h0m4 0h0m58 0h0m-86 2h0m2 0h0m2 0h0m4 0h0m2 0h0m14 0h0m-24 2h0m2 0h0m2 0h0m2 0h0m2 0h0m2 0h0m2 0h0m6 0h0m22 0h0m4 0h0m6 0h0m-54 2h0m2 0h0m4 0h0m2 0h0m2 0h0m4 0h0m2 0h0m2 0h0m12 0h0m10 0h0m-40 2h0m4 0h0m4 0h0m8 0h0m4 0h0m2 0h0m10 0h0m40 0h0m-70 2h0m2 0h0m4 0h0m4 0h0m2 0h0m12 0h0m2 0h0m4 0h0m12 0h0m2 0h0m24 0h0m-70 2h0m2 0h0m2 0h0m2 0h0m2 0h0m2 0h0m4 0h0m2 0h0m10 0h0m22 0h0m28 0h0m-76 2h0m2 0h0m2 0h0m2 0h0m2 0h0m2 0h0m2 0h0m4 0h0m6 0h0m4 0h0m6 0h0m4 0h0m6 0h0m-40 2h0m2 0h0m2 0h0m4 0h0m2 0h0m8 0h0m2 0h0m14 0h0m80 0h0m-116 2h0m2 0h0m2 0h0m2 0h0m2 0h0m2 0h0m2 0h0m2 0h0m2 0h0m2 0h0m2 0h0m6 0h0m4 0h0m36 0h0m68 0h0m-134 2h0m2 0h0m2 0h0m2 0h0m2 0h0m4 0h0m2 0h0m4 0h0m6 0h0m4 0h0m2 0h0m4 0h0m8 0h0m2 0h0m-44 2h0m2 0h0m2 0h0m2 0h0m2 0h0m2 0h0m2 0h0m2 0h0m2 0h0m4 0h0m8 0h0m6 0h0m20 0h0m22 0h0m2 0h0m-78 2h0m2 0h0m2 0h0m2 0h0m2 0h0m2 0h0m4 0h0m4 0h0m8 0h0m2 0h0m2 0h0m4 0h0m2 0h0m24 0h0m-60 2h0m2 0h0m2 0h0m2 0h0m2 0h0m4 0h0m2 0h0m2 0h0m12 0h0m2 0h0m2 0h0m2 0h0m2 0h0m2 0h0m4 0h0m-38 2h0m2 0h0m2 0h0m2 0h0m2 0h0m2 0h0m2 0h0m4 0h0m10 0h0m2 0h0m4 0h0m2 0h0m28 0h0m6 0h0m-72 2h0m2 0h0m2 0h0m2 0h0m2 0h0m4 0h0m2 0h0m2 0h0m10 0h0m4 0h0m10 0h0m4 0h0m6 0h0m28 0h0m22 0h0m42 0h0m-140 2h0m2 0h0m2 0h0m2 0h0m2 0h0m2 0h0m2 0h0m2 0h0m2 0h0m2 0h0m4 0h0m2 0h0m4 0h0m2 0h0m4 0h0m42 0h0m30 0h0m-108 2h0m2 0h0m2 0h0m2 0h0m2 0h0m2 0h0m2 0h0m2 0h0m2 0h0m2 0h0m4 0h0m2 0h0m8 0h0m2 0h0m2 0h0m2 0h0m6 0h0m-44 2h0m2 0h0m2 0h0m2 0h0m2 0h0m2 0h0m2 0h0m2 0h0m2 0h0m6 0h0m2 0h0m6 0h0m6 0h0m20 0h0m12 0h0m16 0h0m28 0h0m-110 2h0m2 0h0m2 0h0m2 0h0m2 0h0m2 0h0m2 0h0m2 0h0m4 0h0m2 0h0m2 0h0m2 0h0m2 0h0m8 0h0m2 0h0m2 0h0m4 0h0m2 0h0m4 0h0m6 0h0m-56 2h0m2 0h0m2 0h0m2 0h0m2 0h0m2 0h0m2 0h0m2 0h0m2 0h0m2 0h0m4 0h0m2 0h0m2 0h0m2 0h0m4 0h0m8 0h0m2 0h0m16 0h0m18 0h0m2 0h0m6 0h0m8 0h0m-92 2h0m2 0h0m2 0h0m2 0h0m2 0h0m2 0h0m2 0h0m2 0h0m2 0h0m2 0h0m2 0h0m4 0h0m8 0h0m4 0h0m6 0h0m-42 2h0m2 0h0m2 0h0m2 0h0m2 0h0m2 0h0m2 0h0m2 0h0m2 0h0m2 0h0m12 0h0m6 0h0m2 0h0m2 0h0m4 0h0m8 0h0m2 0h0m-54 2h0m2 0h0m2 0h0m2 0h0m2 0h0m2 0h0m2 0h0m2 0h0m2 0h0m2 0h0m2 0h0m6 0h0m2 0h0m4 0h0m6 0h0m6 0h0m2 0h0m6 0h0m2 0h0m10 0h0m2 0h0m2 0h0m2 0h0m24 0h0m18 0h0m-96 2h0m4 0h0m22 0h0" stroke="#9a1c90" stroke-opacity="0.3" stroke-width="4" stroke-linecap="round" fill="none"/>
<path d="M1641 1283h0m26 0h0m-14 10h0m-16 24h0m36 0h0m2 2h0m-6 4h0m-6 8h0m-16 2h0m38 0h0m-40 2h0m8 4h0m14 0h0m-10 12h0m18 0h0m24 0h0m-54 2h0m18 0h0m-22 4h0m-4 4h0m10 0h0m2 0h0m26 0h0m60 0h0m-84 2h0m0 2h0m4 0h0m28 0h0m-26 2h0m34 0h0m-26 2h0m12 0h0m-34 2h0m10 0h0m18 0h0m-12 2h0m14 0h0m-34 2h0m2 0h0m2 0h0m4 0h0m-2 2h0m4 0h0m22 0h0m82 0h0m-110 2h0m2 0h0m4 0h0m10 0h0m10 0h0m42 0h0m22 0h0m-96 2h0m4 0h0m30 0h0m18 0h0m-52 2h0m2 0h0m2 0h0m4 0h0m6 0h0m32 0h0m-40 2h0m2 0h0m6 0h0m-12 2h0m4 0h0m16 0h0m2 0h0m-20 2h0m46 0h0m-46 2h0m8 0h0m4 0h0m16 0h0m8 0h0m-40 2h0m4 0h0m4 0h0m2 0h0m8 0h0m8 0h0m4 0h0m2 0h0m18 0h0m-50 2h0m2 0h0m2 0h0m4 0h0m2 0h0m2 0h0m18 0h0m4 0h0m8 0h0m8 0h0m2 0h0m-50 2h0m8 0h0m2 0h0m2 0h0m2 0h0m70 0h0m10 0h0m-88 2h0m6 0h0m2 0h0m18 0h0m10 0h0m6 0h0m2 0h0m40 0h0m-90 2h0m2 0h0m4 0h0m2 0h0m4 0h0m2 0h0m10 0h0m6 0h0m16 0h0m-44 2h0m24 0h0m8 0h0m10 0h0m20 0h0m-64 2h0m2 0h0m2 0h0m2 0h0m2 0h0m2 0h0m2 0h0m8 0h0m2 0h0m-22 2h0m4 0h0m2 0h0m2 0h0m2 0h0m2 0h0m2 0h0m2 0h0m24 0h0m24 0h0m18 0h0m8 0h0m-90 2h0m2 0h0m2 0h0m2 0h0m2 0h0m2 0h0m4 0h0m10 0h0m16 0h0m4 0h0m-44 2h0m4 0h0m2 0h0m4 0h0m2 0h0m2 0h0m8 0h0m10 0h0m30 0h0m-64 2h0m2 0h0m2 0h0m2 0h0m8 0h0m2 0h0m2 0h0m8 0h0m6 0h0m8 0h0m2 0h0m4 0h0m8 0h0m-54 2h0m4 0h0m2 0h0m2 0h0m2 0h0m2 0h0m4 0h0m4 0h0m2 0h0m12 0h0m8 0h0m2 0h0m2 0h0m16 0h0m8 0h0m64 0h0m-134 2h0m4 0h0m4 0h0m2 0h0m6 0h0m4 0h0m14 0h0m4 0h0m2 0h0m20 0h0m64 0h0m-124 2h0m2 0h0m2 0h0m2 0h0m2 0h0m2 0h0m2 0h0m2 0h0m4 0h0m8 0h0m6 0h0m4 0h0m4 0h0m10 0h0m12 0h0m2 0h0m-64 2h0m2 0h0m2 0h0m2 0h0m4 0h0m2 0h0m2 0h0m2 0h0m4 0h0m2 0h0m2 0h0m28 0h0m20 0h0m-72 2h0m2 0h0m2 0h0m2 0h0m2 0h0m2 0h0m2 0h0m2 0h0m2 0h0m2 0h0m6 0h0m4 0h0m2 0h0m6 0h0m2 0h0m14 0h0m20 0h0m-70 2h0m2 0h0m2 0h0m2 0h0m2 0h0m2 0h0m2 0h0m2 0h0m2 0h0m2 0h0m4 0h0m8 0h0m6 0h0m8 0h0m38 0h0m-84 2h0m2 0h0m2 0h0m2 0h0m2 0h0m2 0h0m2 0h0m2 0h0m2 0h0m4 0h0m2 0h0m2 0h0m2 0h0m20 0h0m-44 2h0m2 0h0m2 0h0m2 0h0m2 0h0m2 0h0m2 0h0m2 0h0m2 0h0m4 0h0m8 0h0m4 0h0m4 0h0m4 0h0m4 0h0m12 0h0m20 0h0m-78 2h0m2 0h0m2 0h0m2 0h0m2 0h0m2 0h0m2 0h0m2 0h0m2 0h0m6 0h0m12 0h0m16 0h0m24 0h0m-74 2h0m2 0h0m2 0h0m2 0h0m2 0h0m2 0h0m2 0h0m2 0h0m2 0h0m2 0h0m2 0h0m2 0h0m2 0h0m2 0h0m4 0h0m20 0h0m4 0h0m22 0h0m6 0h0m26 0h0m-108 2h0m2 0h0m4 0h0m2 0h0m2 0h0m2 0h0m2 0h0m2 0h0m2 0h0m2 0h0m4 0h0m4 0h0m8 0h0m4 0h0m6 0h0m2 0h0m6 0h0m4 0h0m10 0h0m-68 2h0m2 0h0m2 0h0m2 0h0m2 0h0m2 0h0m2 0h0m2 0h0m2 0h0m2 0h0m4 0h0m2 0h0m4 0h0m2 0h0m16 0h0m2 0h0m18 0h0m2 0h0m2 0h0m12 0h0m-80 2h0m2 0h0m2 0h0m2 0h0m2 0h0m2 0h0m2 0h0m2 0h0m2 0h0m6 0h0m2 0h0m4 0h0m6 0h0m10 0h0m2 0h0m6 0h0m2 0h0m8 0h0m4 0h0m2 0h0m10 0h0m-80 2h0m2 0h0m2 0h0m2 0h0m2 0h0m2 0h0m2 0h0m2 0h0m2 0h0m4 0h0m2 0h0m4 0h0m4 0h0m4 0h0m4 0h0m4 0h0m4 0h0m2 0h0m6 0h0m14 0h0m-68 2h0m2 0h0m2 0h0m2 0h0m2 0h0m2 0h0m2 0h0m2 0h0m2 0h0m2 0h0m2 0h0m2 0h0m2 0h0m2 0h0m2 0h0m12 0h0m2 0h0m4 0h0m20 0h0m28 0h0m8 0h0m-102 2h0m2 0h0m2 0h0m2 0h0m2 0h0m2 0h0m2 0h0m2 0h0m2 0h0m2 0h0m2 0h0m2 0h0m6 0h0m2 0h0m4 0h0m2 0h0m2 0h0m2 0h0m20 0h0m16 0h0m2 0h0m2 0h0m56 0h0m-128 2h0m2 0h0" stroke="#9a1c90" stroke-opacity="0.3" stroke-width="4" stroke-linecap="round" fill="none"/>
<path d="M1709 1263h0m-52 24h0m62 10h0m-72 10h0m6 18h0m20 0h0m-34 4h0m52 4h0m-34 4h0m8 2h0m16 0h0m-24 2h0m-20 6h0m12 2h0m-6 6h0m16 0h0m34 0h0m46 0h0m-72 2h0m0 2h0m52 0h0m-76 2h0m8 0h0m38 0h0m-30 6h0m-18 2h0m48 0h0m-40 2h0m-10 2h0m6 0h0m8 0h0m12 0h0m-22 2h0m12 0h0m30 0h0m-42 2h0m4 0h0m2 0h0m2 0h0m8 0h0m42 0h0m10 0h0m-58 2h0m12 0h0m-26 2h0m2 0h0m14 0h0m4 0h0m4 0h0m2 0h0m-28 2h0m16 0h0m2 0h0m14 0h0m12 0h0m94 0h0m-132 2h0m4 0h0m28 0h0m12 0h0m-38 2h0m2 0h0m4 0h0m28 0h0m-44 2h0m14 0h0m4 0h0m22 0h0m-40 2h0m4 0h0m4 0h0m2 0h0m8 0h0m4 0h0m14 0h0m-26 2h0m8 0h0m-18 2h0m2 0h0m6 0h0m2 0h0m8 0h0m2 0h0m6 0h0m32 0h0m-60 2h0m2 0h0m2 0h0m2 0h0m2 0h0m2 0h0m2 0h0m8 0h0m6 0h0m18 0h0m2 0h0m6 0h0m12 0h0m10 0h0m-72 2h0m4 0h0m4 0h0m2 0h0m6 0h0m12 0h0m2 0h0m2 0h0m18 0h0m-50 2h0m2 0h0m8 0h0m-10 2h0m2 0h0m2 0h0m2 0h0m4 0h0m4 0h0m4 0h0m22 0h0m32 0h0m4 0h0m-78 2h0m2 0h0m4 0h0m2 0h0m2 0h0m4 0h0m2 0h0m20 0h0m6 0h0m10 0h0m-50 2h0m2 0h0m2 0h0m2 0h0m2 0h0m2 0h0m2 0h0m6 0h0m14 0h0m4 0h0m2 0h0m14 0h0m14 0h0m2 0h0m2 0h0m28 0h0m-100 2h0m2 0h0m4 0h0m6 0h0m2 0h0m12 0h0m20 0h0m12 0h0m26 0h0m-84 2h0m2 0h0m4 0h0m4 0h0m2 0h0m4 0h0m2 0h0m6 0h0m10 0h0m24 0h0m-58 2h0m4 0h0m4 0h0m4 0h0m2 0h0m2 0h0m6 0h0m2 0h0m6 0h0m2 0h0m8 0h0m8 0h0m2 0h0m10 0h0m4 0h0m62 0h0m-126 2h0m2 0h0m2 0h0m2 0h0m4 0h0m2 0h0m2 0h0m2 0h0m2 0h0m2 0h0m12 0h0m6 0h0m8 0h0m6 0h0m42 0h0m-94 2h0m2 0h0m2 0h0m2 0h0m2 0h0m2 0h0m2 0h0m2 0h0m2 0h0m20 0h0m2 0h0m26 0h0m38 0h0m-100 2h0m2 0h0m2 0h0m2 0h0m2 0h0m2 0h0m2 0h0m10 0h0m2 0h0m6 0h0m2 0h0m12 0h0m24 0h0m-70 2h0m2 0h0m2 0h0m2 0h0m2 0h0m2 0h0m2 0h0m2 0h0m2 0h0m2 0h0m2 0h0m2 0h0m2 0h0m2 0h0m2 0h0m6 0h0m-34 2h0m4 0h0m2 0h0m2 0h0m2 0h0m2 0h0m2 0h0m2 0h0m2 0h0m2 0h0m18 0h0m2 0h0m2 0h0m56 0h0m-98 2h0m2 0h0m2 0h0m2 0h0m2 0h0m2 0h0m2 0h0m2 0h0m2 0h0m2 0h0m12 0h0m8 0h0m18 0h0m-56 2h0m2 0h0m2 0h0m2 0h0m2 0h0m2 0h0m2 0h0m2 0h0m4 0h0m2 0h0m8 0h0m4 0h0m2 0h0m12 0h0m2 0h0m2 0h0m12 0h0m2 0h0m66 0h0m-128 2h0m2 0h0m2 0h0m2 0h0m2 0h0m2 0h0m2 0h0m2 0h0m4 0h0m2 0h0m2 0h0m2 0h0m4 0h0m8 0h0m12 0h0m44 0h0m18 0h0m46 0h0m-158 2h0m2 0h0m2 0h0m2 0h0m2 0h0m2 0h0m2 0h0m2 0h0m2 0h0m4 0h0m2 0h0m2 0h0m4 0h0m10 0h0m2 0h0m8 0h0m-48 2h0m2 0h0m2 0h0m2 0h0m2 0h0m2 0h0m2 0h0m2 0h0m2 0h0m4 0h0m4 0h0m4 0h0m4 0h0m2 0h0m38 0h0m-70 2h0m2 0h0m2 0h0m2 0h0m2 0h0m2 0h0m2 0h0m2 0h0m2 0h0m4 0h0m4 0h0m4 0h0m8 0h0m2 0h0m2 0h0m28 0h0m16 0h0m-86 2h0m2 0h0m2 0h0m2 0h0m2 0h0m2 0h0m2 0h0m2 0h0m2 0h0m4 0h0m2 0h0m2 0h0m4 0h0m2 0h0m6 0h0m4 0h0m2 0h0m4 0h0m26 0h0m8 0h0m-80 2h0m2 0h0m2 0h0m2 0h0m2 0h0m2 0h0m2 0h0m2 0h0m2 0h0m2 0h0m6 0h0m4 0h0m2 0h0m12 0h0m10 0h0m4 0h0m10 0h0m4 0h0m18 0h0m-88 2h0m2 0h0m2 0h0m2 0h0m2 0h0m2 0h0m2 0h0m2 0h0m2 0h0m2 0h0m6 0h0m2 0h0m6 0h0m2 0h0m2 0h0m2 0h0m2 0h0m6 0h0m32 0h0m-78 2h0m2 0h0m2 0h0m2 0h0m2 0h0m2 0h0m2 0h0m2 0h0m2 0h0m2 0h0m4 0h0m2 0h0m4 0h0m2 0h0m2 0h0m2 0h0m8 0h0m2 0h0m8 0h0m4 0h0m24 0h0m-80 2h0m2 0h0m2 0h0m2 0h0m2 0h0m2 0h0m2 0h0m2 0h0m2 0h0m4 0h0m2 0h0m2 0h0m4 0h0m2 0h0m2 0h0m4 0h0m2 0h0m4 0h0m14 0h0m6 0h0m28 0h0m82 0h0m-164 2h0m4 0h0m16 0h0" stroke="#9a1c90" stroke-opacity="0.3" stroke-width="4" stroke-linecap="round" fill="none"/>
<path d="M1659 1279h0m10 50h0m4 0h0m-20 2h0m4 0h0m4 4h0m10 4h0m14 0h0m-10 2h0m-22 4h0m-6 2h0m-8 2h0m44 2h0m-40 4h0m-4 2h0m16 0h0m18 4h0m-6 2h0m-30 2h0m32 0h0m44 0h0m10 0h0m-72 2h0m30 0h0m8 0h0m-48 2h0m6 0h0m82 0h0m-80 2h0m16 0h0m-26 2h0m18 0h0m2 0h0m-10 2h0m18 0h0m26 0h0m-50 4h0m4 0h0m6 0h0m38 0h0m6 0h0m58 0h0m-110 2h0m-2 2h0m8 0h0m4 0h0m6 0h0m26 0h0m-48 2h0m6 0h0m2 0h0m2 0h0m2 0h0m18 0h0m-32 2h0m2 0h0m6 0h0m2 0h0m2 0h0m8 0h0m24 0h0m-42 2h0m2 0h0m6 0h0m6 2h0m12 0h0m12 0h0m22 0h0m-58 2h0m4 0h0m6 0h0m4 0h0m18 0h0m10 0h0m-42 2h0m4 0h0m2 0h0m2 0h0m20 0h0m4 0h0m2 0h0m4 0h0m-36 2h0m2 0h0m2 0h0m2 0h0m22 0h0m2 0h0m8 0h0m8 0h0m-48 2h0m4 0h0m4 0h0m2 0h0m6 0h0m6 0h0m8 0h0m28 0h0m-60 2h0m4 0h0m2 0h0m2 0h0m2 0h0m2 0h0m2 0h0m6 0h0m2 0h0m4 0h0m-26 2h0m2 0h0m2 0h0m2 0h0m2 0h0m2 0h0m2 0h0m2 0h0m2 0h0m6 0h0m2 0h0m14 0h0m2 0h0m32 0h0m-72 2h0m2 0h0m2 0h0m2 0h0m2 0h0m4 0h0m6 0h0m2 0h0m4 0h0m24 0h0m4 0h0m4 0h0m-52 2h0m6 0h0m2 0h0m6 0h0m8 0h0m36 0h0m50 0h0m-114 2h0m4 0h0m2 0h0m2 0h0m2 0h0m2 0h0m2 0h0m2 0h0m8 0h0m10 0h0m2 0h0m24 0h0m14 0h0m-72 2h0m2 0h0m4 0h0m2 0h0m4 0h0m2 0h0m4 0h0m2 0h0m-22 2h0m2 0h0m2 0h0m2 0h0m2 0h0m4 0h0m2 0h0m4 0h0m2 0h0m4 0h0m2 0h0m-24 2h0m2 0h0m2 0h0m2 0h0m2 0h0m2 0h0m2 0h0m2 0h0m4 0h0m6 0h0m2 0h0m8 0h0m-36 2h0m2 0h0m2 0h0m2 0h0m4 0h0m2 0h0m8 0h0m2 0h0m4 0h0m12 0h0m40 0h0m10 0h0m64 0h0m-150 2h0m2 0h0m2 0h0m2 0h0m2 0h0m2 0h0m2 0h0m2 0h0m4 0h0m24 0h0m18 0h0m-62 2h0m2 0h0m2 0h0m2 0h0m2 0h0m2 0h0m2 0h0m2 0h0m2 0h0m12 0h0m8 0h0m-36 2h0m2 0h0m2 0h0m2 0h0m2 0h0m2 0h0m4 0h0m4 0h0m8 0h0m4 0h0m2 0h0m6 0h0m2 0h0m8 0h0m-48 2h0m2 0h0m2 0h0m2 0h0m2 0h0m2 0h0m2 0h0m2 0h0m2 0h0m2 0h0m2 0h0m10 0h0m8 0h0m4 0h0m4 0h0m42 0h0m20 0h0m-108 2h0m2 0h0m2 0h0m2 0h0m2 0h0m2 0h0m2 0h0m2 0h0m2 0h0m2 0h0m4 0h0m6 0h0m8 0h0m24 0h0m-60 2h0m2 0h0m2 0h0m2 0h0m2 0h0m2 0h0m2 0h0m2 0h0m2 0h0m6 0h0m2 0h0m4 0h0m2 0h0m8 0h0m2 0h0m10 0h0m8 0h0m-58 2h0m2 0h0m2 0h0m2 0h0m2 0h0m2 0h0m2 0h0m2 0h0m2 0h0m2 0h0m8 0h0m2 0h0m4 0h0m8 0h0m24 0h0m2 0h0m2 0h0m-68 2h0m2 0h0m2 0h0m2 0h0m2 0h0m2 0h0m2 0h0m2 0h0m2 0h0m2 0h0m2 0h0m2 0h0m4 0h0m2 0h0m4 0h0m6 0h0m2 0h0m2 0h0m2 0h0m32 0h0m-76 2h0m2 0h0m2 0h0m2 0h0m2 0h0m2 0h0m2 0h0m2 0h0m2 0h0m4 0h0m2 0h0m2 0h0m18 0h0m2 0h0m2 0h0m2 0h0m14 0h0m2 0h0m-64 2h0m2 0h0m2 0h0m2 0h0m2 0h0m2 0h0m2 0h0m2 0h0m2 0h0m2 0h0m4 0h0m2 0h0m2 0h0m6 0h0m4 0h0m8 0h0m-44 2h0m2 0h0m2 0h0m2 0h0m2 0h0m2 0h0m2 0h0m2 0h0m2 0h0m2 0h0m4 0h0m4 0h0m2 0h0m2 0h0m6 0h0m6 0h0m2 0h0m16 0h0m2 0h0m-62 2h0m2 0h0m2 0h0m2 0h0m2 0h0m2 0h0m2 0h0m2 0h0m2 0h0m2 0h0m2 0h0m6 0h0m2 0h0m2 0h0m2 0h0m2 0h0m4 0h0m2 0h0m2 0h0m14 0h0m4 0h0m30 0h0m38 0h0m-128 2h0m2 0h0m2 0h0m2 0h0m2 0h0m2 0h0m2 0h0m2 0h0m2 0h0m2 0h0m6 0h0m4 0h0m2 0h0m2 0h0m2 0h0m6 0h0m2 0h0m2 0h0m8 0h0m4 0h0m24 0h0m-80 2h0m2 0h0m2 0h0m2 0h0m2 0h0m2 0h0m2 0h0m2 0h0m2 0h0m2 0h0m8 0h0m4 0h0m2 0h0m2 0h0m6 0h0m10 0h0m2 0h0m14 0h0m-64 2h0m8 0h0m2 0h0m2 0h0m2 0h0m22 0h0" stroke="#9a1c90" stroke-opacity="0.3" stroke-width="4" stroke-linecap="round" fill="none"/>
<path d="M1717 1269h0m-18 28h0m-46 12h0m112 2h0m-114 2h0m34 0h0m-26 8h0m-14 4h0m-6 2h0m2 2h0m8 6h0m-12 2h0m12 0h0m-8 2h0m8 0h0m14 0h0m24 2h0m-40 2h0m30 0h0m-34 2h0m30 8h0m2 0h0m6 4h0m36 0h0m-78 2h0m4 0h0m124 0h0m-118 2h0m8 0h0m22 0h0m30 2h0m-64 2h0m6 0h0m-10 2h0m2 0h0m14 0h0m10 0h0m4 0h0m4 0h0m-32 2h0m6 0h0m4 0h0m2 0h0m16 0h0m-28 4h0m4 0h0m-8 2h0m20 0h0m-16 2h0m8 0h0m4 0h0m10 0h0m22 0h0m-50 2h0m8 0h0m4 0h0m2 0h0m38 0h0m-44 2h0m2 0h0m4 0h0m4 0h0m6 0h0m56 0h0m-80 2h0m2 0h0m8 0h0m4 0h0m2 0h0m-12 2h0m2 0h0m4 0h0m10 0h0m2 0h0m10 0h0m-32 2h0m2 0h0m2 0h0m2 0h0m2 0h0m-8 2h0m6 0h0m6 0h0m10 0h0m6 0h0m36 0h0m-60 2h0m2 0h0m4 0h0m6 0h0m2 0h0m62 0h0m-74 2h0m30 0h0m60 0h0m-96 2h0m2 0h0m2 0h0m10 0h0m2 0h0m14 0h0m44 0h0m-68 2h0m6 0h0m2 0h0m6 0h0m30 0h0m-42 2h0m2 0h0m2 0h0m4 0h0m8 0h0m14 0h0m-36 2h0m4 0h0m2 0h0m4 0h0m2 0h0m2 0h0m4 0h0m38 0h0m-58 2h0m4 0h0m2 0h0m2 0h0m2 0h0m2 0h0m2 0h0m6 0h0m6 0h0m66 0h0m4 0h0m-92 2h0m2 0h0m4 0h0m2 0h0m6 0h0m2 0h0m2 0h0m6 0h0m12 0h0m8 0h0m6 0h0m10 0h0m-60 2h0m6 0h0m2 0h0m2 0h0m2 0h0m2 0h0m4 0h0m14 0h0m8 0h0m38 0h0m-80 2h0m4 0h0m4 0h0m2 0h0m2 0h0m2 0h0m4 0h0m2 0h0m2 0h0m6 0h0m12 0h0m28 0h0m-70 2h0m2 0h0m2 0h0m2 0h0m4 0h0m2 0h0m4 0h0m12 0h0m12 0h0m6 0h0m26 0h0m-70 2h0m2 0h0m4 0h0m4 0h0m2 0h0m2 0h0m4 0h0m22 0h0m6 0h0m4 0h0m4 0h0m22 0h0m-78 2h0m2 0h0m2 0h0m2 0h0m2 0h0m2 0h0m2 0h0m2 0h0m2 0h0m4 0h0m10 0h0m2 0h0m6 0h0m22 0h0m8 0h0m-66 2h0m2 0h0m2 0h0m2 0h0m2 0h0m2 0h0m4 0h0m4 0h0m4 0h0m2 0h0m8 0h0m26 0h0m6 0h0m24 0h0m18 0h0m-108 2h0m4 0h0m2 0h0m2 0h0m2 0h0m2 0h0m8 0h0m12 0h0m2 0h0m4 0h0m2 0h0m10 0h0m4 0h0m-52 2h0m2 0h0m2 0h0m2 0h0m2 0h0m4 0h0m2 0h0m2 0h0m14 0h0m30 0h0m10 0h0m32 0h0m10 0h0m-112 2h0m2 0h0m2 0h0m2 0h0m2 0h0m2 0h0m2 0h0m2 0h0m10 0h0m4 0h0m2 0h0m24 0h0m2 0h0m22 0h0m2 0h0m-82 2h0m2 0h0m2 0h0m2 0h0m2 0h0m2 0h0m2 0h0m2 0h0m2 0h0m4 0h0m2 0h0m2 0h0m2 0h0m2 0h0m22 0h0m32 0h0m-82 2h0m2 0h0m2 0h0m2 0h0m2 0h0m2 0h0m2 0h0m2 0h0m2 0h0m2 0h0m2 0h0m2 0h0m8 0h0m2 0h0m8 0h0m4 0h0m6 0h0m36 0h0m-86 2h0m2 0h0m2 0h0m2 0h0m2 0h0m2 0h0m2 0h0m2 0h0m2 0h0m6 0h0m2 0h0m6 0h0m36 0h0m-66 2h0m2 0h0m2 0h0m2 0h0m2 0h0m2 0h0m2 0h0m2 0h0m2 0h0m2 0h0m4 0h0m6 0h0m20 0h0m4 0h0m16 0h0m12 0h0m42 0h0m-122 2h0m2 0h0m2 0h0m2 0h0m2 0h0m2 0h0m2 0h0m2 0h0m2 0h0m4 0h0m14 0h0m2 0h0m2 0h0m14 0h0m6 0h0m2 0h0m-60 2h0m2 0h0m2 0h0m2 0h0m2 0h0m2 0h0m2 0h0m2 0h0m2 0h0m4 0h0m2 0h0m2 0h0m2 0h0m4 0h0m2 0h0m6 0h0m2 0h0m8 0h0m14 0h0m22 0h0m-84 2h0m2 0h0m2 0h0m2 0h0m2 0h0m2 0h0m2 0h0m2 0h0m2 0h0m2 0h0m2 0h0m18 0h0m4 0h0m2 0h0m4 0h0m2 0h0m4 0h0m4 0h0m20 0h0m2 0h0m-80 2h0m2 0h0m2 0h0m2 0h0m2 0h0m2 0h0m2 0h0m2 0h0m2 0h0m2 0h0m8 0h0m2 0h0m2 0h0m4 0h0m12 0h0m8 0h0m80 0h0m-134 2h0m2 0h0m2 0h0m2 0h0m2 0h0m2 0h0m2 0h0m2 0h0m2 0h0m8 0h0m2 0h0m4 0h0m6 0h0m2 0h0m2 0h0m6 0h0m6 0h0m6 0h0m8 0h0m2 0h0m28 0h0m-96 2h0m2 0h0m2 0h0m2 0h0m2 0h0m2 0h0m2 0h0m2 0h0m2 0h0m2 0h0m2 0h0m6 0h0m4 0h0m2 0h0m10 0h0m2 0h0m2 0h0m2 0h0m6 0h0m8 0h0m4 0h0m32 0h0m12 0h0m-110 2h0m2 0h0m2 0h0m2 0h0m2 0h0m2 0h0m2 0h0m2 0h0m2 0h0m4 0h0m2 0h0m4 0h0m14 0h0m4 0h0m8 0h0m4 0h0m16 0h0m-72 2h0m2 0h0m8 0h0m4 0h0m2 0h0m4 0h0m22 0h0" stroke="#9a1c90" stroke-opacity="0.3" stroke-width="4" stroke-linecap="round" fill="none"/>
<path d="M1667 1269h0m26 36h0m-32 8h0m-16 14h0m86 0h0m-94 4h0m4 0h0m18 4h0m-8 6h0m-4 12h0m0 2h0m20 0h0m10 0h0m-38 2h0m44 0h0m-38 2h0m8 2h0m12 0h0m16 0h0m26 0h0m-68 2h0m86 0h0m-82 2h0m2 0h0m2 0h0m6 2h0m2 0h0m6 2h0m22 0h0m-30 4h0m-12 2h0m22 0h0m6 0h0m10 0h0m24 0h0m-58 2h0m10 0h0m58 2h0m-72 2h0m2 0h0m6 0h0m16 0h0m2 0h0m-26 2h0m-2 2h0m4 0h0m2 0h0m2 0h0m2 0h0m2 0h0m4 0h0m6 0h0m56 0h0m4 0h0m10 0h0m-90 2h0m2 0h0m2 0h0m6 0h0m16 0h0m12 0h0m22 0h0m-64 2h0m4 0h0m6 0h0m2 0h0m6 0h0m4 0h0m-16 2h0m4 0h0m2 0h0m4 0h0m2 0h0m36 0h0m-46 2h0m2 0h0m4 0h0m14 0h0m12 0h0m6 0h0m-42 2h0m4 0h0m4 0h0m6 0h0m6 0h0m158 0h0m-180 2h0m8 0h0m2 0h0m16 0h0m-26 2h0m2 0h0m2 0h0m4 0h0m2 0h0m2 0h0m2 0h0m30 0h0m6 0h0m-48 2h0m2 0h0m2 0h0m2 0h0m6 0h0m8 0h0m4 0h0m2 0h0m56 0h0m-84 2h0m2 0h0m2 0h0m2 0h0m2 0h0m2 0h0m4 0h0m4 0h0m2 0h0m8 0h0m6 0h0m24 0h0m16 0h0m-74 2h0m2 0h0m4 0h0m4 0h0m2 0h0m2 0h0m2 0h0m4 0h0m16 0h0m4 0h0m-42 2h0m2 0h0m2 0h0m8 0h0m2 0h0m2 0h0m4 0h0m6 0h0m2 0h0m8 0h0m2 0h0m12 0h0m14 0h0m36 0h0m-94 2h0m2 0h0m2 0h0m2 0h0m2 0h0m2 0h0m2 0h0m24 0h0m6 0h0m-48 2h0m2 0h0m2 0h0m2 0h0m2 0h0m2 0h0m2 0h0m2 0h0m2 0h0m10 0h0m10 0h0m2 0h0m36 0h0m50 0h0m-122 2h0m2 0h0m2 0h0m2 0h0m2 0h0m2 0h0m2 0h0m6 0h0m2 0h0m2 0h0m6 0h0m8 0h0m6 0h0m62 0h0m-106 2h0m2 0h0m2 0h0m6 0h0m2 0h0m2 0h0m2 0h0m2 0h0m2 0h0m10 0h0m4 0h0m6 0h0m6 0h0m20 0h0m6 0h0m4 0h0m-76 2h0m2 0h0m2 0h0m4 0h0m2 0h0m2 0h0m2 0h0m2 0h0m6 0h0m10 0h0m4 0h0m14 0h0m-48 2h0m2 0h0m2 0h0m2 0h0m2 0h0m2 0h0m4 0h0m2 0h0m2 0h0m30 0h0m4 0h0m2 0h0m12 0h0m-68 2h0m2 0h0m2 0h0m2 0h0m2 0h0m2 0h0m2 0h0m2 0h0m2 0h0m6 0h0m2 0h0m6 0h0m2 0h0m4 0h0m8 0h0m14 0h0m10 0h0m-66 2h0m2 0h0m2 0h0m2 0h0m2 0h0m2 0h0m2 0h0m12 0h0m30 0h0m22 0h0m-78 2h0m2 0h0m2 0h0m2 0h0m6 0h0m2 0h0m2 0h0m2 0h0m2 0h0m4 0h0m14 0h0m16 0h0m16 0h0m-68 2h0m2 0h0m2 0h0m2 0h0m2 0h0m2 0h0m2 0h0m2 0h0m4 0h0m6 0h0m52 0h0m-78 2h0m2 0h0m2 0h0m2 0h0m2 0h0m2 0h0m2 0h0m2 0h0m2 0h0m6 0h0m2 0h0m4 0h0m10 0h0m4 0h0m8 0h0m-50 2h0m2 0h0m4 0h0m2 0h0m2 0h0m2 0h0m2 0h0m2 0h0m8 0h0m2 0h0m2 0h0m6 0h0m-34 2h0m2 0h0m2 0h0m2 0h0m2 0h0m4 0h0m2 0h0m2 0h0m2 0h0m2 0h0m2 0h0m6 0h0m2 0h0m4 0h0m32 0h0m28 0h0m28 0h0m10 0h0m-132 2h0m2 0h0m2 0h0m2 0h0m2 0h0m2 0h0m2 0h0m2 0h0m2 0h0m2 0h0m2 0h0m4 0h0m2 0h0m6 0h0m2 0h0m10 0h0m2 0h0m4 0h0m14 0h0m-64 2h0m2 0h0m2 0h0m2 0h0m2 0h0m2 0h0m2 0h0m2 0h0m2 0h0m2 0h0m2 0h0m4 0h0m2 0h0m2 0h0m2 0h0m2 0h0m4 0h0m2 0h0m4 0h0m30 0h0m16 0h0m-88 2h0m2 0h0m2 0h0m2 0h0m2 0h0m2 0h0m2 0h0m2 0h0m2 0h0m2 0h0m2 0h0m2 0h0m6 0h0m2 0h0m10 0h0m2 0h0m2 0h0m6 0h0m-50 2h0m2 0h0m2 0h0m2 0h0m2 0h0m2 0h0m2 0h0m2 0h0m2 0h0m2 0h0m2 0h0m2 0h0m2 0h0m2 0h0m4 0h0m4 0h0m4 0h0m2 0h0m12 0h0m4 0h0m4 0h0m6 0h0m38 0h0m-104 2h0m2 0h0m2 0h0m2 0h0m2 0h0m2 0h0m2 0h0m2 0h0m2 0h0m2 0h0m4 0h0m2 0h0m2 0h0m2 0h0m2 0h0m4 0h0m2 0h0m2 0h0m2 0h0m12 0h0m2 0h0m4 0h0m-58 2h0m2 0h0m2 0h0m2 0h0m2 0h0m2 0h0m2 0h0m2 0h0m2 0h0m2 0h0m4 0h0m22 0h0m4 0h0m10 0h0m40 0h0m-84 2h0m2 0h0m2 0h0m28 0h0" stroke="#9a1c90" stroke-opacity="0.3" stroke-width="4" stroke-linecap="round" fill="none"/>
<path d="M1653 1239h0m12 40h0m8 64h0m-20 2h0m-4 4h0m18 2h0m-24 2h0m6 2h0m12 0h0m26 0h0m26 2h0m-68 2h0m88 2h0m-94 2h0m96 0h0m-72 2h0m-26 2h0m2 0h0m12 0h0m10 2h0m-22 2h0m0 2h0m4 0h0m2 0h0m2 0h0m8 0h0m8 0h0m2 0h0m20 0h0m24 0h0m-66 2h0m28 0h0m92 0h0m-122 2h0m4 0h0m4 0h0m86 0h0m-98 2h0m18 0h0m30 0h0m-46 2h0m2 0h0m10 0h0m6 0h0m-18 2h0m12 0h0m26 0h0m8 0h0m-48 2h0m12 0h0m6 0h0m4 0h0m4 0h0m8 0h0m16 0h0m-46 2h0m4 0h0m2 0h0m2 0h0m2 0h0m48 0h0m-58 2h0m4 0h0m2 0h0m2 0h0m14 0h0m30 0h0m-54 2h0m6 0h0m6 0h0m2 0h0m38 0h0m-48 2h0m2 0h0m2 0h0m10 0h0m-12 2h0m2 0h0m4 0h0m2 0h0m34 0h0m-42 2h0m2 0h0m2 0h0m2 0h0m8 0h0m4 0h0m6 0h0m4 0h0m4 0h0m14 0h0m50 0h0m-104 2h0m8 0h0m6 0h0m4 0h0m4 0h0m2 0h0m-20 2h0m2 0h0m6 0h0m2 0h0m6 0h0m2 0h0m14 0h0m6 0h0m8 0h0m2 0h0m40 0h0m-90 2h0m2 0h0m2 0h0m2 0h0m2 0h0m2 0h0m4 0h0m2 0h0m4 0h0m2 0h0m2 0h0m26 0h0m62 0h0m-112 2h0m2 0h0m2 0h0m2 0h0m2 0h0m2 0h0m4 0h0m2 0h0m10 0h0m18 0h0m8 0h0m14 0h0m-64 2h0m4 0h0m4 0h0m4 0h0m2 0h0m4 0h0m2 0h0m4 0h0m-28 2h0m2 0h0m2 0h0m4 0h0m2 0h0m2 0h0m2 0h0m2 0h0m2 0h0m8 0h0m4 0h0m2 0h0m2 0h0m24 0h0m30 0h0m-88 2h0m4 0h0m2 0h0m4 0h0m2 0h0m2 0h0m2 0h0m4 0h0m2 0h0m4 0h0m38 0h0m-64 2h0m2 0h0m2 0h0m2 0h0m2 0h0m6 0h0m2 0h0m4 0h0m12 0h0m4 0h0m24 0h0m-58 2h0m2 0h0m2 0h0m2 0h0m2 0h0m2 0h0m2 0h0m6 0h0m2 0h0m4 0h0m4 0h0m4 0h0m8 0h0m32 0h0m-74 2h0m2 0h0m2 0h0m2 0h0m2 0h0m2 0h0m2 0h0m2 0h0m2 0h0m6 0h0m4 0h0m4 0h0m10 0h0m2 0h0m20 0h0m2 0h0m44 0h0m-108 2h0m2 0h0m2 0h0m2 0h0m4 0h0m2 0h0m4 0h0m4 0h0m4 0h0m6 0h0m12 0h0m2 0h0m20 0h0m28 0h0m12 0h0m10 0h0m-114 2h0m2 0h0m2 0h0m2 0h0m2 0h0m2 0h0m2 0h0m2 0h0m16 0h0m10 0h0m2 0h0m4 0h0m4 0h0m6 0h0m72 0h0m32 0h0m-160 2h0m2 0h0m2 0h0m2 0h0m2 0h0m4 0h0m2 0h0m2 0h0m2 0h0m4 0h0m2 0h0m4 0h0m4 0h0m12 0h0m10 0h0m2 0h0m-54 2h0m2 0h0m4 0h0m2 0h0m2 0h0m2 0h0m2 0h0m2 0h0m2 0h0m8 0h0m2 0h0m4 0h0m16 0h0m2 0h0m4 0h0m4 0h0m-60 2h0m2 0h0m2 0h0m2 0h0m2 0h0m2 0h0m2 0h0m2 0h0m2 0h0m6 0h0m2 0h0m2 0h0m8 0h0m4 0h0m32 0h0m-68 2h0m2 0h0m2 0h0m2 0h0m2 0h0m2 0h0m2 0h0m2 0h0m4 0h0m8 0h0m2 0h0m6 0h0m2 0h0m30 0h0m10 0h0m30 0h0m-108 2h0m2 0h0m2 0h0m2 0h0m2 0h0m2 0h0m2 0h0m2 0h0m2 0h0m8 0h0m6 0h0m2 0h0m8 0h0m6 0h0m18 0h0m18 0h0m-82 2h0m2 0h0m2 0h0m2 0h0m2 0h0m2 0h0m2 0h0m4 0h0m2 0h0m2 0h0m6 0h0m6 0h0m2 0h0m6 0h0m6 0h0m14 0h0m2 0h0m14 0h0m4 0h0m24 0h0m4 0h0m-108 2h0m2 0h0m2 0h0m2 0h0m2 0h0m2 0h0m2 0h0m2 0h0m2 0h0m6 0h0m2 0h0m2 0h0m4 0h0m2 0h0m2 0h0m6 0h0m28 0h0m18 0h0m4 0h0m24 0h0m-114 2h0m2 0h0m2 0h0m2 0h0m2 0h0m2 0h0m2 0h0m2 0h0m2 0h0m4 0h0m6 0h0m4 0h0m2 0h0m2 0h0m10 0h0m6 0h0m12 0h0m20 0h0m-82 2h0m2 0h0m2 0h0m2 0h0m2 0h0m2 0h0m2 0h0m2 0h0m2 0h0m2 0h0m4 0h0m2 0h0m2 0h0m4 0h0m6 0h0m6 0h0m4 0h0m4 0h0m4 0h0m12 0h0m-66 2h0m2 0h0m2 0h0m2 0h0m2 0h0m2 0h0m2 0h0m2 0h0m2 0h0m6 0h0m6 0h0m2 0h0m8 0h0m2 0h0m4 0h0m2 0h0m2 0h0m6 0h0m-54 2h0m2 0h0m2 0h0m2 0h0m2 0h0m2 0h0m2 0h0m2 0h0m2 0h0m2 0h0m2 0h0m6 0h0m6 0h0m6 0h0m4 0h0m4 0h0m24 0h0m4 0h0m-74 2h0m2 0h0m2 0h0m2 0h0m2 0h0m2 0h0m2 0h0m2 0h0m2 0h0m2 0h0m2 0h0m2 0h0m2 0h0m2 0h0m4 0h0m2 0h0m6 0h0m10 0h0m8 0h0m14 0h0m-66 2h0m6 0h0m4 0h0m16 0h0m6 0h0m30 0h0" stroke="#9a1c90" stroke-opacity="0.3" stroke-width="4" stroke-linecap="round" fill="none"/>
<path d="M1649 1263h0m2 18h0m24 20h0m-24 2h0m14 8h0m-6 18h0m-2 10h0m10 2h0m-18 6h0m-8 2h0m4 0h0m20 0h0m-12 6h0m-4 2h0m6 0h0m20 0h0m-18 2h0m10 0h0m48 0h0m-76 2h0m4 2h0m-4 2h0m8 0h0m2 0h0m8 0h0m16 0h0m-2 2h0m2 0h0m-34 2h0m20 2h0m8 0h0m4 0h0m2 0h0m-34 2h0m8 0h0m28 0h0m18 0h0m-50 2h0m2 0h0m4 0h0m16 0h0m-22 2h0m8 0h0m6 0h0m44 0h0m-60 2h0m6 0h0m12 0h0m10 0h0m-18 2h0m0 2h0m2 0h0m8 0h0m4 0h0m12 0h0m4 0h0m-40 2h0m6 0h0m20 0h0m-26 2h0m4 0h0m2 0h0m4 0h0m2 0h0m10 0h0m16 0h0m38 0h0m-78 2h0m2 0h0m2 0h0m2 0h0m2 0h0m6 0h0m16 2h0m-26 2h0m6 0h0m2 0h0m2 0h0m2 0h0m2 0h0m18 0h0m20 0h0m-56 2h0m2 0h0m4 0h0m2 0h0m6 0h0m2 0h0m2 0h0m36 0h0m-56 2h0m2 0h0m2 0h0m16 0h0m2 0h0m2 0h0m2 0h0m-22 2h0m2 0h0m6 0h0m2 0h0m2 0h0m4 0h0m4 0h0m6 0h0m14 0h0m-38 2h0m2 0h0m2 0h0m2 0h0m2 0h0m6 0h0m2 0h0m6 0h0m12 0h0m20 0h0m34 0h0m-92 2h0m6 0h0m2 0h0m2 0h0m2 0h0m2 0h0m2 0h0m20 0h0m2 0h0m16 0h0m16 0h0m-70 2h0m8 0h0m2 0h0m6 0h0m14 0h0m26 0h0m42 0h0m30 0h0m-128 2h0m4 0h0m2 0h0m2 0h0m2 0h0m2 0h0m4 0h0m4 0h0m2 0h0m20 0h0m24 0h0m-66 2h0m2 0h0m2 0h0m2 0h0m2 0h0m2 0h0m2 0h0m2 0h0m8 0h0m24 0h0m12 0h0m-60 2h0m2 0h0m2 0h0m2 0h0m2 0h0m2 0h0m2 0h0m2 0h0m2 0h0m2 0h0m10 0h0m10 0h0m-36 2h0m4 0h0m2 0h0m2 0h0m4 0h0m14 0h0m2 0h0m2 0h0m26 0h0m-58 2h0m6 0h0m2 0h0m6 0h0m2 0h0m2 0h0m4 0h0m4 0h0m-24 2h0m2 0h0m2 0h0m2 0h0m2 0h0m2 0h0m2 0h0m2 0h0m36 0h0m32 0h0m-82 2h0m2 0h0m2 0h0m2 0h0m2 0h0m2 0h0m2 0h0m2 0h0m2 0h0m2 0h0m6 0h0m8 0h0m20 0h0m18 0h0m-72 2h0m2 0h0m2 0h0m2 0h0m2 0h0m2 0h0m2 0h0m4 0h0m4 0h0m16 0h0m16 0h0m68 0h0m16 0h0m-136 2h0m2 0h0m2 0h0m2 0h0m2 0h0m2 0h0m2 0h0m2 0h0m2 0h0m2 0h0m2 0h0m2 0h0m14 0h0m6 0h0m18 0h0m16 0h0m14 0h0m-90 2h0m2 0h0m2 0h0m2 0h0m2 0h0m2 0h0m2 0h0m2 0h0m2 0h0m2 0h0m6 0h0m2 0h0m4 0h0m2 0h0m6 0h0m12 0h0m4 0h0m6 0h0m12 0h0m8 0h0m-80 2h0m2 0h0m2 0h0m2 0h0m4 0h0m2 0h0m2 0h0m2 0h0m2 0h0m4 0h0m4 0h0m8 0h0m10 0h0m4 0h0m2 0h0m2 0h0m-52 2h0m2 0h0m2 0h0m2 0h0m2 0h0m2 0h0m2 0h0m2 0h0m2 0h0m6 0h0m2 0h0m6 0h0m4 0h0m2 0h0m2 0h0m2 0h0m2 0h0m2 0h0m2 0h0m18 0h0m4 0h0m-68 2h0m2 0h0m2 0h0m2 0h0m2 0h0m2 0h0m2 0h0m2 0h0m2 0h0m2 0h0m8 0h0m6 0h0m2 0h0m2 0h0m4 0h0m8 0h0m8 0h0m4 0h0m2 0h0m2 0h0m-64 2h0m2 0h0m2 0h0m2 0h0m2 0h0m2 0h0m2 0h0m2 0h0m2 0h0m8 0h0m2 0h0m10 0h0m10 0h0m2 0h0m2 0h0m2 0h0m8 0h0m8 0h0m8 0h0m-76 2h0m2 0h0m2 0h0m2 0h0m2 0h0m2 0h0m2 0h0m2 0h0m2 0h0m2 0h0m2 0h0m2 0h0m6 0h0m6 0h0m4 0h0m10 0h0m2 0h0m6 0h0m2 0h0m2 0h0m8 0h0m-68 2h0m2 0h0m2 0h0m2 0h0m2 0h0m2 0h0m2 0h0m2 0h0m2 0h0m2 0h0m2 0h0m2 0h0m2 0h0m6 0h0m8 0h0m2 0h0m6 0h0m14 0h0m2 0h0m2 0h0m18 0h0m-82 2h0m2 0h0m2 0h0m2 0h0m2 0h0m2 0h0m2 0h0m2 0h0m2 0h0m4 0h0m6 0h0m14 0h0m6 0h0m6 0h0m18 0h0m-70 2h0m2 0h0m2 0h0m2 0h0m2 0h0m2 0h0m2 0h0m2 0h0m2 0h0m2 0h0m2 0h0m2 0h0m2 0h0m10 0h0m2 0h0m4 0h0m2 0h0m6 0h0m2 0h0m2 0h0m14 0h0m12 0h0m-78 2h0m2 0h0m2 0h0m2 0h0m2 0h0m2 0h0m2 0h0m2 0h0m2 0h0m2 0h0m2 0h0m2 0h0m2 0h0m2 0h0m4 0h0m4 0h0m6 0h0m2 0h0m2 0h0m4 0h0m2 0h0m128 0h0m-178 2h0m2 0h0m2 0h0m2 0h0m2 0h0m2 0h0m2 0h0m2 0h0m2 0h0m2 0h0m4 0h0m2 0h0m2 0h0m2 0h0m2 0h0m10 0h0m10 0h0m18 0h0m-66 2h0m8 0h0m2 0h0m4 0h0m14 0h0m30 0h0" stroke="#9a1c90" stroke-opacity="0.3" stroke-width="4" stroke-linecap="round" fill="none"/>
<path d="M1657 1249h0m18 0h0m-14 2h0m28 4h0m-10 8h0m-40 56h0m50 4h0m-22 8h0m-10 2h0m-20 4h0m50 6h0m-48 2h0m16 2h0m2 0h0m92 0h0m-108 2h0m20 0h0m26 2h0m-46 2h0m10 0h0m4 0h0m36 0h0m-18 2h0m-24 2h0m10 0h0m4 0h0m48 0h0m-24 2h0m-46 2h0m4 0h0m6 0h0m8 0h0m10 0h0m12 0h0m32 0h0m-64 2h0m20 0h0m-30 2h0m28 0h0m46 2h0m-76 2h0m28 0h0m-28 2h0m2 0h0m6 0h0m38 0h0m-42 2h0m4 0h0m22 0h0m-28 2h0m12 0h0m6 0h0m2 0h0m6 0h0m2 0h0m-22 2h0m8 0h0m12 0h0m-22 2h0m20 0h0m-8 2h0m18 0h0m14 0h0m-50 2h0m8 0h0m10 0h0m54 0h0m-72 2h0m4 0h0m4 0h0m4 0h0m2 0h0m46 0h0m2 0h0m24 0h0m-86 2h0m2 0h0m4 0h0m4 0h0m2 0h0m2 0h0m2 0h0m8 0h0m28 0h0m-50 2h0m6 0h0m24 0h0m-32 2h0m8 0h0m2 0h0m2 0h0m4 0h0m6 0h0m6 0h0m6 0h0m2 0h0m6 0h0m-42 2h0m4 0h0m2 0h0m6 0h0m4 0h0m14 0h0m44 0h0m-72 2h0m2 0h0m2 0h0m4 0h0m2 0h0m4 0h0m2 0h0m10 0h0m-18 2h0m2 0h0m4 0h0m18 0h0m10 0h0m8 0h0m-50 2h0m4 0h0m6 0h0m2 0h0m2 0h0m2 0h0m8 0h0m4 0h0m4 0h0m10 0h0m-42 2h0m4 0h0m2 0h0m2 0h0m6 0h0m10 0h0m20 0h0m-44 2h0m4 0h0m2 0h0m2 0h0m4 0h0m2 0h0m6 0h0m24 0h0m30 0h0m40 0h0m-116 2h0m4 0h0m12 0h0m4 0h0m2 0h0m2 0h0m22 0h0m12 0h0m-52 2h0m4 0h0m6 0h0m2 0h0m8 0h0m6 0h0m-30 2h0m6 0h0m4 0h0m2 0h0m28 0h0m6 0h0m4 0h0m24 0h0m-76 2h0m2 0h0m2 0h0m4 0h0m2 0h0m2 0h0m2 0h0m4 0h0m2 0h0m2 0h0m4 0h0m10 0h0m6 0h0m2 0h0m24 0h0m6 0h0m-70 2h0m2 0h0m2 0h0m2 0h0m2 0h0m2 0h0m2 0h0m10 0h0m10 0h0m2 0h0m40 0h0m-78 2h0m2 0h0m4 0h0m6 0h0m2 0h0m2 0h0m8 0h0m2 0h0m8 0h0m12 0h0m16 0h0m6 0h0m-66 2h0m2 0h0m2 0h0m2 0h0m2 0h0m2 0h0m2 0h0m2 0h0m20 0h0m28 0h0m26 0h0m-88 2h0m2 0h0m2 0h0m2 0h0m2 0h0m2 0h0m2 0h0m4 0h0m4 0h0m2 0h0m2 0h0m64 0h0m-90 2h0m4 0h0m2 0h0m2 0h0m2 0h0m2 0h0m2 0h0m2 0h0m2 0h0m6 0h0m26 0h0m2 0h0m16 0h0m-66 2h0m2 0h0m2 0h0m2 0h0m2 0h0m2 0h0m2 0h0m2 0h0m2 0h0m2 0h0m2 0h0m4 0h0m2 0h0m6 0h0m28 0h0m14 0h0m10 0h0m-86 2h0m2 0h0m2 0h0m2 0h0m2 0h0m2 0h0m2 0h0m2 0h0m2 0h0m6 0h0m4 0h0m2 0h0m2 0h0m2 0h0m4 0h0m8 0h0m2 0h0m2 0h0m-48 2h0m2 0h0m2 0h0m2 0h0m2 0h0m2 0h0m2 0h0m2 0h0m2 0h0m2 0h0m2 0h0m14 0h0m4 0h0m24 0h0m-62 2h0m2 0h0m2 0h0m2 0h0m2 0h0m2 0h0m2 0h0m2 0h0m2 0h0m2 0h0m2 0h0m4 0h0m4 0h0m4 0h0m14 0h0m2 0h0m26 0h0m-74 2h0m2 0h0m2 0h0m2 0h0m2 0h0m2 0h0m2 0h0m2 0h0m2 0h0m8 0h0m8 0h0m16 0h0m2 0h0m-50 2h0m2 0h0m2 0h0m2 0h0m2 0h0m2 0h0m2 0h0m2 0h0m2 0h0m2 0h0m6 0h0m4 0h0m2 0h0m2 0h0m6 0h0m6 0h0m6 0h0m32 0h0m-82 2h0m2 0h0m2 0h0m2 0h0m2 0h0m2 0h0m2 0h0m2 0h0m2 0h0m6 0h0m4 0h0m20 0h0m34 0h0m4 0h0m-82 2h0m2 0h0m2 0h0m2 0h0m2 0h0m2 0h0m2 0h0m2 0h0m2 0h0m2 0h0m2 0h0m2 0h0m2 0h0m6 0h0m10 0h0m10 0h0m-52 2h0m2 0h0m2 0h0m2 0h0m2 0h0m2 0h0m2 0h0m2 0h0m2 0h0m2 0h0m2 0h0m4 0h0m4 0h0m4 0h0m24 0h0m44 0h0m-100 2h0m2 0h0m2 0h0m2 0h0m2 0h0m2 0h0m2 0h0m2 0h0m2 0h0m2 0h0m2 0h0m4 0h0m2 0h0m2 0h0m4 0h0m2 0h0m10 0h0m28 0h0m40 0h0m50 0h0m-162 2h0m2 0h0m2 0h0m2 0h0m2 0h0m2 0h0m2 0h0m2 0h0m2 0h0m2 0h0m2 0h0m2 0h0m2 0h0m4 0h0m8 0h0m2 0h0m2 0h0m10 0h0m4 0h0m4 0h0m4 0h0m8 0h0m4 0h0m6 0h0m-80 2h0m2 0h0m2 0h0m2 0h0m2 0h0m2 0h0m2 0h0m2 0h0m2 0h0m4 0h0m2 0h0m2 0h0m4 0h0m2 0h0m18 0h0m4 0h0m2 0h0m4 0h0m42 0h0m-100 2h0m2 0h0m6 0h0m6 0h0m32 0h0m48 0h0" stroke="#9a1c90" stroke-opacity="0.3" stroke-width="4" stroke-linecap="round" fill="none"/>
<path d="M1715 1397h0m6 4h0m-12 10h0m4 2h0m0 6h0m44 2h0m-50 2h0m42 0h0m-40 4h0m-6 4h0m0 2h0m50 0h0m-40 2h0m12 0h0m18 0h0m46 0h0m-58 2h0m18 0h0m-24 2h0m4 0h0m20 0h0m26 0h0m2 0h0m-64 2h0m18 0h0m4 0h0m12 0h0m6 2h0m-46 2h0m6 0h0m24 0h0m4 0h0m-86 2h0m2 0h0m2 0h0m2 0h0m2 0h0m2 0h0m2 0h0m2 0h0m2 0h0m2 0h0m2 0h0m2 0h0m2 0h0m2 0h0m8 0h0m2 0h0m6 0h0m10 0h0m2 0h0m4 0h0m2 0h0m4 0h0m8 0h0m-72 2h0m2 0h0m2 0h0m2 0h0m2 0h0m2 0h0m2 0h0m2 0h0m2 0h0m2 0h0m2 0h0m2 0h0m4 0h0m2 0h0m2 0h0m2 0h0m2 0h0m8 0h0m2 0h0m4 0h0m2 0h0m2 0h0m6 0h0m4 0h0m4 0h0m2 0h0m2 0h0m2 0h0m20 0h0m8 0h0m14 0h0m-114 2h0m2 0h0m2 0h0m2 0h0m2 0h0m2 0h0m2 0h0m2 0h0m2 0h0m2 0h0m2 0h0m2 0h0m2 0h0m2 0h0m2 0h0m2 0h0m2 0h0m4 0h0m2 0h0m2 0h0m2 0h0m2 0h0m4 0h0m8 0h0m10 0h0m20 0h0m2 0h0m4 0h0m8 0h0m-100 2h0m2 0h0m2 0h0m2 0h0m2 0h0m2 0h0m2 0h0m2 0h0m2 0h0m2 0h0m2 0h0m2 0h0m2 0h0m2 0h0m2 0h0m2 0h0m2 0h0m2 0h0m2 0h0m2 0h0m4 0h0m2 0h0m2 0h0m4 0h0m2 0h0m6 0h0m2 0h0m2 0h0m2 0h0m4 0h0m28 0h0m2 0h0m68 0h0m-166 2h0m2 0h0m2 0h0m2 0h0m2 0h0m2 0h0m2 0h0m2 0h0m2 0h0m2 0h0m2 0h0m2 0h0m2 0h0m2 0h0m2 0h0m2 0h0m2 0h0m2 0h0m6 0h0m4 0h0m2 0h0m2 0h0m2 0h0m2 0h0m2 0h0m6 0h0m4 0h0m12 0h0m22 0h0m8 0h0m30 0h0m-136 2h0m2 0h0m2 0h0m2 0h0m2 0h0m2 0h0m2 0h0m2 0h0m2 0h0m2 0h0m2 0h0m2 0h0m2 0h0m4 0h0m2 0h0m2 0h0m4 0h0m2 0h0m2 0h0m4 0h0m2 0h0m2 0h0m2 0h0m2 0h0m2 0h0m6 0h0m2 0h0m4 0h0m2 0h0m2 0h0m2 0h0m4 0h0m14 0h0m22 0h0m28 0h0m-140 2h0m2 0h0m2 0h0m2 0h0m2 0h0m2 0h0m2 0h0m2 0h0m2 0h0m2 0h0m2 0h0m2 0h0m2 0h0m2 0h0m2 0h0m2 0h0m2 0h0m2 0h0m2 0h0m2 0h0m2 0h0m2 0h0m4 0h0m2 0h0m4 0h0m2 0h0m12 0h0m6 0h0m16 0h0m16 0h0m44 0h0m-148 2h0m2 0h0m2 0h0m2 0h0m2 0h0m2 0h0m2 0h0m2 0h0m2 0h0m2 0h0m2 0h0m2 0h0m2 0h0m2 0h0m2 0h0m2 0h0m2 0h0m2 0h0m4 0h0m2 0h0m2 0h0m4 0h0m2 0h0m2 0h0m2 0h0m6 0h0m2 0h0m4 0h0m48 0h0m26 0h0m-138 2h0m2 0h0m2 0h0m2 0h0m2 0h0m2 0h0m2 0h0m2 0h0m2 0h0m2 0h0m2 0h0m2 0h0m2 0h0m2 0h0m2 0h0m2 0h0m2 0h0m2 0h0m2 0h0m2 0h0m4 0h0m8 0h0m2 0h0m2 0h0m6 0h0m14 0h0m16 0h0" stroke="#2d6a2a" stroke-opacity="0.32" stroke-width="4" stroke-linecap="round" fill="none"/>
<path d="M1779 1399h0m-44 6h0m-32 16h0m138 2h0m-108 2h0m-22 2h0m-2 2h0m22 0h0m-28 4h0m14 0h0m4 0h0m8 0h0m34 0h0m18 2h0m-42 2h0m2 0h0m20 0h0m-24 4h0m-4 2h0m6 0h0m-30 2h0m6 0h0m16 0h0m-76 2h0m2 0h0m2 0h0m2 0h0m2 0h0m2 0h0m2 0h0m2 0h0m2 0h0m2 0h0m2 0h0m2 0h0m2 0h0m2 0h0m4 0h0m4 0h0m2 0h0m2 0h0m2 0h0m4 0h0m2 0h0m2 0h0m6 0h0m4 0h0m2 0h0m8 0h0m18 0h0m-86 2h0m2 0h0m2 0h0m2 0h0m2 0h0m2 0h0m2 0h0m2 0h0m2 0h0m2 0h0m2 0h0m2 0h0m2 0h0m2 0h0m4 0h0m4 0h0m2 0h0m2 0h0m2 0h0m2 0h0m4 0h0m4 0h0m2 0h0m2 0h0m2 0h0m6 0h0m4 0h0m28 0h0m4 0h0m2 0h0m-100 2h0m2 0h0m2 0h0m2 0h0m2 0h0m2 0h0m2 0h0m2 0h0m2 0h0m2 0h0m2 0h0m2 0h0m2 0h0m2 0h0m2 0h0m2 0h0m2 0h0m2 0h0m2 0h0m2 0h0m2 0h0m2 0h0m2 0h0m2 0h0m2 0h0m4 0h0m4 0h0m4 0h0m4 0h0m2 0h0m4 0h0m2 0h0m8 0h0m68 0h0m-148 2h0m2 0h0m2 0h0m2 0h0m2 0h0m2 0h0m2 0h0m2 0h0m2 0h0m2 0h0m2 0h0m2 0h0m2 0h0m2 0h0m2 0h0m2 0h0m2 0h0m2 0h0m2 0h0m4 0h0m2 0h0m2 0h0m2 0h0m4 0h0m2 0h0m2 0h0m2 0h0m6 0h0m2 0h0m2 0h0m2 0h0m14 0h0m-82 2h0m2 0h0m2 0h0m2 0h0m2 0h0m2 0h0m2 0h0m2 0h0m2 0h0m4 0h0m2 0h0m2 0h0m2 0h0m2 0h0m4 0h0m2 0h0m2 0h0m2 0h0m2 0h0m4 0h0m6 0h0m2 0h0m2 0h0m4 0h0m2 0h0m8 0h0m4 0h0m4 0h0m2 0h0m6 0h0m-84 2h0m2 0h0m2 0h0m2 0h0m2 0h0m2 0h0m2 0h0m2 0h0m2 0h0m2 0h0m2 0h0m2 0h0m4 0h0m2 0h0m2 0h0m2 0h0m2 0h0m2 0h0m2 0h0m2 0h0m2 0h0m2 0h0m2 0h0m2 0h0m4 0h0m2 0h0m6 0h0m6 0h0m12 0h0m12 0h0m46 0h0m-136 2h0m2 0h0m2 0h0m2 0h0m2 0h0m2 0h0m2 0h0m2 0h0m2 0h0m2 0h0m2 0h0m2 0h0m2 0h0m2 0h0m2 0h0m6 0h0m2 0h0m2 0h0m2 0h0m2 0h0m2 0h0m2 0h0m4 0h0m2 0h0m2 0h0m2 0h0m8 0h0m4 0h0m2 0h0m6 0h0m26 0h0m12 0h0m-114 2h0m2 0h0m2 0h0m2 0h0m2 0h0m2 0h0m2 0h0m2 0h0m2 0h0m2 0h0m2 0h0m2 0h0m2 0h0m2 0h0m2 0h0m2 0h0m2 0h0m2 0h0m2 0h0m2 0h0m2 0h0m6 0h0m2 0h0m2 0h0m2 0h0m4 0h0m2 0h0m8 0h0m2 0h0m18 0h0m34 0h0m-120 2h0m2 0h0m2 0h0m2 0h0m2 0h0m2 0h0m2 0h0m4 0h0m2 0h0m4 0h0m2 0h0m2 0h0m2 0h0m8 0h0m2 0h0m2 0h0m6 0h0m2 0h0m16 0h0" stroke="#2d6a2a" stroke-opacity="0.32" stroke-width="4" stroke-linecap="round" fill="none"/>
<path d="M1745 1387h0m-28 14h0m0 16h0m52 0h0m-58 8h0m16 2h0m36 2h0m-58 2h0m28 0h0m-30 4h0m38 0h0m-34 2h0m8 0h0m30 0h0m-44 2h0m44 0h0m-20 2h0m8 0h0m30 0h0m-58 2h0m4 0h0m12 0h0m10 0h0m36 0h0m-38 2h0m20 0h0m8 0h0m-102 2h0m2 0h0m2 0h0m2 0h0m2 0h0m2 0h0m6 0h0m4 0h0m2 0h0m2 0h0m2 0h0m4 0h0m2 0h0m8 0h0m2 0h0m8 0h0m4 0h0m2 0h0m6 0h0m8 0h0m8 0h0m2 0h0m18 0h0m-98 2h0m2 0h0m2 0h0m2 0h0m2 0h0m2 0h0m2 0h0m2 0h0m2 0h0m2 0h0m2 0h0m2 0h0m2 0h0m2 0h0m2 0h0m2 0h0m2 0h0m2 0h0m2 0h0m2 0h0m2 0h0m2 0h0m2 0h0m2 0h0m6 0h0m2 0h0m4 0h0m6 0h0m2 0h0m10 0h0m4 0h0m26 0h0m8 0h0m-114 2h0m2 0h0m2 0h0m2 0h0m2 0h0m2 0h0m2 0h0m2 0h0m2 0h0m2 0h0m2 0h0m2 0h0m2 0h0m2 0h0m2 0h0m4 0h0m2 0h0m2 0h0m2 0h0m2 0h0m2 0h0m2 0h0m2 0h0m2 0h0m2 0h0m6 0h0m4 0h0m4 0h0m4 0h0m6 0h0m34 0h0m20 0h0m-128 2h0m2 0h0m2 0h0m2 0h0m2 0h0m2 0h0m2 0h0m2 0h0m2 0h0m2 0h0m2 0h0m2 0h0m4 0h0m2 0h0m2 0h0m2 0h0m2 0h0m2 0h0m2 0h0m2 0h0m2 0h0m4 0h0m6 0h0m6 0h0m4 0h0m2 0h0m2 0h0m12 0h0m6 0h0m4 0h0m20 0h0m16 0h0m-124 2h0m2 0h0m2 0h0m2 0h0m2 0h0m2 0h0m2 0h0m2 0h0m4 0h0m2 0h0m2 0h0m2 0h0m2 0h0m2 0h0m2 0h0m4 0h0m4 0h0m2 0h0m2 0h0m2 0h0m4 0h0m6 0h0m4 0h0m2 0h0m26 0h0m14 0h0m6 0h0m40 0h0m-146 2h0m2 0h0m2 0h0m2 0h0m2 0h0m2 0h0m2 0h0m2 0h0m2 0h0m2 0h0m2 0h0m2 0h0m2 0h0m2 0h0m2 0h0m2 0h0m2 0h0m2 0h0m2 0h0m2 0h0m2 0h0m4 0h0m2 0h0m4 0h0m2 0h0m4 0h0m6 0h0m2 0h0m6 0h0m18 0h0m2 0h0m8 0h0m16 0h0m-114 2h0m2 0h0m2 0h0m2 0h0m2 0h0m2 0h0m2 0h0m2 0h0m2 0h0m2 0h0m2 0h0m2 0h0m2 0h0m2 0h0m2 0h0m2 0h0m2 0h0m2 0h0m4 0h0m2 0h0m2 0h0m2 0h0m4 0h0m2 0h0m2 0h0m6 0h0m2 0h0m6 0h0m2 0h0m2 0h0m16 0h0m-86 2h0m2 0h0m2 0h0m2 0h0m2 0h0m2 0h0m2 0h0m2 0h0m2 0h0m2 0h0m2 0h0m2 0h0m2 0h0m4 0h0m2 0h0m2 0h0m2 0h0m4 0h0m2 0h0m2 0h0m2 0h0m2 0h0m4 0h0m2 0h0m8 0h0m4 0h0m2 0h0m4 0h0m6 0h0m8 0h0m64 0h0m-148 2h0m2 0h0m2 0h0m2 0h0m2 0h0m2 0h0m2 0h0m2 0h0m2 0h0m2 0h0m2 0h0m2 0h0m2 0h0m2 0h0m2 0h0m2 0h0m2 0h0m2 0h0m2 0h0m4 0h0m2 0h0m2 0h0m8 0h0m6 0h0m16 0h0m64 0h0" stroke="#2d6a2a" stroke-opacity="0.32" stroke-width="4" stroke-linecap="round" fill="none"/>
<path d="M1767 1367h0m-36 34h0m-20 8h0m86 6h0m-44 4h0m-50 6h0m2 2h0m10 0h0m2 2h0m14 0h0m74 0h0m-96 2h0m2 0h0m104 2h0m-114 2h0m4 2h0m44 0h0m-36 2h0m56 0h0m-66 2h0m2 0h0m12 0h0m-6 4h0m22 0h0m40 0h0m72 0h0m-190 2h0m2 0h0m2 0h0m2 0h0m2 0h0m2 0h0m2 0h0m2 0h0m2 0h0m2 0h0m2 0h0m4 0h0m2 0h0m4 0h0m2 0h0m2 0h0m4 0h0m10 0h0m2 0h0m20 0h0m2 0h0m32 0h0m50 0h0m-154 2h0m2 0h0m2 0h0m2 0h0m2 0h0m2 0h0m2 0h0m2 0h0m2 0h0m2 0h0m2 0h0m2 0h0m2 0h0m2 0h0m2 0h0m2 0h0m2 0h0m2 0h0m2 0h0m2 0h0m2 0h0m2 0h0m2 0h0m2 0h0m2 0h0m4 0h0m4 0h0m6 0h0m2 0h0m4 0h0m8 0h0m-76 2h0m2 0h0m2 0h0m2 0h0m2 0h0m2 0h0m2 0h0m2 0h0m2 0h0m2 0h0m2 0h0m4 0h0m2 0h0m2 0h0m2 0h0m2 0h0m2 0h0m2 0h0m2 0h0m2 0h0m2 0h0m2 0h0m2 0h0m2 0h0m2 0h0m8 0h0m2 0h0m4 0h0m2 0h0m4 0h0m2 0h0m2 0h0m16 0h0m10 0h0m4 0h0m6 0h0m14 0h0m4 0h0m-128 2h0m2 0h0m2 0h0m2 0h0m2 0h0m2 0h0m2 0h0m2 0h0m2 0h0m2 0h0m2 0h0m2 0h0m2 0h0m2 0h0m2 0h0m2 0h0m2 0h0m2 0h0m2 0h0m2 0h0m2 0h0m2 0h0m4 0h0m6 0h0m2 0h0m2 0h0m2 0h0m2 0h0m4 0h0m8 0h0m6 0h0m8 0h0m-86 2h0m2 0h0m2 0h0m2 0h0m2 0h0m2 0h0m2 0h0m2 0h0m2 0h0m2 0h0m2 0h0m2 0h0m2 0h0m2 0h0m2 0h0m2 0h0m2 0h0m2 0h0m2 0h0m4 0h0m2 0h0m2 0h0m2 0h0m4 0h0m6 0h0m8 0h0m2 0h0m8 0h0m14 0h0m6 0h0m6 0h0m-100 2h0m2 0h0m2 0h0m2 0h0m2 0h0m2 0h0m2 0h0m2 0h0m2 0h0m2 0h0m2 0h0m2 0h0m4 0h0m2 0h0m2 0h0m2 0h0m2 0h0m2 0h0m2 0h0m4 0h0m4 0h0m2 0h0m8 0h0m6 0h0m8 0h0m16 0h0m4 0h0m4 0h0m-94 2h0m2 0h0m2 0h0m2 0h0m2 0h0m2 0h0m2 0h0m2 0h0m2 0h0m2 0h0m2 0h0m2 0h0m2 0h0m2 0h0m2 0h0m2 0h0m2 0h0m4 0h0m2 0h0m2 0h0m2 0h0m4 0h0m2 0h0m2 0h0m2 0h0m4 0h0m4 0h0m2 0h0m10 0h0m10 0h0m4 0h0m16 0h0m-102 2h0m2 0h0m2 0h0m2 0h0m2 0h0m2 0h0m2 0h0m2 0h0m2 0h0m2 0h0m2 0h0m2 0h0m2 0h0m2 0h0m2 0h0m2 0h0m2 0h0m2 0h0m2 0h0m2 0h0m4 0h0m2 0h0m4 0h0m2 0h0m2 0h0m2 0h0m4 0h0m4 0h0m2 0h0m6 0h0m30 0h0m6 0h0m10 0h0m-116 2h0m2 0h0m2 0h0m2 0h0m2 0h0m2 0h0m2 0h0m2 0h0m2 0h0m2 0h0m2 0h0m2 0h0m2 0h0m2 0h0m2 0h0m2 0h0m6 0h0m2 0h0m2 0h0m6 0h0m4 0h0m2 0h0m4 0h0m20 0h0m24 0h0" stroke="#2d6a2a" stroke-opacity="0.32" stroke-width="4" stroke-linecap="round" fill="none"/>
<path d="M1779 1395h0m-32 12h0m-2 6h0m-44 18h0m4 2h0m6 0h0m20 0h0m-28 2h0m10 0h0m6 0h0m14 0h0m0 2h0m10 0h0m-32 2h0m40 0h0m8 2h0m6 2h0m20 0h0m16 0h0m8 0h0m-92 2h0m2 0h0m16 0h0m66 0h0m-146 2h0m2 0h0m2 0h0m2 0h0m2 0h0m2 0h0m2 0h0m2 0h0m2 0h0m2 0h0m2 0h0m2 0h0m8 0h0m2 0h0m4 0h0m4 0h0m2 0h0m4 0h0m2 0h0m18 0h0m4 0h0m30 0h0m-100 2h0m2 0h0m2 0h0m2 0h0m2 0h0m2 0h0m2 0h0m2 0h0m2 0h0m2 0h0m2 0h0m2 0h0m2 0h0m2 0h0m2 0h0m2 0h0m2 0h0m4 0h0m2 0h0m2 0h0m2 0h0m4 0h0m2 0h0m2 0h0m2 0h0m4 0h0m2 0h0m8 0h0m6 0h0m10 0h0m4 0h0m20 0h0m8 0h0m-114 2h0m2 0h0m2 0h0m2 0h0m2 0h0m2 0h0m2 0h0m2 0h0m2 0h0m2 0h0m2 0h0m2 0h0m2 0h0m2 0h0m2 0h0m2 0h0m2 0h0m2 0h0m2 0h0m2 0h0m4 0h0m4 0h0m2 0h0m4 0h0m4 0h0m4 0h0m2 0h0m4 0h0m4 0h0m8 0h0m6 0h0m4 0h0m4 0h0m86 0h0m-178 2h0m2 0h0m2 0h0m2 0h0m2 0h0m2 0h0m2 0h0m2 0h0m2 0h0m2 0h0m2 0h0m2 0h0m2 0h0m2 0h0m2 0h0m2 0h0m2 0h0m4 0h0m2 0h0m6 0h0m2 0h0m2 0h0m4 0h0m4 0h0m2 0h0m4 0h0m4 0h0m2 0h0m4 0h0m84 0h0m-156 2h0m2 0h0m2 0h0m2 0h0m2 0h0m2 0h0m2 0h0m2 0h0m2 0h0m2 0h0m2 0h0m2 0h0m2 0h0m2 0h0m2 0h0m2 0h0m2 0h0m2 0h0m2 0h0m2 0h0m2 0h0m2 0h0m2 0h0m8 0h0m2 0h0m4 0h0m2 0h0m4 0h0m16 0h0m16 0h0m18 0h0m-114 2h0m2 0h0m2 0h0m2 0h0m2 0h0m2 0h0m2 0h0m4 0h0m2 0h0m2 0h0m2 0h0m2 0h0m2 0h0m2 0h0m2 0h0m2 0h0m2 0h0m8 0h0m2 0h0m2 0h0m2 0h0m4 0h0m14 0h0m4 0h0m4 0h0m22 0h0m52 0h0m-148 2h0m2 0h0m2 0h0m2 0h0m2 0h0m2 0h0m2 0h0m2 0h0m2 0h0m2 0h0m2 0h0m2 0h0m2 0h0m2 0h0m2 0h0m2 0h0m2 0h0m2 0h0m2 0h0m2 0h0m2 0h0m2 0h0m2 0h0m4 0h0m2 0h0m2 0h0m2 0h0m2 0h0m2 0h0m2 0h0m2 0h0m4 0h0m8 0h0m4 0h0m4 0h0m14 0h0m-96 2h0m2 0h0m2 0h0m2 0h0m2 0h0m2 0h0m2 0h0m2 0h0m2 0h0m2 0h0m2 0h0m2 0h0m2 0h0m2 0h0m2 0h0m2 0h0m4 0h0m2 0h0m2 0h0m2 0h0m2 0h0m2 0h0m2 0h0m4 0h0m2 0h0m2 0h0m6 0h0m2 0h0m12 0h0m20 0h0m12 0h0m4 0h0m-110 2h0m2 0h0m2 0h0m2 0h0m2 0h0m2 0h0m2 0h0m2 0h0m2 0h0m2 0h0m2 0h0m2 0h0m2 0h0m2 0h0m2 0h0m6 0h0m2 0h0m6 0h0m2 0h0m8 0h0m4 0h0m18 0h0m2 0h0m6 0h0m16 0h0m10 0h0m24 0h0" stroke="#2d6a2a" stroke-opacity="0.32" stroke-width="4" stroke-linecap="round" fill="none"/>
<path d="M1707 1415h0m12 0h0m-16 4h0m22 6h0m36 2h0m16 2h0m-74 2h0m10 2h0m12 2h0m4 0h0m46 0h0m46 0h0m-120 2h0m2 2h0m14 0h0m10 0h0m56 0h0m16 0h0m36 2h0m-108 2h0m10 0h0m-82 4h0m2 0h0m2 0h0m2 0h0m2 0h0m2 0h0m2 0h0m2 0h0m2 0h0m2 0h0m4 0h0m2 0h0m2 0h0m2 0h0m2 0h0m2 0h0m2 0h0m2 0h0m2 0h0m4 0h0m4 0h0m20 0h0m4 0h0m28 0h0m-98 2h0m2 0h0m2 0h0m2 0h0m2 0h0m2 0h0m2 0h0m2 0h0m2 0h0m2 0h0m2 0h0m2 0h0m2 0h0m2 0h0m2 0h0m2 0h0m2 0h0m8 0h0m2 0h0m4 0h0m4 0h0m10 0h0m4 0h0m2 0h0m6 0h0m4 0h0m38 0h0m4 0h0m2 0h0m-120 2h0m2 0h0m2 0h0m2 0h0m2 0h0m2 0h0m2 0h0m2 0h0m2 0h0m2 0h0m2 0h0m2 0h0m2 0h0m2 0h0m2 0h0m6 0h0m2 0h0m4 0h0m8 0h0m6 0h0m2 0h0m4 0h0m8 0h0m22 0h0m10 0h0m20 0h0m-120 2h0m2 0h0m2 0h0m2 0h0m2 0h0m2 0h0m2 0h0m2 0h0m2 0h0m2 0h0m2 0h0m2 0h0m2 0h0m2 0h0m2 0h0m2 0h0m2 0h0m4 0h0m2 0h0m2 0h0m2 0h0m2 0h0m2 0h0m2 0h0m4 0h0m2 0h0m12 0h0m14 0h0m-80 2h0m2 0h0m2 0h0m2 0h0m2 0h0m2 0h0m2 0h0m2 0h0m2 0h0m2 0h0m2 0h0m2 0h0m2 0h0m2 0h0m2 0h0m4 0h0m2 0h0m4 0h0m4 0h0m2 0h0m2 0h0m2 0h0m4 0h0m8 0h0m6 0h0m8 0h0m6 0h0m14 0h0m2 0h0m-96 2h0m2 0h0m2 0h0m2 0h0m2 0h0m2 0h0m2 0h0m2 0h0m2 0h0m2 0h0m2 0h0m2 0h0m2 0h0m4 0h0m2 0h0m2 0h0m2 0h0m4 0h0m2 0h0m2 0h0m2 0h0m12 0h0m2 0h0m18 0h0m2 0h0m30 0h0m-108 2h0m2 0h0m2 0h0m2 0h0m2 0h0m2 0h0m2 0h0m2 0h0m2 0h0m2 0h0m2 0h0m2 0h0m2 0h0m2 0h0m2 0h0m2 0h0m2 0h0m4 0h0m2 0h0m2 0h0m2 0h0m2 0h0m2 0h0m2 0h0m2 0h0m2 0h0m4 0h0m2 0h0m6 0h0m2 0h0m2 0h0m14 0h0m22 0h0m-104 2h0m2 0h0m2 0h0m2 0h0m2 0h0m2 0h0m2 0h0m2 0h0m2 0h0m2 0h0m2 0h0m2 0h0m2 0h0m4 0h0m2 0h0m2 0h0m2 0h0m2 0h0m2 0h0m6 0h0m2 0h0m2 0h0m2 0h0m10 0h0m2 0h0m4 0h0m4 0h0m16 0h0m2 0h0m2 0h0m8 0h0m-98 2h0m2 0h0m2 0h0m2 0h0m2 0h0m2 0h0m2 0h0m4 0h0m2 0h0m2 0h0m4 0h0m4 0h0m2 0h0m2 0h0m2 0h0m2 0h0m2 0h0m2 0h0m6 0h0m2 0h0m2 0h0m4 0h0m8 0h0m12 0h0m14 0h0m2 0h0m4 0h0m2 0h0m2 0h0m24 0h0" stroke="#2d6a2a" stroke-opacity="0.32" stroke-width="4" stroke-linecap="round" fill="none"/>
<path d="M1717 1387h0m20 32h0m-32 4h0m0 2h0m82 2h0m-84 2h0m14 0h0m-2 4h0m4 0h0m16 0h0m20 0h0m-38 2h0m80 2h0m-84 2h0m10 0h0m38 0h0m-58 2h0m22 0h0m2 0h0m6 0h0m70 0h0m-102 2h0m4 2h0m68 0h0m18 0h0m46 0h0m-182 2h0m2 0h0m2 0h0m2 0h0m2 0h0m2 0h0m2 0h0m2 0h0m2 0h0m2 0h0m2 0h0m4 0h0m6 0h0m6 0h0m4 0h0m6 0h0m6 0h0m4 0h0m4 0h0m6 0h0m54 0h0m-120 2h0m2 0h0m2 0h0m2 0h0m2 0h0m2 0h0m2 0h0m2 0h0m2 0h0m2 0h0m2 0h0m2 0h0m2 0h0m4 0h0m2 0h0m2 0h0m2 0h0m2 0h0m2 0h0m2 0h0m2 0h0m2 0h0m2 0h0m2 0h0m2 0h0m4 0h0m4 0h0m6 0h0m6 0h0m8 0h0m2 0h0m2 0h0m4 0h0m-86 2h0m2 0h0m2 0h0m2 0h0m2 0h0m2 0h0m2 0h0m2 0h0m2 0h0m2 0h0m2 0h0m2 0h0m2 0h0m4 0h0m2 0h0m2 0h0m2 0h0m2 0h0m10 0h0m2 0h0m4 0h0m8 0h0m4 0h0m12 0h0m10 0h0m-86 2h0m2 0h0m2 0h0m2 0h0m2 0h0m2 0h0m2 0h0m2 0h0m2 0h0m2 0h0m2 0h0m2 0h0m2 0h0m2 0h0m2 0h0m2 0h0m2 0h0m4 0h0m6 0h0m8 0h0m2 0h0m2 0h0m6 0h0m10 0h0m4 0h0m30 0h0m4 0h0m14 0h0m-122 2h0m2 0h0m2 0h0m2 0h0m2 0h0m2 0h0m2 0h0m2 0h0m2 0h0m2 0h0m2 0h0m2 0h0m2 0h0m2 0h0m2 0h0m2 0h0m2 0h0m2 0h0m2 0h0m6 0h0m2 0h0m2 0h0m2 0h0m2 0h0m4 0h0m2 0h0m2 0h0m2 0h0m20 0h0m2 0h0m2 0h0m26 0h0m-110 2h0m2 0h0m2 0h0m2 0h0m2 0h0m2 0h0m2 0h0m2 0h0m2 0h0m2 0h0m2 0h0m2 0h0m4 0h0m2 0h0m2 0h0m2 0h0m6 0h0m2 0h0m2 0h0m4 0h0m4 0h0m4 0h0m8 0h0m4 0h0m10 0h0m26 0h0m-102 2h0m2 0h0m2 0h0m2 0h0m2 0h0m2 0h0m2 0h0m2 0h0m2 0h0m2 0h0m2 0h0m2 0h0m2 0h0m2 0h0m2 0h0m2 0h0m2 0h0m2 0h0m2 0h0m4 0h0m2 0h0m2 0h0m10 0h0m2 0h0m2 0h0m2 0h0m16 0h0m6 0h0m14 0h0m80 0h0m-176 2h0m2 0h0m2 0h0m2 0h0m2 0h0m2 0h0m2 0h0m2 0h0m2 0h0m2 0h0m2 0h0m2 0h0m2 0h0m6 0h0m2 0h0m2 0h0m2 0h0m2 0h0m2 0h0m2 0h0m2 0h0m4 0h0m2 0h0m2 0h0m2 0h0m2 0h0m6 0h0m6 0h0m6 0h0m2 0h0m10 0h0m2 0h0m4 0h0m4 0h0m6 0h0m2 0h0m-104 2h0m2 0h0m2 0h0m2 0h0m2 0h0m2 0h0m2 0h0m2 0h0m2 0h0m2 0h0m2 0h0m2 0h0m2 0h0m2 0h0m2 0h0m2 0h0m6 0h0m2 0h0m2 0h0m4 0h0m2 0h0m2 0h0m2 0h0m4 0h0m10 0h0" stroke="#2d6a2a" stroke-opacity="0.32" stroke-width="4" stroke-linecap="round" fill="none"/>
<path d="M1733 1407h0m38 16h0m-40 6h0m-6 4h0m10 4h0m94 0h0m-112 4h0m32 0h0m-46 2h0m54 0h0m54 0h0m16 0h0m-126 2h0m4 0h0m12 0h0m-62 2h0m2 0h0m2 0h0m2 0h0m2 0h0m2 0h0m2 0h0m2 0h0m2 0h0m2 0h0m2 0h0m2 0h0m4 0h0m2 0h0m2 0h0m2 0h0m4 0h0m2 0h0m4 0h0m8 0h0m2 0h0m2 0h0m8 0h0m4 0h0m2 0h0m32 0h0m6 0h0m6 0h0m-112 2h0m2 0h0m2 0h0m2 0h0m2 0h0m2 0h0m2 0h0m2 0h0m2 0h0m2 0h0m2 0h0m2 0h0m2 0h0m2 0h0m4 0h0m2 0h0m2 0h0m2 0h0m2 0h0m2 0h0m2 0h0m2 0h0m2 0h0m2 0h0m2 0h0m2 0h0m2 0h0m2 0h0m4 0h0m2 0h0m20 0h0m-82 2h0m2 0h0m2 0h0m2 0h0m2 0h0m2 0h0m2 0h0m2 0h0m2 0h0m2 0h0m2 0h0m2 0h0m2 0h0m2 0h0m2 0h0m2 0h0m2 0h0m4 0h0m6 0h0m2 0h0m2 0h0m2 0h0m2 0h0m2 0h0m4 0h0m2 0h0m8 0h0m2 0h0m22 0h0m2 0h0m-92 2h0m2 0h0m2 0h0m2 0h0m2 0h0m2 0h0m2 0h0m2 0h0m2 0h0m2 0h0m2 0h0m2 0h0m2 0h0m2 0h0m2 0h0m2 0h0m2 0h0m2 0h0m4 0h0m2 0h0m2 0h0m2 0h0m2 0h0m2 0h0m4 0h0m2 0h0m4 0h0m6 0h0m6 0h0m4 0h0m-74 2h0m2 0h0m2 0h0m2 0h0m2 0h0m2 0h0m2 0h0m2 0h0m2 0h0m2 0h0m2 0h0m2 0h0m2 0h0m2 0h0m2 0h0m2 0h0m2 0h0m4 0h0m8 0h0m4 0h0m4 0h0m8 0h0m2 0h0m8 0h0m10 0h0m2 0h0m12 0h0m46 0h0m-140 2h0m2 0h0m2 0h0m2 0h0m2 0h0m2 0h0m2 0h0m2 0h0m2 0h0m2 0h0m2 0h0m2 0h0m2 0h0m2 0h0m2 0h0m2 0h0m2 0h0m2 0h0m2 0h0m2 0h0m2 0h0m4 0h0m8 0h0m8 0h0m4 0h0m8 0h0m10 0h0m2 0h0m20 0h0m68 0h0m-172 2h0m2 0h0m2 0h0m2 0h0m2 0h0m2 0h0m2 0h0m2 0h0m2 0h0m2 0h0m2 0h0m2 0h0m2 0h0m2 0h0m2 0h0m2 0h0m2 0h0m2 0h0m2 0h0m2 0h0m2 0h0m2 0h0m2 0h0m2 0h0m6 0h0m6 0h0m10 0h0m4 0h0m6 0h0m4 0h0m12 0h0m12 0h0m-106 2h0m2 0h0m2 0h0m2 0h0m2 0h0m2 0h0m2 0h0m2 0h0m2 0h0m2 0h0m2 0h0m2 0h0m2 0h0m2 0h0m2 0h0m2 0h0m2 0h0m2 0h0m2 0h0m2 0h0m2 0h0m10 0h0m2 0h0m4 0h0m2 0h0m6 0h0m4 0h0m2 0h0m6 0h0m4 0h0m2 0h0m2 0h0m8 0h0m4 0h0m38 0h0m-134 2h0m2 0h0m2 0h0m2 0h0m2 0h0m2 0h0m2 0h0m2 0h0m2 0h0m2 0h0m2 0h0m2 0h0m2 0h0m2 0h0m2 0h0m2 0h0m2 0h0m4 0h0m2 0h0m4 0h0m6 0h0m6 0h0m2 0h0m6 0h0m6 0h0m4 0h0" stroke="#2d6a2a" stroke-opacity="0.32" stroke-width="4" stroke-linecap="round" fill="none"/>
<path d="M1759 1367h0m-6 42h0m18 4h0m-40 8h0m12 2h0m6 4h0m-34 2h0m30 0h0m26 2h0m-54 2h0m-10 2h0m14 2h0m38 0h0m-22 2h0m-32 2h0m6 0h0m2 0h0m16 0h0m10 0h0m56 0h0m12 0h0m-96 2h0m2 0h0m24 0h0m-16 2h0m-66 2h0m2 0h0m2 0h0m2 0h0m2 0h0m2 0h0m2 0h0m2 0h0m2 0h0m2 0h0m2 0h0m2 0h0m2 0h0m4 0h0m2 0h0m4 0h0m2 0h0m6 0h0m2 0h0m6 0h0m8 0h0m52 0h0m-110 2h0m2 0h0m2 0h0m2 0h0m2 0h0m2 0h0m2 0h0m2 0h0m2 0h0m2 0h0m2 0h0m4 0h0m2 0h0m2 0h0m2 0h0m2 0h0m2 0h0m4 0h0m2 0h0m2 0h0m2 0h0m4 0h0m4 0h0m2 0h0m4 0h0m2 0h0m2 0h0m12 0h0m8 0h0m6 0h0m18 0h0m18 0h0m16 0h0m-140 2h0m2 0h0m2 0h0m2 0h0m2 0h0m2 0h0m2 0h0m2 0h0m2 0h0m2 0h0m2 0h0m2 0h0m2 0h0m2 0h0m2 0h0m2 0h0m2 0h0m2 0h0m2 0h0m2 0h0m2 0h0m2 0h0m8 0h0m2 0h0m4 0h0m2 0h0m2 0h0m4 0h0m12 0h0m6 0h0m-82 2h0m2 0h0m2 0h0m2 0h0m2 0h0m2 0h0m2 0h0m2 0h0m2 0h0m2 0h0m2 0h0m2 0h0m2 0h0m2 0h0m2 0h0m2 0h0m2 0h0m2 0h0m2 0h0m2 0h0m2 0h0m2 0h0m2 0h0m2 0h0m2 0h0m2 0h0m4 0h0m4 0h0m4 0h0m2 0h0m8 0h0m8 0h0m16 0h0m2 0h0m2 0h0m-100 2h0m2 0h0m2 0h0m2 0h0m2 0h0m2 0h0m2 0h0m2 0h0m2 0h0m2 0h0m2 0h0m2 0h0m2 0h0m2 0h0m2 0h0m2 0h0m2 0h0m2 0h0m2 0h0m2 0h0m2 0h0m2 0h0m6 0h0m6 0h0m4 0h0m2 0h0m8 0h0m-68 2h0m2 0h0m2 0h0m2 0h0m2 0h0m2 0h0m2 0h0m2 0h0m2 0h0m2 0h0m2 0h0m2 0h0m2 0h0m2 0h0m2 0h0m2 0h0m2 0h0m2 0h0m2 0h0m2 0h0m4 0h0m2 0h0m2 0h0m2 0h0m2 0h0m2 0h0m4 0h0m2 0h0m8 0h0m4 0h0m6 0h0m64 0h0m2 0h0m-142 2h0m2 0h0m2 0h0m2 0h0m2 0h0m2 0h0m2 0h0m2 0h0m2 0h0m2 0h0m2 0h0m2 0h0m2 0h0m2 0h0m2 0h0m2 0h0m2 0h0m2 0h0m4 0h0m2 0h0m2 0h0m2 0h0m2 0h0m2 0h0m2 0h0m8 0h0m2 0h0m2 0h0m6 0h0m6 0h0m4 0h0m2 0h0m-80 2h0m2 0h0m2 0h0m2 0h0m2 0h0m4 0h0m2 0h0m2 0h0m2 0h0m2 0h0m2 0h0m2 0h0m2 0h0m2 0h0m2 0h0m2 0h0m2 0h0m2 0h0m2 0h0m6 0h0m6 0h0m2 0h0m2 0h0m8 0h0m4 0h0m4 0h0m12 0h0m56 0h0m-138 2h0m2 0h0m2 0h0m2 0h0m2 0h0m2 0h0m2 0h0m2 0h0m2 0h0m2 0h0m2 0h0m2 0h0m2 0h0m2 0h0m2 0h0m6 0h0m4 0h0m2 0h0m2 0h0m2 0h0m4 0h0m10 0h0m12 0h0m2 0h0m30 0h0" stroke="#2d6a2a" stroke-opacity="0.32" stroke-width="4" stroke-linecap="round" fill="none"/>
<path d="M1727 1411h0m28 6h0m-54 8h0m24 4h0m6 2h0m-18 2h0m-8 2h0m8 0h0m34 0h0m6 0h0m62 0h0m-90 2h0m-18 2h0m14 0h0m6 2h0m44 0h0m-68 4h0m40 0h0m40 0h0m2 0h0m-130 2h0m2 0h0m2 0h0m2 0h0m2 0h0m2 0h0m2 0h0m2 0h0m2 0h0m2 0h0m2 0h0m2 0h0m2 0h0m2 0h0m4 0h0m2 0h0m2 0h0m6 0h0m8 0h0m2 0h0m2 0h0m6 0h0m6 0h0m4 0h0m26 0h0m78 0h0m-172 2h0m2 0h0m2 0h0m2 0h0m2 0h0m2 0h0m2 0h0m2 0h0m2 0h0m2 0h0m2 0h0m2 0h0m2 0h0m2 0h0m2 0h0m4 0h0m2 0h0m2 0h0m2 0h0m2 0h0m2 0h0m4 0h0m2 0h0m2 0h0m2 0h0m4 0h0m8 0h0m10 0h0m6 0h0m8 0h0m16 0h0m-104 2h0m2 0h0m2 0h0m2 0h0m2 0h0m2 0h0m2 0h0m2 0h0m2 0h0m2 0h0m2 0h0m2 0h0m2 0h0m2 0h0m2 0h0m2 0h0m2 0h0m4 0h0m2 0h0m2 0h0m6 0h0m2 0h0m2 0h0m4 0h0m4 0h0m8 0h0m2 0h0m6 0h0m6 0h0m38 0h0m10 0h0m8 0h0m-136 2h0m2 0h0m2 0h0m2 0h0m2 0h0m2 0h0m2 0h0m2 0h0m2 0h0m2 0h0m2 0h0m2 0h0m2 0h0m2 0h0m2 0h0m4 0h0m2 0h0m2 0h0m4 0h0m2 0h0m2 0h0m4 0h0m4 0h0m4 0h0m2 0h0m2 0h0m2 0h0m8 0h0m30 0h0m-100 2h0m2 0h0m2 0h0m2 0h0m2 0h0m2 0h0m2 0h0m2 0h0m2 0h0m2 0h0m2 0h0m2 0h0m2 0h0m2 0h0m2 0h0m2 0h0m2 0h0m2 0h0m2 0h0m2 0h0m4 0h0m2 0h0m2 0h0m2 0h0m2 0h0m2 0h0m2 0h0m4 0h0m6 0h0m2 0h0m2 0h0m2 0h0m4 0h0m4 0h0m10 0h0m4 0h0m18 0h0m-110 2h0m2 0h0m2 0h0m2 0h0m2 0h0m2 0h0m2 0h0m2 0h0m2 0h0m2 0h0m2 0h0m2 0h0m2 0h0m2 0h0m2 0h0m4 0h0m2 0h0m2 0h0m2 0h0m2 0h0m2 0h0m2 0h0m2 0h0m2 0h0m2 0h0m2 0h0m4 0h0m8 0h0m2 0h0m2 0h0m2 0h0m2 0h0m18 0h0m12 0h0m-102 2h0m2 0h0m2 0h0m2 0h0m2 0h0m2 0h0m2 0h0m2 0h0m2 0h0m2 0h0m2 0h0m2 0h0m2 0h0m2 0h0m2 0h0m2 0h0m2 0h0m2 0h0m2 0h0m2 0h0m2 0h0m2 0h0m2 0h0m2 0h0m2 0h0m2 0h0m4 0h0m2 0h0m2 0h0m2 0h0m4 0h0m2 0h0m14 0h0m2 0h0m-82 2h0m2 0h0m2 0h0m2 0h0m2 0h0m2 0h0m2 0h0m2 0h0m2 0h0m2 0h0m2 0h0m2 0h0m2 0h0m2 0h0m2 0h0m2 0h0m2 0h0m2 0h0m2 0h0m2 0h0m6 0h0m2 0h0m2 0h0m4 0h0m2 0h0m2 0h0m2 0h0m8 0h0m4 0h0m10 0h0m8 0h0m4 0h0m8 0h0m8 0h0m2 0h0m32 0h0m-142 2h0m2 0h0m2 0h0m2 0h0m2 0h0m2 0h0m2 0h0m2 0h0m2 0h0m2 0h0m2 0h0m2 0h0m2 0h0m2 0h0m2 0h0m4 0h0m4 0h0m2 0h0m2 0h0m4 0h0m2 0h0m12 0h0m2 0h0m2 0h0m12 0h0m26 0h0m20 0h0m18 0h0" stroke="#2d6a2a" stroke-opacity="0.32" stroke-width="4" stroke-linecap="round" fill="none"/>
<path d="M1711 1269h0m94 48h0m-60 18h0m2 2h0m-70 6h0m44 0h0m-66 4h0m8 0h0m10 2h0m12 4h0m36 0h0m110 2h0m-144 2h0m28 2h0m-40 2h0m104 4h0m-40 2h0m40 0h0m6 6h0m-92 2h0m44 0h0m54 0h0m-124 2h0m172 0h0m-158 2h0m0 2h0m12 0h0m12 0h0m10 2h0m20 0h0m-70 2h0m-10 2h0m24 0h0m2 0h0m38 0h0m16 0h0m-72 2h0m24 0h0m42 0h0m-6 2h0m24 0h0m8 0h0m2 0h0m-100 2h0m4 0h0m92 0h0m36 0h0m-100 2h0m54 0h0m-10 2h0m6 0h0m34 0h0m-110 2h0m18 0h0m28 0h0m4 0h0m24 0h0m42 0h0m-88 2h0m6 0h0m4 0h0m28 0h0m68 0h0m-128 2h0m104 0h0m16 0h0m-124 2h0m6 0h0m20 0h0m14 0h0m16 0h0m10 0h0m10 0h0m4 0h0m16 0h0m54 0h0m-160 2h0m10 0h0m2 0h0m2 0h0m34 0h0m2 0h0m34 0h0m-84 2h0m6 0h0m2 0h0m6 0h0m8 0h0m10 0h0m12 0h0m-34 2h0m8 0h0m8 0h0m8 0h0m6 0h0m10 0h0m10 0h0m-56 2h0m4 0h0m10 0h0m12 0h0m2 0h0m20 0h0m82 0h0m-134 2h0m12 0h0m2 0h0m6 0h0m4 0h0m6 0h0m2 0h0m2 0h0m8 0h0m6 0h0m2 0h0m34 0h0m-76 2h0m6 0h0m32 0h0m6 0h0m-42 2h0m2 0h0m40 0h0m6 0h0m14 0h0m-60 2h0m18 0h0m10 0h0m6 0h0m6 0h0m10 0h0m4 0h0m-56 2h0m10 0h0m12 0h0m12 0h0m8 0h0m-48 2h0m2 0h0m16 0h0m2 0h0m6 0h0m2 0h0m10 0h0m8 0h0m4 0h0m22 0h0m-76 2h0m6 0h0m6 0h0m2 0h0m6 0h0m10 0h0m14 0h0m34 0h0m2 0h0m-80 2h0m6 0h0m6 0h0m4 0h0m36 0h0m6 0h0m24 0h0m-80 2h0m12 0h0m2 0h0m14 0h0m20 0h0m-48 2h0m2 0h0m4 0h0m6 0h0m14 0h0m8 0h0m-34 2h0m4 0h0m4 0h0m4 0h0m4 0h0m4 0h0m6 0h0m2 0h0m30 0h0m-60 2h0m4 0h0m4 0h0m8 0h0m4 0h0m4 0h0m10 0h0m-34 2h0m4 0h0m2 0h0m2 0h0m2 0h0m2 0h0m22 0h0m8 0h0m-42 2h0m2 0h0m2 0h0m4 0h0m10 0h0m-18 2h0m2 0h0m2 0h0m2 0h0m4 0h0m4 0h0m-12 2h0m2 0h0" stroke="#d6ae48" stroke-opacity="0.2" stroke-width="4" stroke-linecap="round" fill="none"/>
<path d="M1725 1265h0m-62 66h0m130 2h0m-40 8h0m34 10h0m-68 2h0m-24 2h0m14 0h0m36 0h0m-6 4h0m-10 6h0m-66 2h0m38 0h0m2 0h0m10 2h0m4 0h0m6 0h0m-68 2h0m70 4h0m62 0h0m-40 4h0m6 0h0m38 0h0m-124 2h0m76 0h0m-20 2h0m12 0h0m-78 2h0m2 0h0m32 0h0m-28 4h0m2 0h0m20 0h0m28 0h0m-24 2h0m24 0h0m20 0h0m-26 2h0m26 0h0m-78 2h0m2 0h0m2 0h0m6 0h0m36 0h0m4 0h0m4 0h0m6 0h0m-22 2h0m36 0h0m14 0h0m30 0h0m-110 2h0m36 0h0m18 0h0m-28 2h0m8 0h0m38 0h0m-78 2h0m70 0h0m10 0h0m4 0h0m2 0h0m-52 2h0m10 0h0m6 0h0m28 0h0m-58 2h0m8 0h0m22 0h0m2 0h0m34 0h0m-78 2h0m12 0h0m2 0h0m8 0h0m42 0h0m14 0h0m-70 2h0m2 0h0m-6 2h0m18 0h0m4 0h0m-28 2h0m8 0h0m70 0h0m-72 2h0m10 0h0m2 0h0m-26 2h0m10 0h0m10 0h0m8 0h0m8 0h0m4 0h0m-38 2h0m16 0h0m2 0h0m4 0h0m8 0h0m10 0h0m2 0h0m2 0h0m4 0h0m6 0h0m4 0h0m8 0h0m-62 2h0m10 0h0m2 0h0m6 0h0m4 0h0m4 0h0m8 0h0m8 0h0m-48 2h0m2 0h0m4 0h0m2 0h0m12 0h0m4 0h0m4 0h0m8 0h0m4 0h0m2 0h0m6 0h0m22 0h0m-54 2h0m6 0h0m18 0h0m6 0h0m38 0h0m-84 2h0m6 0h0m2 0h0m4 0h0m4 0h0m22 0h0m2 0h0m2 0h0m-30 2h0m10 0h0m4 0h0m4 0h0m-30 2h0m10 0h0m6 0h0m12 0h0m22 0h0m-48 2h0m6 0h0m10 0h0m2 0h0m6 0h0m10 0h0m-34 2h0m2 0h0m6 0h0m2 0h0m14 0h0m10 0h0m6 0h0m-40 2h0m6 0h0m2 0h0m2 0h0m20 0h0m4 0h0m4 0h0m-38 2h0m4 0h0m16 0h0m8 0h0m-30 2h0m2 0h0m6 0h0m-6 2h0" stroke="#d6ae48" stroke-opacity="0.2" stroke-width="4" stroke-linecap="round" fill="none"/>
<path d="M1699 1297h0m-8 16h0m4 4h0m-6 10h0m38 4h0m122 0h0m-152 10h0m-30 6h0m12 2h0m136 0h0m-62 4h0m-88 2h0m4 4h0m48 0h0m-44 10h0m44 2h0m-26 2h0m8 0h0m-40 2h0m2 2h0m22 0h0m22 0h0m18 0h0m-36 2h0m-24 2h0m34 0h0m-42 2h0m16 0h0m122 0h0m-128 2h0m-2 2h0m32 0h0m6 2h0m4 0h0m-30 2h0m-18 2h0m38 0h0m34 0h0m22 0h0m-92 2h0m26 0h0m4 0h0m28 0h0m6 0h0m-54 2h0m18 0h0m8 0h0m10 0h0m22 2h0m-62 2h0m24 0h0m18 0h0m20 0h0m14 0h0m-86 2h0m2 0h0m8 0h0m50 0h0m16 0h0m8 0h0m-84 2h0m12 0h0m4 0h0m32 0h0m50 0h0m-96 2h0m10 0h0m12 0h0m2 0h0m54 0h0m14 0h0m-90 2h0m18 0h0m30 0h0m10 0h0m4 0h0m-64 2h0m6 0h0m2 0h0m2 0h0m2 0h0m16 0h0m34 0h0m8 0h0m32 0h0m-102 2h0m6 0h0m8 0h0m26 0h0m14 0h0m2 0h0m-42 2h0m10 0h0m34 0h0m-56 2h0m4 0h0m6 0h0m34 0h0m14 0h0m18 0h0m26 0h0m-100 2h0m2 0h0m6 0h0m14 0h0m24 0h0m6 0h0m10 0h0m-66 2h0m2 0h0m10 0h0m36 0h0m16 0h0m-66 2h0m2 0h0m4 0h0m8 0h0m4 0h0m2 0h0m8 0h0m8 0h0m-30 2h0m4 0h0m2 0h0m8 0h0m20 0h0m10 0h0m2 0h0m-48 2h0m12 0h0m10 0h0m2 0h0m4 0h0m22 0h0m22 0h0m16 0h0m-92 2h0m6 0h0m2 0h0m2 0h0m4 0h0m2 0h0m2 0h0m8 0h0m4 0h0m2 0h0m4 0h0m10 0h0m44 0h0m-88 2h0m6 0h0m4 0h0m2 0h0m2 0h0m4 0h0m2 0h0m2 0h0m6 0h0m8 0h0m14 0h0m-50 2h0m2 0h0m2 0h0m4 0h0m2 0h0m4 0h0m10 0h0m4 0h0m4 0h0m14 0h0m-46 2h0m10 0h0m4 0h0m2 0h0m4 0h0m2 0h0m8 0h0m2 0h0m10 0h0m-44 2h0m4 0h0m2 0h0m12 0h0m4 0h0m-18 2h0m2 0h0m2 0h0m4 0h0m12 0h0m8 0h0m-32 2h0m4 0h0m2 0h0m6 0h0m4 0h0m6 0h0m6 0h0m-26 2h0m2 0h0m2 0h0m-4 2h0" stroke="#d6ae48" stroke-opacity="0.2" stroke-width="4" stroke-linecap="round" fill="none"/>
<path d="M1705 1329h0m-10 2h0m120 2h0m-142 6h0m-4 8h0m26 0h0m12 4h0m102 0h0m-108 2h0m-32 2h0m16 0h0m34 4h0m-48 2h0m-16 2h0m4 2h0m56 2h0m16 4h0m-58 2h0m8 0h0m30 2h0m40 0h0m-94 4h0m22 0h0m6 0h0m12 0h0m76 2h0m-96 4h0m-4 2h0m10 0h0m-24 2h0m34 0h0m4 0h0m-42 2h0m10 0h0m2 0h0m2 0h0m74 0h0m-86 2h0m26 0h0m4 0h0m22 0h0m-38 2h0m24 0h0m-36 2h0m6 0h0m30 0h0m8 0h0m8 0h0m8 0h0m-54 2h0m24 0h0m8 0h0m16 0h0m4 0h0m22 0h0m50 0h0m-106 2h0m22 0h0m6 0h0m-44 2h0m18 0h0m-26 2h0m14 0h0m18 0h0m12 0h0m4 0h0m28 0h0m38 0h0m-110 2h0m6 0h0m2 0h0m8 0h0m-12 2h0m20 0h0m8 0h0m62 0h0m-102 2h0m12 0h0m4 0h0m22 0h0m6 0h0m-40 2h0m12 0h0m4 0h0m4 0h0m16 0h0m12 0h0m26 0h0m4 0h0m-80 2h0m8 0h0m20 0h0m4 0h0m22 0h0m-36 2h0m2 0h0m2 0h0m2 0h0m20 0h0m12 0h0m-58 2h0m12 0h0m4 0h0m2 0h0m2 0h0m24 0h0m30 0h0m-62 2h0m2 0h0m14 0h0m2 0h0m8 0h0m28 0h0m-66 2h0m2 0h0m6 0h0m2 0h0m4 0h0m4 0h0m2 0h0m10 0h0m4 0h0m56 0h0m-88 2h0m4 0h0m2 0h0m2 0h0m4 0h0m2 0h0m4 0h0m2 0h0m2 0h0m6 0h0m8 0h0m2 0h0m4 0h0m8 0h0m8 0h0m-56 2h0m2 0h0m6 0h0m12 0h0m6 0h0m2 0h0m6 0h0m-32 2h0m2 0h0m6 0h0m10 0h0m40 0h0m6 0h0m-60 2h0m4 0h0m10 0h0m8 0h0m10 0h0m36 0h0m20 0h0m-96 2h0m2 0h0m2 0h0m8 0h0m2 0h0m6 0h0m8 0h0m2 0h0m10 0h0m-42 2h0m2 0h0m2 0h0m4 0h0m4 0h0m6 0h0m12 0h0m16 0h0m8 0h0m-52 2h0m2 0h0m2 0h0m8 0h0m4 0h0m4 0h0m22 0h0m2 0h0m-46 2h0m2 0h0m2 0h0m4 0h0m2 0h0m2 0h0m2 0h0m4 0h0m12 0h0m6 0h0m14 0h0m-48 2h0m4 0h0m2 0h0m2 0h0m2 0h0m-6 2h0m12 0h0m-18 2h0m2 0h0m2 0h0" stroke="#d6ae48" stroke-opacity="0.2" stroke-width="4" stroke-linecap="round" fill="none"/>
<path d="M1743 1315h0m80 2h0m-86 10h0m-46 6h0m32 0h0m-26 4h0m28 6h0m130 0h0m-94 6h0m-70 6h0m8 4h0m80 0h0m-122 2h0m42 2h0m44 2h0m-84 4h0m8 0h0m74 0h0m86 0h0m-84 2h0m-32 2h0m38 0h0m-40 4h0m4 0h0m64 0h0m-90 2h0m62 0h0m38 0h0m-98 2h0m32 0h0m38 0h0m16 0h0m-96 2h0m88 0h0m-14 2h0m14 0h0m-112 2h0m70 0h0m32 0h0m76 0h0m-160 2h0m82 0h0m-72 2h0m4 0h0m-12 2h0m62 0h0m-74 2h0m40 0h0m10 0h0m30 0h0m-76 2h0m30 0h0m10 0h0m10 0h0m4 0h0m-38 2h0m22 0h0m102 0h0m-144 2h0m6 0h0m6 0h0m6 0h0m6 0h0m52 0h0m-62 2h0m4 0h0m30 0h0m-56 2h0m10 0h0m6 0h0m10 0h0m8 0h0m36 0h0m-62 2h0m16 0h0m16 0h0m6 0h0m20 0h0m-58 2h0m40 0h0m8 0h0m-44 2h0m6 0h0m12 0h0m12 0h0m10 0h0m-52 2h0m6 0h0m6 0h0m56 0h0m30 0h0m-86 2h0m6 0h0m2 0h0m14 0h0m14 0h0m10 0h0m16 0h0m-74 2h0m2 0h0m6 0h0m2 0h0m4 0h0m8 0h0m14 0h0m2 0h0m16 0h0m6 0h0m20 0h0m-70 2h0m24 0h0m10 0h0m2 0h0m20 0h0m-64 2h0m14 0h0m2 0h0m2 0h0m4 0h0m2 0h0m6 0h0m6 0h0m6 0h0m-38 2h0m2 0h0m8 0h0m10 0h0m16 0h0m18 0h0m12 0h0m-68 2h0m2 0h0m4 0h0m4 0h0m8 0h0m8 0h0m6 0h0m14 0h0m26 0h0m28 0h0m-92 2h0m20 0h0m16 0h0m6 0h0m-50 2h0m10 0h0m2 0h0m2 0h0m12 0h0m4 0h0m20 0h0m-54 2h0m6 0h0m8 0h0m4 0h0m2 0h0m2 0h0m14 0h0m-34 2h0m2 0h0m2 0h0m4 0h0m2 0h0m8 0h0m20 0h0m-38 2h0m14 0h0m10 0h0m14 0h0m-38 2h0m4 0h0m4 0h0m4 0h0m2 0h0m4 0h0m4 0h0m-20 2h0m6 0h0m2 0h0m4 0h0m6 0h0m2 0h0m6 0h0m2 0h0m2 0h0m-34 2h0m4 0h0m2 0h0m4 0h0m2 0h0m2 0h0m10 0h0m16 0h0m-38 2h0m2 0h0m4 0h0m2 0h0m-10 2h0m2 0h0m2 0h0" stroke="#d6ae48" stroke-opacity="0.2" stroke-width="4" stroke-linecap="round" fill="none"/>
<path d="M1739 1291h0m22 14h0m-80 16h0m-16 6h0m138 8h0m-100 2h0m116 0h0m-116 4h0m76 0h0m-42 8h0m40 12h0m-108 4h0m124 0h0m-104 2h0m28 0h0m26 0h0m0 2h0m-40 2h0m68 0h0m-114 2h0m38 6h0m-34 2h0m66 0h0m40 0h0m-40 2h0m-68 2h0m6 0h0m48 0h0m56 0h0m62 0h0m-174 4h0m112 0h0m-102 2h0m80 0h0m14 0h0m-86 2h0m6 0h0m16 0h0m18 0h0m-40 2h0m12 0h0m10 0h0m6 0h0m34 0h0m-80 2h0m10 0h0m6 0h0m4 0h0m92 2h0m12 0h0m-126 2h0m6 0h0m12 0h0m10 0h0m26 0h0m-50 2h0m46 0h0m60 0h0m-94 2h0m8 0h0m6 0h0m10 0h0m20 0h0m32 0h0m-80 2h0m12 0h0m24 0h0m24 0h0m-72 2h0m22 0h0m2 0h0m16 0h0m-38 2h0m2 0h0m8 0h0m36 0h0m2 0h0m62 0h0m-100 2h0m6 0h0m6 0h0m36 0h0m72 0h0m-132 2h0m4 0h0m8 0h0m2 0h0m14 0h0m4 0h0m10 0h0m12 0h0m-42 2h0m2 0h0m12 0h0m6 0h0m8 0h0m10 0h0m6 0h0m20 0h0m-66 2h0m16 0h0m8 0h0m18 0h0m2 0h0m80 0h0m-126 2h0m2 0h0m2 0h0m4 0h0m4 0h0m4 0h0m6 0h0m14 0h0m6 0h0m26 0h0m-68 2h0m4 0h0m2 0h0m4 0h0m6 0h0m2 0h0m46 0h0m-56 2h0m12 0h0m2 0h0m18 0h0m6 0h0m20 0h0m16 0h0m-82 2h0m4 0h0m10 0h0m4 0h0m12 0h0m4 0h0m4 0h0m2 0h0m2 0h0m-50 2h0m8 0h0m2 0h0m2 0h0m2 0h0m8 0h0m12 0h0m-32 2h0m6 0h0m8 0h0m2 0h0m8 0h0m2 0h0m4 0h0m2 0h0m2 0h0m2 0h0m2 0h0m-40 2h0m4 0h0m14 0h0m4 0h0m4 0h0m14 0h0m-40 2h0m2 0h0m2 0h0m2 0h0m2 0h0m2 0h0m6 0h0m24 0h0m-38 2h0m2 0h0m12 0h0m2 0h0m2 0h0m2 0h0m8 0h0m-30 2h0m2 0h0m2 0h0m8 0h0m2 0h0m-12 2h0m4 0h0m8 0h0m10 0h0m14 0h0m-38 2h0m2 0h0m6 0h0m2 0h0m6 0h0m8 0h0m-24 2h0m2 0h0m2 0h0m4 0h0" stroke="#d6ae48" stroke-opacity="0.2" stroke-width="4" stroke-linecap="round" fill="none"/>
<path d="M1687 1305h0m-26 16h0m70 6h0m-60 2h0m58 10h0m-22 6h0m44 14h0m-60 2h0m16 0h0m86 2h0m-132 6h0m36 0h0m16 0h0m16 0h0m4 2h0m-56 2h0m60 0h0m120 0h0m-192 2h0m86 0h0m-52 2h0m84 2h0m-18 2h0m-104 2h0m54 0h0m100 0h0m-56 2h0m10 2h0m-110 4h0m124 0h0m-124 2h0m30 0h0m2 0h0m76 0h0m-102 2h0m12 0h0m-22 2h0m20 0h0m30 0h0m-46 2h0m8 0h0m4 0h0m-10 2h0m8 0h0m12 0h0m8 0h0m18 0h0m20 0h0m-72 2h0m14 0h0m2 0h0m2 0h0m68 0h0m8 0h0m-94 2h0m16 0h0m8 0h0m16 0h0m4 0h0m28 0h0m-66 2h0m4 0h0m10 0h0m16 0h0m22 0h0m4 0h0m-34 2h0m-26 2h0m34 0h0m2 0h0m2 0h0m2 0h0m42 0h0m6 0h0m-88 2h0m4 0h0m4 0h0m2 0h0m22 0h0m32 0h0m6 0h0m6 0h0m32 0h0m-104 2h0m8 0h0m54 0h0m14 0h0m10 0h0m2 0h0m-94 2h0m10 0h0m2 0h0m6 0h0m10 0h0m14 0h0m16 0h0m12 0h0m10 0h0m-80 2h0m4 0h0m58 0h0m16 0h0m20 0h0m-96 2h0m4 0h0m10 0h0m4 0h0m16 0h0m2 0h0m4 0h0m2 0h0m12 0h0m18 0h0m10 0h0m-84 2h0m2 0h0m2 0h0m16 0h0m24 0h0m12 0h0m20 0h0m-74 2h0m4 0h0m2 0h0m4 2h0m8 0h0m2 0h0m12 0h0m16 0h0m-48 2h0m8 0h0m14 0h0m4 0h0m2 0h0m-26 2h0m2 0h0m4 0h0m4 0h0m2 0h0m4 0h0m8 0h0m2 0h0m4 0h0m10 0h0m2 0h0m14 0h0m28 0h0m-84 2h0m2 0h0m8 0h0m8 0h0m2 0h0m2 0h0m16 0h0m-42 2h0m4 0h0m2 0h0m2 0h0m2 0h0m10 0h0m2 0h0m14 0h0m32 0h0m-68 2h0m8 0h0m2 0h0m2 0h0m2 0h0m8 0h0m-14 2h0m4 0h0m6 0h0m4 0h0m8 0h0m2 0h0m-32 2h0m2 0h0m2 0h0m8 0h0m10 0h0m-22 2h0m2 0h0m16 0h0m-18 2h0m2 0h0m10 0h0" stroke="#d6ae48" stroke-opacity="0.2" stroke-width="4" stroke-linecap="round" fill="none"/>
<path d="M1655 1255h0m18 52h0m124 6h0m-124 6h0m66 10h0m-42 8h0m176 0h0m-170 8h0m70 4h0m26 10h0m-92 2h0m-12 2h0m32 2h0m-12 6h0m10 0h0m-68 2h0m2 0h0m10 0h0m118 0h0m-76 4h0m-52 4h0m20 0h0m2 0h0m24 0h0m36 2h0m36 0h0m-44 2h0m56 0h0m-80 2h0m6 0h0m26 0h0m-2 2h0m16 0h0m-80 2h0m76 0h0m-78 2h0m44 0h0m-62 2h0m24 0h0m10 0h0m20 0h0m-34 2h0m4 0h0m-12 2h0m12 0h0m42 0h0m-66 2h0m6 0h0m2 0h0m4 2h0m10 0h0m14 0h0m12 0h0m2 0h0m22 0h0m18 0h0m2 0h0m-50 2h0m24 0h0m8 0h0m-68 2h0m2 0h0m12 0h0m28 0h0m8 0h0m-52 2h0m6 0h0m22 0h0m10 0h0m4 0h0m16 0h0m10 0h0m36 0h0m-108 2h0m26 0h0m8 0h0m28 0h0m6 0h0m4 0h0m-52 2h0m6 0h0m6 0h0m6 0h0m6 0h0m12 0h0m20 0h0m-46 2h0m44 0h0m10 0h0m-78 2h0m24 0h0m6 0h0m10 0h0m36 0h0m-72 2h0m8 0h0m-18 2h0m20 0h0m4 0h0m4 0h0m16 0h0m6 0h0m24 0h0m-74 2h0m10 0h0m2 0h0m2 0h0m2 0h0m2 0h0m6 0h0m10 0h0m36 0h0m-70 2h0m8 0h0m10 0h0m8 0h0m2 0h0m6 0h0m2 0h0m2 0h0m8 0h0m8 0h0m-44 2h0m14 0h0m2 0h0m24 0h0m-50 2h0m4 0h0m2 0h0m6 0h0m2 0h0m8 0h0m2 0h0m6 0h0m22 0h0m-50 2h0m6 0h0m4 0h0m4 0h0m8 0h0m6 0h0m20 0h0m18 0h0m-62 2h0m2 0h0m2 0h0m2 0h0m4 0h0m2 0h0m8 0h0m10 0h0m16 0h0m12 0h0m18 0h0m-82 2h0m10 0h0m2 0h0m12 0h0m28 0h0m-50 2h0m4 0h0m6 0h0m4 0h0m2 0h0m8 0h0m4 0h0m4 0h0m-34 2h0m4 0h0m6 0h0m4 0h0m24 0h0m-36 2h0m6 0h0m2 0h0m2 0h0m2 0h0m-10 2h0m2 0h0m4 0h0m2 0h0m-10 2h0m4 0h0" stroke="#d6ae48" stroke-opacity="0.2" stroke-width="4" stroke-linecap="round" fill="none"/>
<path d="M1731 1291h0m-60 2h0m136 24h0m50 0h0m-186 12h0m12 2h0m12 2h0m4 0h0m66 14h0m-70 10h0m-28 4h0m42 0h0m12 8h0m-58 2h0m92 0h0m-70 4h0m20 0h0m10 0h0m64 0h0m-108 2h0m76 0h0m-64 2h0m96 0h0m24 0h0m-146 2h0m24 0h0m20 0h0m-42 2h0m34 0h0m48 0h0m24 0h0m-26 2h0m-64 2h0m34 0h0m88 0h0m-136 2h0m52 0h0m-26 2h0m44 0h0m6 0h0m22 0h0m28 0h0m-132 2h0m2 0h0m8 0h0m32 2h0m12 0h0m6 0h0m-24 2h0m4 0h0m18 0h0m6 0h0m22 0h0m-66 2h0m70 0h0m2 0h0m-82 2h0m2 0h0m40 0h0m18 0h0m12 0h0m12 0h0m-78 2h0m2 0h0m18 0h0m16 0h0m38 0h0m-66 2h0m60 0h0m38 0h0m-114 2h0m20 0h0m52 0h0m4 0h0m-52 2h0m20 0h0m-52 2h0m2 0h0m2 0h0m6 0h0m10 0h0m16 0h0m4 0h0m14 0h0m2 0h0m18 0h0m10 0h0m-84 2h0m6 0h0m14 0h0m2 0h0m4 0h0m10 0h0m12 0h0m40 0h0m-68 2h0m2 0h0m12 0h0m4 0h0m54 0h0m2 0h0m-92 2h0m4 0h0m2 0h0m16 0h0m16 0h0m12 0h0m30 0h0m-80 2h0m6 0h0m8 0h0m14 0h0m4 0h0m10 0h0m18 0h0m4 0h0m-64 2h0m2 0h0m18 0h0m2 0h0m12 0h0m2 0h0m12 0h0m4 0h0m-50 2h0m12 0h0m6 0h0m24 0h0m26 0h0m-68 2h0m10 0h0m12 0h0m10 0h0m10 0h0m2 0h0m30 0h0m-76 2h0m8 0h0m8 0h0m2 0h0m2 0h0m4 0h0m8 0h0m16 0h0m-48 2h0m8 0h0m8 0h0m8 0h0m4 0h0m-30 2h0m4 0h0m12 0h0m4 0h0m4 0h0m30 0h0m-54 2h0m8 0h0m2 0h0m10 0h0m4 0h0m18 0h0m-42 2h0m4 0h0m4 0h0m10 0h0m6 0h0m2 0h0m6 0h0m4 0h0m16 0h0m-52 2h0m2 0h0m2 0h0m2 0h0m2 0h0m2 0h0m8 0h0m2 0h0m4 0h0m10 0h0m4 0h0m-26 2h0m4 0h0m4 0h0m2 0h0m8 0h0m-28 2h0m2 0h0m2 0h0m2 0h0m4 0h0m4 0h0m6 0h0m-22 2h0m6 0h0m6 0h0m-12 2h0m2 0h0" stroke="#d6ae48" stroke-opacity="0.2" stroke-width="4" stroke-linecap="round" fill="none"/>
<path d="M1711 1313h0m146 0h0m-148 2h0m-38 22h0m-16 2h0m102 4h0m-100 10h0m144 0h0m-106 4h0m-8 2h0m-32 4h0m94 0h0m40 2h0m-130 2h0m-4 4h0m10 0h0m64 2h0m-24 2h0m56 0h0m66 0h0m-156 2h0m54 0h0m-60 2h0m58 0h0m-60 2h0m38 0h0m36 0h0m-82 2h0m64 0h0m14 0h0m34 0h0m-6 2h0m-106 2h0m8 0h0m26 0h0m12 0h0m6 0h0m26 2h0m28 0h0m-104 2h0m18 0h0m8 0h0m-6 2h0m-18 2h0m46 0h0m-44 2h0m24 0h0m156 0h0m-182 2h0m48 0h0m4 0h0m34 0h0m38 0h0m-18 2h0m-100 2h0m4 0h0m2 0h0m18 0h0m18 0h0m36 0h0m-82 2h0m20 0h0m8 0h0m44 0h0m-66 2h0m4 0h0m6 0h0m30 0h0m24 0h0m12 0h0m-86 2h0m18 0h0m6 0h0m18 0h0m42 0h0m-82 2h0m26 0h0m90 0h0m-120 2h0m18 0h0m6 0h0m28 0h0m2 0h0m86 0h0m-106 2h0m6 0h0m2 0h0m-40 2h0m2 0h0m10 0h0m4 0h0m4 0h0m2 0h0m6 0h0m2 0h0m4 0h0m4 0h0m8 0h0m32 0h0m-62 2h0m6 0h0m2 0h0m16 0h0m10 0h0m10 0h0m-52 2h0m4 0h0m14 0h0m6 0h0m10 0h0m4 0h0m12 0h0m4 0h0m6 0h0m14 0h0m-84 2h0m4 0h0m10 0h0m2 0h0m28 0h0m10 0h0m56 0h0m-104 2h0m4 0h0m8 0h0m16 0h0m16 0h0m48 0h0m-90 2h0m2 0h0m2 0h0m2 0h0m6 0h0m2 0h0m6 0h0m24 0h0m2 0h0m-52 2h0m2 0h0m2 0h0m8 0h0m4 0h0m6 0h0m2 0h0m-24 2h0m6 0h0m18 0h0m2 0h0m6 0h0m16 0h0m12 0h0m6 0h0m-66 2h0m6 0h0m2 0h0m14 0h0m2 0h0m2 0h0m6 0h0m2 0h0m32 0h0m-68 2h0m4 0h0m6 0h0m2 0h0m2 0h0m2 0h0m6 0h0m2 0h0m22 0h0m14 0h0m-58 2h0m2 0h0m4 0h0m2 0h0m2 0h0m2 0h0m4 0h0m44 0h0m-58 2h0m2 0h0m18 0h0m-22 2h0m4 0h0m2 0h0m14 0h0m-22 2h0m2 0h0m2 0h0m2 0h0m2 0h0" stroke="#d6ae48" stroke-opacity="0.2" stroke-width="4" stroke-linecap="round" fill="none"/>
<line x1="1653.4" y1="1135.3" x2="1653.4" y2="1475.5" stroke="#bdbdbd" stroke-width="1.6"/>
<line x1="1624.5" y1="1446" x2="2004.2" y2="1446" stroke="#bdbdbd" stroke-width="1.6"/>
<line x1="1623.9" y1="1147.5" x2="1623.9" y2="1463.3" stroke="#8a8a8a" stroke-width="1.3"/>
<line x1="1619.9" y1="1147.5" x2="1623.9" y2="1147.5" stroke="#8a8a8a" stroke-width="1.3"/>
<line x1="1619.9" y1="1210.66" x2="1623.9" y2="1210.66" stroke="#8a8a8a" stroke-width="1.3"/>
<line x1="1619.9" y1="1273.82" x2="1623.9" y2="1273.82" stroke="#8a8a8a" stroke-width="1.3"/>
<line x1="1619.9" y1="1336.98" x2="1623.9" y2="1336.98" stroke="#8a8a8a" stroke-width="1.3"/>
<line x1="1619.9" y1="1400.14" x2="1623.9" y2="1400.14" stroke="#8a8a8a" stroke-width="1.3"/>
<line x1="1619.9" y1="1463.3" x2="1623.9" y2="1463.3" stroke="#8a8a8a" stroke-width="1.3"/>
<text x="1605.8" y="1147.5" font-size="17.5" text-anchor="middle" fill="#262626" stroke="#262626" transform="rotate(-90 1605.8 1147.5)">50</text>
<text x="1605.8" y="1210.66" font-size="17.5" text-anchor="middle" fill="#262626" stroke="#262626" transform="rotate(-90 1605.8 1210.66)">40</text>
<text x="1605.8" y="1273.82" font-size="17.5" text-anchor="middle" fill="#262626" stroke="#262626" transform="rotate(-90 1605.8 1273.82)">30</text>
<text x="1605.8" y="1336.98" font-size="17.5" text-anchor="middle" fill="#262626" stroke="#262626" transform="rotate(-90 1605.8 1336.98)">20</text>
<text x="1605.8" y="1400.14" font-size="17.5" text-anchor="middle" fill="#262626" stroke="#262626" transform="rotate(-90 1605.8 1400.14)">10</text>
<text x="1605.8" y="1463.3" font-size="17.5" text-anchor="middle" fill="#262626" stroke="#262626" transform="rotate(-90 1605.8 1463.3)">0</text>
<line x1="1637.3" y1="1476.4" x2="1989.8" y2="1476.4" stroke="#8a8a8a" stroke-width="1.3"/>
<line x1="1637.3" y1="1476.4" x2="1637.3" y2="1480.4" stroke="#8a8a8a" stroke-width="1.3"/>
<line x1="1707.8" y1="1476.4" x2="1707.8" y2="1480.4" stroke="#8a8a8a" stroke-width="1.3"/>
<line x1="1778.3" y1="1476.4" x2="1778.3" y2="1480.4" stroke="#8a8a8a" stroke-width="1.3"/>
<line x1="1848.8" y1="1476.4" x2="1848.8" y2="1480.4" stroke="#8a8a8a" stroke-width="1.3"/>
<line x1="1919.3" y1="1476.4" x2="1919.3" y2="1480.4" stroke="#8a8a8a" stroke-width="1.3"/>
<line x1="1989.8" y1="1476.4" x2="1989.8" y2="1480.4" stroke="#8a8a8a" stroke-width="1.3"/>
<text x="1637.3" y="1504" font-size="17.5" text-anchor="middle" fill="#262626" stroke="#262626">0</text>
<text x="1707.8" y="1504" font-size="17.5" text-anchor="middle" fill="#262626" stroke="#262626">10</text>
<text x="1778.3" y="1504" font-size="17.5" text-anchor="middle" fill="#262626" stroke="#262626">20</text>
<text x="1848.8" y="1504" font-size="17.5" text-anchor="middle" fill="#262626" stroke="#262626">30</text>
<text x="1919.3" y="1504" font-size="17.5" text-anchor="middle" fill="#262626" stroke="#262626">40</text>
<text x="1989.8" y="1504" font-size="17.5" text-anchor="middle" fill="#262626" stroke="#262626">50</text>
<rect x="1662" y="1144.9" width="7" height="7" fill="#d8aed2" stroke="#9a8a98" stroke-width="1.3"/>
<rect x="1662" y="1165.2" width="7" height="7" fill="#a4b4a2" stroke="#7a8878" stroke-width="1.3"/>
<rect x="1662" y="1185.9" width="7" height="7" fill="#ece0b0" stroke="#a8a08a" stroke-width="1.3"/>
<text x="1680.7" y="1156" font-size="22.5" text-anchor="start" fill="#262626" stroke="#262626" textLength="149.8" lengthAdjust="spacingAndGlyphs">HepG2 specific</text>
<text x="1680.7" y="1176.3" font-size="22.5" text-anchor="start" fill="#262626" stroke="#262626" textLength="130.6" lengthAdjust="spacingAndGlyphs">K562 specific</text>
<text x="1680.7" y="1197" font-size="22.5" text-anchor="start" fill="#262626" stroke="#262626" textLength="207.5" lengthAdjust="spacingAndGlyphs">K562, HepG2 shared</text>
<text x="1579" y="1309.3" font-size="21" text-anchor="middle" fill="#262626" stroke="#262626" textLength="235.5" lengthAdjust="spacingAndGlyphs" transform="rotate(-90 1579 1309.3)">−log10(HepG2 p−value)</text>
<text x="1821.2" y="1525.6" font-size="21" text-anchor="middle" fill="#262626" stroke="#262626" textLength="217.2" lengthAdjust="spacingAndGlyphs">−log10(K562 p−value)</text>
<text transform="matrix(1.36 0 0 1 1541.47 1109.67)" font-size="49.2" fill="#111">j</text>
<path d="M119 1783.6L119 1783.6L120 1781.98L121 1780.36L122 1781.98L123 1782.96L124 1782.32L125 1782.96L126 1783.5L127 1783.4L128 1783.5L129 1783.6L130 1783.28L131 1782.54L131.6 1782.48L132 1782.44L132.85 1779.96L133 1779.57L133.3 1779L133.9 1779L134 1779.14L134.35 1779.96L135 1782.07L135.6 1783.17L136 1783.06L137 1783.03L138 1782.71L139 1782.73L140 1783.32L141 1782.84L142 1782.07L143 1782.68L144 1783.29L145 1783.44L146 1783.55L147 1783.24L148 1783.03L149 1783.19L150 1783.31L151 1783.45L152 1743.63L152.2 1738L152.8 1738L153 1743.63L154 1782.59L155 1781.62L156 1782.61L157 1782.82L158 1781.77L159 1782.16L160 1783.11L161 1783.49L162 1783.6L163 1783.6L164 1783.6L165 1783.5L166 1783.4L167 1783.24L168 1782.74L169 1782.65L170 1783.25L171 1783.08L172 1782.49L173 1782.94L174 1783.19L175 1782.91L176 1782.8L176.2 1782.57L177 1780.4L177.2 1779.57L177.4 1779L178 1779L178.2 1779.57L179 1782.55L179.2 1782.7L180 1783.33L181 1783.05L182 1782.98L183 1782.91L184 1783.26L185 1783.24L185.3 1783.13L186 1775.52L186.3 1771.68L186.5 1770L187 1770L187.1 1770L187.3 1771.68L188 1781.86L188.3 1783.6L189 1783.6L190 1783.6L191 1783.57L192 1782.89L193 1782.28L194 1782.84L195 1782.75L196 1782.26L197 1782.99L198 1783.27L199 1782.95L200 1783.27L201 1783.6L202 1782.65L203 1781.71L204 1782.65L205 1783.6L206 1783.25L207 1782.89L208 1783.09L209 1783.28L210 1782.99L211 1782.6L212 1782.96L213 1783.09L214 1781.84L215 1781.33L216 1782.22L217 1782.71L218 1783.16L219 1783.6L220 1782.11L221 1780.62L222 1781.96L223 1783.3L224 1782.29L225 1780.5L226 1780.87L227 1782.81L228 1782.86L229 1782.12L230 1782.86L231 1783.48L232 1783.05L233 1782.86L234 1783.16L235 1781.73L236 1780.24L237 1781.56L238 1782.61L239 1782.91L240 1783.47L241 1782.96L242 1782.31L243 1782.68L244 1782.89L245 1782.52L246 1781.97L247 1782.1L248 1782.7L249 1782.82L250 1782.81L251 1782.79L252 1783.19L253 1783.6L254 1783.6L255 1783.6L256 1783.6L257 1783.28L258 1782.96L259 1782.31L260 1781.66L261 1782.63L262 1783.6L263 1782.97L264 1782.1L265 1781.01L266 1779.92L267 1781.15L268 1783.11L269 1783.6L270 1783.6L271 1783.6L272 1783.49L273 1782.81L274 1782.34L274.3 1782.33L275 1778.49L275.3 1776.06L275.5 1775L276 1775L276.1 1775L276.3 1776.06L277 1782.5L277.3 1782.58L278 1782.68L279 1782.19L280 1782.61L281 1783.36L282 1783.6L283 1783.56L284 1783.52L285 1783.39L286 1783.11L287 1783.12L288 1710.32L288.2 1700L288.8 1700L289 1710.32L290 1779.05L291 1781.32L292 1783.43L293 1783.27L294 1783.43L295 1782.31L296 1781.02L297 1782.31L298 1783.6L299 1783.2L300 1782.74L301 1781.18L302 1779.72L303 1781.69L304 1783.6L304.2 1783.6L305 1779.91L305.45 1777.59L305.9 1776L306 1776L306.5 1776L306.95 1777.59L307 1777.82L308 1783.41L308.2 1783.36L309 1783.17L310 1783.33L311 1783.33L312 1782.89L313 1782.82L314 1782.92L315 1782.75L316 1782.76L317 1782.98L318 1782.54L319 1781.97L320 1782.67L321 1783.37L322 1783.28L323 1782.4L324 1781.3L325 1781.76L326 1782.89L327 1782.74L328 1782.43L329 1782.29L330 1781.85L331 1782.28L332 1782.94L333 1783.33L334 1782.95L335 1782.29L336 1782.95L337 1783.6L338 1783.6L339 1783.55L340 1783.49L341 1783.02L342 1782.26L343 1782.53L344 1783.33L345 1783.6L346 1783.6L347 1783.6L348 1782.71L349 1781.82L350 1782.71L351 1783.57L352 1783.06L353 1781.44L354 1780.78L355 1782.43L356 1783.6L357 1783.58L358 1783.23L359 1782.54L359.9 1782.52L360 1782.51L360.9 1779.57L361 1779.23L361.1 1779L361.7 1779L361.9 1779.57L362 1779.96L362.9 1782.27L363 1782.19L364 1782.59L365 1783.24L366 1783.19L367 1783.01L368 1783.13L369 1783.14L370 1782.32L371 1781.4L372 1781.68L373 1782.49L374 1783.2L375 1782.72L376 1781.5L377 1782.01L378 1783.24L379 1783.59L380 1782.95L381 1782.28L382 1782.9L383 1783.57L384 1783.24L385 1782.88L386 1782.9L387 1782.22L388 1781.54L389 1782.26L390 1783.28L391 1783.6L392 1783.54L393 1783.48L394 1783.51L395 1783.55L396 1783.35L397 1783.15L398 1783.38L399 1783.6L400 1782.83L401 1782.06L402 1782.83L403 1783.48L404 1783.3L405 1783.19L406 1783.06L407 1783.13L408 1783.45L409 1783.6L410 1783.6L411 1783.49L412 1783.39L413 1783.49L414 1783.6L415 1783.38L416 1783.17L417 1783.3L418 1783.18L419 1783.01L420 1782.72L421 1782.35L422 1782.98L423 1783.6L424 1783.25L425 1782.88L426 1783.22L427 1783.59L428 1783.6L429 1783.17L430 1782.73L431 1783.08L432 1783.4L433 1783.45L434 1782.49L435 1781.41L436 1782.45L436.8 1783L437 1783.13L437.8 1738.37L438 1732L438.6 1732L438.8 1738.37L439 1747.68L439.8 1782.87L440 1782.85L441 1782.74L442 1783.25L443 1783.58L444 1783.6L445 1783.6L446 1770.36L446.2 1768.5L446.8 1768.5L447 1770.36L448 1783.33L449 1783.6L450 1783.59L451 1783.57L452 1783.59L453 1783.55L454 1783.49L455 1782.97L456 1782.17L457 1782.06L458 1782.51L459 1783.2L460 1783.6L461 1783.23L462 1782.85L463 1783.23L464 1783.44L465 1783.12L466 1782.85L467 1782.68L468 1782.89L469 1783.38L470 1783.5L471 1783.32L472 1783.36L473 1783.49L474 1783.51L475 1783.49L476 1783.48L477 1783.54L478 1783.09L479 1782.58L480 1782.71L481 1782.73L482 1783.01L483 1782.59L484 1781.8L485 1782.7L486 1783.6L487 1783.6L488 1783.32L489 1783.04L490 1783.09L491 1783.01L492 1783.12L493 1783.48L494 1783.56L495 1783.53L496 1783.56L496.5 1783.58L497 1782.26L497.5 1780.44L497.7 1780L498 1780L498.3 1780L498.5 1780.44L499 1782.26L499.5 1783.59L500 1783.58L501 1783.56L502 1783.15L503 1782.74L504 1783.17L505 1783.6L506 1783.6L507 1783.6L508 1783.6L509 1783.14L510 1782.68L511 1781.04L512 1778.98L513 1780.66L514 1783.18L515 1783.6L516 1783.6L517 1783.6L518 1783.55L519 1783.49L520 1783.55L521 1783L522 1782.04L523 1782.27L524 1783.24L525 1783.6L526 1783.6L527 1783.6L528 1783.6L529 1783.58L530 1783.56L531 1783.58L532 1783.29L533 1782.58L534 1782.48L535 1783.05L536 1783.29L537 1782.8L538 1782.35L539 1782.64L540 1782.56L541 1781.8L542 1781.78L543 1782.87L544 1783.6L545 1783.42L546 1751.69L546.2 1747.2L546.8 1747.2L547 1751.69L548 1782.76L549 1783.6L550 1782.75L551 1781.9L552 1782.75L553 1783.6L554 1782.8L555 1782L556 1782.8L557 1783.6L558 1783.6L559 1783.6L560 1783.6L561 1782.07L562 1780.54L563 1782.07L564 1783.56L565 1783.33L566 1783L567 1782.4L568 1782.1L569 1782.91L570 1783.39L571 1783.27L572 1783.21L573 1783.12L574 1783.36L575 1783.14L576 1782.28L577 1782.33L578 1782.28L579 1780.54L580 1780.19L581 1782.31L582 1783.47L583 1783.33L584 1783.13L585 1783.11L586 1783.13L587 1783.05L588 1783.32L589 1783.6L590 1782.2L591 1780.53L592 1781.53L593 1783.06L594 1782.96L595 1782.49L596 1782.69L597 1783.08L598 1783.39L599 1783.6L600 1783.6L601 1783.08L602 1782.34L603 1782.23L604 1782.16L605 1782.37L606 1783.19L607 1783.6L607.2 1783.6L608 1777.61L608.2 1776.06L608.4 1775L609 1775L609.2 1776.06L610 1783.1L610.2 1783.03L611 1782.78L612 1783.19L613 1783.54L614 1783.57L615 1782.43L616 1781.1L617 1782.12L618 1783.02L619 1782.6L620 1782.86L621 1783.4L622 1783.44L623 1783.34L624 1783.07L625 1782.81L626 1783.18L627 1783.56L628 1783.58L629 1782.85L630 1781.22L631 1780.94L632 1781.45L633 1781.23L634 1782.06L635 1782.39L636 1781.43L637 1782.01L638 1782.63L639 1782.27L640 1782.35L640.8 1781.48L641 1781.27L642 1778.58L642.05 1778.38L642.5 1777L643 1777L643.1 1777L643.55 1778.38L644 1780.4L644.8 1783.08L645 1783.05L646 1782.69L647 1783.13L648 1782.72L649 1781.92L650 1781.9L651 1781.89L652 1782.74L653 1783.27L654 1782.94L655 1782.06L656 1781.18L657 1782.37L658 1783.45L659 1783.2L660 1783.14L661 1783.42L662 1783.6L663 1783.29L664 1782.96L665 1782.98L666 1781.36L667 1779.6L668 1781.15L669 1782.96L670 1783.1L671 1782.89L672 1782.68L673 1783.14L674 1783.6L675 1783.6L676 1783.6L677 1783.6L678 1783.45L679 1783.3L680 1783.31L681 1783.32L682 1782.93L683 1782.54L684 1783.07L685 1783.52L686 1783.45L687 1783.47L688 1783.26L689 1782.99L690 1782.36L691 1781.38L692 1781.84L693 1783.05L694 1783.43L695 1783.51L696 1783.32L697 1783.04L698 1783.16L699 1782.99L700 1782.85L701 1782.59L702 1782.16L703 1782.7L704 1783.24L705 1783.42L706 1783.6L707 1783.6L708 1783.6L709 1783.6L710 1783.23L711 1782.72L712 1782.96L713 1783.35L714 1783.23L715 1783.21L716 1783.26L717 1782.91L718 1782.82L719 1783.31L720 1783.6L721 1783.6L722 1783.24L723 1782.87L724 1783.24L725 1783.6L726 1783.6L727 1783.6L728 1783.6L729 1783.6L730 1783.6L731 1782.81L732 1781.5L733 1781.24L734 1782.03L735 1783.08L736 1783.37L737 1782.58L738 1781.81L739 1782.18L740 1782.87L741 1782.81L742 1782.92L743 1783.39L744 1783.59L745 1783.6L746 1783.6L747 1783.6L748 1783.6L749 1783.6L750 1783.6L751 1783.6L752 1782.89L753 1782.17L754 1782.89L755 1783.54L756 1783.48L757 1783.54L758 1783.08L759 1782.17L760 1782.12L761 1782.69L762 1782.61L763 1781.54L764 1780.73L765 1780.93L766 1781.81L767 1781.44L768 1779.48L769 1780.05L770 1782.41L771 1782.62L772 1782.22L773 1782.97L774 1783.58L775 1783.6L776 1783.6L777 1783.43L778 1783.25L779 1783.04L780 1782.82L781 1783.21L782 1783.23L783 1782.47L784 1781.7L785 1781.41L786 1782.25L787 1783.18L788 1783.37L789 1783.48L790 1783.6L791 1783.31L792 1783.02L793 1783.01L794 1782.99L795 1783.24L796 1783.53L797 1783.52L798 1783.5L799 1783.55L800 1783.6L801 1783.6L802 1782.89L803 1782.17L804 1782.89L805 1783.55L806 1783.5L807 1783.43L808 1783.37L809 1783.48L810 1783.6L811 1783.56L812 1783.53L813 1782.81L814 1782.09L815 1781.52L816 1780.94L817 1778.82L817.25 1777.59L817.7 1776L818 1776L818.3 1776L818.75 1777.59L819 1778.82L820 1783.4L821 1780.61L822 1777.69L823 1780.65L824 1783.6L825 1783.45L826 1783.15L827 1781.26L828 1779.57L829 1781.47L830 1783.47L831 1782.64L832 1781.68L833 1779.89L834 1777.96L835 1780.58L836 1783.35L837 1783.37L838 1783.17L839 1782.4L840 1782.14L841 1783.03L842 1783.6L843 1783.6L844 1783.6L845 1783.15L846 1782.7L846.3 1782.83L847 1780.68L848 1775.52L848.05 1775.3L849 1772L849.6 1772L850 1773.07L850.55 1775.3L851 1777.46L852 1783L852.3 1783.23L853 1783.41L854 1783.6L855 1783.6L856 1783.44L857 1783.16L858 1783.2L859 1783.48L860 1783.6L861 1783.6L862 1783.6L863 1783.6L864 1783.6L865 1783.59L866 1783.27L867 1782.95L868 1783.28L869 1783.6L870 1783.27L871 1782.93L872 1782.76L873 1782.56L874 1782.95L875 1783.37L876 1783.49L877 1783.6L878 1783.6L879 1783.6L880 1783.6L881 1783.26L882 1781.74L883 1780.5L884 1781.64L885 1782.94L886 1783.05L887 1783.11L888 1783.17L889 1783.38L890 1783.6L891 1783.35L892 1783.11L893 1783.35L894 1783.6L895 1783.02L896 1782.43L897 1783.02L898 1783.6L899 1783.11L900 1782.56L900.3 1782.65L901 1730.03L901.3 1704.53L901.5 1693.4L902 1693.4L902.1 1693.4L902.3 1704.53L903 1772.05L903.3 1783.47L904 1783.44L905 1783.22L906 1782.9L907 1781.68L908 1780.7L909 1781.64L910 1783.12L911 1781.57L912 1779.45L913 1780.36L914 1781.45L915 1782.45L916 1783.2L917 1783.15L918 1783.07L919 1780.53L920 1778.48L921 1781.13L922 1782.87L923 1781.56L924 1780.35L925 1780.54L926 1781.96L927 1782.67L928 1782.83L929 1782.79L930 1782.9L931 1783.22L932 1783.23L933 1783.33L934 1783.43L935 1783.31L936 1783.19L937 1783.39L938 1783.03L939 1782.19L940 1782.49L941 1782.77L942 1781.9L943 1779.57L943.2 1779L943.8 1779L944 1779.57L945 1783.09L946 1783.34L947 1782.17L948 1780.73L949 1782.17L950 1783.59L951 1783.58L952 1783.42L953 1783.27L954 1783.44L955 1783.6L956 1783.6L957 1783.6L958 1783.13L959 1782.58L960 1781.26L961 1780.05L962 1779.73L963 1779.24L964 1781L965 1782.77L966 1782.73L967 1783.12L968 1783.29L969 1782.7L970 1782.43L971 1782.87L972 1782.41L973 1781.99L974 1782.92L975 1783.5L976 1782.88L977 1782.14L978 1782.43L979 1782.78L980 1782.55L981 1782.97L982 1783.53L983 1783.6L984 1783.6L985 1783.6L986 1782.44L987 1781.01L988 1781.91L989 1783.34L990 1783.6L991 1783.6L992 1783.6L993 1783.6L994 1782.28L994.5 1781.62L995 1760.74L995.5 1729.6L995.7 1722L996 1722L996.3 1722L996.5 1729.6L997 1760.74L997.5 1738.37L997.7 1732L998 1732L998.3 1732L998.5 1738.37L999 1764.45L999.5 1782.22L1000 1782.07L1001 1782.51L1002 1782.65L1003 1782.02L1004 1780.91L1005 1781.54L1006 1782.88L1007 1782.71L1008 1782.53L1009 1782.41L1010 1781.66L1011 1782.06L1012 1783.22L1013 1783.45L1014 1783.21L1015 1783.29L1016 1783.11L1017 1782.4L1018 1782.45L1019 1782.53L1019.5 1782.37L1020 1781.89L1020.5 1779.57L1020.7 1779L1021 1779L1021.3 1779L1021.5 1779.57L1022 1781.89L1022.5 1783.52L1023 1783.49L1024 1783.55L1025 1783.55L1026 1783.5L1027 1783.55L1028 1783.6L1029 1783.12L1030 1782.48L1031 1782.78L1032 1783.43L1033 1783.6L1034 1783.6L1035 1783.6L1036 1782.86L1037 1781.63L1038 1781.86L1039 1783.1L1040 1783.56L1041 1783.53L1042 1783.56L1043 1783.6L1044 1783.6L1045 1783.6L1046 1783.35L1047 1783.07L1048 1783.29L1049 1783.57L1050 1783.6L1051 1783.6L1052 1783.57L1053 1783.54L1054 1783.57L1055 1783.01L1056 1782.43L1057 1783.01L1058 1783.44L1059 1783.28L1060 1783.44L1061 1783.57L1061.7 1783.54L1062 1774.86L1062.7 1723.73L1062.9 1715.3L1063 1715.3L1063.5 1715.3L1063.7 1723.73L1064 1743.04L1064.7 1783.35L1065 1783.41L1066 1783.6L1067 1783.42L1068 1783.24L1069 1783.35L1070 1782.8L1071 1781.85L1072 1782.05L1073 1782.54L1074 1782.52L1075 1782.81L1076 1781.76L1077 1779.74L1078 1779.96L1079 1781.44L1080 1782.29L1081 1782.5L1082 1783.05L1083 1783.6L1084 1783.6L1085 1783.2L1086 1782.42L1087 1782.27L1088 1782.37L1089 1782.44L1090 1782.84L1091 1783.07L1092 1783.34L1093 1783.6L1094 1783.33L1095 1782.7L1096 1782.43L1097 1782.82L1098 1783.29L1099 1783.53L1100 1783.24L1101 1780.75L1102 1778.97L1103 1781.47L1104 1783.6L1105 1783.6L1106 1783.6L1107 1783.04L1108 1782.49L1109 1782.84L1110 1782.76L1111 1782.51L1112 1783.1L1113 1783.36L1114 1783.28L1115 1783.47L1116 1783.6L1117 1782.22L1118 1780.84L1119 1782.22L1120 1783.26L1121 1782.92L1122 1783.26L1123 1783.6L1124 1783.6L1125 1783.6L1126 1782.48L1127 1781.03L1128 1781.83L1128.5 1782.55L1129 1781.89L1129.5 1779.57L1129.7 1779L1130 1779L1130.3 1779L1130.5 1779.57L1131 1781.89L1131.5 1782.51L1132 1782.23L1133 1782.65L1134 1781.51L1135 1779.89L1136 1781.75L1137 1783.23L1138 1782.35L1139 1782.2L1140 1783.09L1141 1783.6L1142 1783.6L1143 1783.6L1144 1783.6L1145 1783.6L1146 1783.43L1147 1783.27L1148 1781.97L1149 1780.32L1150 1781.44L1151 1783.25L1152 1783.48L1153 1782.53L1154 1781.82L1155 1782.48L1156 1783.02L1157 1783.31L1157.1 1783.28L1158 1771.1L1158.1 1769.75L1158.3 1767.8L1158.9 1767.8L1159 1768.59L1159.1 1769.75L1160 1782.04L1160.1 1782.14L1161 1782.98L1162 1783.36L1163 1782.63L1164 1780.82L1165 1779.55L1166 1780.02L1167 1781.54L1168 1782.85L1169 1783.23L1170 1783.12L1171 1782.87L1172 1782.71L1173 1783.11L1174 1783.55L1175 1783.4L1176 1783.02L1177 1783.03L1178 1783.36L1179 1783.49L1180 1783.55L1181 1783.6L1182 1783.6L1183 1783.38L1184 1782.67L1185 1782.41L1186 1783.12L1187 1783.6L1188 1783.6L1189 1783.6L1190 1783.6L1191 1783.6L1192 1783.6L1193 1783.33L1194 1782.96L1195 1782.5L1196 1782.25L1197 1782.97L1198 1783.6L1199 1783.6L1200 1783.6L1201 1783.25L1202 1782.9L1203 1782.09L1204 1781.28L1205 1782.44L1206 1783.6L1207 1783.6L1208 1782.63L1209 1781.66L1210 1782.31L1211 1782.43L1212 1782.23L1213 1783.08L1214 1783.6L1215 1783.6L1216 1782.87L1217 1781.87L1218 1782.33L1219 1783.33L1220 1783.54L1221 1782.44L1222 1781.46L1223 1782.56L1224 1783.6L1225 1783.6L1226 1783.6L1227 1783.6L1228 1783.27L1229 1782.45L1230 1782.28L1231 1783.1L1232 1783.6L1233 1783.05L1234 1782.19L1235 1782.44L1236 1783.3L1237 1783.56L1238 1783.52L1239 1783.39L1240 1782.78L1241 1782.35L1242 1782.74L1243 1782.63L1244 1782.31L1245 1783.02L1246 1783.6L1247 1783.59L1248 1783.54L1249 1782.81L1250 1782.18L1251 1782.89L1252 1783.54L1253 1783.35L1254 1783.16L1255 1783.38L1256 1783.42L1257 1783.09L1258 1782.93L1259 1783.09L1260 1783.38L1261 1783.5L1262 1783.5L1263 1783.52L1264 1783.33L1265 1783.02L1266 1781.62L1267 1780.43L1268 1782.07L1269 1783.28L1270 1782.39L1271 1782.15L1272 1781.22L1273 1779.53L1274 1780.78L1275 1781.97L1276 1781.43L1277 1782.33L1278 1782.97L1279 1782.68L1280 1783.14L1281 1783.6L1282 1782.14L1283 1780.65L1284 1780.17L1285 1779.76L1286 1781.7L1287 1783.57L1288 1783.43L1289 1783.06L1290 1782.92L1291 1782.85L1292 1781.42L1293 1780.65L1294 1782.36L1295 1783.6L1296 1783.31L1297 1783.02L1298 1783.21L1299 1783.4L1300 1783.5L1301 1782.46L1302 1781.32L1303 1782.07L1304 1782.82L1305 1782.83L1306 1782.84L1307 1782.99L1308 1782.47L1309 1780.76L1310 1780.39L1311 1781.79L1312 1782.29L1313 1782.41L1314 1782.72L1315 1782.85L1316 1783.32L1317 1783.6L1318 1783.6L1319 1783.6L1320 1783.37L1321 1782.04L1322 1781.16L1323 1782.03L1324 1782.58L1325 1782.94L1326 1783.5L1327 1783.11L1328 1781.57L1329 1781.01L1330 1782.55L1331 1783.04L1332 1782.49L1333 1781.96L1334 1780.55L1335 1780.07L1336 1781.35L1337 1782.64L1338 1781.7L1339 1780.64L1339.6 1781.61L1340 1782.2L1341 1775.81L1341.35 1773.87L1342 1770.86L1342.3 1770L1342.9 1770L1343 1770.21L1343.85 1773.87L1344 1774.68L1345 1780.84L1345.6 1783.26L1346 1783.03L1347 1782.46L1348 1783.03L1349 1783.6L1350 1783.6L1351 1783.24L1352 1782.82L1353 1782.98L1354 1783.05L1355 1783.01L1355.5 1782.98L1356 1780.78L1356.5 1776.94L1356.7 1776L1357 1776L1357.3 1776L1357.5 1776.94L1358 1780.78L1358.5 1782.94L1359 1782.87L1360 1782.61L1361 1783L1362 1783.37L1363 1783.43L1364 1783.51L1365 1783.6L1366 1783.6L1367 1783.6L1368 1783.19L1369 1782.74L1370 1783.03L1371 1783.39L1372 1783.51L1373 1783.6L1374 1783.05L1375 1782.02L1376 1782.09L1377 1782.98L1377.7 1783.01L1378 1782.95L1378.95 1777.59L1379 1777.36L1379.4 1776L1380 1776L1380.45 1777.59L1381 1780.49L1381.7 1782.33L1382 1782.1L1383 1781.38L1384 1781.4L1385 1782.52L1386 1782.42L1387 1781.57L1388 1782.59L1389 1783.6L1390 1783.6L1391 1783.6L1392 1783.6L1393 1783.3L1394 1782.99L1395 1783.24L1396 1783.48L1397 1783.54L1398 1783.18L1399 1782.75L1400 1782.71L1401 1782.66L1402 1783.09L1403 1783.52L1404 1783.56L1405 1783.6L1406 1783.6L1407 1783.6L1408 1783.6L1409 1783.07L1410 1782.54L1411 1782.59L1412 1782.22L1413 1781.09L1414 1780.72L1415 1782.26L1416 1783.4L1417 1783.35L1418 1783.47L1419 1782.77L1420 1781.96L1421 1782.78L1422 1783.6L1423 1783.6L1424 1783.6L1425 1783.34L1426 1782.99L1427 1783.15L1428 1783.51L1429 1783.6L1430 1783.6L1431 1783.47L1432 1783.35L1433 1783.47L1434 1783.11L1435 1782.55L1436 1782.95L1437 1783.52L1438 1783.58L1439 1783.21L1440 1782.88L1441 1783.25L1442 1783.6L1443 1783.44L1444 1783.27L1445 1783.24L1446 1781.94L1447 1780.86L1448 1781.87L1449 1781.97L1450 1780.67L1451 1779.87L1452 1780.71L1453 1782.44L1454 1783.13L1455 1783.36L1456 1783.6L1457 1783.6L1458 1783.6L1459 1782.95L1460 1782.01L1461 1782.27L1462 1783.13L1463 1783.52L1464 1783.6L1465 1783.44L1466 1783.29L1467 1783.44L1468 1783.57L1469 1783.54L1470 1783.57L1471 1783.6L1472 1783.6L1473 1783.43L1474 1783.26L1475 1782.94L1476 1781.87L1477 1780.93L1478 1781.48L1479 1782.7L1480 1782.79L1481 1782.38L1482 1782.35L1483 1782.62L1484 1783.23L1485 1783.6L1486 1783.6L1487 1783.6L1488 1783.6L1489 1783.6L1489 1783.6Z" fill="#141414" stroke="#141414" stroke-width="0.6" stroke-linejoin="round"/>
<line x1="119" y1="1784.6" x2="1489" y2="1784.6" stroke="#141414" stroke-width="2.2"/>
<path d="M119 1794.2L119 1794.37L120 1794.54L121 1794.37L122 1794.25L123 1794.31L124 1794.25L125 1794.2L126 1794.46L127 1794.9L128 1794.81L129 1794.38L130 1794.21L131 1794.2L132 1794.35L133 1795.81L134 1796.98L135 1796.6L136 1796.37L137 1795.28L138 1794.2L139 1794.63L140 1795.05L141 1794.63L142 1794.2L143 1795.05L144 1796.27L145 1796.45L146 1795.93L147 1794.95L148 1794.25L149 1794.2L150 1794.32L151 1794.74L152 1816.82L152.2 1820L152.8 1820L153 1816.82L154 1796.44L155 1796.29L156 1797.02L157 1797.06L158 1796.1L159 1796L160 1795.1L161 1794.87L162 1795.54L163 1794.87L164 1795.69L165 1797.56L166 1796.46L167 1794.81L168 1795.08L169 1795.4L170 1794.86L171 1794.31L172 1794.2L173 1794.2L174 1794.48L175 1794.76L176 1794.55L177 1794.42L178 1794.43L179 1794.43L180 1794.5L181 1794.35L182 1794.2L183 1794.2L184 1794.2L185 1794.24L185.3 1794.28L186 1802.4L186.3 1806.3L186.5 1808L187 1808L187.1 1808L187.3 1806.3L188 1795.97L188.3 1794.88L189 1795.16L190 1795.17L191 1794.91L192 1795.12L193 1795.71L194 1796.15L195 1795.52L196 1794.51L197 1794.2L198 1794.2L199 1794.32L200 1794.43L201 1794.48L202 1794.68L203 1795.95L204 1796.91L205 1795.68L206 1795.05L207 1795.29L208 1796.23L209 1797.37L210 1795.81L211 1794.53L212 1794.83L213 1794.56L214 1794.3L215 1794.35L216 1795.24L217 1796.08L218 1795.12L219 1794.2L220 1795.26L221 1796.32L222 1795.26L223 1794.2L224 1795.37L225 1796.65L226 1796.69L227 1796.52L228 1796.12L229 1796.06L230 1797.2L231 1797.89L232 1795.99L233 1794.3L234 1794.25L235 1794.2L236 1794.56L237 1794.92L238 1794.56L239 1794.2L240 1794.68L241 1795.92L242 1796.55L243 1796.17L244 1795.79L245 1795.43L246 1795.39L247 1795.28L248 1795.28L249 1795.58L250 1794.89L251 1794.94L252 1795.67L253 1795.03L253.7 1794.58L254 1795.04L255 1802.78L255.45 1805.79L256 1808.9L256.4 1810.4L257 1810.4L257.95 1805.79L258 1805.48L259 1798.28L259.7 1795.39L260 1795.44L261 1794.81L262 1794.24L263 1794.54L264 1794.93L265 1794.79L266 1794.87L267 1795.39L268 1795.06L269 1794.38L270 1794.31L271 1794.43L272 1794.49L272.9 1794.55L273 1794.55L274 1804.22L274.15 1805.59L274.6 1808.6L275 1808.6L275.2 1808.6L275.65 1805.59L276 1802.24L276.9 1794.25L277 1794.2L278 1794.53L279 1794.86L280 1795.13L281 1796.32L282 1796.65L283 1795.34L284 1794.61L285 1794.41L286 1794.31L287 1794.42L288 1807.61L288.2 1809.5L288.8 1809.5L289 1807.61L290 1794.78L291 1794.88L292 1794.63L293 1794.89L294 1795.7L295 1795.51L296 1794.61L297 1794.2L298 1794.2L299 1794.2L300 1794.2L301 1794.75L302 1795.29L303 1794.75L304 1794.65L305 1795.31L306 1795.06L307 1794.42L308 1794.23L309 1794.75L310 1795.48L311 1795.14L312 1795.15L313 1797.27L314 1798.06L315 1795.75L316 1794.84L317 1797.33L318 1798.56L319 1796.06L320 1794.2L321 1794.34L322 1794.94L323 1796.05L324 1796.37L325 1795.24L326 1794.37L327 1794.29L328 1794.24L329 1794.2L330 1795.67L331 1797.14L332 1795.67L333 1794.2L334 1794.26L335 1794.45L336 1794.53L337 1794.49L338 1794.76L339 1795.04L340 1794.79L341 1794.36L342 1794.41L343 1794.62L344 1794.98L345 1795.35L346 1794.77L347 1795.53L348 1796.89L349 1795.79L350 1794.64L351 1794.41L352 1794.2L353 1794.2L354 1794.2L355 1794.21L356 1794.56L357 1794.95L358 1794.63L359 1794.24L359.9 1794.25L360 1794.25L360.9 1799.28L361 1799.71L361.1 1800L361.7 1800L361.9 1799.28L362 1798.79L362.9 1794.2L363 1794.2L364 1794.2L365 1794.57L366 1795.18L367 1795.35L368 1795.02L369 1794.49L370 1794.6L371 1795.65L372 1796.1L373 1795.23L374 1794.38L375 1794.91L376 1795.74L377 1795.15L378 1794.45L379 1794.46L380 1794.55L381 1794.69L382 1794.51L383 1795.04L384 1797.01L385 1797.81L386 1796.6L387 1795.61L388 1794.95L388.8 1794.91L389 1794.9L389.8 1801.04L390 1802L390.6 1802L390.8 1801.04L391 1799.63L391.8 1794.41L392 1794.29L393 1794.27L394 1794.37L395 1794.34L396 1794.24L397 1794.2L398 1794.36L399 1794.84L400 1795.04L401 1794.66L402 1794.36L403 1795.11L404 1796.23L405 1796.69L406 1796.49L407 1795.5L408 1794.85L409 1795.26L410 1795.68L411 1795.28L412 1794.87L413 1794.54L414 1794.2L415 1794.2L416 1794.2L416.6 1794.2L417 1795.18L417.85 1798.79L418 1799.28L418.3 1800L418.9 1800L419 1799.83L419.35 1798.79L420 1796.12L420.6 1794.55L421 1794.45L422 1794.2L423 1796.05L424 1798.45L425 1797.15L426 1795.24L427 1795.79L428 1796.03L429 1795.17L430 1794.82L431 1797.41L432 1800.12L433 1798.74L434 1797.04L435 1796.2L436 1795.18L436.8 1795.01L437 1794.97L437.8 1806.82L438 1808.6L438.6 1808.6L438.8 1806.82L439 1804.22L439.8 1796.68L440 1797.29L441 1800.31L442 1797.25L443 1794.2L444 1794.2L445 1794.2L446 1794.2L447 1795.51L448 1796.83L449 1795.58L450 1794.33L451 1794.27L452 1794.21L453 1794.23L454 1794.88L455 1795.53L456 1795.08L457 1794.62L458 1794.55L459 1794.47L460 1794.34L461 1794.2L462 1794.2L463 1794.2L464 1794.2L465 1794.29L466 1794.39L467 1794.93L468 1795.47L469 1795.04L470 1794.62L471 1794.41L472 1794.32L473 1794.45L474 1794.32L475 1794.2L476 1794.81L477 1795.42L478 1794.81L479 1794.41L480 1794.86L481 1795.56L482 1795.78L483 1794.91L484 1794.27L485 1794.23L486 1794.57L487 1794.94L488 1794.57L489 1795.81L490 1798.4L491 1798.06L492 1795.93L493 1794.97L494 1794.64L495 1794.4L496 1794.45L497 1794.49L498 1794.31L499 1794.2L500 1794.2L501 1794.98L502 1796.07L503 1795.6L504 1794.51L505 1794.2L506 1794.74L507 1795.28L508 1794.74L509 1794.88L510 1795.55L511 1794.88L512 1794.29L513 1794.89L514 1795.31L515 1795L516 1795.08L517 1795.42L518 1795.27L519 1794.76L520 1794.31L521 1794.32L522 1794.44L523 1794.32L524 1794.29L525 1794.38L526 1794.87L527 1795.36L528 1794.78L529 1794.2L530 1794.44L531 1794.69L532 1794.75L533 1795.37L534 1795.77L535 1795.05L536 1795.75L537 1797L538 1795.6L539 1794.64L540 1795.18L541 1795L542 1794.63L543 1794.36L544 1795.26L545 1796.32L546 1808.4L546.2 1810.4L546.8 1810.4L547 1808.4L548 1795.41L549 1794.2L550 1794.2L551 1794.2L552 1794.56L553 1795.21L554 1795.5L555 1795.22L556 1794.57L557 1794.2L558 1794.2L559 1794.38L560 1794.56L561 1794.71L561.4 1794.92L562 1799.68L562.4 1804.11L562.6 1805.5L563 1805.5L563.2 1805.5L563.4 1804.11L564 1797.05L564.4 1794.41L565 1794.2L566 1794.46L567 1794.72L568 1794.46L569 1794.2L570 1794.2L571 1794.46L572 1794.74L573 1794.65L574 1794.51L575 1794.86L576 1795.23L577 1794.72L578 1794.2L579 1794.61L580 1795.03L581 1795.49L582 1795.96L583 1795.08L584 1794.2L585 1794.2L586 1794.29L587 1794.39L588 1794.83L589 1795.39L590 1795.83L591 1796.75L592 1797.15L593 1796.79L594 1796.4L595 1795.61L596 1794.63L597 1794.97L598 1795.96L599 1795.5L600 1794.57L601 1795.31L602 1796.46L603 1795.8L604 1795.41L605 1795.89L606 1795.3L607 1794.43L607.2 1794.39L608 1802.07L608.2 1804.11L608.4 1805.5L609 1805.5L609.2 1804.11L610 1794.2L610.2 1794.24L611 1794.38L612 1794.56L613 1794.38L614 1795.04L615 1795.88L616 1795.19L617 1794.5L618 1794.35L619 1794.2L620 1794.2L621 1794.2L622 1794.2L623 1794.2L624 1794.28L625 1794.35L626 1794.79L627 1795.25L628 1795.36L629 1795.45L630 1795.4L631 1795.88L632 1796.25L633 1795.62L634 1794.85L635 1794.57L636 1794.38L637 1794.22L638 1794.21L639 1795.04L640 1795.99L641 1795.26L641.4 1795.42L642 1796.95L642.65 1800.76L643 1802.25L643.1 1802.5L643.7 1802.5L644 1801.48L644.15 1800.76L645 1795.61L645.4 1794.31L646 1794.2L647 1794.43L648 1794.66L649 1794.43L650 1794.68L651 1795.16L652 1794.74L653 1794.5L654 1794.61L655 1794.48L656 1794.71L657 1794.9L658 1794.5L659 1794.2L660 1794.2L661 1794.2L662 1794.94L663 1796.7L664 1797.55L665 1796.37L666 1794.8L667 1794.52L668 1795.1L669 1795.16L670 1795.11L671 1795.25L672 1794.74L673 1794.4L674 1794.49L675 1795.03L676 1795.6L677 1794.9L678 1795.13L679 1796.27L680 1795.59L681 1794.44L682 1794.2L683 1794.2L684 1794.2L685 1794.28L686 1796.24L687 1798.06L688 1796.19L689 1794.4L690 1795.65L691 1796.9L692 1795.55L693 1794.2L694 1794.2L695 1794.2L696 1794.2L697 1794.44L698 1794.89L699 1794.85L700 1794.54L701 1794.55L702 1794.49L703 1794.28L704 1794.31L705 1794.55L706 1794.73L707 1795.27L708 1795.61L709 1794.89L710 1795.25L711 1796.13L712 1795.17L713 1794.72L714 1795.12L715 1794.64L716 1794.2L717 1794.2L718 1794.51L719 1794.82L720 1794.51L721 1794.2L722 1794.2L723 1794.2L724 1794.2L725 1794.42L726 1794.65L727 1794.5L728 1794.34L729 1794.27L730 1794.2L731 1794.2L732 1794.32L733 1794.44L734 1794.32L735 1794.41L736 1794.62L737 1794.53L738 1794.43L739 1794.55L740 1794.67L740.5 1794.63L741 1796.35L741.5 1799.28L741.7 1800L742 1800L742.3 1800L742.5 1799.28L743 1796.35L743.5 1794.44L744 1794.42L745 1794.53L746 1794.63L747 1794.41L748 1794.2L749 1794.2L750 1794.7L751 1795.25L752 1795.24L753 1795.19L754 1794.75L755 1794.25L756 1794.2L757 1794.2L758 1794.2L759 1794.2L760 1794.23L761 1794.38L762 1794.46L763 1794.32L764 1794.9L765 1795.59L766 1794.9L767 1794.27L768 1794.94L769 1795.47L770 1794.8L771 1794.32L772 1794.45L773 1794.5L774 1794.55L774.3 1794.71L775 1798.83L775.3 1801.04L775.5 1802L776 1802L776.1 1802L776.3 1801.04L777 1795.79L777.3 1795.88L778 1796.08L779 1795.35L780 1794.79L781 1795.89L782 1796.55L783 1795.64L784 1794.53L785 1794.2L786 1794.23L787 1795.02L788 1795.89L789 1795.24L790 1794.34L791 1794.2L792 1794.2L793 1794.53L794 1794.87L795 1795.04L796 1795.67L797 1795.7L798 1795.36L799 1795.58L800 1796.2L801 1797.27L802 1796.75L803 1795.31L804 1795.01L805 1794.69L806 1794.26L807 1794.2L808 1794.45L809 1794.69L810 1794.51L811 1794.36L812 1794.33L813 1794.24L814 1794.2L815 1794.2L816 1794.2L816.5 1794.53L817 1797.09L817.5 1801.04L817.7 1802L818 1802L818.3 1802L818.5 1801.04L819 1797.09L819.5 1794.96L820 1794.84L821 1795.16L822 1794.78L823 1794.45L824 1794.32L825 1794.2L826 1794.45L827 1796.03L828 1797.11L829 1795.53L830 1794.2L831 1794.2L832 1794.2L833 1794.5L834 1794.8L835 1795.2L836 1795.6L837 1794.9L838 1794.2L839 1794.24L840 1794.37L841 1794.44L842 1794.46L843 1794.53L844 1794.67L845 1794.86L846 1794.84L847 1794.69L847.3 1794.72L848 1798.01L848.55 1801.56L849 1803.5L849.6 1803.5L850 1801.83L850.05 1801.56L851 1795L851.3 1794.46L852 1794.44L853 1794.6L854 1795.8L855 1797.52L856 1796.83L857 1796.15L858 1797.48L859 1797.77L860 1796.32L861 1795.33L862 1795.3L863 1795.37L864 1795.84L865 1796.53L866 1796.43L867 1795.12L868 1794.44L869 1794.74L870 1794.79L871 1795.2L872 1795.36L873 1796.05L874 1797.15L875 1795.9L876 1794.53L877 1794.57L878 1794.41L879 1794.26L880 1794.61L881 1795.13L882 1794.98L883 1794.44L884 1794.35L885 1794.67L886 1795.1L887 1795.13L888 1794.71L889 1794.5L890 1794.35L891 1794.2L892 1794.7L893 1795.19L894 1794.7L895 1794.35L896 1794.49L897 1794.35L898 1794.65L899 1795.1L900 1794.8L900.3 1794.71L901 1850.14L901.3 1876.78L901.5 1888.4L902 1888.4L902.1 1888.4L902.3 1876.78L903 1806.26L903.3 1795.35L904 1795.97L905 1795.23L906 1794.48L907 1794.34L908 1794.42L909 1795.03L910 1795.3L911 1795.33L912 1796.01L913 1796.06L914 1795.01L915 1794.61L916 1794.72L917 1794.43L918 1794.2L919 1794.86L920 1795.52L921 1794.86L922 1794.73L923 1795.32L924 1794.84L925 1794.35L926 1794.4L927 1794.3L928 1794.23L929 1794.67L930 1795.06L931 1794.62L932 1794.68L933 1795.16L934 1794.68L935 1794.2L936 1794.2L937 1794.84L938 1795.67L939 1795.23L940 1794.45L941 1794.3L942 1794.25L943 1794.21L944 1794.21L945 1794.38L946 1794.55L947 1794.41L948 1794.27L949 1794.23L950 1795.31L951 1796.42L952 1795.31L953 1794.2L954 1794.2L955 1794.2L956 1794.32L957 1794.45L958 1794.5L959 1794.56L960 1794.38L961 1794.36L962 1794.78L963 1794.87L964 1794.76L965 1794.81L966 1795.7L967 1796.59L968 1795.43L969 1795.46L970 1796.6L971 1795.38L972 1794.77L973 1795.38L974 1794.86L975 1794.24L976 1794.9L977 1795.6L978 1794.9L979 1794.2L980 1794.2L981 1794.2L982 1795.13L983 1796.05L984 1795.13L985 1794.2L986 1794.36L987 1794.68L988 1794.68L989 1795.76L990 1797L991 1797.54L992 1798.07L993 1796.13L994 1794.3L995 1794.57L995.5 1794.62L996 1824.11L996.5 1864.85L996.7 1874.8L997 1874.8L997.3 1874.8L997.5 1864.85L998 1824.11L998.5 1795.66L999 1796.15L1000 1795.17L1001 1795.48L1002 1797.42L1003 1796.99L1004 1795.49L1005 1795.34L1006 1795.97L1007 1795.92L1008 1795.25L1009 1795.02L1010 1794.62L1011 1794.95L1012 1795.66L1013 1794.92L1014 1795.07L1015 1796.87L1016 1797.16L1017 1795.6L1018 1794.62L1019 1794.77L1020 1794.91L1021 1794.73L1022 1794.51L1023 1794.3L1024 1795.48L1025 1797.41L1026 1797.26L1027 1796.09L1028 1795.21L1029 1794.46L1030 1794.2L1031 1794.2L1032 1794.2L1033 1794.2L1034 1794.21L1035 1794.25L1036 1794.86L1037 1795.38L1038 1795.08L1039 1794.81L1040 1794.51L1041 1794.2L1042 1794.31L1043 1794.57L1044 1795L1045 1795.12L1046 1794.59L1047 1794.2L1048 1795.16L1049 1796.41L1050 1795.86L1051 1794.7L1052 1794.3L1053 1794.21L1054 1794.23L1055 1794.48L1056 1794.74L1057 1794.52L1058 1795.52L1059 1796.69L1060 1795.46L1061 1794.3L1061.7 1794.34L1062 1796.35L1062.7 1808.93L1062.9 1811L1063 1811L1063.5 1811L1063.7 1808.93L1064 1804.18L1064.7 1795.21L1065 1794.96L1066 1794.2L1067 1794.43L1068 1794.67L1069 1795.13L1070 1796.03L1071 1795.78L1072 1794.67L1073 1794.22L1074 1794.2L1075 1794.2L1076 1794.7L1077 1795.2L1078 1794.7L1079 1794.68L1080 1795.25L1081 1795.15L1082 1794.9L1083 1794.67L1084 1794.52L1085 1794.47L1086 1794.43L1087 1794.53L1088 1796.6L1089 1798.47L1090 1796.42L1091 1794.37L1092 1795.6L1093 1796.93L1094 1795.58L1095 1794.24L1096 1794.23L1097 1795.05L1098 1795.89L1099 1795.05L1100 1794.2L1101 1794.29L1102 1795.15L1103 1795.84L1104 1795.35L1105 1794.95L1106 1794.82L1107 1794.69L1108 1794.44L1109 1794.2L1110 1794.2L1111 1794.61L1112 1795.02L1113 1795.32L1114 1795.62L1115 1795.44L1116 1795.25L1117 1796.66L1118 1798.19L1119 1796.63L1120 1795.62L1121 1796.59L1122 1796.13L1123 1795.14L1124 1794.94L1125 1794.82L1126 1794.7L1127 1794.55L1128 1794.4L1128.5 1794.35L1129 1809.45L1129.5 1830.23L1129.7 1835.3L1130 1835.3L1130.3 1835.3L1130.5 1830.23L1131 1809.45L1131.5 1794.93L1132 1794.8L1133 1794.95L1134 1795.19L1135 1794.61L1136 1796.43L1137 1798.7L1138 1796.49L1139 1794.23L1140 1794.2L1141 1794.2L1142 1794.2L1143 1795.53L1144 1796.86L1145 1795.82L1146 1794.78L1147 1794.87L1148 1794.96L1149 1794.58L1150 1794.2L1151 1794.2L1152 1794.58L1153 1794.95L1154 1794.77L1155 1794.67L1156 1794.66L1157 1795L1157.1 1795.07L1158 1806.3L1158.1 1807.61L1158.3 1809.5L1158.9 1809.5L1159 1808.73L1159.1 1807.61L1160 1794.6L1160.1 1794.56L1161 1794.2L1162 1795.93L1163 1798.72L1164 1798.73L1165 1796.65L1166 1794.9L1167 1794.32L1168 1794.44L1169 1795.23L1170 1796.64L1171 1796.37L1172 1795.34L1173 1795.18L1174 1794.68L1175 1794.84L1176 1795.48L1177 1794.84L1178 1794.2L1179 1794.2L1180 1794.52L1181 1794.83L1182 1794.69L1183 1794.54L1184 1794.42L1185 1794.29L1186 1794.34L1187 1794.57L1188 1794.66L1189 1794.38L1190 1794.51L1191 1794.82L1192 1794.51L1193 1794.47L1194 1794.75L1195 1794.92L1196 1795.08L1197 1794.72L1198 1794.72L1199 1795.03L1200 1794.58L1201 1794.2L1202 1794.2L1203 1794.2L1204 1794.2L1205 1794.2L1206 1794.29L1207 1794.98L1208 1796.2L1209 1796.2L1210 1795.95L1211 1797.44L1212 1797.5L1213 1795.5L1214 1794.59L1215 1794.44L1216 1794.23L1217 1794.71L1218 1795.65L1219 1796.13L1220 1795.74L1221 1794.75L1222 1794.44L1223 1794.68L1224 1796.13L1225 1797.81L1226 1796.34L1227 1794.6L1228 1794.75L1229 1795.05L1230 1794.96L1231 1794.48L1232 1794.2L1233 1795.83L1234 1797.52L1235 1795.94L1236 1795.69L1237 1797.07L1238 1795.64L1239 1794.7L1240 1795.2L1241 1794.73L1242 1795.07L1243 1795.83L1244 1795L1245 1794.2L1246 1794.2L1247 1794.2L1248 1794.2L1249 1794.2L1250 1794.64L1251 1795.08L1252 1794.64L1253 1794.3L1254 1794.49L1255 1794.52L1256 1794.68L1257 1794.84L1258 1794.74L1259 1794.69L1260 1794.45L1261 1794.2L1262 1794.34L1263 1794.49L1264 1794.36L1265 1794.21L1266 1794.21L1267 1794.23L1268 1795.12L1269 1796.02L1270 1795.84L1271 1795.91L1272 1795.42L1273 1794.47L1274 1794.27L1275 1795L1276 1796.79L1277 1797.15L1278 1796.2L1279 1795.99L1280 1795.09L1281 1794.58L1282 1795.32L1283 1795.3L1284 1794.56L1285 1794.2L1286 1794.2L1287 1794.51L1288 1794.85L1289 1794.59L1290 1794.25L1291 1794.22L1292 1794.21L1293 1794.2L1294 1794.41L1295 1794.83L1296 1795.41L1297 1796.59L1298 1796.81L1299 1795.26L1300 1794.41L1301 1797L1302 1799.59L1303 1797.15L1304 1795.08L1305 1795.55L1306 1794.93L1307 1794.31L1308 1794.31L1309 1795.03L1310 1795.7L1311 1794.93L1312 1794.2L1313 1794.43L1314 1795.16L1315 1795.43L1316 1795.5L1317 1795.8L1318 1795L1319 1794.2L1320 1794.2L1321 1794.2L1322 1794.44L1323 1795.75L1324 1796.58L1325 1795.42L1326 1794.69L1327 1795.99L1328 1796.91L1329 1795.46L1330 1794.2L1331 1794.21L1332 1794.58L1333 1794.92L1334 1794.61L1335 1794.31L1336 1794.25L1337 1794.89L1338 1796.19L1339 1796.23L1340 1795.03L1340.1 1794.96L1341 1800.37L1341.6 1804.92L1342 1807.38L1342.3 1808.6L1342.9 1808.6L1343 1808.31L1343.6 1804.92L1344 1801.98L1345 1795.29L1345.1 1795.36L1346 1796.02L1347 1795.2L1348 1795.16L1349 1795.68L1350 1795.18L1351 1794.83L1352 1795.84L1353 1797.67L1354 1798.12L1354.5 1797.76L1355 1801.55L1355.5 1811.56L1355.7 1814L1356 1814L1356.3 1814L1356.5 1811.56L1357 1801.55L1357.5 1795.76L1358 1795.57L1359 1795.05L1360 1795.03L1361 1794.85L1362 1794.67L1363 1795.21L1364 1795.52L1365 1795.07L1366 1794.77L1367 1794.49L1368 1794.7L1369 1795.24L1370 1794.97L1371 1794.64L1372 1794.45L1373 1794.29L1374 1794.25L1375 1794.2L1376 1794.2L1377 1794.2L1378 1794.75L1378.3 1795.05L1379 1800.47L1379.55 1806.3L1380 1809.5L1380.6 1809.5L1381 1806.76L1381.05 1806.3L1382 1795.51L1382.3 1794.29L1383 1794.2L1384 1794.31L1385 1794.41L1386 1794.38L1387 1794.67L1388 1794.93L1389 1794.77L1390 1794.82L1391 1794.72L1392 1795.26L1393 1796.37L1394 1796.41L1395 1796.47L1396 1796.24L1397 1794.92L1398 1794.6L1399 1795.02L1400 1795.32L1401 1795.58L1402 1794.88L1403 1794.2L1404 1794.3L1405 1794.67L1406 1795.26L1407 1795.29L1408 1795.41L1409 1795.8L1410 1795L1411 1794.51L1412 1795.05L1413 1795.18L1414 1795.02L1415 1794.79L1416 1794.48L1417 1794.32L1418 1794.59L1419 1794.8L1420 1794.47L1421 1794.51L1422 1794.83L1423 1794.51L1424 1794.2L1425 1794.2L1426 1794.64L1427 1795.08L1428 1794.74L1429 1794.4L1430 1794.3L1431 1794.2L1432 1794.38L1433 1794.56L1434 1794.38L1435 1794.9L1436 1795.61L1437 1794.9L1438 1794.85L1439 1796.08L1440 1796.05L1441 1794.86L1442 1794.81L1443 1795.34L1444 1795.52L1445 1795.71L1446 1795.47L1447 1795.44L1448 1795.14L1449 1794.58L1450 1794.53L1451 1794.36L1452 1794.2L1453 1794.2L1454 1794.23L1455 1794.25L1456 1794.23L1457 1795.25L1458 1796.62L1459 1795.88L1460 1795.09L1461 1795.35L1462 1794.77L1463 1794.2L1464 1794.89L1464.7 1795.4L1465 1795.62L1465.7 1799.28L1465.9 1800L1466 1800L1466.5 1800L1466.7 1799.28L1467 1797.64L1467.7 1797.44L1468 1797.76L1469 1795.75L1470 1794.39L1471 1795.34L1472 1795.9L1473 1795.23L1474 1794.74L1475 1794.63L1476 1794.53L1477 1794.4L1478 1794.27L1479 1794.25L1480 1794.22L1481 1794.51L1482 1794.95L1483 1794.81L1484 1794.82L1485 1796.23L1486 1797.18L1487 1796.22L1488 1795.26L1489 1794.78L1489 1794.2Z" fill="#141414" stroke="#141414" stroke-width="0.6" stroke-linejoin="round"/>
<line x1="119" y1="1793.3" x2="1489" y2="1793.3" stroke="#141414" stroke-width="2.2"/>
<path d="M119 1977.4L119 1975.17L119.5 1972.14L119.7 1971.4L120 1971.4L120.3 1971.4L120.5 1972.14L121 1975.17L121.5 1977.33L122 1977.38L123 1977.39L124 1977.38L125 1977.36L126 1977.34L127 1977.37L128 1977.4L129 1977.4L130 1977.22L131 1976.55L132 1976.24L133 1976.82L134 1976.91L135 1976.69L135.2 1976.77L136 1967.72L136.2 1965.22L136.4 1963.5L137 1963.5L137.2 1965.22L138 1977.4L138.2 1977.4L139 1977.4L140 1977.4L141 1977.4L142 1977.4L143 1977.31L144 1977.19L145 1977.25L146 1977.34L147 1977.16L148 1976.95L149 1977.11L150 1977.13L150.5 1977.05L151 1968.76L151.75 1950.27L152 1945.6L152.2 1943.1L152.8 1943.1L153 1945.6L153.25 1950.27L154 1968.76L154.5 1976.47L155 1976.43L156 1977.02L157 1977.33L158 1977.36L159 1977.2L160 1977L161 1977.16L162 1977.33L163 1977.24L164 1977.15L165 1977.27L166 1977.38L167 1977.33L168 1977.14L169 1977.01L170 1977.22L171 1977.25L172 1977.03L173 1977.12L174 1977.34L175 1977.4L176 1977.4L177 1977.4L177.7 1977.4L178 1975.56L178.7 1964.78L178.9 1963L179 1963L179.5 1963L179.7 1964.78L180 1968.85L180.7 1977.1L181 1977.01L182 1976.71L183 1976.98L184 1977.34L184.8 1977.39L185 1977.4L186 1907.46L186.05 1904.63L186.5 1885.4L187 1885.4L187.1 1885.4L187.55 1904.63L188 1932.76L188.8 1977.23L189 1977.21L190 1977.31L191 1977.4L192 1977.4L193 1977.4L194 1977.4L195 1977.4L196 1977.4L197 1977.4L198 1977.23L199 1977.06L199.5 1977.15L200 1974.84L200.5 1971.35L200.7 1970.5L201 1970.5L201.3 1970.5L201.5 1971.35L202 1974.84L202.5 1977.4L203 1977.4L204 1977.4L205 1977.4L206 1977.4L207 1977.37L208 1977.35L209 1977.31L210 1977.27L211 1977.03L212 1976.78L213 1977.07L214 1977.38L214.8 1977.39L215 1977.39L215.8 1966L216 1964.4L216.6 1964.4L216.8 1966L217 1968.35L217.8 1977.05L218 1976.96L219 1976.52L220 1976.96L221 1977.39L222 1977.37L223 1977.2L224 1976.99L225 1977.14L226 1977.36L227 1977.4L228 1977.39L228.7 1977L229 1975.62L229.7 1965.22L229.9 1963.5L230 1963.5L230.5 1963.5L230.7 1965.22L231 1969.15L231.7 1977.24L232 1977.4L233 1977.4L234 1977.4L235 1977.4L236 1977.4L237 1977.4L238 1977.4L239 1977.4L240 1977.4L241 1977.4L242 1977.4L243 1977.4L244 1977.4L245 1977.4L246 1977.4L247 1977.4L248 1977.4L249 1977.4L250 1977.4L251 1977.13L252 1976.83L253 1977.02L254 1977.24L255 1977.29L256 1977.21L257 1976.99L258 1977.05L259 1977.3L260 1977.15L261 1976.79L262 1976.94L263 1977.3L263.8 1977.38L264 1977.4L265 1975.8L265.8 1974.69L266 1974.43L267 1973.5L267.6 1973.5L268 1973.78L268.8 1974.69L269 1974.95L270 1976.42L270.8 1976.97L271 1976.9L272 1976.91L273 1977.24L274 1977.4L275 1977.4L276 1977.4L277 1977.4L278 1977.4L279 1977.4L280 1977.4L281 1977.12L282 1976.75L283 1976.95L284 1977.16L285 1977.08L286 1977.16L287 1977.21L288 1958.82L288.2 1956.2L288.8 1956.2L289 1958.82L290 1977.39L291 1977.38L292 1977.33L293 1977.16L294 1977.08L295 1977.13L296 1977.14L297 1977.27L298 1977.4L299 1977.38L300 1977.36L301 1977.38L302 1977.22L303 1977.03L304 1977.04L305 1977.03L305.7 1977.12L306 1976.75L306.95 1971.39L307 1971.16L307.4 1969.8L308 1969.8L308.45 1971.39L309 1974.29L309.7 1977.35L310 1977.39L311 1977.4L312 1977.4L313 1977.4L314 1977.4L315 1977.32L316 1977.18L317 1977.19L318 1977.33L319 1977.4L320 1977.4L321 1977.38L322 1977.36L323 1977.38L324 1977.4L325 1977.4L326 1977.4L327 1977.4L328 1977.4L329 1977.26L330 1977.12L331 1977.26L332 1977.4L333 1977.13L334 1976.86L335 1977.13L336 1971.35L336.2 1970.5L336.8 1970.5L337 1971.35L338 1977.36L339 1977.32L340 1977.36L341 1977.4L342 1977.24L343 1976.67L344 1976.44L345 1977L346 1977.4L347 1977.36L348 1977.19L349 1977.09L350 1977.15L351 1977.16L352 1977.18L353 1976.88L354 1976.32L355 1976.43L356 1976.58L357 1976.08L358 1976.28L359 1977.09L360 1977.4L361 1943.07L361.25 1934.21L361.7 1922.8L362 1922.8L362.3 1922.8L362.75 1934.21L363 1943.07L364 1977.14L365 1977.06L366 1976.78L367 1976.35L368 1976.63L369 1977.19L370 1977.34L371 1977.37L372 1977.16L373 1976.92L374 1977.16L375 1977.27L376 1977.14L377 1977.27L378 1977.4L379 1977.4L380 1977.4L381 1977.2L382 1976.99L383 1977.2L384 1977.32L385 1977.01L386 1976.85L387 1977.16L388 1977.4L389 1977.15L390 1976.9L391 1977.15L392 1977.16L393 1976.92L394 1977.02L395 1977.11L396 1977.13L397 1976.95L398 1976.87L399 1977.19L400 1977.39L401 1977.4L402 1977.2L403 1976.95L404 1976.99L405 1977.09L406 1977.22L407 1977.36L408 1977.1L409 1976.73L410 1976.9L411 1977.2L412 1977.32L413 1977.39L414 1977.4L415 1977.4L416 1977.4L417 1977.4L418 1977.24L419 1976.76L420 1976.6L421 1977.08L422 1977.4L423 1977.4L424 1977.4L425 1977.4L426 1977.4L427 1977.4L428 1977.4L429 1977.22L430 1977.04L431 1977.08L432 1976.99L433 1976.99L434 1977.26L435 1977.4L436 1977.4L436.3 1977.32L437 1953.02L437.55 1930.34L438 1917.9L438.6 1917.9L439 1928.57L439.05 1930.34L440 1972.3L440.3 1977.05L441 1976.87L442 1977.13L443 1977.4L444 1977.4L445 1977.4L446 1969.42L446.2 1968.3L446.8 1968.3L447 1969.42L448 1977.4L449 1977.4L450 1977.4L451 1977.35L452 1977.3L453 1977.35L454 1977.4L455 1977.18L456 1976.97L457 1977.19L458 1977.4L459 1977.4L460 1977.34L461 1977.16L462 1977L463 1977.06L464 1977.24L465 1977.26L466 1977.2L467 1977.24L468 1977.27L469 1977.34L470 1977.3L471 1977.21L472 1977.3L473 1977.4L474 1977.31L475 1977.22L476 1977.31L477 1977.37L478 1977.08L479 1976.87L480 1977.02L481 1977.13L482 1977.23L483 1977.38L484 1977.07L485 1976.74L486 1977.07L487 1977.4L488 1977.4L489 1977.4L490 1977.4L491 1977.23L492 1977.05L493 1977.13L494 1977.22L495 1977.31L496 1977.38L497 1977.32L498 1977.3L499 1977.1L500 1976.68L501 1976.74L502 1977.2L503 1977.4L504 1977.4L505 1977.28L506 1977.15L507 1977.11L508 1977.06L509 1977.11L510 1977.16L511 1976.89L512 1976.6L513 1976.97L514 1977.26L515 1977.16L516 1977.26L517 1977.36L518 1977.38L519 1977.4L520 1977.4L521 1977.4L522 1977.4L523 1977.24L524 1976.84L525 1976.77L526 1977.16L527 1977.4L528 1977.4L529 1977.24L530 1977.09L531 1977.24L532 1977.4L533 1977.07L534 1976.72L534.5 1976.84L535 1971.61L536 1954.77L536.7 1947L537 1947L537.3 1947L538 1954.77L538.5 1962.65L539 1971.61L539.5 1971.38L540 1968.17L540.7 1965L541 1965L541.3 1965L542 1968.17L543 1975.04L543.5 1977.3L544 1977.22L545 1976.97L546 1964.78L546.2 1963L546.8 1963L547 1964.78L548 1977.06L549 1977.4L550 1977.4L551 1977.4L552 1977.4L553 1977.27L554 1976.98L555 1976.96L555.6 1977.13L556 1963.4L556.6 1928.66L556.8 1921.8L557 1921.8L557.4 1921.8L557.6 1928.66L558 1950.42L558.6 1977.19L559 1977.14L560 1977.27L561 1977.4L561.4 1977.4L562 1950.91L562.4 1929.54L562.6 1922.8L563 1922.8L563.2 1922.8L563.4 1929.54L564 1963.65L564.4 1977.3L565 1977.14L566 1976.88L567 1976.81L568 1976.37L569 1976.34L570 1977.03L571 1977.4L572 1977.25L573 1976.8L574 1976.65L575 1977.08L576 1977.36L577 1977.38L578 1977.4L579 1977.4L580 1976.99L581 1976.59L582 1976.88L583 1976.98L584 1976.89L585 1977.2L586 1977.32L587 1977.25L588 1977.32L589 1977.14L590 1976.88L591 1976.98L592 1977.07L593 1976.85L594 1976.66L595 1977.03L596 1977.33L597 1977.24L598 1977.21L599 1976.89L600 1976.63L601 1976.88L602 1977.06L603 1977.23L604 1977.04L605 1976.68L606 1977L606.7 1977.23L607 1972.19L607.95 1929.39L608 1927.59L608.4 1916.7L609 1916.7L609.45 1929.39L610 1952.53L610.7 1977.29L611 1977.28L611.5 1977.31L612 1970.94L612.5 1962.15L612.7 1960L613 1960L613.3 1960L613.5 1962.15L614 1970.94L614.5 1977.2L615 1977.27L616 1977.4L617 1977.31L618 1977.22L619 1977.16L620 1977.1L621 1977.02L622 1976.93L623 1977.17L624 1977.4L625 1977.4L626 1977.4L627 1977.4L628 1977.25L629 1976.76L630 1976.52L631 1976.57L632 1976.57L633 1977.01L633.1 1977.05L634 1962.29L634.1 1960.66L634.3 1958.3L634.9 1958.3L635 1959.26L635.1 1960.66L636 1977.4L636.1 1977.4L637 1977.4L638 1977.38L639 1977.36L640 1977.38L641 1977.38L642 1977.24L642.2 1977.22L643 1969.46L643.2 1967.41L643.4 1966L644 1966L644.2 1967.41L645 1977.32L645.2 1977.33L646 1977.36L647 1977.11L648 1976.32L649 1976L650 1976.7L651 1977.22L652 1977L653 1976.84L654 1977.05L655 1977.19L656 1977.3L657 1977.13L658 1976.86L659 1977.13L660 1977.4L661 1977.4L662 1977.4L663 1977.3L664 1977.2L665 1977.3L666 1977.2L667 1976.94L668 1977.07L669 1976.84L670 1976.42L671 1976.91L672 1977.4L673 1977.4L674 1977.4L675 1977.18L676 1976.96L676.8 1977.06L677 1977.08L677.8 1963.29L678 1961.3L678.6 1961.3L678.8 1963.29L679 1966.19L679.8 1977.38L680 1977.4L681 1977.36L682 1977.32L683 1977.36L684 1977.32L685 1977.15L686 1977.12L687 1977.1L688 1976.87L689 1976.72L690 1976.83L691 1977.18L692 1977.4L693 1977.4L694 1977.4L695 1977.32L696 1977.2L697 1977.22L698 1977.35L699 1977.4L700 1977.4L701 1977.38L702 1977.36L703 1977.38L704 1977.4L705 1977.37L706 1977.34L707 1977.37L708 1977.4L709 1977.25L710 1977.09L711 1977.25L712 1977.4L713 1977.39L714 1977.37L715 1977.39L716 1977.04L717 1976.67L718 1976.98L719 1977.29L720 1977.35L721 1977.36L722 1977.28L723 1977.27L724 1977.35L725 1977.19L726 1976.98L727 1976.99L728 1976.87L729 1976.92L730 1977.22L731 1976.94L732 1976.34L733 1976.57L734 1977.13L735 1977.25L736 1977.28L737 1977.3L738 1977.35L739 1977.4L740 1977.4L740.6 1977.4L741 1973.95L741.6 1965.39L741.8 1963.7L742 1963.7L742.4 1963.7L742.6 1965.39L743 1970.75L743.6 1977.12L744 1977.05L745 1977.23L746 1977.26L747 1977.13L748 1977.26L749 1977.4L750 1977.32L751 1977.24L752 1977.32L753 1977.26L754 1977.13L755 1977.26L756 1977.4L757 1977.4L758 1977.27L759 1977L760 1976.97L761 1977.25L762 1977.37L763 1977.35L764 1977.37L765 1977.4L766 1977.04L767 1976.68L768 1976.9L769 1977.06L770 1977.13L771 1977.29L772 1977.3L773 1977.3L774 1977.3L774.4 1977.32L775 1948.6L775.65 1908.75L776 1893.17L776.1 1890.6L776.7 1890.6L777 1901.31L777.15 1908.75L778 1962.67L778.4 1977.27L779 1977.37L780 1977.21L781 1977.01L782 1977.19L783 1977.37L784 1977.25L785 1977.07L786 1977.17L787 1977.35L788 1977.4L789 1977.35L790 1977.2L791 1977L792 1976.99L793 1977.25L794 1977.4L795 1977.35L796 1977.3L796.2 1977.27L797 1969.88L797.2 1967.93L797.4 1966.6L798 1966.6L798.2 1967.93L799 1977.2L799.2 1977.24L800 1977.4L801 1977.4L802 1977.36L803 1977.31L804 1977.36L805 1977.26L805.3 1977.21L806 1973.3L806.3 1971.35L806.5 1970.5L807 1970.5L807.1 1970.5L807.3 1971.35L808 1976.52L808.3 1977.11L809 1977.11L810 1977.2L811 1976.94L812 1976.63L813 1977.02L814 1977.4L815 1977.24L816 1977.07L816.5 1977.06L817 1974.84L817.5 1971.35L817.7 1970.5L818 1970.5L818.3 1970.5L818.5 1971.35L819 1974.84L819.5 1977.09L820 1977.25L821 1977.15L822 1976.9L823 1977.15L824 1977.4L825 1976.91L826 1976.42L827 1976.83L828 1977.24L829 1977.32L830 1977.4L831 1977.39L832 1977.4L833 1977.34L834 1977.29L835 1977.34L836 1977.4L837 1977.4L838 1977.3L839 1977.2L840 1977.24L841 1977.08L842 1976.84L843 1976.93L844 1977.16L845 1977.27L846 1977.28L846.3 1977.3L847 1974.19L847.3 1972.67L847.5 1972L848 1972L848.1 1972L848.3 1972.67L849 1976.71L849.3 1977.4L850 1977.4L851 1977.4L852 1977.3L853 1977.19L854 1977.11L855 1977.02L856 1977.21L857 1977.4L858 1977.28L859 1977.16L860 1977.28L861 1977.4L862 1977.24L863 1976.6L864 1976.27L865 1976.92L865.1 1976.95L866 1970.2L866.1 1969.42L866.3 1968.3L866.9 1968.3L867 1968.76L867.1 1969.42L868 1977.16L868.1 1977.16L869 1977.17L870 1976.95L871 1976.73L872 1977.07L873 1977.4L874 1977.34L875 1977.28L876 1977.34L877 1977.37L878 1977.34L879 1977.37L880 1977.39L881 1977.38L882 1977.39L883 1977.4L884 1977.4L885 1977.35L886 1977.28L887 1977.25L888 1977.27L889 1977.35L890 1977.4L891 1977.4L892 1977.4L893 1977.29L894 1977.18L895 1977.29L896 1977.26L897 1976.5L898 1976.03L899 1976.73L899.8 1977.18L900 1977.29L901 1931.25L901.05 1929.39L901.5 1916.7L902 1916.7L902.1 1916.7L902.55 1929.39L903 1947.95L903.8 1977.17L904 1977.2L905 1977.28L906 1977.39L907 1977.4L908 1977.3L909 1977.2L910 1977.1L911 1976.98L912 1977.16L913 1977.22L914 1977.07L915 1977.24L916 1977.4L917 1977.3L918 1976.88L919 1976.42L920 1976.63L921 1977.18L922 1977.4L923 1977.4L924 1977.4L925 1977.4L926 1977.4L927 1977.4L928 1977.4L929 1977.4L930 1977.4L931 1977.3L932 1977.21L933 1977.05L934 1976.77L935 1976.89L936 1977.18L937 1976.92L938 1976.71L939 1976.97L940 1976.95L941 1976.88L942 1977.2L943 1973.06L943.25 1971.94L943.7 1970.5L944 1970.5L944.3 1970.5L944.75 1971.94L945 1973.06L946 1977.4L947 1977.4L948 1977.4L949 1977.4L950 1977.4L951 1977.28L952 1976.75L953 1976.45L954 1976.77L955 1976.7L956 1976.6L957 1977.1L958 1977.39L959 1977.38L960 1977.39L961 1977.35L962 1977.3L963 1977.35L964 1977.4L965 1977.4L966 1977.4L967 1977.39L968 1977.37L969 1977.27L970 1977.17L971 1977.26L972 1977.34L973 1977.36L974 1976.84L975 1976.32L976 1976.84L977 1977.32L978 1977.29L979 1977.01L980 1976.64L981 1976.84L982 1977.26L983 1977.37L984 1977.16L985 1977L986 1977.22L987 1977.4L988 1977.4L989 1977.4L990 1977.39L991 1977.39L992 1977.38L993 1977.39L994 1977.4L995 1977.18L995.5 1977.07L996 1970.15L996.75 1954.62L997 1950.7L997.2 1948.6L997.8 1948.6L998 1950.7L998.25 1954.62L999 1970.15L999.5 1977.23L1000 1977.29L1001 1977.23L1002 1977.06L1003 1977.1L1004 1977.09L1005 1977.16L1006 1977.34L1007 1977.4L1008 1977.3L1009 1977.21L1010 1977.3L1011 1977.33L1012 1976.8L1013 1976.41L1014 1976.73L1015 1976.99L1016 1977.19L1017 1977.4L1018 1977.4L1019 1977.28L1020 1977.17L1021 1977.16L1022 1977.14L1023 1977.27L1024 1977.23L1025 1977.07L1026 1977.23L1027 1977.4L1028 1977.23L1029 1976.94L1030 1977L1030.4 1977.07L1031 1974.05L1031.4 1971.35L1031.6 1970.5L1032 1970.5L1032.2 1970.5L1032.4 1971.35L1033 1975.66L1033.4 1976.76L1034 1977.04L1035 1977.4L1036 1977.35L1037 1977.3L1038 1977.35L1039 1977.37L1040 1977.35L1041 1977.37L1042 1977.2L1043 1977.01L1044 1977.2L1045 1977.4L1046 1977.4L1047 1977.39L1048 1977.38L1049 1977.39L1050 1977.4L1051 1977.4L1052 1977.31L1053 1977.22L1054 1977.13L1055 1976.94L1056 1977.02L1057 1977.3L1058 1977.18L1059 1976.96L1059.3 1977.03L1060 1973.95L1061 1967.86L1061.05 1967.59L1062 1963.7L1062.6 1963.7L1063 1964.96L1063.55 1967.59L1064 1970.15L1065 1976.69L1065.3 1977.36L1066 1977.33L1067 1977.37L1068 1977.4L1069 1977.3L1070 1977.19L1071 1977.3L1072 1977.4L1073 1977.4L1074 1977.28L1075 1977.1L1076 1977.16L1077 1977.34L1078 1977.4L1079 1977.34L1080 1977.23L1081 1977L1082 1976.88L1083 1976.98L1084 1976.74L1085 1976.67L1086 1977.13L1087 1977.4L1088 1977.39L1089 1977.37L1090 1977.39L1091 1977.4L1092 1977.4L1093 1977.23L1094 1976.76L1095 1976.63L1096 1977.1L1097 1977.3L1098 1977.21L1099 1977.3L1100 1977.4L1101 1977.4L1102 1977.4L1103 1977.4L1104 1977.4L1105 1977.38L1106 1977.02L1107 1976.25L1108 1976.15L1109 1976.94L1110 1977.4L1111 1977.4L1112 1976.71L1113 1976.03L1114 1976.71L1115 1977.38L1116 1977.38L1117 1977.4L1118 1977.35L1119 1977.3L1120 1977.35L1121 1977.37L1122 1977.35L1123 1977.37L1124 1977.4L1125 1977.28L1126 1977.17L1127 1977.28L1128 1977.38L1129 1976.72L1130 1976.03L1131 1976.61L1132 1977.32L1133 1977.4L1134 1977.4L1135 1977.4L1136 1977.4L1137 1977.4L1138 1977.4L1139 1977.22L1140 1977.04L1141 1976.94L1142 1976.82L1143 1977.07L1144 1977.35L1145 1977.38L1146 1977.4L1147 1977.4L1148 1977.4L1149 1977.34L1150 1977.27L1151 1977.34L1152 1977.4L1153 1977.26L1154 1977.12L1155 1977.26L1156 1977.4L1157 1977.4L1157.1 1977.39L1158 1960.63L1158.1 1958.82L1158.3 1956.2L1158.9 1956.2L1159 1957.26L1159.1 1958.82L1160 1977.32L1160.1 1977.33L1161 1977.36L1162 1977.32L1163 1977.2L1164 1977.06L1165 1976.86L1166 1976.72L1167 1976.94L1168 1977.07L1169 1976.75L1170 1976.58L1171 1976.7L1172 1976.75L1173 1977.07L1174 1977.4L1175 1977.4L1176 1977.4L1177 1977.4L1178 1977.4L1179 1977.36L1180 1977.1L1181 1976.91L1182 1977.01L1183 1977.07L1184 1977.12L1185 1977.22L1186 1977.3L1187 1977.37L1188 1977.39L1189 1977.4L1190 1976.77L1191 1976.15L1192 1976.77L1193 1977.3L1194 1977.2L1195 1977.3L1196 1977.4L1197 1977.4L1198 1977.13L1199 1976.76L1200 1976.79L1201 1977L1202 1977.24L1203 1977.4L1204 1977.4L1205 1977.4L1206 1977.4L1207 1977.18L1208 1976.97L1209 1977.15L1210 1977.33L1211 1977.37L1212 1977.33L1213 1977.25L1214 1977.33L1215 1977.4L1216 1977.4L1217 1977.31L1218 1977.21L1219 1977.3L1220 1977.39L1221 1977.4L1222 1977.36L1223 1977.22L1224 1977.15L1225 1977.17L1226 1977.11L1227 1976.83L1228 1976.63L1229 1976.91L1230 1977.15L1231 1977.27L1232 1977.2L1233 1976.97L1234 1977.15L1235 1977.38L1236 1977.4L1237 1977.4L1238 1977.24L1239 1977.08L1240 1977.24L1241 1977.28L1242 1977.16L1243 1977.28L1244 1977.4L1245 1977.35L1246 1977.11L1247 1976.8L1248 1976.87L1249 1977.23L1250 1977.4L1251 1977.4L1252 1977.4L1253 1976.74L1254 1975.9L1255 1976.39L1256 1977.23L1256.7 1977.27L1257 1974.96L1257.7 1960.66L1257.9 1958.3L1258 1958.3L1258.5 1958.3L1258.7 1960.66L1259 1966.06L1259.7 1976.73L1260 1976.91L1261 1977.4L1262 1977.4L1263 1977L1264 1976.03L1265 1975.87L1266 1976.83L1267 1977.37L1268 1977.29L1269 1977.27L1270 1977.35L1271 1977.4L1272 1977.4L1273 1977.18L1274 1976.96L1275 1977.18L1276 1977.4L1277 1977.4L1278 1977.4L1279 1977.22L1280 1976.72L1281 1976.59L1282 1977.07L1283 1977.36L1284 1977.36L1285 1977.38L1286 1977.4L1287 1977.36L1288 1969.42L1288.2 1968.3L1288.8 1968.3L1289 1969.42L1290 1977.34L1291 1977.28L1292 1977.34L1293 1976.9L1294 1976.39L1295 1976.9L1296 1977.39L1297 1977.39L1298 1977.39L1299 1977.4L1299.2 1977.4L1300 1972.6L1300.2 1971.35L1300.4 1970.5L1301 1970.5L1301.2 1971.35L1302 1977.4L1302.2 1977.37L1303 1977.25L1304 1976.9L1305 1976.85L1306 1977.13L1307 1977.21L1308 1977.22L1309 1977.19L1310 1976.98L1311 1977.02L1312 1977.29L1313 1977.4L1314 1977.4L1315 1977.26L1316 1977.07L1317 1977.14L1318 1977.34L1319 1977.4L1320 1977.4L1321 1977.4L1322 1977.17L1323 1976.94L1324 1977.17L1325 1977.4L1326 1977.4L1327 1977.4L1328 1977.4L1329 1977.4L1330 1977.4L1331 1977.37L1332 1977.35L1333 1977.37L1334 1977.04L1335 1976.45L1336 1976.6L1337 1977.18L1338 1977.32L1339 1977.25L1339.7 1977.3L1340 1976.22L1341 1965.13L1341.7 1958.33L1342 1955.73L1342.9 1950L1343 1950L1343.5 1950L1344 1952.67L1344.7 1958.33L1345 1961.13L1346 1971.62L1346.7 1977.06L1347 1976.99L1348 1976.75L1349 1976.72L1350 1977.09L1351 1977.18L1352 1976.99L1353 1977.19L1354 1977.4L1355 1977.4L1356 1977.3L1357 1977.08L1358 1977.04L1359 1977.27L1360 1977.4L1361 1977.11L1362 1976.83L1363 1976.92L1364 1976.89L1365 1976.97L1366 1977.28L1367 1977.4L1368 1977.4L1369 1977.32L1370 1977.25L1371 1977.32L1372 1977.4L1373 1977.16L1374 1976.91L1375 1976.91L1376 1976.94L1377 1977.18L1377.7 1977.33L1378 1973.81L1378.95 1944.26L1379 1943.02L1379.4 1935.5L1380 1935.5L1380.45 1944.26L1381 1960.23L1381.7 1977.37L1382 1977.4L1383 1977.4L1384 1977.39L1385 1977.24L1386 1977.1L1387 1977.25L1388 1977.4L1389 1977.36L1390 1977.32L1391 1977.36L1392 1977.38L1393 1977.36L1394 1976.87L1395 1976.24L1396 1976.61L1397 1977.26L1398 1977.4L1399 1977.4L1400 1977.4L1401 1977.29L1402 1977.18L1403 1977.22L1404 1977.26L1405 1977.33L1406 1977.3L1407 1977.15L1408 1977.19L1409 1977.22L1410 1977.17L1411 1977.02L1412 1976.73L1413 1976.83L1414 1977.24L1415 1977.15L1416 1976.9L1417 1977.04L1418 1977.16L1419 1977.25L1420 1977.1L1421 1976.62L1422 1976.68L1423 1977.06L1424 1977.17L1425 1977.08L1426 1976.99L1427 1977.2L1428 1977.15L1429 1976.89L1430 1977.15L1431 1977.17L1432 1976.94L1433 1977.17L1434 1977.4L1435 1977.4L1436 1977.27L1437 1976.86L1438 1976.67L1439 1977.02L1440 1977.35L1441 1977.4L1442 1977.39L1443 1977.31L1444 1977.23L1445 1977.32L1446 1977.4L1447 1977.4L1448 1977.4L1449 1977.4L1450 1977.4L1451 1977.4L1452 1977.37L1453 1977.31L1454 1977.31L1455 1977.37L1456 1977.3L1457 1977.2L1458 1977.3L1459 1977.37L1460 1977.32L1461 1977.33L1462 1977.38L1463 1977.4L1464 1977.16L1465 1976.77L1466 1976.84L1467 1977.21L1468 1977.38L1469 1977.35L1470 1977.2L1471 1976.91L1472 1976.81L1473 1977.16L1474 1977.4L1474.5 1977.35L1475 1970.31L1475.5 1960.66L1475.7 1958.3L1476 1958.3L1476.3 1958.3L1476.5 1960.66L1477 1970.31L1477.5 1977.35L1478 1977.4L1479 1977.4L1480 1977.26L1481 1977.13L1482 1977.26L1483 1977.38L1484 1977.39L1485 1977.4L1486 1977.39L1487 1972.67L1487.2 1972L1487.8 1972L1488 1972.67L1489 1977.15L1489 1977.4Z" fill="#357a35" stroke="#357a35" stroke-width="0.6" stroke-linejoin="round"/>
<line x1="119" y1="1977.2" x2="1489" y2="1977.2" stroke="#357a35" stroke-width="1.6"/>
<path d="M119 2073.9L119 2073.88L120 2073.71L121 2073.59L122 2073.63L123 2073.65L124 2073.25L125 2072.56L126 2072.78L127 2073.6L128 2073.9L129 2073.84L130 2073.78L131 2073.84L132 2073.9L133 2073.76L134 2073.61L135 2073.76L136 2072.82L137 2071.27L138 2071.7L139 2073.09L140 2073.46L141 2073.34L142 2073.54L143 2073.56L144 2073.46L145 2073.57L146 2073.61L147 2073.75L147.9 2073.78L148 2073.78L149 2056.66L149.4 2050.15L150 2042.65L150.1 2042L150.7 2042L151 2044.71L151.4 2050.15L151.8 2056.66L152 2060.22L152.9 2049.26L153 2046.82L153.3 2039.95L154 2028.3L154.6 2028.3L155 2033.93L155.3 2039.95L156 2056.98L156.75 2060.87L156.8 2060.52L157 2059.18L157.7 2055.7L158 2055.7L158.3 2055.7L159 2059.18L159.25 2060.87L160 2066.72L161 2073.84L162 2073.68L163 2073.46L164 2073.68L165 2073.58L166 2073.25L167 2073.3L168 2073.35L169 2073.62L170 2073.5L171 2073.12L172 2073.18L173 2073.22L174 2073.56L175 2073.76L176 2073.24L176.7 2072.98L177 2071.65L178 2051.36L178.2 2047.91L178.5 2043.31L178.9 2039L179 2039L179.5 2039L180 2044.76L180.2 2047.91L181 2063.01L181.7 2060.89L182 2059.76L183 2056.25L184 2053.34L184.7 2052L185 2052L185.3 2052L185.4 2052.11L186 2053.34L187 2023.04L187.4 2010.48L188 1994.04L188.5 1983.89L188.6 1982.8L189 1982.8L189.2 1982.8L190 1999.14L190.4 2010.48L190.5 2013.52L191 2029.69L191.5 2047.29L191.7 2046.6L192 2046.6L192.3 2046.6L192.4 2046.93L193 2050.72L193.5 2054.9L194 2059.65L195 2070.41L195.5 2073.33L196 2073.63L197 2073.9L198 2073.9L199 2073.6L200 2073.3L201 2073.51L202 2073.73L203 2073.78L204 2073.72L205 2073.64L206 2073.62L207 2073.29L208 2073.19L209 2072.84L210 2071.96L211 2072.41L212 2073.3L213 2073.4L213.8 2073.6L214 2073.65L215 2058.52L215.3 2054.62L216 2048L216.6 2048L217 2051.2L217.3 2054.62L218 2064.29L218.8 2072.9L219 2072.78L220 2073.18L221 2073.8L222 2073.72L223 2073.54L224 2073.52L225 2073.46L226 2073.42L227 2073.21L228 2073.2L229 2073.34L230 2073.29L231 2073.6L232 2073.43L233 2072.97L234 2073.43L235 2073.9L236 2073.78L237 2073.26L238 2072.86L239 2073.1L240 2073.39L241 2073.3L242 2073.2L243 2073.56L244 2073.89L245 2073.9L246 2073.9L247 2073.9L248 2073.71L249 2073.33L250 2073.3L251 2073.34L252 2073.11L253 2073.3L254 2073.75L255 2073.9L256 2073.9L257 2073.64L258 2073.39L259 2073.08L260 2072.71L261 2073.21L262 2073.82L263 2073.87L264 2073.86L265 2073.86L265.9 2073.88L266 2073.88L267 2068.74L267.9 2064.22L268 2063.77L269 2060.17L269.1 2060L269.7 2060L270 2060.7L270.9 2064.22L271 2064.69L272 2069.84L272.9 2073.57L273 2073.57L274 2073.74L275 2073.86L276 2073.1L277 2072.3L278 2073.1L279 2073.44L280 2072.43L281 2071.58L282 2071.65L283 2072.79L284 2073.68L285 2073.8L286 2073.84L287 2073.73L288 2058.13L288.5 2049.7L289 2043.03L289.2 2041.4L289.8 2041.4L290 2043.03L290.5 2049.7L291 2058.13L292 2073.82L293 2073.9L294 2073.74L295 2073.47L296 2073.51L297 2073.39L298 2072.91L299 2072.56L300 2072.54L301 2073.2L302 2073.82L303 2073.89L304 2073.8L305 2073.71L306 2073.81L307 2073.9L308 2073.79L309 2073.65L310 2073.71L311 2073.82L312 2073.75L313 2073.57L314 2073.61L315 2073.82L316 2073.9L317 2073.85L318 2073.77L319 2073.75L320 2073.75L321 2073.81L322 2073.88L323 2073.82L324 2073.75L325 2073.19L326 2072.6L327 2073.2L328 2073.69L329 2073.54L330 2073.72L331 2073.85L332 2073.8L333 2073.85L334 2073.71L335 2073.53L336 2073.7L337 2073.87L338 2073.8L339 2073.72L340 2073.78L341 2073.88L342 2073.9L343 2073.79L344 2073.17L345 2072.77L346 2073.28L347 2073.68L348 2073.56L349 2072.72L350 2072.22L351 2073.15L352 2073.77L353 2073.68L354 2073.6L355 2073.51L356 2073.42L357 2073.31L357.9 2073.41L358 2073.42L359 2065.77L359.9 2058.65L360 2057.94L361 2052.26L361.1 2052L361.7 2052L362 2053.1L362.9 2058.65L363 2059.38L364 2067.5L364.9 2072L365 2071.99L366 2072.87L367 2073.04L368 2072.7L369 2072.96L370 2073.12L371 2073.32L372 2073.48L373 2073.26L374 2073.4L375 2073.38L376 2073.12L377 2073.04L378 2072.77L379 2073.04L380 2073.7L381 2073.78L382 2073.64L383 2073.56L384 2073.54L385 2073.73L386 2073.87L387 2073.79L388 2073.78L389 2073.61L390 2073.13L391 2073.12L392 2073.56L393 2073.66L394 2073.55L395 2073.49L396 2073.51L397 2073.69L398 2073.8L399 2073.85L400 2073.9L401 2073.71L402 2073.52L403 2073.71L404 2073.82L405 2073.74L406 2073.6L407 2073.45L408 2073.25L409 2072.71L410 2072.59L411 2072.99L412 2073.37L413 2073.7L414 2073.83L415 2073.55L416 2073.17L417 2073.4L418 2073.73L419 2073.64L420 2073.37L421 2073.05L422 2072.62L423 2072.58L424 2073.33L425 2073.62L426 2072.96L427 2072.6L428 2073.22L429 2073.81L430 2073.79L431 2073.68L432 2073.48L433 2072.75L434 2072.53L435 2073.37L436 2073.79L437 2049.21L438 2022.11L439 2001.7L439.2 1999.5L439.8 1999.5L440 2001.7L441 2022.11L442 2049.21L442.4 2061.27L443 2069.78L444 2060.33L444.4 2056.98L445 2052.6L445.6 2049.6L446 2049.6L446.2 2049.6L447 2053.96L447.4 2056.98L448 2062.11L449 2071.82L449.4 2073.38L450 2073.44L451 2073.71L452 2073.41L453 2072.71L454 2072.81L455 2073.57L456 2073.86L457 2073.62L458 2073.45L459 2073.69L460 2073.9L461 2073.9L462 2073.73L463 2073.35L464 2072.98L465 2072.98L466 2073.46L467 2073.84L468 2073.9L469 2073.69L470 2073.41L471 2073.55L472 2073.83L473 2073.81L474 2073.6L475 2073.56L476 2073.77L477 2073.9L478 2073.9L479 2073.69L480 2073.47L481 2073.26L482 2072.89L483 2072.71L484 2072.86L485 2073.37L486 2073.43L487 2072.77L488 2072.39L489 2072.75L490 2073.42L491 2073.56L492 2073.41L493 2073.63L494 2073.85L495 2073.87L496 2073.9L497 2073.9L498 2073.9L499 2073.73L500 2073.52L501 2073.59L502 2073.65L503 2073.67L504 2073.79L505 2073.21L506 2072.55L507 2073.22L508 2073.44L509 2072.64L510 2072.76L511 2073.54L512 2073.76L513 2073.55L514 2073.51L515 2073.74L516 2073.7L517 2073.45L518 2073.44L519 2073.53L520 2073.58L521 2073.53L522 2073.46L523 2073.39L524 2073.5L525 2073.73L526 2073.83L527 2073.85L528 2073.83L529 2073.4L530 2072.95L531 2073.3L532 2073.8L533 2073.9L533.9 2073.45L534 2073.4L535 2060.77L535.4 2055.81L536 2050.09L536.1 2049.6L536.7 2049.6L537 2051.66L537.4 2055.81L538 2063.48L538.9 2073.56L539 2073.66L540 2073.79L541 2073.31L542 2072.18L543 2061.91L543.75 2052.14L544 2049.31L544.5 2044.64L544.7 2043.5L545 2043.5L545.3 2043.5L546 2049.31L546.25 2052.14L547 2061.91L547.5 2066.09L548 2064.93L549 2062.92L549.7 2062L550 2062L550.3 2062L551 2062.92L552 2064.93L552.5 2066.09L553 2067.34L554 2070.05L555 2072.98L555.2 2073.02L555.5 2071.69L556 2061.17L556.7 2048.36L557 2043.83L557.4 2039.6L558 2039.6L558.7 2048.36L559 2053.53L560 2073.2L560.2 2073.29L560.7 2073.53L561 2072.4L562 2058.85L562.2 2056.55L562.9 2050.6L563 2050.6L563.5 2050.6L564 2054.44L564.2 2056.55L565 2066.63L565.7 2073.25L566 2073.12L567 2073.29L568 2073.73L569 2073.88L570 2073.75L571 2073.39L572 2073.33L573 2073.19L574 2072.52L575 2072.62L576 2073.51L577 2073.84L578 2073.6L579 2073.48L580 2073.72L581 2073.9L582 2073.88L583 2073.77L584 2073.7L585 2073.81L586 2073.8L587 2073.26L588 2072.76L589 2072.96L590 2073.37L591 2073.67L592 2073.74L593 2073.7L594 2073.63L595 2073.04L596 2072.72L597 2073.4L598 2073.79L599 2073.69L600 2073.51L601 2073.34L602 2073.62L603 2073.73L604 2073.41L605 2073.42L606 2073.13L606.8 2072.76L607 2072.67L608 2061.31L608.3 2058.12L609 2052.7L609.6 2052.7L610 2055.32L610.3 2058.12L610.5 2060.21L611 2066.03L611.8 2051.36L612 2047.91L612.7 2039L613 2039L613.3 2039L614 2047.91L615 2067.25L615.5 2073.25L616 2072.99L617 2072.71L618 2073.13L619 2073.71L620 2073.9L621 2073.9L622 2073.9L623 2073.86L624 2073.79L625 2073.77L626 2073.16L627 2072.24L628 2072.61L629 2073.46L629.1 2073.45L630 2070.89L631 2066.92L631.6 2064.77L632 2063.45L633 2060.77L633.3 2060.3L633.9 2060.3L634 2060.41L635 2062.84L635.6 2064.77L636 2066.18L637 2070.06L638 2073.76L638.1 2073.73L639 2073.51L640 2073.12L641 2073.51L642 2073.59L643 2073.06L644 2072.84L645 2072.93L646 2073.25L647 2073.61L648 2073.68L649 2073.29L650 2072.94L651 2073.06L652 2073.17L653 2072.76L654 2072.54L655 2073.08L656 2073.36L657 2073.19L658 2073.22L659 2073.61L660 2073.71L661 2073.32L662 2073.26L663 2073.58L664 2073.82L665 2073.59L666 2073.31L667 2073.3L668 2073.25L669 2073.54L670 2073.82L671 2073.78L672 2073.74L673 2073.52L674 2073.2L675 2073.23L676 2073.65L676.7 2073.43L677 2070.57L678 2040.57L678.2 2035.48L678.9 2022.3L679 2022.3L679.5 2022.3L680 2030.81L680.2 2035.48L681 2057.8L681.7 2073.69L682 2073.62L683 2072.95L684 2072.47L685 2072.78L686 2073.16L687 2073.13L688 2073.21L689 2073.39L690 2071.95L691 2070.71L692 2072.41L693 2073.88L694 2073.68L695 2073.52L696 2073.72L697 2073.78L698 2073.54L699 2073.52L700 2073.77L701 2073.9L702 2073.45L703 2072.7L704 2072.78L705 2073.44L706 2073.61L707 2073.28L708 2073.07L709 2072.74L710 2072.61L710.1 2072.68L711 2071.37L711.6 2069.51L712 2068.5L712.3 2068L712.9 2068L713 2068.12L713.6 2069.51L714 2070.71L715 2073.78L715.1 2073.77L716 2073.66L717 2073.78L718 2073.8L719 2073.71L720 2073.72L721 2073.64L722 2073.32L723 2073.2L724 2073.32L725 2073.35L726 2073.62L727 2073.9L728 2073.9L729 2073.56L730 2073.15L731 2073.35L732 2073.69L733 2073.83L734 2073.9L735 2073.68L736 2073.33L737 2073.1L738 2073.11L739 2073.26L740 2073.32L741 2073.58L742 2073.87L743 2073.8L744 2073.67L745 2073.74L746 2073.26L747 2072.67L748 2072.94L749 2073L750 2073.14L751 2073.56L752 2073.54L753 2073.49L754 2073.41L755 2073.16L756 2073.25L757 2073.68L758 2073.48L759 2072.93L760 2073.23L761 2073.74L762 2073.84L763 2073.79L764 2073.75L765 2073.78L766 2073.82L767 2073.85L768 2073.88L769 2073.24L770 2072.6L771 2073.05L772 2073.44L773 2073.57L773.9 2073.7L774 2073.71L775 2024.68L775.4 2006.07L776 1984.65L776.1 1982.8L776.7 1982.8L777 1990.53L777.4 2006.07L778 2034.84L778.9 2073.36L779 2073.42L780 2073.72L781 2073.68L782 2073.79L783 2073.87L784 2073.85L785 2073.82L786 2073.78L787 2073.79L788 2073.8L789 2073.85L790 2073.9L791 2073.28L792 2072.65L793 2073.28L794 2073.9L795 2073.21L796 2072.52L797 2073.21L798 2073.88L799 2073.58L800 2073.26L801 2073.47L802 2073.78L803 2073.82L804 2073.86L805 2073.52L806 2072.36L807 2071.92L808 2072.98L809 2073.58L810 2073.18L811 2073.08L812 2073.58L813 2073.6L814 2073.08L815 2073.16L816 2073.56L817 2073.42L818 2073.25L819 2073.55L820 2073.81L821 2073.75L822 2073.6L823 2073.59L824 2073.78L825 2073.73L826 2073.57L827 2073.73L828 2073.9L829 2073.73L830 2073.19L831 2072.58L832 2071.93L833 2071.74L834 2072.74L835 2073.7L836 2073.88L837 2073.8L838 2073.69L839 2073.25L840 2072.44L841 2072.55L842 2073.46L843 2073.89L844 2073.59L845 2073.28L846 2073.59L847 2073.83L848 2073.09L849 2072.49L850 2072.72L851 2072.88L852 2073.34L853 2073.29L854 2072.79L855 2073L856 2073.11L857 2073.23L858 2073.56L859 2073.77L860 2073.49L861 2073.16L862 2073.54L863 2073.77L864 2073.55L865 2073.44L866 2073.22L867 2073.04L868 2073.09L869 2073.08L870 2073.18L871 2073.44L872 2073.74L873 2073.88L874 2073.86L875 2073.88L876 2073.9L877 2073.89L878 2073.82L879 2073.77L880 2073.61L881 2073.33L882 2073.45L883 2073.64L884 2073.6L885 2073.53L886 2073.46L887 2073.44L888 2073.39L889 2073.6L890 2073.87L891 2073.79L892 2073.68L893 2073.35L894 2073.01L895 2073.43L896 2073.86L897 2073.34L898 2072.71L899 2073.07L900 2073.62L901 2047.65L901.5 2033.62L902 2022.51L902.2 2019.8L902.8 2019.8L903 2022.51L903.5 2033.62L904 2047.65L905 2073.77L906 2073.46L907 2072.79L908 2072.99L909 2073.5L910 2073.29L911 2073.04L912 2072.82L913 2072.53L914 2072.96L915 2073.65L916 2073.83L917 2073.76L918 2073.57L919 2073.51L920 2073.74L921 2073.9L922 2073.85L923 2073.18L924 2072.6L925 2073.16L926 2073.67L927 2073.76L928 2073.82L929 2073.77L930 2073.83L931 2073.66L932 2073.29L933 2073.4L934 2073.43L935 2073.18L936 2073.08L937 2072.87L938 2073.12L939 2073.71L940 2073.55L941 2073.19L942 2073.55L943 2073.66L944 2073.43L945 2073.66L946 2073.64L947 2073.39L948 2073.64L949 2073.9L950 2073.9L951 2073.74L952 2072.27L953 2071.12L954 2072.59L955 2073.66L956 2073.15L957 2073.12L958 2073.62L959 2073.86L960 2073.84L961 2073.78L962 2073.72L963 2073.68L964 2073.65L965 2073.69L966 2073.16L967 2072.67L968 2073.3L969 2073.83L970 2073.03L971 2071.74L972 2071.78L973 2072.86L974 2073.65L975 2073.78L976 2073.64L977 2073.73L978 2073.88L979 2073.26L980 2072.61L981 2073.26L982 2073.86L983 2073.82L984 2073.75L985 2073.64L986 2073.69L987 2073.82L988 2073.85L989 2073.37L990 2072.84L991 2073.26L992 2073.7L993 2073.61L994 2073.44L994.2 2073.44L995 2056.59L995.95 2032.6L996 2031.49L996.9 2016.2L997 2016.2L997.5 2016.2L998 2023.32L998.45 2032.6L999 2045.9L1000 2072.83L1000.2 2072.93L1001 2073.36L1002 2073.49L1003 2073.48L1004 2073.39L1005 2073.64L1006 2073.54L1007 2072.93L1008 2072.62L1009 2072.7L1010 2073.14L1011 2073.56L1012 2073.6L1013 2072.87L1014 2072.41L1015 2072.97L1016 2073.16L1017 2073.26L1018 2073.72L1019 2073.83L1020 2073.42L1021 2073L1022 2073.15L1023 2073.52L1024 2073.73L1025 2073.86L1026 2073.81L1027 2073.67L1028 2073.58L1029 2073.47L1030 2073.34L1031 2073.39L1032 2073.58L1033 2073.11L1034 2072.68L1035 2073.24L1036 2073.68L1037 2073.62L1038 2073.55L1039 2073.72L1040 2073.05L1041 2072.11L1042 2072.73L1043 2073.47L1044 2073.42L1045 2073.41L1046 2073.63L1047 2073.57L1048 2073.14L1049 2073.05L1050 2072.92L1051 2072.77L1052 2073.38L1053 2073.68L1054 2073.27L1055 2073.29L1056 2073.58L1057 2073.67L1058 2073.76L1059 2073.82L1060 2073.77L1060.2 2073.74L1061 2058.42L1061.95 2036.97L1062 2035.97L1062.9 2022.3L1063 2022.3L1063.5 2022.3L1064 2028.67L1064.45 2036.97L1065 2048.86L1066 2072.45L1066.2 2072.36L1067 2071.99L1068 2072.39L1069 2073.06L1070 2073.31L1071 2073.39L1072 2073.45L1073 2073.69L1074 2073.83L1075 2073.56L1076 2073.4L1077 2073.39L1078 2073.27L1079 2069.48L1079.5 2067.12L1080 2065.26L1080.2 2064.8L1080.8 2064.8L1081 2065.26L1081.5 2067.12L1082 2069.48L1083 2073.18L1084 2073.09L1085 2073.16L1086 2073.57L1087 2073.82L1088 2073.74L1089 2073.68L1090 2073.59L1091 2073.7L1092 2073.86L1093 2073.56L1094 2073.22L1095 2073.46L1096 2073.73L1097 2073.38L1098 2072.94L1099 2073.31L1100 2073.81L1101 2073.87L1102 2073.86L1103 2073.85L1104 2073.56L1105 2073.26L1106 2073.56L1107 2073.57L1108 2072.87L1109 2072.76L1110 2073.4L1111 2073.67L1112 2073.6L1113 2073.56L1114 2073.59L1115 2073.78L1116 2073.86L1117 2073.8L1118 2073.82L1119 2073.88L1120 2073.89L1121 2073.63L1122 2073.4L1123 2073.61L1124 2073.78L1125 2073.51L1126 2073.25L1126.1 2073.27L1127 2071.55L1128 2068.46L1128.6 2066.79L1129 2065.76L1130 2063.67L1130.3 2063.3L1130.9 2063.3L1131 2063.39L1132 2065.28L1132.6 2066.79L1133 2067.89L1134 2070.91L1135 2073.73L1135.1 2073.72L1136 2073.56L1137 2073.56L1138 2073.25L1139 2073.12L1140 2073.6L1141 2073.85L1142 2073.8L1143 2073.47L1144 2073.13L1145 2073.47L1146 2073.77L1147 2073.59L1148 2073.51L1149 2073.73L1150 2073.87L1151 2073.85L1152 2073.87L1153 2073.9L1154 2073.84L1155 2073.78L1156 2073.55L1156.4 2073.38L1157 2070.48L1157.9 2063.77L1158 2063.14L1158.6 2060.3L1159 2060.3L1159.2 2060.3L1159.9 2063.77L1160 2064.43L1161 2072.16L1161.4 2073.66L1162 2073.45L1163 2073.19L1164 2073.24L1165 2073.28L1166 2073.54L1167 2073.85L1168 2072.48L1169 2071.06L1170 2072.47L1171 2073.8L1172 2073.41L1173 2073.08L1174 2073.44L1175 2073.84L1176 2073.62L1177 2072.87L1178 2072.41L1179 2072.32L1180 2071.87L1181 2071.71L1182 2072.46L1183 2072.75L1184 2072.36L1185 2072.88L1186 2073.62L1187 2073.72L1188 2073.73L1188.9 2073.79L1189 2073.8L1190 2071.79L1190.4 2071L1191 2070.08L1191.1 2070L1191.7 2070L1192 2070.33L1192.4 2071L1193 2072.23L1193.9 2073.81L1194 2073.82L1195 2073.52L1196 2073.12L1197 2073.32L1198 2073.65L1199 2073.75L1200 2073.42L1201 2073.12L1202 2073.54L1203 2073.78L1204 2073.66L1205 2073.78L1206 2073.89L1207 2073.78L1208 2073.64L1209 2073.47L1210 2073.41L1211 2073.64L1212 2073.75L1213 2073.55L1214 2073.5L1215 2073.73L1216 2073.9L1217 2073.87L1218 2073.84L1219 2073.87L1220 2073.9L1221 2073.9L1222 2073.81L1223 2073.64L1224 2073.64L1225 2073.81L1226 2073.83L1227 2073.69L1228 2073.56L1229 2073.06L1230 2072.75L1231 2073.3L1232 2073.35L1233 2072.75L1234 2072.89L1235 2073.58L1236 2073.57L1237 2073.15L1238 2073.3L1239 2073.6L1240 2073.72L1241 2073.77L1242 2073.74L1243 2073.82L1244 2073.68L1245 2073.45L1246 2073.68L1247 2073.9L1248 2073.88L1249 2073.73L1250 2073.38L1251 2072.69L1252 2072.38L1253 2073.15L1254 2073.58L1255 2073.39L1256 2073.63L1257 2073.87L1258 2073.75L1259 2073.66L1260 2073.31L1261 2072.94L1262 2073.09L1263 2073.24L1264 2073.57L1265 2073.77L1266 2073.57L1267 2073.64L1268 2073.39L1269 2072.66L1270 2072.78L1271 2073.56L1272 2073.61L1273 2073.32L1274 2073.44L1275 2073.57L1276 2073.54L1277 2073.35L1278 2073.36L1279 2073.72L1280 2073.89L1281 2073.88L1282 2073.87L1283 2073.73L1284 2073.2L1285 2072.54L1286 2072.64L1287 2073.02L1288 2072.8L1289 2072.99L1290 2073.36L1291 2073.21L1292 2073.32L1293 2073.55L1294 2073.51L1295 2073.6L1296 2073.82L1297 2073.73L1298 2073.44L1299 2073.12L1300 2072.9L1301 2073.19L1302 2073.7L1303 2073.71L1304 2073.53L1305 2073.61L1306 2073.72L1307 2073.82L1308 2073.9L1309 2073.47L1310 2072.86L1311 2073.02L1312 2073.48L1313 2073.7L1314 2073.84L1315 2073.59L1316 2073.32L1317 2073.61L1318 2073.77L1319 2073.59L1320 2073.28L1321 2072.86L1322 2072.82L1323 2073.11L1324 2073.52L1325 2073.74L1326 2073.72L1327 2073.72L1328 2073.72L1329 2073.67L1330 2073.63L1331 2073.77L1332 2073.86L1333 2073.83L1334 2073.86L1335 2073.9L1336 2073.9L1337 2073.9L1337.7 2073.9L1338 2071.54L1339 2048.75L1340 2027.67L1340.7 2014.13L1341 2008.7L1342 1992.6L1342.9 1982.8L1343 1982.8L1343.5 1982.8L1344 1987.37L1345 2001.84L1345.7 2014.13L1346 2019.8L1347 2040.1L1348 2062.24L1348.7 2073.7L1349 2073.74L1350 2073.74L1351 2073.6L1352 2073.71L1353 2073.81L1354 2073.64L1355 2073.48L1356 2073.53L1357 2073.26L1358 2073.02L1359 2073.41L1360 2073.79L1361 2073.38L1362 2072.9L1363 2073.41L1364 2073.89L1365 2073.88L1366 2073.89L1367 2073.79L1368 2073.67L1369 2073.79L1370 2073.9L1371 2073.86L1372 2073.83L1373 2073.46L1374 2073L1375 2073.32L1376 2073.81L1377 2073.9L1377.3 2073.8L1378 2061.13L1379 2038.61L1379.05 2037.61L1380 2023.2L1380.6 2023.2L1381 2027.88L1381.55 2037.61L1382 2047.06L1383 2071.28L1383.3 2073.83L1384 2073.68L1385 2073.01L1386 2072.78L1387 2073.45L1388 2073.62L1389 2073.04L1390 2073.02L1391 2073.6L1392 2073.84L1393 2073.73L1394 2073.04L1395 2072.44L1396 2073.19L1397 2073.9L1398 2073.9L1399 2073.74L1400 2073.44L1401 2073.47L1402 2073.77L1403 2073.04L1404 2072.19L1405 2073.04L1406 2073.81L1407 2073.72L1408 2073.81L1409 2073.67L1410 2073.39L1411 2073.58L1412 2073.78L1413 2073.61L1414 2073.51L1415 2073.71L1416 2073.88L1417 2073.89L1418 2073.8L1419 2073.26L1420 2072.84L1421 2073.25L1422 2073.47L1423 2073.36L1424 2073.4L1425 2072.99L1426 2072.37L1427 2072.71L1428 2073.57L1429 2073.9L1430 2073.9L1431 2073.53L1432 2073.16L1433 2073.53L1434 2073.76L1435 2073.06L1436 2072.44L1437 2072.93L1438 2073.68L1439 2073.87L1440 2073.86L1441 2073.74L1442 2073.61L1443 2073.23L1444 2072.9L1445 2073.03L1446 2072.69L1447 2072.57L1448 2072.97L1449 2072.84L1450 2072.98L1451 2073.38L1452 2073.59L1453 2073.81L1454 2073.9L1455 2073.63L1456 2073.34L1457 2073.49L1458 2073.68L1459 2073.56L1460 2073.42L1461 2073.65L1462 2073.89L1463 2073.73L1464 2073.56L1465 2073.73L1466 2073.9L1467 2073.9L1468 2073.84L1469 2073.79L1470 2073.78L1471 2073.55L1472 2073.05L1473 2072.87L1474 2073.25L1475 2073.62L1476 2073.82L1477 2073.9L1478 2073.88L1479 2073.86L1480 2073.88L1481 2073.9L1482 2073.9L1483 2073.78L1484 2073.67L1485 2073.61L1486 2069.05L1486.5 2066.45L1487 2064.4L1487.2 2063.9L1487.8 2063.9L1488 2064.4L1488.5 2066.45L1489 2069.05L1489 2073.9Z" fill="#2e2a7c" stroke="#2e2a7c" stroke-width="0.6" stroke-linejoin="round"/>
<line x1="119" y1="2073.6" x2="1489" y2="2073.6" stroke="#2e2a7c" stroke-width="1.6"/>
<line x1="114.8" y1="1697.1" x2="114.8" y2="1785.8" stroke="#8a8a8a" stroke-width="1.3"/>
<line x1="109.5" y1="1697.1" x2="114.8" y2="1697.1" stroke="#8a8a8a" stroke-width="1.3"/>
<line x1="109.5" y1="1726.8" x2="114.8" y2="1726.8" stroke="#8a8a8a" stroke-width="1.3"/>
<line x1="109.5" y1="1756.3" x2="114.8" y2="1756.3" stroke="#8a8a8a" stroke-width="1.3"/>
<line x1="109.5" y1="1785.8" x2="114.8" y2="1785.8" stroke="#8a8a8a" stroke-width="1.3"/>
<line x1="114.8" y1="1794.3" x2="114.8" y2="1882.4" stroke="#8a8a8a" stroke-width="1.3"/>
<line x1="109.5" y1="1794.3" x2="114.8" y2="1794.3" stroke="#8a8a8a" stroke-width="1.3"/>
<line x1="109.5" y1="1823.1" x2="114.8" y2="1823.1" stroke="#8a8a8a" stroke-width="1.3"/>
<line x1="109.5" y1="1852.9" x2="114.8" y2="1852.9" stroke="#8a8a8a" stroke-width="1.3"/>
<line x1="109.5" y1="1882.4" x2="114.8" y2="1882.4" stroke="#8a8a8a" stroke-width="1.3"/>
<line x1="114.8" y1="1890" x2="114.8" y2="1978" stroke="#8a8a8a" stroke-width="1.3"/>
<line x1="109.5" y1="1899.1" x2="114.8" y2="1899.1" stroke="#8a8a8a" stroke-width="1.3"/>
<line x1="109.5" y1="1914.3" x2="114.8" y2="1914.3" stroke="#8a8a8a" stroke-width="1.3"/>
<line x1="109.5" y1="1930" x2="114.8" y2="1930" stroke="#8a8a8a" stroke-width="1.3"/>
<line x1="109.5" y1="1945.5" x2="114.8" y2="1945.5" stroke="#8a8a8a" stroke-width="1.3"/>
<line x1="109.5" y1="1961.3" x2="114.8" y2="1961.3" stroke="#8a8a8a" stroke-width="1.3"/>
<line x1="109.5" y1="1977.4" x2="114.8" y2="1977.4" stroke="#8a8a8a" stroke-width="1.3"/>
<line x1="114.8" y1="1988" x2="114.8" y2="2074.8" stroke="#8a8a8a" stroke-width="1.3"/>
<line x1="109.5" y1="1999.5" x2="114.8" y2="1999.5" stroke="#8a8a8a" stroke-width="1.3"/>
<line x1="109.5" y1="2024.4" x2="114.8" y2="2024.4" stroke="#8a8a8a" stroke-width="1.3"/>
<line x1="109.5" y1="2049.6" x2="114.8" y2="2049.6" stroke="#8a8a8a" stroke-width="1.3"/>
<line x1="109.5" y1="2074.8" x2="114.8" y2="2074.8" stroke="#8a8a8a" stroke-width="1.3"/>
<text x="104" y="1703.3" font-size="17.5" text-anchor="end" fill="#262626" stroke="#262626">150</text>
<text x="104" y="1733" font-size="17.5" text-anchor="end" fill="#262626" stroke="#262626">100</text>
<text x="104" y="1762.5" font-size="17.5" text-anchor="end" fill="#262626" stroke="#262626">50</text>
<text x="104" y="1795.9" font-size="17.5" text-anchor="end" fill="#262626" stroke="#262626">0</text>
<text x="104" y="1829.3" font-size="17.5" text-anchor="end" fill="#262626" stroke="#262626">50</text>
<text x="104" y="1859.1" font-size="17.5" text-anchor="end" fill="#262626" stroke="#262626">100</text>
<text x="104" y="1882.5" font-size="17.5" text-anchor="end" fill="#262626" stroke="#262626">150</text>
<text x="104" y="1905.3" font-size="17.5" text-anchor="end" fill="#262626" stroke="#262626">500</text>
<text x="104" y="1936.2" font-size="17.5" text-anchor="end" fill="#262626" stroke="#262626">300</text>
<text x="104" y="1967.5" font-size="17.5" text-anchor="end" fill="#262626" stroke="#262626">100</text>
<text x="104" y="1983.6" font-size="17.5" text-anchor="end" fill="#262626" stroke="#262626">0</text>
<text x="104" y="2005.7" font-size="17.5" text-anchor="end" fill="#262626" stroke="#262626">300</text>
<text x="104" y="2030.6" font-size="17.5" text-anchor="end" fill="#262626" stroke="#262626">200</text>
<text x="104" y="2055.8" font-size="17.5" text-anchor="end" fill="#262626" stroke="#262626">100</text>
<text x="104" y="2081" font-size="17.5" text-anchor="end" fill="#262626" stroke="#262626">0</text>
<text x="37.4" y="1791.3" font-size="21" text-anchor="middle" fill="#262626" stroke="#262626" textLength="54.7" lengthAdjust="spacingAndGlyphs" transform="rotate(-90 37.4 1791.3)">SuRE</text>
<text x="35.9" y="1919.6" font-size="21" text-anchor="middle" fill="#262626" stroke="#262626" textLength="107.8" lengthAdjust="spacingAndGlyphs" transform="rotate(-90 35.9 1919.6)">DNase-seq</text>
<text x="31.3" y="2034.5" font-size="21" text-anchor="middle" fill="#262626" stroke="#262626" textLength="88.1" lengthAdjust="spacingAndGlyphs" transform="rotate(-90 31.3 2034.5)">H3K27ac</text>
<text x="13.7" y="2116.4" font-size="21" text-anchor="start" fill="#262626" stroke="#262626" textLength="57.7" lengthAdjust="spacingAndGlyphs">genes</text>
<text x="140.3" y="1722.9" font-size="21" text-anchor="start" fill="#262626" stroke="#262626" textLength="76" lengthAdjust="spacingAndGlyphs">+ strand</text>
<text x="140.3" y="1843.5" font-size="21" text-anchor="start" fill="#262626" stroke="#262626" textLength="71.4" lengthAdjust="spacingAndGlyphs">- strand</text>
<line x1="154" y1="2102.8" x2="176" y2="2102.8" stroke="#a12a2a" stroke-width="1"/>
<line x1="264" y1="2102.8" x2="267" y2="2102.8" stroke="#a12a2a" stroke-width="1"/>
<line x1="307" y1="2102.8" x2="366" y2="2102.8" stroke="#a12a2a" stroke-width="1"/>
<line x1="385" y1="2102.8" x2="428" y2="2102.8" stroke="#a12a2a" stroke-width="1"/>
<line x1="440" y1="2102.8" x2="520" y2="2102.8" stroke="#a12a2a" stroke-width="1"/>
<line x1="500" y1="2102.8" x2="534" y2="2102.8" stroke="#a12a2a" stroke-width="1"/>
<line x1="634.6" y1="2102.8" x2="720.8" y2="2102.8" stroke="#a12a2a" stroke-width="1"/>
<line x1="736" y1="2102.8" x2="768" y2="2102.8" stroke="#a12a2a" stroke-width="1"/>
<line x1="853" y1="2102.8" x2="984" y2="2102.8" stroke="#a12a2a" stroke-width="1"/>
<line x1="1134" y1="2102.8" x2="1230" y2="2102.8" stroke="#a12a2a" stroke-width="1"/>
<rect x="151" y="2084.5" width="3.3" height="36.5" fill="#a12a2a"/>
<rect x="157.3" y="2084.5" width="2.2" height="36.5" fill="#a12a2a"/>
<rect x="175.6" y="2084.5" width="9.7" height="36.5" fill="#a12a2a"/>
<rect x="262.7" y="2084.5" width="1.6" height="36.5" fill="#a12a2a"/>
<rect x="266.7" y="2084.5" width="5.8" height="36.5" fill="#a12a2a"/>
<rect x="288" y="2084.5" width="5.7" height="36.5" fill="#a12a2a"/>
<rect x="305.3" y="2084.5" width="2.1" height="36.5" fill="#a12a2a"/>
<rect x="312.9" y="2084.5" width="12.1" height="36.5" fill="#a12a2a"/>
<rect x="328" y="2084.5" width="11.6" height="36.5" fill="#a12a2a"/>
<rect x="343.3" y="2084.5" width="2.4" height="36.5" fill="#a12a2a"/>
<rect x="352.4" y="2084.5" width="2.4" height="36.5" fill="#a12a2a"/>
<rect x="357.8" y="2084.5" width="1.7" height="36.5" fill="#a12a2a"/>
<rect x="360.8" y="2084.5" width="1.5" height="36.5" fill="#a12a2a"/>
<rect x="363.6" y="2084.5" width="2.4" height="36.5" fill="#a12a2a"/>
<rect x="381.2" y="2084.5" width="3.9" height="36.5" fill="#a12a2a"/>
<rect x="396.4" y="2084.5" width="1.6" height="36.5" fill="#a12a2a"/>
<rect x="411.6" y="2084.5" width="2.4" height="36.5" fill="#a12a2a"/>
<rect x="415.3" y="2084.5" width="2.2" height="36.5" fill="#a12a2a"/>
<rect x="418.8" y="2084.5" width="2.2" height="36.5" fill="#a12a2a"/>
<rect x="422.3" y="2084.5" width="2.2" height="36.5" fill="#a12a2a"/>
<rect x="426" y="2084.5" width="2.3" height="36.5" fill="#a12a2a"/>
<rect x="437.4" y="2084.5" width="2.5" height="36.5" fill="#a12a2a"/>
<rect x="451" y="2084.5" width="1.5" height="36.5" fill="#a12a2a"/>
<rect x="461.7" y="2084.5" width="1.5" height="36.5" fill="#a12a2a"/>
<rect x="486" y="2084.5" width="3.6" height="36.5" fill="#a12a2a"/>
<rect x="492" y="2084.5" width="3" height="36.5" fill="#a12a2a"/>
<rect x="497.2" y="2084.5" width="2.4" height="36.5" fill="#a12a2a"/>
<rect x="517.9" y="2084.5" width="2.1" height="36.5" fill="#a12a2a"/>
<rect x="518.2" y="2084.5" width="9.8" height="36.5" fill="#a12a2a"/>
<rect x="534" y="2084.5" width="16.1" height="36.5" fill="#a12a2a"/>
<rect x="634.6" y="2084.5" width="3.6" height="36.5" fill="#a12a2a"/>
<rect x="641.2" y="2084.5" width="1.6" height="36.5" fill="#a12a2a"/>
<rect x="645.8" y="2084.5" width="2.1" height="36.5" fill="#a12a2a"/>
<rect x="649.7" y="2084.5" width="2.2" height="36.5" fill="#a12a2a"/>
<rect x="657.9" y="2084.5" width="3.1" height="36.5" fill="#a12a2a"/>
<rect x="665.5" y="2084.5" width="1.5" height="36.5" fill="#a12a2a"/>
<rect x="676.2" y="2084.5" width="9.7" height="36.5" fill="#a12a2a"/>
<rect x="691.4" y="2084.5" width="10.6" height="36.5" fill="#a12a2a"/>
<rect x="718.7" y="2084.5" width="2.1" height="36.5" fill="#a12a2a"/>
<rect x="736.3" y="2084.5" width="3.7" height="36.5" fill="#a12a2a"/>
<rect x="743" y="2084.5" width="2.4" height="36.5" fill="#a12a2a"/>
<rect x="749" y="2084.5" width="4.6" height="36.5" fill="#a12a2a"/>
<rect x="757.6" y="2084.5" width="2.2" height="36.5" fill="#a12a2a"/>
<rect x="761.8" y="2084.5" width="6.1" height="36.5" fill="#a12a2a"/>
<rect x="850.8" y="2084.5" width="2.4" height="36.5" fill="#a12a2a"/>
<rect x="885.2" y="2084.5" width="11.2" height="36.5" fill="#a12a2a"/>
<rect x="900.9" y="2084.5" width="3.7" height="36.5" fill="#a12a2a"/>
<rect x="914.6" y="2084.5" width="2.2" height="36.5" fill="#a12a2a"/>
<rect x="925.2" y="2084.5" width="2.4" height="36.5" fill="#a12a2a"/>
<rect x="934.3" y="2084.5" width="6.1" height="36.5" fill="#a12a2a"/>
<rect x="961.1" y="2084.5" width="2.1" height="36.5" fill="#a12a2a"/>
<rect x="966.2" y="2084.5" width="2.2" height="36.5" fill="#a12a2a"/>
<rect x="983.6" y="2084.5" width="20.6" height="36.5" fill="#a12a2a"/>
<rect x="1104.8" y="2084.5" width="3.6" height="36.5" fill="#a12a2a"/>
<rect x="1129" y="2084.5" width="5.6" height="36.5" fill="#a12a2a"/>
<rect x="1145.8" y="2084.5" width="2.1" height="36.5" fill="#a12a2a"/>
<rect x="1160.4" y="2084.5" width="3.6" height="36.5" fill="#a12a2a"/>
<rect x="1166.5" y="2084.5" width="5.7" height="36.5" fill="#a12a2a"/>
<rect x="1179.8" y="2084.5" width="14.6" height="36.5" fill="#a12a2a"/>
<rect x="1197.4" y="2084.5" width="1.9" height="36.5" fill="#a12a2a"/>
<rect x="1202" y="2084.5" width="3.6" height="36.5" fill="#a12a2a"/>
<rect x="1227.2" y="2084.5" width="9.1" height="36.5" fill="#a12a2a"/>
<rect x="1278" y="2084.5" width="3.6" height="36.5" fill="#a12a2a"/>
<rect x="1388.2" y="2084.5" width="2.1" height="36.5" fill="#a12a2a"/>
<rect x="1393.4" y="2084.5" width="1.5" height="36.5" fill="#a12a2a"/>
<rect x="1404.9" y="2084.5" width="2.1" height="36.5" fill="#a12a2a"/>
<line x1="560.7" y1="2151.4" x2="634.6" y2="2151.4" stroke="#a12a2a" stroke-width="1"/>
<line x1="975" y1="2151.4" x2="981" y2="2151.4" stroke="#a12a2a" stroke-width="1"/>
<rect x="288.5" y="2133.1" width="4.6" height="36.5" fill="#a12a2a"/>
<rect x="505.7" y="2133.1" width="2.3" height="36.5" fill="#a12a2a"/>
<rect x="549.2" y="2133.1" width="11.5" height="36.5" fill="#a12a2a"/>
<rect x="578.4" y="2133.1" width="2.1" height="36.5" fill="#a12a2a"/>
<rect x="585" y="2133.1" width="3.7" height="36.5" fill="#a12a2a"/>
<rect x="594.2" y="2133.1" width="6.6" height="36.5" fill="#a12a2a"/>
<rect x="607.8" y="2133.1" width="2.2" height="36.5" fill="#a12a2a"/>
<rect x="634.6" y="2133.1" width="2.1" height="36.5" fill="#a12a2a"/>
<rect x="654.9" y="2133.1" width="2.1" height="36.5" fill="#a12a2a"/>
<rect x="705.3" y="2133.1" width="2.5" height="36.5" fill="#a12a2a"/>
<rect x="954" y="2133.1" width="2.2" height="36.5" fill="#a12a2a"/>
<rect x="973" y="2133.1" width="2.3" height="36.5" fill="#a12a2a"/>
<rect x="980.8" y="2133.1" width="3.7" height="36.5" fill="#a12a2a"/>
<rect x="1187.4" y="2133.1" width="1.6" height="36.5" fill="#a12a2a"/>
<rect x="124.5" y="2222" width="1360" height="3.4" fill="#c2c2c2"/>
<path d="M124.5 2223.7l5 -3v6z M1484.5 2223.7l-5 -3v6z" fill="#b0b0b0"/>
<line x1="296.5" y1="2219.5" x2="296.5" y2="2222" stroke="#999" stroke-width="1"/>
<line x1="764.3" y1="2219.5" x2="764.3" y2="2222" stroke="#999" stroke-width="1"/>
<line x1="1232.4" y1="2219.5" x2="1232.4" y2="2222" stroke="#999" stroke-width="1"/>
<line x1="530.4" y1="2225.4" x2="530.4" y2="2228" stroke="#999" stroke-width="1"/>
<line x1="998.1" y1="2225.4" x2="998.1" y2="2228" stroke="#999" stroke-width="1"/>
<line x1="1466.2" y1="2225.4" x2="1466.2" y2="2228" stroke="#999" stroke-width="1"/>
<text x="310" y="2212" font-size="17.5" text-anchor="middle" fill="#262626" stroke="#262626" textLength="64" lengthAdjust="spacingAndGlyphs">26.5 Mb</text>
<text x="765.8" y="2212" font-size="17.5" text-anchor="middle" fill="#262626" stroke="#262626" textLength="64" lengthAdjust="spacingAndGlyphs">26.7 Mb</text>
<text x="1233.3" y="2212" font-size="17.5" text-anchor="middle" fill="#262626" stroke="#262626" textLength="64" lengthAdjust="spacingAndGlyphs">26.9 Mb</text>
<text x="531" y="2248" font-size="17.5" text-anchor="middle" fill="#262626" stroke="#262626" textLength="64" lengthAdjust="spacingAndGlyphs">26.6 Mb</text>
<text x="998" y="2248" font-size="17.5" text-anchor="middle" fill="#262626" stroke="#262626" textLength="64" lengthAdjust="spacingAndGlyphs">26.8 Mb</text>
<text x="1233.9" y="2248" font-size="17.5" text-anchor="middle" fill="#262626" stroke="#262626" textLength="64" lengthAdjust="spacingAndGlyphs">27.0 Mb</text>
<text transform="matrix(1.05 0 0 1 40.65 1612.09)" font-size="51.16" fill="#111">d</text>
<line x1="1628.3" y1="2020.9" x2="2003.7" y2="2020.9" stroke="#777" stroke-width="1.3"/>
<rect x="1649.04" y="2020.26" width="14.79" height="0.64" fill="#e9e4a1"/>
<rect x="1663.84" y="2020.26" width="14.79" height="0.64" fill="#e9e4a1"/>
<rect x="1678.63" y="2019.94" width="14.79" height="0.96" fill="#e9e4a1"/>
<rect x="1693.43" y="2019.3" width="14.79" height="1.6" fill="#e9e4a1"/>
<rect x="1708.22" y="2016.43" width="14.79" height="4.47" fill="#e9e4a1"/>
<rect x="1723.02" y="2008.99" width="14.79" height="11.91" fill="#e9e4a1"/>
<rect x="1737.81" y="1995.6" width="14.79" height="25.3" fill="#e9e4a1"/>
<rect x="1752.61" y="1984.23" width="14.79" height="36.67" fill="#e9e4a1"/>
<rect x="1767.4" y="1980.69" width="14.79" height="40.21" fill="#e9e4a1"/>
<rect x="1782.2" y="1977.69" width="14.79" height="43.21" fill="#e9e4a1"/>
<rect x="1796.99" y="1974.11" width="14.79" height="46.79" fill="#e9e4a1"/>
<rect x="1811.79" y="1965.8" width="14.79" height="55.1" fill="#e9e4a1"/>
<rect x="1826.58" y="1971.71" width="14.79" height="49.19" fill="#c9d79c"/>
<rect x="1826.58" y="1803.39" width="14.79" height="168.32" fill="#bfe1dc"/>
<rect x="1841.38" y="1970.21" width="14.79" height="50.69" fill="#c9d79c"/>
<rect x="1841.38" y="1918.69" width="14.79" height="51.52" fill="#bfe1dc"/>
<rect x="1856.17" y="1974.11" width="14.79" height="46.79" fill="#c9d79c"/>
<rect x="1856.17" y="1956.8" width="14.79" height="17.31" fill="#bfe1dc"/>
<rect x="1870.97" y="1982.99" width="14.79" height="37.91" fill="#c9d79c"/>
<rect x="1870.97" y="1977.11" width="14.79" height="5.88" fill="#bfe1dc"/>
<rect x="1885.76" y="1992.6" width="14.79" height="28.3" fill="#c9d79c"/>
<rect x="1900.56" y="2000.01" width="14.79" height="20.89" fill="#c9d79c"/>
<rect x="1900.56" y="1999.4" width="14.79" height="0.61" fill="#bfe1dc"/>
<rect x="1915.35" y="2008.99" width="14.79" height="11.91" fill="#c9d79c"/>
<rect x="1915.35" y="2006.59" width="14.79" height="2.4" fill="#bfe1dc"/>
<rect x="1930.14" y="2015.5" width="14.79" height="5.4" fill="#c9d79c"/>
<rect x="1930.14" y="2008.99" width="14.79" height="6.52" fill="#bfe1dc"/>
<rect x="1944.94" y="2017.9" width="14.79" height="3" fill="#c9d79c"/>
<rect x="1944.94" y="2011.99" width="14.79" height="5.91" fill="#bfe1dc"/>
<rect x="1959.74" y="2019.4" width="14.79" height="1.5" fill="#c9d79c"/>
<rect x="1959.74" y="2017.04" width="14.79" height="2.36" fill="#bfe1dc"/>
<rect x="1974.53" y="2019.94" width="14.79" height="0.96" fill="#c9d79c"/>
<rect x="1974.53" y="2019.4" width="14.79" height="0.54" fill="#bfe1dc"/>
<rect x="1989.33" y="2020.26" width="14.79" height="0.64" fill="#c9d79c"/>
<rect x="1649.04" y="2020.26" width="14.79" height="0.64" fill="none" stroke="#5b6157" stroke-width="1.2"/>
<rect x="1663.84" y="2020.26" width="14.79" height="0.64" fill="none" stroke="#5b6157" stroke-width="1.2"/>
<rect x="1678.63" y="2019.94" width="14.79" height="0.96" fill="none" stroke="#5b6157" stroke-width="1.2"/>
<rect x="1693.43" y="2019.3" width="14.79" height="1.6" fill="none" stroke="#5b6157" stroke-width="1.2"/>
<rect x="1708.22" y="2016.43" width="14.79" height="4.47" fill="none" stroke="#5b6157" stroke-width="1.2"/>
<rect x="1723.02" y="2008.99" width="14.79" height="11.91" fill="none" stroke="#5b6157" stroke-width="1.2"/>
<rect x="1737.81" y="1995.6" width="14.79" height="25.3" fill="none" stroke="#5b6157" stroke-width="1.2"/>
<rect x="1752.61" y="1984.23" width="14.79" height="36.67" fill="none" stroke="#5b6157" stroke-width="1.2"/>
<rect x="1767.4" y="1980.69" width="14.79" height="40.21" fill="none" stroke="#5b6157" stroke-width="1.2"/>
<rect x="1782.2" y="1977.69" width="14.79" height="43.21" fill="none" stroke="#5b6157" stroke-width="1.2"/>
<rect x="1796.99" y="1974.11" width="14.79" height="46.79" fill="none" stroke="#5b6157" stroke-width="1.2"/>
<rect x="1811.79" y="1965.8" width="14.79" height="55.1" fill="none" stroke="#5b6157" stroke-width="1.2"/>
<rect x="1826.58" y="1803.39" width="14.79" height="217.51" fill="none" stroke="#5b6157" stroke-width="1.2"/>
<rect x="1826.58" y="1971.71" width="14.79" height="49.19" fill="none" stroke="#5b6157" stroke-width="1.2"/>
<rect x="1841.38" y="1918.69" width="14.79" height="102.21" fill="none" stroke="#5b6157" stroke-width="1.2"/>
<rect x="1841.38" y="1970.21" width="14.79" height="50.69" fill="none" stroke="#5b6157" stroke-width="1.2"/>
<rect x="1856.17" y="1956.8" width="14.79" height="64.1" fill="none" stroke="#5b6157" stroke-width="1.2"/>
<rect x="1856.17" y="1974.11" width="14.79" height="46.79" fill="none" stroke="#5b6157" stroke-width="1.2"/>
<rect x="1870.97" y="1977.11" width="14.79" height="43.79" fill="none" stroke="#5b6157" stroke-width="1.2"/>
<rect x="1870.97" y="1982.99" width="14.79" height="37.91" fill="none" stroke="#5b6157" stroke-width="1.2"/>
<rect x="1885.76" y="1992.6" width="14.79" height="28.3" fill="none" stroke="#5b6157" stroke-width="1.2"/>
<rect x="1885.76" y="1992.6" width="14.79" height="28.3" fill="none" stroke="#5b6157" stroke-width="1.2"/>
<rect x="1900.56" y="1999.4" width="14.79" height="21.5" fill="none" stroke="#5b6157" stroke-width="1.2"/>
<rect x="1900.56" y="2000.01" width="14.79" height="20.89" fill="none" stroke="#5b6157" stroke-width="1.2"/>
<rect x="1915.35" y="2006.59" width="14.79" height="14.31" fill="none" stroke="#5b6157" stroke-width="1.2"/>
<rect x="1915.35" y="2008.99" width="14.79" height="11.91" fill="none" stroke="#5b6157" stroke-width="1.2"/>
<rect x="1930.14" y="2008.99" width="14.79" height="11.91" fill="none" stroke="#5b6157" stroke-width="1.2"/>
<rect x="1930.14" y="2015.5" width="14.79" height="5.4" fill="none" stroke="#5b6157" stroke-width="1.2"/>
<rect x="1944.94" y="2011.99" width="14.79" height="8.91" fill="none" stroke="#5b6157" stroke-width="1.2"/>
<rect x="1944.94" y="2017.9" width="14.79" height="3" fill="none" stroke="#5b6157" stroke-width="1.2"/>
<rect x="1959.74" y="2017.04" width="14.79" height="3.86" fill="none" stroke="#5b6157" stroke-width="1.2"/>
<rect x="1959.74" y="2019.4" width="14.79" height="1.5" fill="none" stroke="#5b6157" stroke-width="1.2"/>
<rect x="1974.53" y="2019.4" width="14.79" height="1.5" fill="none" stroke="#5b6157" stroke-width="1.2"/>
<rect x="1974.53" y="2019.94" width="14.79" height="0.96" fill="none" stroke="#5b6157" stroke-width="1.2"/>
<rect x="1989.33" y="2020.26" width="14.79" height="0.64" fill="none" stroke="#5b6157" stroke-width="1.2"/>
<rect x="1989.33" y="2020.26" width="14.79" height="0.64" fill="none" stroke="#5b6157" stroke-width="1.2"/>
<line x1="1634.9" y1="1701.5" x2="1634.9" y2="2020.9" stroke="#8a8a8a" stroke-width="1.3"/>
<line x1="1630.9" y1="1701.5" x2="1634.9" y2="1701.5" stroke="#8a8a8a" stroke-width="1.3"/>
<line x1="1630.9" y1="1765.38" x2="1634.9" y2="1765.38" stroke="#8a8a8a" stroke-width="1.3"/>
<line x1="1630.9" y1="1829.26" x2="1634.9" y2="1829.26" stroke="#8a8a8a" stroke-width="1.3"/>
<line x1="1630.9" y1="1893.14" x2="1634.9" y2="1893.14" stroke="#8a8a8a" stroke-width="1.3"/>
<line x1="1630.9" y1="1957.02" x2="1634.9" y2="1957.02" stroke="#8a8a8a" stroke-width="1.3"/>
<line x1="1630.9" y1="2020.9" x2="1634.9" y2="2020.9" stroke="#8a8a8a" stroke-width="1.3"/>
<text x="1617.3" y="1701.5" font-size="17.5" text-anchor="middle" fill="#262626" stroke="#262626" transform="rotate(-90 1617.3 1701.5)">10000</text>
<text x="1617.3" y="1765.38" font-size="17.5" text-anchor="middle" fill="#262626" stroke="#262626" transform="rotate(-90 1617.3 1765.38)">8000</text>
<text x="1617.3" y="1829.26" font-size="17.5" text-anchor="middle" fill="#262626" stroke="#262626" transform="rotate(-90 1617.3 1829.26)">6000</text>
<text x="1617.3" y="1893.14" font-size="17.5" text-anchor="middle" fill="#262626" stroke="#262626" transform="rotate(-90 1617.3 1893.14)">4000</text>
<text x="1617.3" y="1957.02" font-size="17.5" text-anchor="middle" fill="#262626" stroke="#262626" transform="rotate(-90 1617.3 1957.02)">2000</text>
<text x="1617.3" y="2020.9" font-size="17.5" text-anchor="middle" fill="#262626" stroke="#262626" transform="rotate(-90 1617.3 2020.9)">0</text>
<line x1="1649.04" y1="2033.4" x2="2004.12" y2="2033.4" stroke="#8a8a8a" stroke-width="1.3"/>
<line x1="1649.04" y1="2033.4" x2="1649.04" y2="2037.4" stroke="#8a8a8a" stroke-width="1.3"/>
<line x1="1708.22" y1="2033.4" x2="1708.22" y2="2037.4" stroke="#8a8a8a" stroke-width="1.3"/>
<line x1="1767.4" y1="2033.4" x2="1767.4" y2="2037.4" stroke="#8a8a8a" stroke-width="1.3"/>
<line x1="1826.58" y1="2033.4" x2="1826.58" y2="2037.4" stroke="#8a8a8a" stroke-width="1.3"/>
<line x1="1885.76" y1="2033.4" x2="1885.76" y2="2037.4" stroke="#8a8a8a" stroke-width="1.3"/>
<line x1="1944.94" y1="2033.4" x2="1944.94" y2="2037.4" stroke="#8a8a8a" stroke-width="1.3"/>
<line x1="2004.12" y1="2033.4" x2="2004.12" y2="2037.4" stroke="#8a8a8a" stroke-width="1.3"/>
<text x="1649.04" y="2061" font-size="17.5" text-anchor="middle" fill="#262626" stroke="#262626">−4</text>
<text x="1708.22" y="2061" font-size="17.5" text-anchor="middle" fill="#262626" stroke="#262626">−2</text>
<text x="1767.4" y="2061" font-size="17.5" text-anchor="middle" fill="#262626" stroke="#262626">0</text>
<text x="1826.58" y="2061" font-size="17.5" text-anchor="middle" fill="#262626" stroke="#262626">2</text>
<text x="1885.76" y="2061" font-size="17.5" text-anchor="middle" fill="#262626" stroke="#262626">4</text>
<text x="1944.94" y="2061" font-size="17.5" text-anchor="middle" fill="#262626" stroke="#262626">6</text>
<text x="2004.12" y="2061" font-size="17.5" text-anchor="middle" fill="#262626" stroke="#262626">8</text>
<text x="1837.3" y="1651.5" font-size="19.5" text-anchor="middle" fill="#262626" stroke="#262626" textLength="210.6" lengthAdjust="spacingAndGlyphs">K562 specific raQTLs</text>
<rect x="1661.5" y="1713" width="10.5" height="10.5" fill="#bfe1dc" stroke="#6d7a77" stroke-width="1.2"/>
<rect x="1661.5" y="1733.6" width="10.5" height="10.5" fill="#e9e4a1" stroke="#7f7a5c" stroke-width="1.2"/>
<text x="1685.5" y="1723.9" font-size="22" text-anchor="start" fill="#262626" stroke="#262626" textLength="203.5" lengthAdjust="spacingAndGlyphs">SuRE signal in K562</text>
<text x="1685.5" y="1745.3" font-size="22" text-anchor="start" fill="#262626" stroke="#262626" textLength="221.3" lengthAdjust="spacingAndGlyphs">SuRE signal in HepG2</text>
<text x="1592" y="1835.4" font-size="22" text-anchor="middle" fill="#262626" stroke="#262626" textLength="102.8" lengthAdjust="spacingAndGlyphs" transform="rotate(-90 1592 1835.4)">Frequency</text>
<text x="1835.3" y="2091.3" font-size="22" text-anchor="middle" fill="#262626" stroke="#262626" textLength="300" lengthAdjust="spacingAndGlyphs">SuRE signal of strongest allele</text>
<text transform="matrix(0.94 0 0 1 1536.92 1612.6)" font-size="51.86" fill="#111">k</text>
<line x1="1625.3" y1="2494.9" x2="2000.7" y2="2494.9" stroke="#777" stroke-width="1.3"/>
<rect x="1703.96" y="2494" width="14.81" height="0.9" fill="#bfe1dc"/>
<rect x="1718.77" y="2489.49" width="14.81" height="5.41" fill="#bfe1dc"/>
<rect x="1733.58" y="2468.7" width="14.81" height="26.2" fill="#bfe1dc"/>
<rect x="1748.39" y="2430.84" width="14.81" height="64.06" fill="#bfe1dc"/>
<rect x="1763.2" y="2404.59" width="14.81" height="90.31" fill="#bfe1dc"/>
<rect x="1778.01" y="2384.39" width="14.81" height="110.51" fill="#bfe1dc"/>
<rect x="1792.82" y="2385.92" width="14.81" height="108.98" fill="#bfe1dc"/>
<rect x="1807.63" y="2401.04" width="14.81" height="93.86" fill="#bfe1dc"/>
<rect x="1822.44" y="2459.1" width="14.81" height="35.8" fill="#c9d79c"/>
<rect x="1822.44" y="2286.39" width="14.81" height="172.72" fill="#e9e4a1"/>
<rect x="1837.25" y="2471.62" width="14.81" height="23.28" fill="#c9d79c"/>
<rect x="1837.25" y="2346.52" width="14.81" height="125.1" fill="#e9e4a1"/>
<rect x="1852.06" y="2481.48" width="14.81" height="13.42" fill="#c9d79c"/>
<rect x="1852.06" y="2389.69" width="14.81" height="91.79" fill="#e9e4a1"/>
<rect x="1866.87" y="2486.52" width="14.81" height="8.38" fill="#c9d79c"/>
<rect x="1866.87" y="2435.29" width="14.81" height="51.23" fill="#e9e4a1"/>
<rect x="1881.68" y="2490.39" width="14.81" height="4.51" fill="#c9d79c"/>
<rect x="1881.68" y="2459.69" width="14.81" height="30.7" fill="#e9e4a1"/>
<rect x="1896.49" y="2492.51" width="14.81" height="2.39" fill="#c9d79c"/>
<rect x="1896.49" y="2475.49" width="14.81" height="17.02" fill="#e9e4a1"/>
<rect x="1911.3" y="2494" width="14.81" height="0.9" fill="#c9d79c"/>
<rect x="1911.3" y="2486.52" width="14.81" height="7.48" fill="#e9e4a1"/>
<rect x="1926.11" y="2490.39" width="14.81" height="4.51" fill="#e9e4a1"/>
<rect x="1940.92" y="2492.78" width="14.81" height="2.12" fill="#e9e4a1"/>
<rect x="1955.73" y="2494" width="14.81" height="0.9" fill="#e9e4a1"/>
<rect x="1703.96" y="2494" width="14.81" height="0.9" fill="none" stroke="#5b6157" stroke-width="1.2"/>
<rect x="1718.77" y="2489.49" width="14.81" height="5.41" fill="none" stroke="#5b6157" stroke-width="1.2"/>
<rect x="1733.58" y="2468.7" width="14.81" height="26.2" fill="none" stroke="#5b6157" stroke-width="1.2"/>
<rect x="1748.39" y="2430.84" width="14.81" height="64.06" fill="none" stroke="#5b6157" stroke-width="1.2"/>
<rect x="1763.2" y="2404.59" width="14.81" height="90.31" fill="none" stroke="#5b6157" stroke-width="1.2"/>
<rect x="1778.01" y="2384.39" width="14.81" height="110.51" fill="none" stroke="#5b6157" stroke-width="1.2"/>
<rect x="1792.82" y="2385.92" width="14.81" height="108.98" fill="none" stroke="#5b6157" stroke-width="1.2"/>
<rect x="1807.63" y="2401.04" width="14.81" height="93.86" fill="none" stroke="#5b6157" stroke-width="1.2"/>
<rect x="1822.44" y="2459.1" width="14.81" height="35.8" fill="none" stroke="#5b6157" stroke-width="1.2"/>
<rect x="1822.44" y="2286.39" width="14.81" height="208.51" fill="none" stroke="#5b6157" stroke-width="1.2"/>
<rect x="1837.25" y="2471.62" width="14.81" height="23.28" fill="none" stroke="#5b6157" stroke-width="1.2"/>
<rect x="1837.25" y="2346.52" width="14.81" height="148.38" fill="none" stroke="#5b6157" stroke-width="1.2"/>
<rect x="1852.06" y="2481.48" width="14.81" height="13.42" fill="none" stroke="#5b6157" stroke-width="1.2"/>
<rect x="1852.06" y="2389.69" width="14.81" height="105.21" fill="none" stroke="#5b6157" stroke-width="1.2"/>
<rect x="1866.87" y="2486.52" width="14.81" height="8.38" fill="none" stroke="#5b6157" stroke-width="1.2"/>
<rect x="1866.87" y="2435.29" width="14.81" height="59.61" fill="none" stroke="#5b6157" stroke-width="1.2"/>
<rect x="1881.68" y="2490.39" width="14.81" height="4.51" fill="none" stroke="#5b6157" stroke-width="1.2"/>
<rect x="1881.68" y="2459.69" width="14.81" height="35.21" fill="none" stroke="#5b6157" stroke-width="1.2"/>
<rect x="1896.49" y="2492.51" width="14.81" height="2.39" fill="none" stroke="#5b6157" stroke-width="1.2"/>
<rect x="1896.49" y="2475.49" width="14.81" height="19.41" fill="none" stroke="#5b6157" stroke-width="1.2"/>
<rect x="1911.3" y="2494" width="14.81" height="0.9" fill="none" stroke="#5b6157" stroke-width="1.2"/>
<rect x="1911.3" y="2486.52" width="14.81" height="8.38" fill="none" stroke="#5b6157" stroke-width="1.2"/>
<rect x="1926.11" y="2490.39" width="14.81" height="4.51" fill="none" stroke="#5b6157" stroke-width="1.2"/>
<rect x="1940.92" y="2492.78" width="14.81" height="2.12" fill="none" stroke="#5b6157" stroke-width="1.2"/>
<rect x="1955.73" y="2494" width="14.81" height="0.9" fill="none" stroke="#5b6157" stroke-width="1.2"/>
<line x1="1632.2" y1="2176.72" x2="1632.2" y2="2494.9" stroke="#8a8a8a" stroke-width="1.3"/>
<line x1="1628.2" y1="2176.72" x2="1632.2" y2="2176.72" stroke="#8a8a8a" stroke-width="1.3"/>
<line x1="1628.2" y1="2229.75" x2="1632.2" y2="2229.75" stroke="#8a8a8a" stroke-width="1.3"/>
<line x1="1628.2" y1="2282.78" x2="1632.2" y2="2282.78" stroke="#8a8a8a" stroke-width="1.3"/>
<line x1="1628.2" y1="2335.81" x2="1632.2" y2="2335.81" stroke="#8a8a8a" stroke-width="1.3"/>
<line x1="1628.2" y1="2388.84" x2="1632.2" y2="2388.84" stroke="#8a8a8a" stroke-width="1.3"/>
<line x1="1628.2" y1="2441.87" x2="1632.2" y2="2441.87" stroke="#8a8a8a" stroke-width="1.3"/>
<line x1="1628.2" y1="2494.9" x2="1632.2" y2="2494.9" stroke="#8a8a8a" stroke-width="1.3"/>
<text x="1614.8" y="2176.72" font-size="17.5" text-anchor="middle" fill="#262626" stroke="#262626" transform="rotate(-90 1614.8 2176.72)">6000</text>
<text x="1614.8" y="2229.75" font-size="17.5" text-anchor="middle" fill="#262626" stroke="#262626" transform="rotate(-90 1614.8 2229.75)">5000</text>
<text x="1614.8" y="2282.78" font-size="17.5" text-anchor="middle" fill="#262626" stroke="#262626" transform="rotate(-90 1614.8 2282.78)">4000</text>
<text x="1614.8" y="2335.81" font-size="17.5" text-anchor="middle" fill="#262626" stroke="#262626" transform="rotate(-90 1614.8 2335.81)">3000</text>
<text x="1614.8" y="2388.84" font-size="17.5" text-anchor="middle" fill="#262626" stroke="#262626" transform="rotate(-90 1614.8 2388.84)">2000</text>
<text x="1614.8" y="2441.87" font-size="17.5" text-anchor="middle" fill="#262626" stroke="#262626" transform="rotate(-90 1614.8 2441.87)">1000</text>
<text x="1614.8" y="2494.9" font-size="17.5" text-anchor="middle" fill="#262626" stroke="#262626" transform="rotate(-90 1614.8 2494.9)">0</text>
<line x1="1644.72" y1="2508.3" x2="2000.16" y2="2508.3" stroke="#8a8a8a" stroke-width="1.3"/>
<line x1="1644.72" y1="2508.3" x2="1644.72" y2="2512.3" stroke="#8a8a8a" stroke-width="1.3"/>
<line x1="1703.96" y1="2508.3" x2="1703.96" y2="2512.3" stroke="#8a8a8a" stroke-width="1.3"/>
<line x1="1763.2" y1="2508.3" x2="1763.2" y2="2512.3" stroke="#8a8a8a" stroke-width="1.3"/>
<line x1="1822.44" y1="2508.3" x2="1822.44" y2="2512.3" stroke="#8a8a8a" stroke-width="1.3"/>
<line x1="1881.68" y1="2508.3" x2="1881.68" y2="2512.3" stroke="#8a8a8a" stroke-width="1.3"/>
<line x1="1940.92" y1="2508.3" x2="1940.92" y2="2512.3" stroke="#8a8a8a" stroke-width="1.3"/>
<line x1="2000.16" y1="2508.3" x2="2000.16" y2="2512.3" stroke="#8a8a8a" stroke-width="1.3"/>
<text x="1644.72" y="2535.1" font-size="17.5" text-anchor="middle" fill="#262626" stroke="#262626">−4</text>
<text x="1703.96" y="2535.1" font-size="17.5" text-anchor="middle" fill="#262626" stroke="#262626">−2</text>
<text x="1763.2" y="2535.1" font-size="17.5" text-anchor="middle" fill="#262626" stroke="#262626">0</text>
<text x="1822.44" y="2535.1" font-size="17.5" text-anchor="middle" fill="#262626" stroke="#262626">2</text>
<text x="1881.68" y="2535.1" font-size="17.5" text-anchor="middle" fill="#262626" stroke="#262626">4</text>
<text x="1940.92" y="2535.1" font-size="17.5" text-anchor="middle" fill="#262626" stroke="#262626">6</text>
<text x="2000.16" y="2535.1" font-size="17.5" text-anchor="middle" fill="#262626" stroke="#262626">8</text>
<text x="1826.4" y="2169.3" font-size="19.5" text-anchor="middle" fill="#262626" stroke="#262626" textLength="229.4" lengthAdjust="spacingAndGlyphs">HepG2 specific raQTLs</text>
<rect x="1658.3" y="2189" width="10.5" height="10.5" fill="#bfe1dc" stroke="#6d7a77" stroke-width="1.2"/>
<rect x="1658.3" y="2209.8" width="10.5" height="10.5" fill="#e9e4a1" stroke="#7f7a5c" stroke-width="1.2"/>
<text x="1682.5" y="2199.1" font-size="22" text-anchor="start" fill="#262626" stroke="#262626" textLength="202" lengthAdjust="spacingAndGlyphs">SuRE signal in K562</text>
<text x="1682.5" y="2219.9" font-size="22" text-anchor="start" fill="#262626" stroke="#262626" textLength="220.5" lengthAdjust="spacingAndGlyphs">SuRE signal in HepG2</text>
<text x="1589" y="2310" font-size="22" text-anchor="middle" fill="#262626" stroke="#262626" textLength="102.7" lengthAdjust="spacingAndGlyphs" transform="rotate(-90 1589 2310)">Frequency</text>
<text x="1842.7" y="2570" font-size="22" text-anchor="middle" fill="#262626" stroke="#262626" textLength="300.9" lengthAdjust="spacingAndGlyphs">SuRE signal of strongest allele</text>
<text transform="matrix(1.02 0 0 1 1543.41 2160.8)" font-size="51.17" fill="#111">l</text>
<rect x="0" y="2575.6" width="2047" height="1.6" fill="#cfcfcf"/>
<rect x="0" y="2577.2" width="2047" height="0.8" fill="#f0f0f0"/>
</svg>
</body></html>
